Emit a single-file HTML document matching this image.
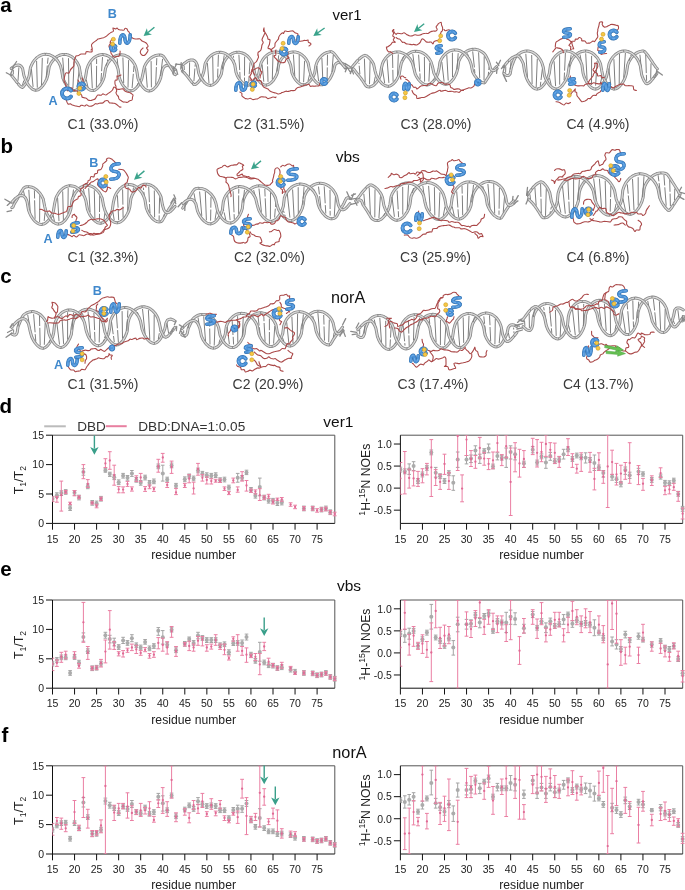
<!DOCTYPE html>
<html><head><meta charset="utf-8"><style>
html,body{margin:0;padding:0;background:#fff;width:685px;height:890px;overflow:hidden}
svg{display:block;font-family:"Liberation Sans", sans-serif;will-change:transform}
</style></head><body>
<svg width="685" height="890" viewBox="0 0 685 890">
<path d="M35.9 90.2 L36.9 90.1 L37.9 89.8 L38.9 89.3 L39.9 88.6 L41.0 87.7 L42.0 86.6 L43.1 85.2 L44.3 83.6 L45.4 81.6 L46.7 79.0 L47.9 74.9 L49.2 66.9 L50.5 64.0 L51.9 61.8 L53.3 60.0 L54.7 58.5 L56.1 57.3 L57.6 56.3 L59.1 55.5 L60.5 55.0 L62.1 54.6 L63.6 54.4" stroke="#888888" stroke-width="3.0" fill="none" stroke-linejoin="round" stroke-linecap="round"/>
<path d="M35.9 90.2 L36.9 90.1 L37.9 89.8 L38.9 89.3 L39.9 88.6 L41.0 87.7 L42.0 86.6 L43.1 85.2 L44.3 83.6 L45.4 81.6 L46.7 79.0 L47.9 74.9 L49.2 66.9 L50.5 64.0 L51.9 61.8 L53.3 60.0 L54.7 58.5 L56.1 57.3 L57.6 56.3 L59.1 55.5 L60.5 55.0 L62.1 54.6 L63.6 54.4" stroke="#dadada" stroke-width="1.3" fill="none" stroke-linejoin="round" stroke-linecap="round"/>
<path d="M93.3 90.5 L94.3 90.3 L95.3 89.8 L96.3 89.2 L97.4 88.3 L98.4 87.3 L99.5 86.0 L100.6 84.5 L101.8 82.6 L103.0 80.2 L104.2 76.8 L105.5 68.5 L106.9 65.1 L108.2 62.7 L109.6 60.8 L111.0 59.3 L112.4 58.0 L113.9 57.0 L115.3 56.1 L116.8 55.5 L118.3 55.1 L119.8 54.8" stroke="#888888" stroke-width="3.0" fill="none" stroke-linejoin="round" stroke-linecap="round"/>
<path d="M93.3 90.5 L94.3 90.3 L95.3 89.8 L96.3 89.2 L97.4 88.3 L98.4 87.3 L99.5 86.0 L100.6 84.5 L101.8 82.6 L103.0 80.2 L104.2 76.8 L105.5 68.5 L106.9 65.1 L108.2 62.7 L109.6 60.8 L111.0 59.3 L112.4 58.0 L113.9 57.0 L115.3 56.1 L116.8 55.5 L118.3 55.1 L119.8 54.8" stroke="#dadada" stroke-width="1.3" fill="none" stroke-linejoin="round" stroke-linecap="round"/>
<path d="M149.7 90.9 L150.7 90.7 L151.7 90.4 L152.7 89.8 L153.7 89.0 L154.8 88.0 L155.9 86.8 L157.0 85.3 L158.2 83.5 L159.3 81.3 L160.6 78.2 L162.1 70.7 L163.5 67.5 L165.0 66.1 L166.4 65.5 L167.9 65.5 L169.3 65.8 L170.8 66.4 L172.2 67.3 L173.6 68.4 L174.9 69.6" stroke="#888888" stroke-width="3.0" fill="none" stroke-linejoin="round" stroke-linecap="round"/>
<path d="M149.7 90.9 L150.7 90.7 L151.7 90.4 L152.7 89.8 L153.7 89.0 L154.8 88.0 L155.9 86.8 L157.0 85.3 L158.2 83.5 L159.3 81.3 L160.6 78.2 L162.1 70.7 L163.5 67.5 L165.0 66.1 L166.4 65.5 L167.9 65.5 L169.3 65.8 L170.8 66.4 L172.2 67.3 L173.6 68.4 L174.9 69.6" stroke="#dadada" stroke-width="1.3" fill="none" stroke-linejoin="round" stroke-linecap="round"/>
<path d="M18.3 84.0 L19.3 85.2 L20.3 86.2 L21.3 86.9 L22.3 87.4 L23.3 86.7 L24.4 85.4 L25.5 83.8 L26.7 81.9 L27.9 79.5 L29.1 76.0 L30.4 67.7 L31.8 64.4 L33.1 62.1 L34.5 60.2 L35.9 58.7 L37.3 57.4 L38.7 56.4 L40.2 55.6 L41.7 54.9 L43.2 54.5 L44.7 54.3" stroke="#888888" stroke-width="3.0" fill="none" stroke-linejoin="round" stroke-linecap="round"/>
<path d="M18.3 84.0 L19.3 85.2 L20.3 86.2 L21.3 86.9 L22.3 87.4 L23.3 86.7 L24.4 85.4 L25.5 83.8 L26.7 81.9 L27.9 79.5 L29.1 76.0 L30.4 67.7 L31.8 64.4 L33.1 62.1 L34.5 60.2 L35.9 58.7 L37.3 57.4 L38.7 56.4 L40.2 55.6 L41.7 54.9 L43.2 54.5 L44.7 54.3" stroke="#dadada" stroke-width="1.3" fill="none" stroke-linejoin="round" stroke-linecap="round"/>
<path d="M74.6 90.4 L75.6 90.2 L76.6 89.8 L77.6 89.2 L78.6 88.4 L79.7 87.4 L80.8 86.2 L81.9 84.7 L83.0 82.9 L84.2 80.7 L85.5 77.6 L86.8 69.5 L88.1 65.6 L89.4 63.1 L90.8 61.1 L92.2 59.5 L93.6 58.1 L95.0 57.0 L96.5 56.2 L98.0 55.5 L99.5 55.0 L101.0 54.7 L102.5 54.6" stroke="#888888" stroke-width="3.0" fill="none" stroke-linejoin="round" stroke-linecap="round"/>
<path d="M74.6 90.4 L75.6 90.2 L76.6 89.8 L77.6 89.2 L78.6 88.4 L79.7 87.4 L80.8 86.2 L81.9 84.7 L83.0 82.9 L84.2 80.7 L85.5 77.6 L86.8 69.5 L88.1 65.6 L89.4 63.1 L90.8 61.1 L92.2 59.5 L93.6 58.1 L95.0 57.0 L96.5 56.2 L98.0 55.5 L99.5 55.0 L101.0 54.7 L102.5 54.6" stroke="#dadada" stroke-width="1.3" fill="none" stroke-linejoin="round" stroke-linecap="round"/>
<path d="M131.0 90.8 L132.0 90.7 L133.0 90.3 L134.0 89.8 L135.0 89.1 L136.1 88.1 L137.1 87.0 L138.3 85.5 L139.4 83.8 L140.6 81.7 L141.8 79.0 L143.1 73.1 L144.4 66.9 L145.7 64.1 L147.1 62.0 L148.4 60.3 L149.9 58.9 L151.3 57.7 L152.8 56.8 L154.2 56.1 L155.7 55.5 L157.3 55.2 L158.8 55.0" stroke="#888888" stroke-width="3.0" fill="none" stroke-linejoin="round" stroke-linecap="round"/>
<path d="M131.0 90.8 L132.0 90.7 L133.0 90.3 L134.0 89.8 L135.0 89.1 L136.1 88.1 L137.1 87.0 L138.3 85.5 L139.4 83.8 L140.6 81.7 L141.8 79.0 L143.1 73.1 L144.4 66.9 L145.7 64.1 L147.1 62.0 L148.4 60.3 L149.9 58.9 L151.3 57.7 L152.8 56.8 L154.2 56.1 L155.7 55.5 L157.3 55.2 L158.8 55.0" stroke="#dadada" stroke-width="1.3" fill="none" stroke-linejoin="round" stroke-linecap="round"/>
<path d="M13.3 69.9L13.3 74.5M18.9 67.3L18.0 80.8M23.8 80.5L22.5 85.0M33.1 86.9L31.4 69.1M37.3 87.7L36.6 61.0M41.5 85.1L42.3 57.9M46.2 77.6L47.3 65.5M47.5 63.7L48.1 57.7M52.6 60.3L52.8 59.8M57.4 58.7L58.7 61.9M62.7 57.7L64.2 78.5M68.5 58.2L68.8 85.7M74.1 61.5L72.9 88.5M79.2 70.2L77.2 86.7M88.0 87.2L86.2 79.4M92.3 88.4L91.1 63.1M96.4 87.0L96.6 65.8M96.6 64.0L96.6 58.7M100.9 81.3L101.5 73.0M101.6 71.2L102.5 57.1M106.2 65.7L107.0 62.8M107.4 61.1L107.8 59.3M117.1 58.3L119.0 74.9M122.9 57.5L123.7 83.1M128.6 60.1L128.0 87.6M134.0 65.9L133.5 72.0M133.3 73.8L132.1 88.0M138.2 83.0L137.0 85.7M142.3 85.7L141.3 83.8M147.3 87.6L145.7 67.7M151.4 87.3L151.1 61.1M155.7 84.7L156.4 67.1M156.5 65.3L156.8 58.1M160.6 76.1L162.6 58.9" stroke="#7e7e7e" stroke-width="1.0" fill="none"/>
<path d="M11.2 68.5 L12.5 67.4 L14.0 66.4 L15.4 65.6 L16.8 65.2 L18.3 65.0 L19.7 65.3 L21.2 66.3 L22.6 68.4 L23.9 75.5 L25.3 79.3 L26.5 81.9 L27.6 83.8 L28.7 85.4 L29.8 86.7 L30.9 87.8 L31.9 88.7 L32.9 89.4 L33.9 89.8 L34.9 90.1" stroke="#888888" stroke-width="3.0" fill="none" stroke-linejoin="round" stroke-linecap="round"/>
<path d="M11.2 68.5 L12.5 67.4 L14.0 66.4 L15.4 65.6 L16.8 65.2 L18.3 65.0 L19.7 65.3 L21.2 66.3 L22.6 68.4 L23.9 75.5 L25.3 79.3 L26.5 81.9 L27.6 83.8 L28.7 85.4 L29.8 86.7 L30.9 87.8 L31.9 88.7 L32.9 89.4 L33.9 89.8 L34.9 90.1" stroke="#dadada" stroke-width="1.3" fill="none" stroke-linejoin="round" stroke-linecap="round"/>
<path d="M65.1 54.4 L66.6 54.6 L68.1 55.0 L69.6 55.6 L71.0 56.3 L72.5 57.3 L73.9 58.6 L75.3 60.0 L76.7 61.8 L78.0 64.0 L79.3 66.9 L80.5 74.6 L81.7 79.0 L82.8 81.7 L84.0 83.7 L85.1 85.4 L86.2 86.8 L87.2 87.9 L88.3 88.9 L89.3 89.6 L90.3 90.1 L91.3 90.4 L92.3 90.6" stroke="#888888" stroke-width="3.0" fill="none" stroke-linejoin="round" stroke-linecap="round"/>
<path d="M65.1 54.4 L66.6 54.6 L68.1 55.0 L69.6 55.6 L71.0 56.3 L72.5 57.3 L73.9 58.6 L75.3 60.0 L76.7 61.8 L78.0 64.0 L79.3 66.9 L80.5 74.6 L81.7 79.0 L82.8 81.7 L84.0 83.7 L85.1 85.4 L86.2 86.8 L87.2 87.9 L88.3 88.9 L89.3 89.6 L90.3 90.1 L91.3 90.4 L92.3 90.6" stroke="#dadada" stroke-width="1.3" fill="none" stroke-linejoin="round" stroke-linecap="round"/>
<path d="M121.3 54.8 L122.9 54.9 L124.4 55.2 L125.8 55.8 L127.3 56.5 L128.8 57.4 L130.2 58.6 L131.6 60.0 L133.0 61.7 L134.3 63.7 L135.6 66.4 L136.8 70.9 L138.0 78.5 L139.2 81.4 L140.4 83.6 L141.5 85.4 L142.6 86.8 L143.6 88.0 L144.7 89.0 L145.7 89.8 L146.7 90.4 L147.7 90.8 L148.7 90.9" stroke="#888888" stroke-width="3.0" fill="none" stroke-linejoin="round" stroke-linecap="round"/>
<path d="M121.3 54.8 L122.9 54.9 L124.4 55.2 L125.8 55.8 L127.3 56.5 L128.8 57.4 L130.2 58.6 L131.6 60.0 L133.0 61.7 L134.3 63.7 L135.6 66.4 L136.8 70.9 L138.0 78.5 L139.2 81.4 L140.4 83.6 L141.5 85.4 L142.6 86.8 L143.6 88.0 L144.7 89.0 L145.7 89.8 L146.7 90.4 L147.7 90.8 L148.7 90.9" stroke="#dadada" stroke-width="1.3" fill="none" stroke-linejoin="round" stroke-linecap="round"/>
<path d="M11.2 75.1 L12.5 76.6 L13.7 78.1 L14.9 79.6 L16.1 81.2 L17.2 82.6" stroke="#888888" stroke-width="3.0" fill="none" stroke-linejoin="round" stroke-linecap="round"/>
<path d="M11.2 75.1 L12.5 76.6 L13.7 78.1 L14.9 79.6 L16.1 81.2 L17.2 82.6" stroke="#dadada" stroke-width="1.3" fill="none" stroke-linejoin="round" stroke-linecap="round"/>
<path d="M46.2 54.3 L47.8 54.4 L49.3 54.7 L50.7 55.3 L52.2 56.0 L53.7 57.0 L55.1 58.1 L56.5 59.5 L57.9 61.2 L59.2 63.3 L60.5 66.0 L61.7 70.8 L62.9 78.2 L64.1 81.0 L65.2 83.2 L66.4 84.9 L67.4 86.4 L68.5 87.6 L69.6 88.5 L70.6 89.3 L71.6 89.9 L72.6 90.2 L73.6 90.4" stroke="#888888" stroke-width="3.0" fill="none" stroke-linejoin="round" stroke-linecap="round"/>
<path d="M46.2 54.3 L47.8 54.4 L49.3 54.7 L50.7 55.3 L52.2 56.0 L53.7 57.0 L55.1 58.1 L56.5 59.5 L57.9 61.2 L59.2 63.3 L60.5 66.0 L61.7 70.8 L62.9 78.2 L64.1 81.0 L65.2 83.2 L66.4 84.9 L67.4 86.4 L68.5 87.6 L69.6 88.5 L70.6 89.3 L71.6 89.9 L72.6 90.2 L73.6 90.4" stroke="#dadada" stroke-width="1.3" fill="none" stroke-linejoin="round" stroke-linecap="round"/>
<path d="M104.0 54.7 L105.5 55.0 L107.0 55.5 L108.5 56.2 L110.0 57.1 L111.4 58.2 L112.8 59.5 L114.2 61.1 L115.5 63.1 L116.8 65.6 L118.1 69.3 L119.3 77.5 L120.4 80.7 L121.6 83.0 L122.7 84.9 L123.8 86.4 L124.9 87.6 L125.9 88.7 L127.0 89.5 L128.0 90.1 L129.0 90.6 L130.0 90.8" stroke="#888888" stroke-width="3.0" fill="none" stroke-linejoin="round" stroke-linecap="round"/>
<path d="M104.0 54.7 L105.5 55.0 L107.0 55.5 L108.5 56.2 L110.0 57.1 L111.4 58.2 L112.8 59.5 L114.2 61.1 L115.5 63.1 L116.8 65.6 L118.1 69.3 L119.3 77.5 L120.4 80.7 L121.6 83.0 L122.7 84.9 L123.8 86.4 L124.9 87.6 L125.9 88.7 L127.0 89.5 L128.0 90.1 L129.0 90.6 L130.0 90.8" stroke="#dadada" stroke-width="1.3" fill="none" stroke-linejoin="round" stroke-linecap="round"/>
<path d="M160.3 55.1 L161.8 55.3 L163.3 56.2 L164.7 58.1 L166.0 60.1 L167.3 62.1 L168.5 64.1 L169.8 66.0 L170.9 67.9 L172.1 69.7 L173.2 71.4 L174.3 74.1 L175.4 74.6" stroke="#888888" stroke-width="3.0" fill="none" stroke-linejoin="round" stroke-linecap="round"/>
<path d="M160.3 55.1 L161.8 55.3 L163.3 56.2 L164.7 58.1 L166.0 60.1 L167.3 62.1 L168.5 64.1 L169.8 66.0 L170.9 67.9 L172.1 69.7 L173.2 71.4 L174.3 74.1 L175.4 74.6" stroke="#dadada" stroke-width="1.3" fill="none" stroke-linejoin="round" stroke-linecap="round"/>
<path d="M10.8 73.6l2.5 -5.8M12.2 67.8l4.4 -6.3M11.5 75.5l-5.2 -2.8M173.5 70.3l3.0 -6.3M176.3 69.2l1.4 5.1M173.2 73.9l0.1 -6.8" stroke="#8a8a8a" stroke-width="1.3" fill="none" stroke-linecap="round"/>
<path d="M210.6 85.3 L211.6 85.2 L212.6 84.8 L213.6 84.3 L214.7 83.6 L215.7 82.7 L216.8 81.6 L217.9 80.2 L219.0 78.5 L220.2 76.5 L221.4 73.8 L222.6 66.5 L223.8 62.6 L225.1 60.2 L226.4 58.3 L227.8 56.8 L229.2 55.6 L230.6 54.5 L232.0 53.7 L233.5 53.0 L234.9 52.6 L236.4 52.3" stroke="#888888" stroke-width="3.0" fill="none" stroke-linejoin="round" stroke-linecap="round"/>
<path d="M210.6 85.3 L211.6 85.2 L212.6 84.8 L213.6 84.3 L214.7 83.6 L215.7 82.7 L216.8 81.6 L217.9 80.2 L219.0 78.5 L220.2 76.5 L221.4 73.8 L222.6 66.5 L223.8 62.6 L225.1 60.2 L226.4 58.3 L227.8 56.8 L229.2 55.6 L230.6 54.5 L232.0 53.7 L233.5 53.0 L234.9 52.6 L236.4 52.3" stroke="#dadada" stroke-width="1.3" fill="none" stroke-linejoin="round" stroke-linecap="round"/>
<path d="M266.5 85.0 L267.5 84.8 L268.6 84.4 L269.6 83.9 L270.6 83.1 L271.7 82.1 L272.8 81.0 L273.9 79.5 L275.0 77.8 L276.2 75.6 L277.4 72.6 L278.6 64.9 L279.8 61.7 L281.1 59.4 L282.4 57.7 L283.8 56.2 L285.2 55.0 L286.6 54.0 L288.1 53.2 L289.5 52.6 L291.0 52.2 L292.5 52.0" stroke="#888888" stroke-width="3.0" fill="none" stroke-linejoin="round" stroke-linecap="round"/>
<path d="M266.5 85.0 L267.5 84.8 L268.6 84.4 L269.6 83.9 L270.6 83.1 L271.7 82.1 L272.8 81.0 L273.9 79.5 L275.0 77.8 L276.2 75.6 L277.4 72.6 L278.6 64.9 L279.8 61.7 L281.1 59.4 L282.4 57.7 L283.8 56.2 L285.2 55.0 L286.6 54.0 L288.1 53.2 L289.5 52.6 L291.0 52.2 L292.5 52.0" stroke="#dadada" stroke-width="1.3" fill="none" stroke-linejoin="round" stroke-linecap="round"/>
<path d="M322.5 84.7 L323.5 84.4 L324.5 84.0 L325.5 83.4 L326.6 82.6 L327.6 81.6 L328.7 80.3 L329.8 78.9 L331.0 76.8 L332.3 74.0 L333.7 70.7 L335.0 64.9 L336.4 63.3 L337.8 62.6 L339.2 62.5 L340.6 62.7 L342.1 63.3 L343.4 64.1 L344.8 65.1" stroke="#888888" stroke-width="3.0" fill="none" stroke-linejoin="round" stroke-linecap="round"/>
<path d="M322.5 84.7 L323.5 84.4 L324.5 84.0 L325.5 83.4 L326.6 82.6 L327.6 81.6 L328.7 80.3 L329.8 78.9 L331.0 76.8 L332.3 74.0 L333.7 70.7 L335.0 64.9 L336.4 63.3 L337.8 62.6 L339.2 62.5 L340.6 62.7 L342.1 63.3 L343.4 64.1 L344.8 65.1" stroke="#dadada" stroke-width="1.3" fill="none" stroke-linejoin="round" stroke-linecap="round"/>
<path d="M193.1 83.6 L194.1 84.6 L195.1 84.6 L196.1 84.0 L197.1 83.2 L198.2 82.1 L199.3 80.9 L200.4 79.3 L201.6 77.5 L202.7 75.1 L203.9 71.2 L205.1 63.9 L206.4 61.2 L207.7 59.1 L209.1 57.5 L210.4 56.1 L211.8 55.0 L213.3 54.1 L214.7 53.4 L216.2 52.8 L217.7 52.5 L219.1 52.3" stroke="#888888" stroke-width="3.0" fill="none" stroke-linejoin="round" stroke-linecap="round"/>
<path d="M193.1 83.6 L194.1 84.6 L195.1 84.6 L196.1 84.0 L197.1 83.2 L198.2 82.1 L199.3 80.9 L200.4 79.3 L201.6 77.5 L202.7 75.1 L203.9 71.2 L205.1 63.9 L206.4 61.2 L207.7 59.1 L209.1 57.5 L210.4 56.1 L211.8 55.0 L213.3 54.1 L214.7 53.4 L216.2 52.8 L217.7 52.5 L219.1 52.3" stroke="#dadada" stroke-width="1.3" fill="none" stroke-linejoin="round" stroke-linecap="round"/>
<path d="M248.0 85.2 L249.0 85.0 L250.0 84.7 L251.0 84.2 L252.0 83.5 L253.1 82.6 L254.2 81.5 L255.3 80.2 L256.4 78.6 L257.5 76.7 L258.7 74.1 L259.9 67.6 L261.1 62.9 L262.4 60.3 L263.7 58.4 L265.1 56.8 L266.5 55.5 L267.9 54.5 L269.3 53.6 L270.8 52.9 L272.2 52.4 L273.7 52.1 L275.2 52.0" stroke="#888888" stroke-width="3.0" fill="none" stroke-linejoin="round" stroke-linecap="round"/>
<path d="M248.0 85.2 L249.0 85.0 L250.0 84.7 L251.0 84.2 L252.0 83.5 L253.1 82.6 L254.2 81.5 L255.3 80.2 L256.4 78.6 L257.5 76.7 L258.7 74.1 L259.9 67.6 L261.1 62.9 L262.4 60.3 L263.7 58.4 L265.1 56.8 L266.5 55.5 L267.9 54.5 L269.3 53.6 L270.8 52.9 L272.2 52.4 L273.7 52.1 L275.2 52.0" stroke="#dadada" stroke-width="1.3" fill="none" stroke-linejoin="round" stroke-linecap="round"/>
<path d="M303.9 84.8 L304.9 84.7 L305.9 84.3 L306.9 83.8 L308.0 83.0 L309.0 82.1 L310.1 81.0 L311.2 79.6 L312.3 77.9 L313.5 75.8 L314.7 73.0 L315.9 65.5 L317.1 61.9 L318.4 59.6 L319.8 57.7 L321.1 56.2 L322.5 55.0 L323.9 53.9 L325.4 53.1 L326.8 52.5 L328.3 52.1 L329.8 51.8" stroke="#888888" stroke-width="3.0" fill="none" stroke-linejoin="round" stroke-linecap="round"/>
<path d="M303.9 84.8 L304.9 84.7 L305.9 84.3 L306.9 83.8 L308.0 83.0 L309.0 82.1 L310.1 81.0 L311.2 79.6 L312.3 77.9 L313.5 75.8 L314.7 73.0 L315.9 65.5 L317.1 61.9 L318.4 59.6 L319.8 57.7 L321.1 56.2 L322.5 55.0 L323.9 53.9 L325.4 53.1 L326.8 52.5 L328.3 52.1 L329.8 51.8" stroke="#dadada" stroke-width="1.3" fill="none" stroke-linejoin="round" stroke-linecap="round"/>
<path d="M184.1 65.7L184.3 70.0M189.6 62.4L189.4 76.5M195.2 64.4L195.1 66.7M194.9 68.5L193.9 81.2M199.1 80.1L198.9 80.4M204.4 81.4L203.2 78.4M209.0 83.1L207.4 63.1M213.2 82.7L212.7 56.3M217.6 77.6L217.9 68.6M218.0 66.8L218.4 54.7M222.3 69.5L224.2 55.3M233.3 55.8L233.6 57.7M233.9 59.5L235.1 66.0M238.9 54.7L239.7 70.1M239.8 71.9L240.1 78.1M244.6 56.7L244.5 75.7M244.5 77.5L244.5 81.5M250.0 62.3L249.2 74.1M249.1 75.9L248.7 83.1M254.4 77.9L253.7 80.0M258.2 79.4L258.8 80.4M257.8 78.9L258.6 79.9M263.8 81.7L262.1 64.5M268.0 81.9L267.6 66.3M267.5 64.5L267.3 56.8M272.3 79.1L273.0 54.3M277.1 71.4L278.7 55.3M288.0 55.9L289.4 61.0M293.4 54.5L294.8 76.4M299.2 55.0L299.3 81.6M304.6 60.8L303.6 82.2M309.6 74.4L308.0 80.9M318.6 81.2L316.8 66.0M322.9 82.4L321.9 58.1M327.1 79.5L327.3 67.4M327.3 65.6L327.5 54.7M331.9 72.2L333.3 54.8" stroke="#7e7e7e" stroke-width="1.0" fill="none"/>
<path d="M183.3 64.4 L184.6 63.2 L186.0 62.2 L187.4 61.2 L188.8 60.5 L190.2 60.1 L191.7 59.9 L193.2 60.1 L194.6 60.9 L196.0 62.3 L197.4 65.4 L198.7 73.0 L199.9 76.1 L201.1 78.2 L202.2 79.9 L203.4 81.3 L204.4 82.5 L205.5 83.4 L206.6 84.2 L207.6 84.8 L208.6 85.1 L209.6 85.3" stroke="#888888" stroke-width="3.0" fill="none" stroke-linejoin="round" stroke-linecap="round"/>
<path d="M183.3 64.4 L184.6 63.2 L186.0 62.2 L187.4 61.2 L188.8 60.5 L190.2 60.1 L191.7 59.9 L193.2 60.1 L194.6 60.9 L196.0 62.3 L197.4 65.4 L198.7 73.0 L199.9 76.1 L201.1 78.2 L202.2 79.9 L203.4 81.3 L204.4 82.5 L205.5 83.4 L206.6 84.2 L207.6 84.8 L208.6 85.1 L209.6 85.3" stroke="#dadada" stroke-width="1.3" fill="none" stroke-linejoin="round" stroke-linecap="round"/>
<path d="M237.9 52.2 L239.4 52.3 L240.9 52.6 L242.3 53.0 L243.8 53.6 L245.3 54.4 L246.7 55.5 L248.1 56.7 L249.4 58.2 L250.8 60.1 L252.1 62.5 L253.4 66.4 L254.7 73.6 L255.9 76.3 L257.1 78.4 L258.2 80.0 L259.3 81.3 L260.4 82.5 L261.5 83.4 L262.5 84.1 L263.5 84.6 L264.5 84.9 L265.5 85.1" stroke="#888888" stroke-width="3.0" fill="none" stroke-linejoin="round" stroke-linecap="round"/>
<path d="M237.9 52.2 L239.4 52.3 L240.9 52.6 L242.3 53.0 L243.8 53.6 L245.3 54.4 L246.7 55.5 L248.1 56.7 L249.4 58.2 L250.8 60.1 L252.1 62.5 L253.4 66.4 L254.7 73.6 L255.9 76.3 L257.1 78.4 L258.2 80.0 L259.3 81.3 L260.4 82.5 L261.5 83.4 L262.5 84.1 L263.5 84.6 L264.5 84.9 L265.5 85.1" stroke="#dadada" stroke-width="1.3" fill="none" stroke-linejoin="round" stroke-linecap="round"/>
<path d="M294.0 51.9 L295.4 52.0 L296.9 52.4 L298.4 52.8 L299.9 53.5 L301.3 54.4 L302.7 55.5 L304.1 56.8 L305.5 58.4 L306.8 60.3 L308.1 62.9 L309.4 69.5 L310.7 74.1 L311.9 76.6 L313.0 78.5 L314.2 80.1 L315.3 81.3 L316.3 82.4 L317.4 83.2 L318.4 83.9 L319.5 84.4 L320.5 84.7 L321.5 84.8" stroke="#888888" stroke-width="3.0" fill="none" stroke-linejoin="round" stroke-linecap="round"/>
<path d="M294.0 51.9 L295.4 52.0 L296.9 52.4 L298.4 52.8 L299.9 53.5 L301.3 54.4 L302.7 55.5 L304.1 56.8 L305.5 58.4 L306.8 60.3 L308.1 62.9 L309.4 69.5 L310.7 74.1 L311.9 76.6 L313.0 78.5 L314.2 80.1 L315.3 81.3 L316.3 82.4 L317.4 83.2 L318.4 83.9 L319.5 84.4 L320.5 84.7 L321.5 84.8" stroke="#dadada" stroke-width="1.3" fill="none" stroke-linejoin="round" stroke-linecap="round"/>
<path d="M182.3 71.1 L183.7 72.3 L185.0 73.6 L186.2 75.1 L187.5 76.6 L188.7 78.1 L189.8 79.6 L191.0 81.1 L192.0 82.4" stroke="#888888" stroke-width="3.0" fill="none" stroke-linejoin="round" stroke-linecap="round"/>
<path d="M182.3 71.1 L183.7 72.3 L185.0 73.6 L186.2 75.1 L187.5 76.6 L188.7 78.1 L189.8 79.6 L191.0 81.1 L192.0 82.4" stroke="#dadada" stroke-width="1.3" fill="none" stroke-linejoin="round" stroke-linecap="round"/>
<path d="M220.6 52.3 L222.1 52.5 L223.6 52.9 L225.1 53.4 L226.5 54.2 L227.9 55.1 L229.4 56.3 L230.7 57.7 L232.1 59.4 L233.4 61.6 L234.7 64.6 L236.0 72.2 L237.2 75.5 L238.4 77.7 L239.6 79.5 L240.7 80.9 L241.8 82.1 L242.9 83.1 L243.9 83.9 L244.9 84.5 L246.0 84.9 L247.0 85.1" stroke="#888888" stroke-width="3.0" fill="none" stroke-linejoin="round" stroke-linecap="round"/>
<path d="M220.6 52.3 L222.1 52.5 L223.6 52.9 L225.1 53.4 L226.5 54.2 L227.9 55.1 L229.4 56.3 L230.7 57.7 L232.1 59.4 L233.4 61.6 L234.7 64.6 L236.0 72.2 L237.2 75.5 L238.4 77.7 L239.6 79.5 L240.7 80.9 L241.8 82.1 L242.9 83.1 L243.9 83.9 L244.9 84.5 L246.0 84.9 L247.0 85.1" stroke="#dadada" stroke-width="1.3" fill="none" stroke-linejoin="round" stroke-linecap="round"/>
<path d="M276.7 52.1 L278.2 52.3 L279.6 52.7 L281.1 53.3 L282.6 54.1 L284.0 55.1 L285.4 56.3 L286.8 57.8 L288.1 59.6 L289.4 61.9 L290.7 65.3 L292.0 72.9 L293.2 75.8 L294.4 77.9 L295.5 79.6 L296.7 81.0 L297.8 82.1 L298.8 83.0 L299.9 83.8 L300.9 84.3 L301.9 84.7 L302.9 84.8" stroke="#888888" stroke-width="3.0" fill="none" stroke-linejoin="round" stroke-linecap="round"/>
<path d="M276.7 52.1 L278.2 52.3 L279.6 52.7 L281.1 53.3 L282.6 54.1 L284.0 55.1 L285.4 56.3 L286.8 57.8 L288.1 59.6 L289.4 61.9 L290.7 65.3 L292.0 72.9 L293.2 75.8 L294.4 77.9 L295.5 79.6 L296.7 81.0 L297.8 82.1 L298.8 83.0 L299.9 83.8 L300.9 84.3 L301.9 84.7 L302.9 84.8" stroke="#dadada" stroke-width="1.3" fill="none" stroke-linejoin="round" stroke-linecap="round"/>
<path d="M331.2 51.7 L332.7 52.3 L334.2 53.8 L335.6 55.4 L336.9 57.1 L338.2 58.8 L339.5 60.5 L340.7 62.2 L341.9 63.7 L343.1 65.2 L344.2 66.5 L345.3 67.8" stroke="#888888" stroke-width="3.0" fill="none" stroke-linejoin="round" stroke-linecap="round"/>
<path d="M331.2 51.7 L332.7 52.3 L334.2 53.8 L335.6 55.4 L336.9 57.1 L338.2 58.8 L339.5 60.5 L340.7 62.2 L341.9 63.7 L343.1 65.2 L344.2 66.5 L345.3 67.8" stroke="#dadada" stroke-width="1.3" fill="none" stroke-linejoin="round" stroke-linecap="round"/>
<path d="M183.0 72.1l-1.2 -7.4M181.7 64.6l-6.2 -0.5M180.8 69.0l0.4 -6.3M344.4 68.5l5.4 -0.4M344.8 63.4l5.5 3.3M345.3 71.8l1.8 -4.4" stroke="#8a8a8a" stroke-width="1.3" fill="none" stroke-linecap="round"/>
<path d="M351.7 67.6 L352.8 66.2 L354.0 64.8 L355.3 63.3 L356.5 61.8 L357.8 60.3" stroke="#888888" stroke-width="3.0" fill="none" stroke-linejoin="round" stroke-linecap="round"/>
<path d="M351.7 67.6 L352.8 66.2 L354.0 64.8 L355.3 63.3 L356.5 61.8 L357.8 60.3" stroke="#dadada" stroke-width="1.3" fill="none" stroke-linejoin="round" stroke-linecap="round"/>
<path d="M388.7 86.2 L389.7 86.0 L390.7 85.6 L391.7 85.0 L392.7 84.3 L393.8 83.3 L394.8 82.2 L395.9 80.8 L396.9 79.2 L398.0 77.1 L399.2 74.5 L400.2 68.4 L401.3 63.1 L402.5 60.5 L403.7 58.4 L405.0 56.8 L406.4 55.4 L407.8 54.2 L409.2 53.3 L410.6 52.5 L412.0 51.9 L413.5 51.5 L415.0 51.3" stroke="#888888" stroke-width="3.0" fill="none" stroke-linejoin="round" stroke-linecap="round"/>
<path d="M388.7 86.2 L389.7 86.0 L390.7 85.6 L391.7 85.0 L392.7 84.3 L393.8 83.3 L394.8 82.2 L395.9 80.8 L396.9 79.2 L398.0 77.1 L399.2 74.5 L400.2 68.4 L401.3 63.1 L402.5 60.5 L403.7 58.4 L405.0 56.8 L406.4 55.4 L407.8 54.2 L409.2 53.3 L410.6 52.5 L412.0 51.9 L413.5 51.5 L415.0 51.3" stroke="#dadada" stroke-width="1.3" fill="none" stroke-linejoin="round" stroke-linecap="round"/>
<path d="M446.2 84.2 L447.2 84.0 L448.2 83.7 L449.2 83.1 L450.2 82.4 L451.3 81.5 L452.3 80.3 L453.4 79.0 L454.4 77.4 L455.5 75.4 L456.6 72.9 L457.7 68.7 L458.7 61.5 L459.9 58.8 L461.2 56.7 L462.5 55.0 L463.8 53.6 L465.2 52.4 L466.6 51.4 L468.0 50.6 L469.5 50.0 L470.9 49.6 L472.4 49.3" stroke="#888888" stroke-width="3.0" fill="none" stroke-linejoin="round" stroke-linecap="round"/>
<path d="M446.2 84.2 L447.2 84.0 L448.2 83.7 L449.2 83.1 L450.2 82.4 L451.3 81.5 L452.3 80.3 L453.4 79.0 L454.4 77.4 L455.5 75.4 L456.6 72.9 L457.7 68.7 L458.7 61.5 L459.9 58.8 L461.2 56.7 L462.5 55.0 L463.8 53.6 L465.2 52.4 L466.6 51.4 L468.0 50.6 L469.5 50.0 L470.9 49.6 L472.4 49.3" stroke="#dadada" stroke-width="1.3" fill="none" stroke-linejoin="round" stroke-linecap="round"/>
<path d="M369.9 86.9 L370.9 86.6 L371.9 86.2 L373.0 85.6 L374.0 84.9 L375.0 83.9 L376.1 82.8 L377.1 81.4 L378.2 79.7 L379.3 77.7 L380.4 75.0 L381.4 68.2 L382.5 63.6 L383.7 61.0 L385.0 59.0 L386.3 57.4 L387.6 56.0 L389.0 54.8 L390.4 53.9 L391.9 53.2 L393.3 52.6 L394.8 52.2 L396.3 52.0" stroke="#888888" stroke-width="3.0" fill="none" stroke-linejoin="round" stroke-linecap="round"/>
<path d="M369.9 86.9 L370.9 86.6 L371.9 86.2 L373.0 85.6 L374.0 84.9 L375.0 83.9 L376.1 82.8 L377.1 81.4 L378.2 79.7 L379.3 77.7 L380.4 75.0 L381.4 68.2 L382.5 63.6 L383.7 61.0 L385.0 59.0 L386.3 57.4 L387.6 56.0 L389.0 54.8 L390.4 53.9 L391.9 53.2 L393.3 52.6 L394.8 52.2 L396.3 52.0" stroke="#dadada" stroke-width="1.3" fill="none" stroke-linejoin="round" stroke-linecap="round"/>
<path d="M427.4 84.9 L428.4 84.7 L429.4 84.3 L430.5 83.7 L431.5 83.0 L432.5 82.1 L433.5 80.9 L434.6 79.6 L435.7 78.0 L436.8 76.0 L437.9 73.4 L439.0 68.9 L440.0 62.0 L441.2 59.3 L442.5 57.2 L443.8 55.6 L445.1 54.2 L446.5 53.0 L447.9 52.0 L449.3 51.2 L450.7 50.6 L452.2 50.2 L453.7 50.0" stroke="#888888" stroke-width="3.0" fill="none" stroke-linejoin="round" stroke-linecap="round"/>
<path d="M427.4 84.9 L428.4 84.7 L429.4 84.3 L430.5 83.7 L431.5 83.0 L432.5 82.1 L433.5 80.9 L434.6 79.6 L435.7 78.0 L436.8 76.0 L437.9 73.4 L439.0 68.9 L440.0 62.0 L441.2 59.3 L442.5 57.2 L443.8 55.6 L445.1 54.2 L446.5 53.0 L447.9 52.0 L449.3 51.2 L450.7 50.6 L452.2 50.2 L453.7 50.0" stroke="#dadada" stroke-width="1.3" fill="none" stroke-linejoin="round" stroke-linecap="round"/>
<path d="M484.9 82.4 L485.9 80.9 L486.9 79.3 L488.0 77.7 L489.1 75.9 L490.3 74.2 L491.5 72.5 L492.7 70.8 L494.0 69.3 L495.3 67.9 L496.6 66.7" stroke="#888888" stroke-width="3.0" fill="none" stroke-linejoin="round" stroke-linecap="round"/>
<path d="M484.9 82.4 L485.9 80.9 L486.9 79.3 L488.0 77.7 L489.1 75.9 L490.3 74.2 L491.5 72.5 L492.7 70.8 L494.0 69.3 L495.3 67.9 L496.6 66.7" stroke="#dadada" stroke-width="1.3" fill="none" stroke-linejoin="round" stroke-linecap="round"/>
<path d="M358.9 62.8L359.0 63.9M359.2 65.7L359.9 74.2M364.4 58.6L365.2 81.9M370.1 61.2L369.5 84.2M375.3 76.5L373.9 83.3M384.7 83.2L382.3 68.3M388.9 82.9L387.1 59.3M393.1 81.7L392.8 69.8M392.8 68.0L392.5 54.7M397.5 76.1L398.3 54.3M402.5 59.5L402.1 60.7M402.6 59.0L403.5 56.3M412.8 54.1L415.3 72.9M418.6 54.7L419.7 71.6M419.9 73.4L420.2 78.8M424.4 56.9L424.6 81.6M429.8 62.9L428.9 81.6M434.1 79.2L434.2 78.9M433.4 80.5L434.2 78.9M438.9 79.3L438.1 77.7M444.1 81.6L441.8 62.0M448.2 80.5L446.8 55.1M452.5 77.0L452.4 52.7M457.0 69.4L458.2 53.2M467.4 53.4L469.1 58.3M472.7 51.4L474.4 67.4M474.5 69.2L474.9 73.1M478.6 52.3L479.7 77.9M484.2 56.3L484.0 80.3M489.1 66.6L488.8 70.0M488.6 71.8L488.2 75.4" stroke="#7e7e7e" stroke-width="1.0" fill="none"/>
<path d="M359.2 59.0 L360.6 57.8 L362.0 56.7 L363.5 55.9 L365.0 55.3 L366.5 55.8 L367.9 56.9 L369.4 58.2 L370.8 59.8 L372.2 61.7 L373.6 64.3 L375.1 71.1 L376.4 75.6 L377.7 78.0 L379.0 79.9 L380.2 81.5 L381.3 82.8 L382.4 83.8 L383.5 84.7 L384.6 85.3 L385.6 85.8 L386.7 86.1 L387.7 86.2" stroke="#888888" stroke-width="3.0" fill="none" stroke-linejoin="round" stroke-linecap="round"/>
<path d="M359.2 59.0 L360.6 57.8 L362.0 56.7 L363.5 55.9 L365.0 55.3 L366.5 55.8 L367.9 56.9 L369.4 58.2 L370.8 59.8 L372.2 61.7 L373.6 64.3 L375.1 71.1 L376.4 75.6 L377.7 78.0 L379.0 79.9 L380.2 81.5 L381.3 82.8 L382.4 83.8 L383.5 84.7 L384.6 85.3 L385.6 85.8 L386.7 86.1 L387.7 86.2" stroke="#dadada" stroke-width="1.3" fill="none" stroke-linejoin="round" stroke-linecap="round"/>
<path d="M416.5 51.3 L418.0 51.4 L419.5 51.7 L421.0 52.1 L422.4 52.8 L423.9 53.6 L425.4 54.7 L426.8 55.9 L428.2 57.5 L429.6 59.4 L431.0 61.9 L432.4 66.4 L433.9 73.1 L435.2 75.7 L436.4 77.7 L437.6 79.3 L438.8 80.6 L439.9 81.7 L441.0 82.5 L442.1 83.2 L443.1 83.7 L444.2 84.1 L445.2 84.2" stroke="#888888" stroke-width="3.0" fill="none" stroke-linejoin="round" stroke-linecap="round"/>
<path d="M416.5 51.3 L418.0 51.4 L419.5 51.7 L421.0 52.1 L422.4 52.8 L423.9 53.6 L425.4 54.7 L426.8 55.9 L428.2 57.5 L429.6 59.4 L431.0 61.9 L432.4 66.4 L433.9 73.1 L435.2 75.7 L436.4 77.7 L437.6 79.3 L438.8 80.6 L439.9 81.7 L441.0 82.5 L442.1 83.2 L443.1 83.7 L444.2 84.1 L445.2 84.2" stroke="#dadada" stroke-width="1.3" fill="none" stroke-linejoin="round" stroke-linecap="round"/>
<path d="M473.9 49.2 L475.4 49.3 L476.9 49.6 L478.4 50.0 L479.9 50.7 L481.3 51.5 L482.8 52.5 L484.2 53.7 L485.6 55.5 L486.9 58.0 L488.2 60.6 L489.4 63.9 L490.7 69.0 L491.8 70.2 L492.9 70.6 L494.0 70.5 L495.1 70.1 L496.1 69.4 L497.2 68.4" stroke="#888888" stroke-width="3.0" fill="none" stroke-linejoin="round" stroke-linecap="round"/>
<path d="M473.9 49.2 L475.4 49.3 L476.9 49.6 L478.4 50.0 L479.9 50.7 L481.3 51.5 L482.8 52.5 L484.2 53.7 L485.6 55.5 L486.9 58.0 L488.2 60.6 L489.4 63.9 L490.7 69.0 L491.8 70.2 L492.9 70.6 L494.0 70.5 L495.1 70.1 L496.1 69.4 L497.2 68.4" stroke="#dadada" stroke-width="1.3" fill="none" stroke-linejoin="round" stroke-linecap="round"/>
<path d="M352.3 68.9 L353.7 69.0 L355.2 71.1 L356.6 73.0 L358.0 74.7 L359.4 76.4 L360.8 78.2 L362.1 80.0 L363.4 81.9 L364.6 83.8 L365.8 85.6 L366.9 86.5 L367.9 86.8 L368.9 86.9" stroke="#888888" stroke-width="3.0" fill="none" stroke-linejoin="round" stroke-linecap="round"/>
<path d="M352.3 68.9 L353.7 69.0 L355.2 71.1 L356.6 73.0 L358.0 74.7 L359.4 76.4 L360.8 78.2 L362.1 80.0 L363.4 81.9 L364.6 83.8 L365.8 85.6 L366.9 86.5 L367.9 86.8 L368.9 86.9" stroke="#dadada" stroke-width="1.3" fill="none" stroke-linejoin="round" stroke-linecap="round"/>
<path d="M397.8 51.9 L399.3 52.0 L400.7 52.3 L402.2 52.8 L403.7 53.5 L405.2 54.3 L406.6 55.4 L408.1 56.7 L409.5 58.2 L410.9 60.2 L412.3 62.7 L413.7 67.9 L415.2 73.9 L416.5 76.5 L417.7 78.4 L418.9 80.0 L420.1 81.3 L421.2 82.4 L422.3 83.2 L423.3 83.9 L424.4 84.4 L425.4 84.7 L426.4 84.9" stroke="#888888" stroke-width="3.0" fill="none" stroke-linejoin="round" stroke-linecap="round"/>
<path d="M397.8 51.9 L399.3 52.0 L400.7 52.3 L402.2 52.8 L403.7 53.5 L405.2 54.3 L406.6 55.4 L408.1 56.7 L409.5 58.2 L410.9 60.2 L412.3 62.7 L413.7 67.9 L415.2 73.9 L416.5 76.5 L417.7 78.4 L418.9 80.0 L420.1 81.3 L421.2 82.4 L422.3 83.2 L423.3 83.9 L424.4 84.4 L425.4 84.7 L426.4 84.9" stroke="#dadada" stroke-width="1.3" fill="none" stroke-linejoin="round" stroke-linecap="round"/>
<path d="M455.2 49.9 L456.7 50.0 L458.2 50.3 L459.7 50.7 L461.1 51.4 L462.6 52.2 L464.1 53.2 L465.5 54.5 L466.9 56.0 L468.3 57.8 L469.7 60.3 L471.1 64.3 L472.6 71.5 L473.9 74.2 L475.2 76.2 L476.4 77.8 L477.5 79.1 L478.7 80.2 L479.8 81.1 L480.8 81.8 L481.9 82.3 L482.9 82.7 L483.9 82.9" stroke="#888888" stroke-width="3.0" fill="none" stroke-linejoin="round" stroke-linecap="round"/>
<path d="M455.2 49.9 L456.7 50.0 L458.2 50.3 L459.7 50.7 L461.1 51.4 L462.6 52.2 L464.1 53.2 L465.5 54.5 L466.9 56.0 L468.3 57.8 L469.7 60.3 L471.1 64.3 L472.6 71.5 L473.9 74.2 L475.2 76.2 L476.4 77.8 L477.5 79.1 L478.7 80.2 L479.8 81.1 L480.8 81.8 L481.9 82.3 L482.9 82.7 L483.9 82.9" stroke="#dadada" stroke-width="1.3" fill="none" stroke-linejoin="round" stroke-linecap="round"/>
<path d="M350.3 73.7l2.2 -6.1M350.8 72.9l-4.2 -6.4M351.1 67.8l2.4 6.2M497.0 69.0l-0.4 4.4M498.4 64.7l2.1 -4.4M496.4 62.2l2.4 3.4" stroke="#8a8a8a" stroke-width="1.3" fill="none" stroke-linecap="round"/>
<path d="M503.8 73.3 L504.9 74.3 L505.9 75.1 L507.0 75.5 L508.0 75.6 L509.1 75.1 L510.2 73.7 L511.2 68.1 L512.4 64.4 L513.5 61.4 L514.7 58.6 L516.0 56.5 L517.4 55.1 L518.8 53.9 L520.3 52.9 L521.8 52.2 L523.2 51.6 L524.7 51.2 L526.3 51.0" stroke="#888888" stroke-width="3.0" fill="none" stroke-linejoin="round" stroke-linecap="round"/>
<path d="M503.8 73.3 L504.9 74.3 L505.9 75.1 L507.0 75.5 L508.0 75.6 L509.1 75.1 L510.2 73.7 L511.2 68.1 L512.4 64.4 L513.5 61.4 L514.7 58.6 L516.0 56.5 L517.4 55.1 L518.8 53.9 L520.3 52.9 L521.8 52.2 L523.2 51.6 L524.7 51.2 L526.3 51.0" stroke="#dadada" stroke-width="1.3" fill="none" stroke-linejoin="round" stroke-linecap="round"/>
<path d="M556.2 89.0 L557.2 88.9 L558.2 88.6 L559.2 88.1 L560.2 87.4 L561.2 86.5 L562.3 85.4 L563.3 84.0 L564.4 82.4 L565.6 80.5 L566.7 78.1 L567.9 74.7 L569.2 66.1 L570.5 62.4 L571.8 59.9 L573.1 57.8 L574.5 56.2 L575.9 54.8 L577.3 53.7 L578.8 52.7 L580.3 52.0 L581.8 51.5 L583.3 51.2 L584.8 51.0" stroke="#888888" stroke-width="3.0" fill="none" stroke-linejoin="round" stroke-linecap="round"/>
<path d="M556.2 89.0 L557.2 88.9 L558.2 88.6 L559.2 88.1 L560.2 87.4 L561.2 86.5 L562.3 85.4 L563.3 84.0 L564.4 82.4 L565.6 80.5 L566.7 78.1 L567.9 74.7 L569.2 66.1 L570.5 62.4 L571.8 59.9 L573.1 57.8 L574.5 56.2 L575.9 54.8 L577.3 53.7 L578.8 52.7 L580.3 52.0 L581.8 51.5 L583.3 51.2 L584.8 51.0" stroke="#dadada" stroke-width="1.3" fill="none" stroke-linejoin="round" stroke-linecap="round"/>
<path d="M614.6 89.0 L615.6 88.8 L616.6 88.5 L617.6 87.9 L618.6 87.2 L619.6 86.3 L620.7 85.1 L621.8 83.7 L622.9 82.0 L624.0 80.0 L625.2 77.4 L626.4 73.5 L627.7 65.0 L628.9 61.7 L630.3 59.4 L631.6 57.4 L633.0 55.9 L634.4 54.5 L635.9 53.4 L637.3 52.6 L638.8 51.9 L640.3 51.4 L641.8 51.1 L643.3 51.0" stroke="#888888" stroke-width="3.0" fill="none" stroke-linejoin="round" stroke-linecap="round"/>
<path d="M614.6 89.0 L615.6 88.8 L616.6 88.5 L617.6 87.9 L618.6 87.2 L619.6 86.3 L620.7 85.1 L621.8 83.7 L622.9 82.0 L624.0 80.0 L625.2 77.4 L626.4 73.5 L627.7 65.0 L628.9 61.7 L630.3 59.4 L631.6 57.4 L633.0 55.9 L634.4 54.5 L635.9 53.4 L637.3 52.6 L638.8 51.9 L640.3 51.4 L641.8 51.1 L643.3 51.0" stroke="#dadada" stroke-width="1.3" fill="none" stroke-linejoin="round" stroke-linecap="round"/>
<path d="M503.8 66.4 L505.1 64.9 L506.4 63.3 L507.7 61.8" stroke="#888888" stroke-width="3.0" fill="none" stroke-linejoin="round" stroke-linecap="round"/>
<path d="M503.8 66.4 L505.1 64.9 L506.4 63.3 L507.7 61.8" stroke="#dadada" stroke-width="1.3" fill="none" stroke-linejoin="round" stroke-linecap="round"/>
<path d="M537.5 89.0 L538.5 88.8 L539.5 88.5 L540.4 87.9 L541.5 87.2 L542.5 86.2 L543.5 85.1 L544.6 83.6 L545.7 82.0 L546.9 79.9 L548.1 77.3 L549.3 73.4 L550.5 64.9 L551.8 61.7 L553.1 59.3 L554.5 57.4 L555.9 55.8 L557.3 54.5 L558.7 53.4 L560.2 52.5 L561.7 51.9 L563.2 51.4 L564.7 51.1 L566.2 51.0" stroke="#888888" stroke-width="3.0" fill="none" stroke-linejoin="round" stroke-linecap="round"/>
<path d="M537.5 89.0 L538.5 88.8 L539.5 88.5 L540.4 87.9 L541.5 87.2 L542.5 86.2 L543.5 85.1 L544.6 83.6 L545.7 82.0 L546.9 79.9 L548.1 77.3 L549.3 73.4 L550.5 64.9 L551.8 61.7 L553.1 59.3 L554.5 57.4 L555.9 55.8 L557.3 54.5 L558.7 53.4 L560.2 52.5 L561.7 51.9 L563.2 51.4 L564.7 51.1 L566.2 51.0" stroke="#dadada" stroke-width="1.3" fill="none" stroke-linejoin="round" stroke-linecap="round"/>
<path d="M595.9 89.0 L596.9 88.8 L597.9 88.4 L598.9 87.8 L599.9 87.0 L600.9 86.0 L602.0 84.8 L603.1 83.3 L604.2 81.5 L605.3 79.4 L606.5 76.6 L607.7 71.7 L609.0 64.0 L610.3 61.1 L611.6 58.8 L613.0 57.0 L614.4 55.5 L615.8 54.2 L617.2 53.2 L618.7 52.4 L620.2 51.7 L621.7 51.3 L623.2 51.1" stroke="#888888" stroke-width="3.0" fill="none" stroke-linejoin="round" stroke-linecap="round"/>
<path d="M595.9 89.0 L596.9 88.8 L597.9 88.4 L598.9 87.8 L599.9 87.0 L600.9 86.0 L602.0 84.8 L603.1 83.3 L604.2 81.5 L605.3 79.4 L606.5 76.6 L607.7 71.7 L609.0 64.0 L610.3 61.1 L611.6 58.8 L613.0 57.0 L614.4 55.5 L615.8 54.2 L617.2 53.2 L618.7 52.4 L620.2 51.7 L621.7 51.3 L623.2 51.1" stroke="#dadada" stroke-width="1.3" fill="none" stroke-linejoin="round" stroke-linecap="round"/>
<path d="M654.4 76.7 L655.6 75.2 L656.9 73.6" stroke="#888888" stroke-width="3.0" fill="none" stroke-linejoin="round" stroke-linecap="round"/>
<path d="M654.4 76.7 L655.6 75.2 L656.9 73.6" stroke="#dadada" stroke-width="1.3" fill="none" stroke-linejoin="round" stroke-linecap="round"/>
<path d="M505.6 72.7L505.8 66.6M510.0 71.7L510.1 71.2M510.2 69.4L511.1 61.1M516.1 57.4L516.0 57.5M517.1 56.1L516.0 57.6M520.5 55.7L521.9 59.7M525.8 53.8L527.6 78.6M531.7 55.0L532.1 84.0M537.3 58.7L536.2 87.0M542.5 67.9L541.0 80.0M540.8 81.8L540.3 85.9M551.2 84.8L549.5 78.1M555.6 86.1L554.1 61.3M559.7 84.7L559.6 55.3M564.1 80.0L564.5 72.5M564.6 70.7L565.4 53.0M569.2 67.3L571.2 54.6M580.0 54.5L582.1 65.3M585.7 53.3L587.1 80.2M591.6 55.9L591.5 84.8M597.1 61.0L595.6 85.7M602.0 76.7L600.1 84.3M610.8 85.0L608.8 68.5M615.1 86.8L613.9 59.2M619.2 84.5L619.5 53.9M623.7 77.7L625.4 53.0M629.1 60.8L630.1 57.6M630.6 55.9L630.9 55.1M639.9 54.7L642.0 74.6M645.7 54.4L646.3 73.1M646.4 74.9L646.6 80.8M651.0 63.3L650.7 78.8" stroke="#7e7e7e" stroke-width="1.0" fill="none"/>
<path d="M527.8 51.0 L529.3 51.2 L530.8 51.6 L532.3 52.2 L533.7 52.9 L535.2 53.9 L536.6 55.1 L538.0 56.5 L539.4 58.3 L540.7 60.4 L542.0 63.1 L543.3 67.5 L544.5 75.6 L545.7 78.7 L546.9 81.0 L548.0 82.8 L549.1 84.4 L550.2 85.7 L551.2 86.7 L552.3 87.6 L553.3 88.2 L554.3 88.7 L555.2 88.9" stroke="#888888" stroke-width="3.0" fill="none" stroke-linejoin="round" stroke-linecap="round"/>
<path d="M527.8 51.0 L529.3 51.2 L530.8 51.6 L532.3 52.2 L533.7 52.9 L535.2 53.9 L536.6 55.1 L538.0 56.5 L539.4 58.3 L540.7 60.4 L542.0 63.1 L543.3 67.5 L544.5 75.6 L545.7 78.7 L546.9 81.0 L548.0 82.8 L549.1 84.4 L550.2 85.7 L551.2 86.7 L552.3 87.6 L553.3 88.2 L554.3 88.7 L555.2 88.9" stroke="#dadada" stroke-width="1.3" fill="none" stroke-linejoin="round" stroke-linecap="round"/>
<path d="M586.3 51.1 L587.8 51.3 L589.3 51.7 L590.8 52.3 L592.3 53.1 L593.7 54.2 L595.1 55.4 L596.5 56.9 L597.9 58.7 L599.2 60.9 L600.5 63.8 L601.8 71.0 L603.0 76.4 L604.2 79.2 L605.3 81.4 L606.5 83.2 L607.5 84.7 L608.6 85.9 L609.7 86.9 L610.7 87.7 L611.7 88.3 L612.7 88.7 L613.6 89.0" stroke="#888888" stroke-width="3.0" fill="none" stroke-linejoin="round" stroke-linecap="round"/>
<path d="M586.3 51.1 L587.8 51.3 L589.3 51.7 L590.8 52.3 L592.3 53.1 L593.7 54.2 L595.1 55.4 L596.5 56.9 L597.9 58.7 L599.2 60.9 L600.5 63.8 L601.8 71.0 L603.0 76.4 L604.2 79.2 L605.3 81.4 L606.5 83.2 L607.5 84.7 L608.6 85.9 L609.7 86.9 L610.7 87.7 L611.7 88.3 L612.7 88.7 L613.6 89.0" stroke="#dadada" stroke-width="1.3" fill="none" stroke-linejoin="round" stroke-linecap="round"/>
<path d="M644.8 51.7 L646.3 53.4 L647.7 55.2 L649.0 57.1 L650.3 59.0 L651.6 60.9 L652.8 62.8 L654.0 64.5 L655.2 66.2 L656.3 67.6 L657.4 68.9" stroke="#888888" stroke-width="3.0" fill="none" stroke-linejoin="round" stroke-linecap="round"/>
<path d="M644.8 51.7 L646.3 53.4 L647.7 55.2 L649.0 57.1 L650.3 59.0 L651.6 60.9 L652.8 62.8 L654.0 64.5 L655.2 66.2 L656.3 67.6 L657.4 68.9" stroke="#dadada" stroke-width="1.3" fill="none" stroke-linejoin="round" stroke-linecap="round"/>
<path d="M509.1 60.4 L510.5 59.1 L511.9 57.9 L513.4 57.0 L514.9 56.3 L516.4 55.9 L518.0 55.9 L519.4 57.0 L520.8 58.8 L522.1 61.0 L523.4 63.9 L524.6 71.4 L525.9 76.5 L527.1 79.3 L528.2 81.5 L529.3 83.3 L530.4 84.7 L531.5 86.0 L532.5 87.0 L533.5 87.8 L534.5 88.3 L535.5 88.8 L536.5 89.0" stroke="#888888" stroke-width="3.0" fill="none" stroke-linejoin="round" stroke-linecap="round"/>
<path d="M509.1 60.4 L510.5 59.1 L511.9 57.9 L513.4 57.0 L514.9 56.3 L516.4 55.9 L518.0 55.9 L519.4 57.0 L520.8 58.8 L522.1 61.0 L523.4 63.9 L524.6 71.4 L525.9 76.5 L527.1 79.3 L528.2 81.5 L529.3 83.3 L530.4 84.7 L531.5 86.0 L532.5 87.0 L533.5 87.8 L534.5 88.3 L535.5 88.8 L536.5 89.0" stroke="#dadada" stroke-width="1.3" fill="none" stroke-linejoin="round" stroke-linecap="round"/>
<path d="M567.7 51.1 L569.2 51.4 L570.7 51.8 L572.2 52.5 L573.6 53.4 L575.1 54.5 L576.5 55.8 L577.9 57.3 L579.2 59.2 L580.6 61.6 L581.9 64.8 L583.1 73.2 L584.3 77.2 L585.5 79.9 L586.6 81.9 L587.8 83.6 L588.8 85.0 L589.9 86.2 L590.9 87.2 L591.9 87.9 L592.9 88.5 L593.9 88.8 L594.9 89.0" stroke="#888888" stroke-width="3.0" fill="none" stroke-linejoin="round" stroke-linecap="round"/>
<path d="M567.7 51.1 L569.2 51.4 L570.7 51.8 L572.2 52.5 L573.6 53.4 L575.1 54.5 L576.5 55.8 L577.9 57.3 L579.2 59.2 L580.6 61.6 L581.9 64.8 L583.1 73.2 L584.3 77.2 L585.5 79.9 L586.6 81.9 L587.8 83.6 L588.8 85.0 L589.9 86.2 L590.9 87.2 L591.9 87.9 L592.9 88.5 L593.9 88.8 L594.9 89.0" stroke="#dadada" stroke-width="1.3" fill="none" stroke-linejoin="round" stroke-linecap="round"/>
<path d="M624.7 51.0 L626.2 51.1 L627.7 51.5 L629.2 52.0 L630.7 52.7 L632.2 53.6 L633.6 54.7 L635.0 56.1 L636.4 57.8 L637.7 59.7 L639.0 62.2 L640.3 65.8 L641.6 74.4 L642.8 77.9 L643.9 80.4 L645.1 82.3 L646.1 83.5 L647.1 83.7 L648.1 83.4 L649.1 82.8 L650.1 81.9 L651.1 80.9 L652.2 79.6 L653.3 78.2" stroke="#888888" stroke-width="3.0" fill="none" stroke-linejoin="round" stroke-linecap="round"/>
<path d="M624.7 51.0 L626.2 51.1 L627.7 51.5 L629.2 52.0 L630.7 52.7 L632.2 53.6 L633.6 54.7 L635.0 56.1 L636.4 57.8 L637.7 59.7 L639.0 62.2 L640.3 65.8 L641.6 74.4 L642.8 77.9 L643.9 80.4 L645.1 82.3 L646.1 83.5 L647.1 83.7 L648.1 83.4 L649.1 82.8 L650.1 81.9 L651.1 80.9 L652.2 79.6 L653.3 78.2" stroke="#dadada" stroke-width="1.3" fill="none" stroke-linejoin="round" stroke-linecap="round"/>
<path d="M504.4 65.3l-2.9 3.2M504.4 66.6l-1.3 5.5M503.3 74.6l3.2 6.8M656.8 70.2l-1.0 5.4M657.2 71.2l5.1 3.8M656.7 72.2l-2.2 5.6" stroke="#8a8a8a" stroke-width="1.3" fill="none" stroke-linecap="round"/>
<path d="M11.8 207.6 L12.9 207.1 L14.0 204.4 L15.1 202.5 L16.3 200.6 L17.4 198.7 L18.6 196.6 L19.8 194.5 L21.0 192.4 L22.3 190.3 L23.6 188.2 L25.0 187.2 L26.4 186.8 L27.9 186.7" stroke="#888888" stroke-width="3.0" fill="none" stroke-linejoin="round" stroke-linecap="round"/>
<path d="M11.8 207.6 L12.9 207.1 L14.0 204.4 L15.1 202.5 L16.3 200.6 L17.4 198.7 L18.6 196.6 L19.8 194.5 L21.0 192.4 L22.3 190.3 L23.6 188.2 L25.0 187.2 L26.4 186.8 L27.9 186.7" stroke="#dadada" stroke-width="1.3" fill="none" stroke-linejoin="round" stroke-linecap="round"/>
<path d="M58.7 224.0 L59.8 223.8 L60.9 223.5 L62.0 222.9 L63.0 222.2 L64.1 221.2 L65.2 220.1 L66.3 218.7 L67.5 217.0 L68.6 214.9 L69.8 212.4 L70.9 208.7 L72.0 200.1 L73.2 196.7 L74.5 194.2 L75.7 192.3 L77.1 190.6 L78.4 189.3 L79.8 188.1 L81.1 187.2 L82.5 186.5 L83.9 185.9 L85.4 185.6 L86.8 185.4" stroke="#888888" stroke-width="3.0" fill="none" stroke-linejoin="round" stroke-linecap="round"/>
<path d="M58.7 224.0 L59.8 223.8 L60.9 223.5 L62.0 222.9 L63.0 222.2 L64.1 221.2 L65.2 220.1 L66.3 218.7 L67.5 217.0 L68.6 214.9 L69.8 212.4 L70.9 208.7 L72.0 200.1 L73.2 196.7 L74.5 194.2 L75.7 192.3 L77.1 190.6 L78.4 189.3 L79.8 188.1 L81.1 187.2 L82.5 186.5 L83.9 185.9 L85.4 185.6 L86.8 185.4" stroke="#dadada" stroke-width="1.3" fill="none" stroke-linejoin="round" stroke-linecap="round"/>
<path d="M117.6 222.8 L118.7 222.6 L119.8 222.2 L120.9 221.7 L121.9 220.9 L123.0 219.9 L124.1 218.7 L125.3 217.3 L126.4 215.6 L127.5 213.6 L128.7 211.0 L129.8 207.1 L130.9 198.6 L132.1 195.3 L133.4 192.9 L134.7 190.9 L136.0 189.3 L137.3 187.9 L138.7 186.8 L140.1 185.9 L141.5 185.2 L142.9 184.7 L144.3 184.3 L145.7 184.2" stroke="#888888" stroke-width="3.0" fill="none" stroke-linejoin="round" stroke-linecap="round"/>
<path d="M117.6 222.8 L118.7 222.6 L119.8 222.2 L120.9 221.7 L121.9 220.9 L123.0 219.9 L124.1 218.7 L125.3 217.3 L126.4 215.6 L127.5 213.6 L128.7 211.0 L129.8 207.1 L130.9 198.6 L132.1 195.3 L133.4 192.9 L134.7 190.9 L136.0 189.3 L137.3 187.9 L138.7 186.8 L140.1 185.9 L141.5 185.2 L142.9 184.7 L144.3 184.3 L145.7 184.2" stroke="#dadada" stroke-width="1.3" fill="none" stroke-linejoin="round" stroke-linecap="round"/>
<path d="M42.3 224.3 L43.4 224.1 L44.5 223.6 L45.6 223.0 L46.7 222.1 L47.8 221.1 L48.9 219.8 L50.0 218.3 L51.1 216.5 L52.3 214.2 L53.4 211.3 L54.5 204.3 L55.7 198.7 L56.9 195.9 L58.2 193.7 L59.5 191.8 L60.8 190.3 L62.1 189.1 L63.5 188.0 L64.9 187.2 L66.3 186.5 L67.7 186.1 L69.1 185.8" stroke="#888888" stroke-width="3.0" fill="none" stroke-linejoin="round" stroke-linecap="round"/>
<path d="M42.3 224.3 L43.4 224.1 L44.5 223.6 L45.6 223.0 L46.7 222.1 L47.8 221.1 L48.9 219.8 L50.0 218.3 L51.1 216.5 L52.3 214.2 L53.4 211.3 L54.5 204.3 L55.7 198.7 L56.9 195.9 L58.2 193.7 L59.5 191.8 L60.8 190.3 L62.1 189.1 L63.5 188.0 L64.9 187.2 L66.3 186.5 L67.7 186.1 L69.1 185.8" stroke="#dadada" stroke-width="1.3" fill="none" stroke-linejoin="round" stroke-linecap="round"/>
<path d="M101.3 223.1 L102.3 222.8 L103.4 222.3 L104.5 221.7 L105.6 220.8 L106.7 219.8 L107.8 218.5 L108.9 217.0 L110.0 215.1 L111.2 212.9 L112.3 209.9 L113.4 202.3 L114.6 197.3 L115.8 194.5 L117.1 192.3 L118.4 190.5 L119.7 189.0 L121.1 187.8 L122.4 186.7 L123.8 185.9 L125.2 185.3 L126.6 184.9 L128.1 184.6" stroke="#888888" stroke-width="3.0" fill="none" stroke-linejoin="round" stroke-linecap="round"/>
<path d="M101.3 223.1 L102.3 222.8 L103.4 222.3 L104.5 221.7 L105.6 220.8 L106.7 219.8 L107.8 218.5 L108.9 217.0 L110.0 215.1 L111.2 212.9 L112.3 209.9 L113.4 202.3 L114.6 197.3 L115.8 194.5 L117.1 192.3 L118.4 190.5 L119.7 189.0 L121.1 187.8 L122.4 186.7 L123.8 185.9 L125.2 185.3 L126.6 184.9 L128.1 184.6" stroke="#dadada" stroke-width="1.3" fill="none" stroke-linejoin="round" stroke-linecap="round"/>
<path d="M160.2 221.8 L161.2 221.5 L162.3 220.6 L163.4 218.6 L164.6 216.5 L165.7 214.4 L166.9 212.3 L168.2 210.3 L169.4 208.3 L170.7 206.5 L172.0 204.7 L173.3 202.0 L174.7 201.2" stroke="#888888" stroke-width="3.0" fill="none" stroke-linejoin="round" stroke-linecap="round"/>
<path d="M160.2 221.8 L161.2 221.5 L162.3 220.6 L163.4 218.6 L164.6 216.5 L165.7 214.4 L166.9 212.3 L168.2 210.3 L169.4 208.3 L170.7 206.5 L172.0 204.7 L173.3 202.0 L174.7 201.2" stroke="#dadada" stroke-width="1.3" fill="none" stroke-linejoin="round" stroke-linecap="round"/>
<path d="M13.7 203.2L13.8 201.9M23.5 191.1L24.5 195.4M28.8 189.8L30.2 211.8M34.4 190.4L34.6 198.5M34.6 200.3L35.1 218.8M39.8 195.2L39.6 222.0M45.0 212.6L44.2 220.9M54.4 221.1L53.2 215.4M59.0 221.1L57.6 198.0M63.4 219.9L62.7 191.4M67.9 213.8L68.2 188.1M72.6 196.9L73.5 189.5M83.4 188.9L84.6 195.4M88.7 188.2L90.1 212.2M94.3 190.3L94.9 218.5M99.7 195.9L99.5 212.0M99.5 213.8L99.4 221.0M104.9 213.1L103.9 220.4M114.2 220.1L112.9 211.9M118.7 220.2L118.2 209.5M118.1 207.7L117.4 195.3M123.1 217.7L122.9 206.5M122.9 204.7L122.6 189.4M127.7 210.5L128.1 186.9M132.8 192.0L132.7 192.5M133.0 190.7L133.5 187.5M143.3 187.6L143.6 190.0M143.8 191.8L144.5 196.9M148.7 186.5L149.4 202.2M149.5 204.0L150.0 213.1M154.3 190.5L154.6 217.2M159.6 197.3L159.2 213.6M159.2 215.4L159.1 220.1M164.3 214.2L163.8 216.4" stroke="#7e7e7e" stroke-width="1.0" fill="none"/>
<path d="M29.3 186.7 L30.7 186.9 L32.2 187.3 L33.6 187.9 L35.0 188.7 L36.4 189.7 L37.8 190.9 L39.2 192.4 L40.6 194.2 L41.9 196.3 L43.3 199.2 L44.7 206.5 L46.0 211.7 L47.3 214.5 L48.6 216.7 L49.8 218.4 L50.9 219.9 L52.1 221.1 L53.2 222.1 L54.4 222.8 L55.5 223.4 L56.6 223.8 L57.6 224.0" stroke="#888888" stroke-width="3.0" fill="none" stroke-linejoin="round" stroke-linecap="round"/>
<path d="M29.3 186.7 L30.7 186.9 L32.2 187.3 L33.6 187.9 L35.0 188.7 L36.4 189.7 L37.8 190.9 L39.2 192.4 L40.6 194.2 L41.9 196.3 L43.3 199.2 L44.7 206.5 L46.0 211.7 L47.3 214.5 L48.6 216.7 L49.8 218.4 L50.9 219.9 L52.1 221.1 L53.2 222.1 L54.4 222.8 L55.5 223.4 L56.6 223.8 L57.6 224.0" stroke="#dadada" stroke-width="1.3" fill="none" stroke-linejoin="round" stroke-linecap="round"/>
<path d="M88.2 185.5 L89.7 185.7 L91.1 186.1 L92.5 186.7 L93.9 187.5 L95.3 188.5 L96.7 189.8 L98.1 191.2 L99.5 193.0 L100.8 195.3 L102.2 198.2 L103.6 205.9 L105.0 210.7 L106.2 213.4 L107.5 215.5 L108.7 217.3 L109.9 218.7 L111.0 219.9 L112.2 220.9 L113.3 221.6 L114.4 222.2 L115.5 222.6 L116.6 222.8" stroke="#888888" stroke-width="3.0" fill="none" stroke-linejoin="round" stroke-linecap="round"/>
<path d="M88.2 185.5 L89.7 185.7 L91.1 186.1 L92.5 186.7 L93.9 187.5 L95.3 188.5 L96.7 189.8 L98.1 191.2 L99.5 193.0 L100.8 195.3 L102.2 198.2 L103.6 205.9 L105.0 210.7 L106.2 213.4 L107.5 215.5 L108.7 217.3 L109.9 218.7 L111.0 219.9 L112.2 220.9 L113.3 221.6 L114.4 222.2 L115.5 222.6 L116.6 222.8" stroke="#dadada" stroke-width="1.3" fill="none" stroke-linejoin="round" stroke-linecap="round"/>
<path d="M147.1 184.2 L148.6 184.5 L150.0 184.9 L151.4 185.5 L152.9 186.3 L154.3 187.4 L155.7 188.6 L157.0 190.1 L158.4 191.9 L159.8 194.2 L161.1 197.2 L162.5 205.2 L163.8 209.5 L165.0 211.3 L166.1 212.3 L167.2 212.7 L168.3 212.6 L169.4 212.1 L170.5 211.4 L171.6 210.3 L172.8 209.2 L173.9 207.8 L175.1 206.4" stroke="#888888" stroke-width="3.0" fill="none" stroke-linejoin="round" stroke-linecap="round"/>
<path d="M147.1 184.2 L148.6 184.5 L150.0 184.9 L151.4 185.5 L152.9 186.3 L154.3 187.4 L155.7 188.6 L157.0 190.1 L158.4 191.9 L159.8 194.2 L161.1 197.2 L162.5 205.2 L163.8 209.5 L165.0 211.3 L166.1 212.3 L167.2 212.7 L168.3 212.6 L169.4 212.1 L170.5 211.4 L171.6 210.3 L172.8 209.2 L173.9 207.8 L175.1 206.4" stroke="#dadada" stroke-width="1.3" fill="none" stroke-linejoin="round" stroke-linecap="round"/>
<path d="M11.9 202.2 L13.2 200.7 L14.5 199.4 L15.8 198.1 L17.2 197.1 L18.6 196.2 L20.0 195.7 L21.4 195.5 L22.8 195.7 L24.2 196.5 L25.6 198.1 L27.0 201.4 L28.5 209.9 L29.8 213.4 L31.0 215.9 L32.2 217.8 L33.4 219.4 L34.6 220.8 L35.8 221.9 L36.9 222.8 L38.0 223.5 L39.1 224.0 L40.2 224.3 L41.3 224.4" stroke="#888888" stroke-width="3.0" fill="none" stroke-linejoin="round" stroke-linecap="round"/>
<path d="M11.9 202.2 L13.2 200.7 L14.5 199.4 L15.8 198.1 L17.2 197.1 L18.6 196.2 L20.0 195.7 L21.4 195.5 L22.8 195.7 L24.2 196.5 L25.6 198.1 L27.0 201.4 L28.5 209.9 L29.8 213.4 L31.0 215.9 L32.2 217.8 L33.4 219.4 L34.6 220.8 L35.8 221.9 L36.9 222.8 L38.0 223.5 L39.1 224.0 L40.2 224.3 L41.3 224.4" stroke="#dadada" stroke-width="1.3" fill="none" stroke-linejoin="round" stroke-linecap="round"/>
<path d="M70.6 185.8 L72.0 185.9 L73.4 186.2 L74.9 186.7 L76.3 187.4 L77.7 188.3 L79.1 189.4 L80.5 190.7 L81.9 192.4 L83.2 194.3 L84.6 196.8 L85.9 200.4 L87.4 209.0 L88.7 212.4 L89.9 214.8 L91.2 216.7 L92.4 218.3 L93.5 219.6 L94.7 220.7 L95.8 221.6 L96.9 222.3 L98.0 222.8 L99.1 223.0 L100.2 223.2" stroke="#888888" stroke-width="3.0" fill="none" stroke-linejoin="round" stroke-linecap="round"/>
<path d="M70.6 185.8 L72.0 185.9 L73.4 186.2 L74.9 186.7 L76.3 187.4 L77.7 188.3 L79.1 189.4 L80.5 190.7 L81.9 192.4 L83.2 194.3 L84.6 196.8 L85.9 200.4 L87.4 209.0 L88.7 212.4 L89.9 214.8 L91.2 216.7 L92.4 218.3 L93.5 219.6 L94.7 220.7 L95.8 221.6 L96.9 222.3 L98.0 222.8 L99.1 223.0 L100.2 223.2" stroke="#dadada" stroke-width="1.3" fill="none" stroke-linejoin="round" stroke-linecap="round"/>
<path d="M129.5 184.5 L130.9 184.7 L132.4 185.0 L133.8 185.5 L135.2 186.2 L136.6 187.1 L138.0 188.2 L139.4 189.6 L140.8 191.2 L142.2 193.2 L143.5 195.7 L144.9 199.5 L146.3 208.0 L147.6 211.3 L148.9 213.7 L150.1 215.6 L151.3 217.2 L152.4 218.5 L153.6 219.5 L154.7 220.4 L155.8 221.1 L156.9 221.5 L158.0 221.8 L159.1 221.9" stroke="#888888" stroke-width="3.0" fill="none" stroke-linejoin="round" stroke-linecap="round"/>
<path d="M129.5 184.5 L130.9 184.7 L132.4 185.0 L133.8 185.5 L135.2 186.2 L136.6 187.1 L138.0 188.2 L139.4 189.6 L140.8 191.2 L142.2 193.2 L143.5 195.7 L144.9 199.5 L146.3 208.0 L147.6 211.3 L148.9 213.7 L150.1 215.6 L151.3 217.2 L152.4 218.5 L153.6 219.5 L154.7 220.4 L155.8 221.1 L156.9 221.5 L158.0 221.8 L159.1 221.9" stroke="#dadada" stroke-width="1.3" fill="none" stroke-linejoin="round" stroke-linecap="round"/>
<path d="M11.2 202.9l-6.3 -3.7M11.5 210.6l-4.4 1.1M10.2 202.7l-3.0 2.7M174.1 198.6l1.7 5.2M173.8 198.2l-3.0 4.9M175.7 199.1l-1.8 -4.3" stroke="#8a8a8a" stroke-width="1.3" fill="none" stroke-linecap="round"/>
<path d="M182.7 208.1 L183.7 206.4 L184.7 204.7 L185.8 203.1 L186.9 201.3 L188.0 199.5 L189.1 197.6 L190.3 195.6 L191.5 193.7 L192.7 191.7 L194.1 189.8 L195.5 188.8 L196.9 188.5 L198.4 188.3" stroke="#888888" stroke-width="3.0" fill="none" stroke-linejoin="round" stroke-linecap="round"/>
<path d="M182.7 208.1 L183.7 206.4 L184.7 204.7 L185.8 203.1 L186.9 201.3 L188.0 199.5 L189.1 197.6 L190.3 195.6 L191.5 193.7 L192.7 191.7 L194.1 189.8 L195.5 188.8 L196.9 188.5 L198.4 188.3" stroke="#dadada" stroke-width="1.3" fill="none" stroke-linejoin="round" stroke-linecap="round"/>
<path d="M230.9 223.0 L231.9 222.7 L232.9 222.3 L233.9 221.8 L234.9 221.0 L235.9 220.1 L237.0 219.0 L238.0 217.7 L239.1 216.1 L240.1 214.2 L241.2 211.9 L242.3 208.6 L243.2 200.6 L244.4 197.2 L245.6 194.9 L246.8 193.0 L248.1 191.4 L249.5 190.0 L250.8 188.9 L252.2 187.9 L253.6 187.2 L255.1 186.6 L256.6 186.1 L258.0 185.9" stroke="#888888" stroke-width="3.0" fill="none" stroke-linejoin="round" stroke-linecap="round"/>
<path d="M230.9 223.0 L231.9 222.7 L232.9 222.3 L233.9 221.8 L234.9 221.0 L235.9 220.1 L237.0 219.0 L238.0 217.7 L239.1 216.1 L240.1 214.2 L241.2 211.9 L242.3 208.6 L243.2 200.6 L244.4 197.2 L245.6 194.9 L246.8 193.0 L248.1 191.4 L249.5 190.0 L250.8 188.9 L252.2 187.9 L253.6 187.2 L255.1 186.6 L256.6 186.1 L258.0 185.9" stroke="#dadada" stroke-width="1.3" fill="none" stroke-linejoin="round" stroke-linecap="round"/>
<path d="M291.8 220.4 L292.8 220.1 L293.8 219.6 L294.8 219.0 L295.9 218.2 L296.9 217.2 L297.9 216.1 L299.0 214.7 L300.0 213.0 L301.1 211.0 L302.2 208.5 L303.3 204.4 L304.2 196.8 L305.4 193.9 L306.6 191.7 L307.9 189.9 L309.2 188.4 L310.5 187.1 L311.9 186.0 L313.3 185.1 L314.7 184.4 L316.2 183.9 L317.6 183.5 L319.1 183.3" stroke="#888888" stroke-width="3.0" fill="none" stroke-linejoin="round" stroke-linecap="round"/>
<path d="M291.8 220.4 L292.8 220.1 L293.8 219.6 L294.8 219.0 L295.9 218.2 L296.9 217.2 L297.9 216.1 L299.0 214.7 L300.0 213.0 L301.1 211.0 L302.2 208.5 L303.3 204.4 L304.2 196.8 L305.4 193.9 L306.6 191.7 L307.9 189.9 L309.2 188.4 L310.5 187.1 L311.9 186.0 L313.3 185.1 L314.7 184.4 L316.2 183.9 L317.6 183.5 L319.1 183.3" stroke="#dadada" stroke-width="1.3" fill="none" stroke-linejoin="round" stroke-linecap="round"/>
<path d="M211.0 223.8 L212.0 223.6 L213.0 223.2 L214.0 222.7 L215.0 222.0 L216.0 221.1 L217.1 220.0 L218.1 218.7 L219.2 217.2 L220.2 215.3 L221.3 213.1 L222.4 210.0 L223.3 202.0 L224.4 198.4 L225.6 195.9 L226.9 194.0 L228.2 192.4 L229.5 191.0 L230.9 189.8 L232.3 188.9 L233.7 188.1 L235.1 187.5 L236.6 187.0 L238.1 186.7" stroke="#888888" stroke-width="3.0" fill="none" stroke-linejoin="round" stroke-linecap="round"/>
<path d="M211.0 223.8 L212.0 223.6 L213.0 223.2 L214.0 222.7 L215.0 222.0 L216.0 221.1 L217.1 220.0 L218.1 218.7 L219.2 217.2 L220.2 215.3 L221.3 213.1 L222.4 210.0 L223.3 202.0 L224.4 198.4 L225.6 195.9 L226.9 194.0 L228.2 192.4 L229.5 191.0 L230.9 189.8 L232.3 188.9 L233.7 188.1 L235.1 187.5 L236.6 187.0 L238.1 186.7" stroke="#dadada" stroke-width="1.3" fill="none" stroke-linejoin="round" stroke-linecap="round"/>
<path d="M272.0 221.2 L273.0 221.0 L273.9 220.5 L275.0 219.9 L276.0 219.2 L277.0 218.2 L278.0 217.0 L279.1 215.7 L280.1 214.1 L281.2 212.1 L282.3 209.6 L283.4 206.0 L284.3 198.1 L285.4 195.0 L286.7 192.7 L287.9 190.9 L289.2 189.4 L290.6 188.1 L291.9 187.0 L293.4 186.0 L294.8 185.3 L296.2 184.8 L297.7 184.4 L299.2 184.1" stroke="#888888" stroke-width="3.0" fill="none" stroke-linejoin="round" stroke-linecap="round"/>
<path d="M272.0 221.2 L273.0 221.0 L273.9 220.5 L275.0 219.9 L276.0 219.2 L277.0 218.2 L278.0 217.0 L279.1 215.7 L280.1 214.1 L281.2 212.1 L282.3 209.6 L283.4 206.0 L284.3 198.1 L285.4 195.0 L286.7 192.7 L287.9 190.9 L289.2 189.4 L290.6 188.1 L291.9 187.0 L293.4 186.0 L294.8 185.3 L296.2 184.8 L297.7 184.4 L299.2 184.1" stroke="#dadada" stroke-width="1.3" fill="none" stroke-linejoin="round" stroke-linecap="round"/>
<path d="M331.9 218.8 L332.9 218.6 L333.9 218.3 L334.9 217.8 L335.9 217.2 L336.9 215.9 L338.0 213.7 L339.1 211.6 L340.3 209.5 L341.5 207.4 L342.8 205.3 L344.0 203.2 L345.3 200.3 L346.6 198.1 L348.0 197.7 L349.4 197.9" stroke="#888888" stroke-width="3.0" fill="none" stroke-linejoin="round" stroke-linecap="round"/>
<path d="M331.9 218.8 L332.9 218.6 L333.9 218.3 L334.9 217.8 L335.9 217.2 L336.9 215.9 L338.0 213.7 L339.1 211.6 L340.3 209.5 L341.5 207.4 L342.8 205.3 L344.0 203.2 L345.3 200.3 L346.6 198.1 L348.0 197.7 L349.4 197.9" stroke="#dadada" stroke-width="1.3" fill="none" stroke-linejoin="round" stroke-linecap="round"/>
<path d="M194.0 193.3L196.3 206.2M199.6 191.5L201.8 215.9M205.3 191.6L206.4 220.3M211.0 196.9L210.8 207.7M210.8 209.5L210.6 220.7M216.5 211.0L215.0 219.7M225.9 220.2L224.1 212.4M223.7 210.7L223.4 209.3M230.1 220.1L227.7 195.2M234.3 219.4L234.1 214.1M234.0 212.3L233.1 191.2M238.6 213.9L238.7 195.4M238.7 193.6L238.8 188.8M243.1 202.6L244.5 189.7M253.6 190.1L255.1 195.5M255.5 197.2L255.5 197.1M259.0 188.6L261.4 211.8M264.8 189.0L265.1 196.5M265.2 198.3L266.1 217.3M270.5 192.4L270.4 219.1M276.0 201.1L275.5 206.9M275.3 208.7L274.6 217.5M285.2 216.0L284.7 214.6M284.2 212.9L283.5 210.8M289.9 217.6L287.3 193.9M294.1 217.6L292.6 189.5M298.3 213.8L298.2 187.2M302.8 204.7L303.1 200.5M303.2 198.7L304.1 186.4M313.5 188.7L315.0 192.7M318.5 186.6L319.4 194.4M319.6 196.1L320.9 207.9M324.2 186.4L325.2 203.3M325.3 205.1L325.8 213.5M330.0 189.9L330.1 209.0M330.1 210.8L330.2 215.6M335.5 195.9L334.3 215.9" stroke="#7e7e7e" stroke-width="1.0" fill="none"/>
<path d="M199.9 188.4 L201.4 188.5 L202.9 188.9 L204.4 189.4 L205.9 190.1 L207.3 191.0 L208.8 192.1 L210.2 193.3 L211.7 194.9 L213.1 196.8 L214.5 199.3 L215.9 203.3 L217.5 210.7 L218.8 213.5 L220.0 215.6 L221.3 217.3 L222.4 218.7 L223.6 219.9 L224.7 220.9 L225.8 221.6 L226.8 222.2 L227.9 222.7 L228.9 222.9 L229.9 223.0" stroke="#888888" stroke-width="3.0" fill="none" stroke-linejoin="round" stroke-linecap="round"/>
<path d="M199.9 188.4 L201.4 188.5 L202.9 188.9 L204.4 189.4 L205.9 190.1 L207.3 191.0 L208.8 192.1 L210.2 193.3 L211.7 194.9 L213.1 196.8 L214.5 199.3 L215.9 203.3 L217.5 210.7 L218.8 213.5 L220.0 215.6 L221.3 217.3 L222.4 218.7 L223.6 219.9 L224.7 220.9 L225.8 221.6 L226.8 222.2 L227.9 222.7 L228.9 222.9 L229.9 223.0" stroke="#dadada" stroke-width="1.3" fill="none" stroke-linejoin="round" stroke-linecap="round"/>
<path d="M259.5 185.8 L261.0 185.9 L262.5 186.1 L264.0 186.5 L265.5 187.1 L267.0 187.8 L268.4 188.8 L269.9 189.9 L271.3 191.3 L272.7 192.9 L274.1 195.0 L275.5 197.7 L277.1 205.0 L278.5 209.2 L279.8 211.7 L281.1 213.7 L282.3 215.3 L283.4 216.6 L284.6 217.7 L285.7 218.6 L286.7 219.3 L287.8 219.9 L288.8 220.2 L289.8 220.4 L290.8 220.5" stroke="#888888" stroke-width="3.0" fill="none" stroke-linejoin="round" stroke-linecap="round"/>
<path d="M259.5 185.8 L261.0 185.9 L262.5 186.1 L264.0 186.5 L265.5 187.1 L267.0 187.8 L268.4 188.8 L269.9 189.9 L271.3 191.3 L272.7 192.9 L274.1 195.0 L275.5 197.7 L277.1 205.0 L278.5 209.2 L279.8 211.7 L281.1 213.7 L282.3 215.3 L283.4 216.6 L284.6 217.7 L285.7 218.6 L286.7 219.3 L287.8 219.9 L288.8 220.2 L289.8 220.4 L290.8 220.5" stroke="#dadada" stroke-width="1.3" fill="none" stroke-linejoin="round" stroke-linecap="round"/>
<path d="M320.6 183.2 L322.1 183.4 L323.6 183.7 L325.1 184.1 L326.6 184.8 L328.0 185.6 L329.5 186.6 L331.0 187.8 L332.4 189.2 L333.8 191.0 L335.2 193.2 L336.6 196.4 L338.2 204.3 L339.5 207.4 L340.6 208.9 L341.7 209.6 L342.7 209.8 L343.7 209.7 L344.7 209.2 L345.8 208.4 L346.8 207.4 L347.8 206.3 L348.9 205.0 L350.0 203.6" stroke="#888888" stroke-width="3.0" fill="none" stroke-linejoin="round" stroke-linecap="round"/>
<path d="M320.6 183.2 L322.1 183.4 L323.6 183.7 L325.1 184.1 L326.6 184.8 L328.0 185.6 L329.5 186.6 L331.0 187.8 L332.4 189.2 L333.8 191.0 L335.2 193.2 L336.6 196.4 L338.2 204.3 L339.5 207.4 L340.6 208.9 L341.7 209.6 L342.7 209.8 L343.7 209.7 L344.7 209.2 L345.8 208.4 L346.8 207.4 L347.8 206.3 L348.9 205.0 L350.0 203.6" stroke="#dadada" stroke-width="1.3" fill="none" stroke-linejoin="round" stroke-linecap="round"/>
<path d="M183.0 203.5 L184.3 202.3 L185.6 201.2 L187.0 200.3 L188.4 199.6 L189.8 199.3 L191.3 199.3 L192.8 199.8 L194.2 201.0 L195.8 203.7 L197.5 211.0 L198.9 214.1 L200.1 216.2 L201.3 218.0 L202.5 219.4 L203.7 220.6 L204.8 221.6 L205.9 222.4 L206.9 223.0 L208.0 223.5 L209.0 223.7 L210.0 223.9" stroke="#888888" stroke-width="3.0" fill="none" stroke-linejoin="round" stroke-linecap="round"/>
<path d="M183.0 203.5 L184.3 202.3 L185.6 201.2 L187.0 200.3 L188.4 199.6 L189.8 199.3 L191.3 199.3 L192.8 199.8 L194.2 201.0 L195.8 203.7 L197.5 211.0 L198.9 214.1 L200.1 216.2 L201.3 218.0 L202.5 219.4 L203.7 220.6 L204.8 221.6 L205.9 222.4 L206.9 223.0 L208.0 223.5 L209.0 223.7 L210.0 223.9" stroke="#dadada" stroke-width="1.3" fill="none" stroke-linejoin="round" stroke-linecap="round"/>
<path d="M239.6 186.6 L241.1 186.7 L242.6 186.9 L244.0 187.3 L245.5 187.8 L247.0 188.6 L248.5 189.5 L249.9 190.6 L251.4 191.9 L252.8 193.6 L254.2 195.5 L255.6 198.2 L257.1 204.4 L258.6 209.7 L259.9 212.3 L261.1 214.3 L262.3 215.9 L263.5 217.3 L264.7 218.4 L265.8 219.3 L266.8 220.1 L267.9 220.6 L268.9 221.0 L269.9 221.3 L271.0 221.3" stroke="#888888" stroke-width="3.0" fill="none" stroke-linejoin="round" stroke-linecap="round"/>
<path d="M239.6 186.6 L241.1 186.7 L242.6 186.9 L244.0 187.3 L245.5 187.8 L247.0 188.6 L248.5 189.5 L249.9 190.6 L251.4 191.9 L252.8 193.6 L254.2 195.5 L255.6 198.2 L257.1 204.4 L258.6 209.7 L259.9 212.3 L261.1 214.3 L262.3 215.9 L263.5 217.3 L264.7 218.4 L265.8 219.3 L266.8 220.1 L267.9 220.6 L268.9 221.0 L269.9 221.3 L271.0 221.3" stroke="#dadada" stroke-width="1.3" fill="none" stroke-linejoin="round" stroke-linecap="round"/>
<path d="M300.7 184.1 L302.2 184.2 L303.6 184.4 L305.1 184.9 L306.6 185.5 L308.1 186.3 L309.6 187.3 L311.0 188.5 L312.4 189.9 L313.9 191.6 L315.3 193.8 L316.7 196.7 L318.2 204.5 L319.6 208.1 L320.9 210.5 L322.1 212.3 L323.3 213.8 L324.5 215.1 L325.6 216.2 L326.7 217.0 L327.8 217.7 L328.8 218.2 L329.9 218.6 L330.9 218.8" stroke="#888888" stroke-width="3.0" fill="none" stroke-linejoin="round" stroke-linecap="round"/>
<path d="M300.7 184.1 L302.2 184.2 L303.6 184.4 L305.1 184.9 L306.6 185.5 L308.1 186.3 L309.6 187.3 L311.0 188.5 L312.4 189.9 L313.9 191.6 L315.3 193.8 L316.7 196.7 L318.2 204.5 L319.6 208.1 L320.9 210.5 L322.1 212.3 L323.3 213.8 L324.5 215.1 L325.6 216.2 L326.7 217.0 L327.8 217.7 L328.8 218.2 L329.9 218.6 L330.9 218.8" stroke="#dadada" stroke-width="1.3" fill="none" stroke-linejoin="round" stroke-linecap="round"/>
<path d="M184.7 207.5l1.4 -5.2M181.7 202.8l-3.6 3.9M185.0 203.6l-0.2 6.8M350.0 199.1l-3.2 -7.3M351.2 199.6l2.6 -5.8M351.5 195.3l4.0 -1.4" stroke="#8a8a8a" stroke-width="1.3" fill="none" stroke-linecap="round"/>
<path d="M356.6 199.7 L357.8 198.3 L359.0 196.7 L360.2 195.1 L361.4 193.4 L362.7 191.8 L364.0 190.2 L365.4 188.7" stroke="#888888" stroke-width="3.0" fill="none" stroke-linejoin="round" stroke-linecap="round"/>
<path d="M356.6 199.7 L357.8 198.3 L359.0 196.7 L360.2 195.1 L361.4 193.4 L362.7 191.8 L364.0 190.2 L365.4 188.7" stroke="#dadada" stroke-width="1.3" fill="none" stroke-linejoin="round" stroke-linecap="round"/>
<path d="M397.2 220.2 L398.2 220.1 L399.2 219.9 L400.2 219.4 L401.2 218.8 L402.3 218.0 L403.3 217.1 L404.4 215.9 L405.4 214.5 L406.5 212.9 L407.7 210.9 L408.8 208.5 L409.9 204.7 L411.0 196.7 L412.3 193.6 L413.5 191.3 L414.8 189.5 L416.2 187.9 L417.6 186.6 L419.0 185.5 L420.4 184.6 L421.8 183.9 L423.3 183.3 L424.8 182.9 L426.2 182.7" stroke="#888888" stroke-width="3.0" fill="none" stroke-linejoin="round" stroke-linecap="round"/>
<path d="M397.2 220.2 L398.2 220.1 L399.2 219.9 L400.2 219.4 L401.2 218.8 L402.3 218.0 L403.3 217.1 L404.4 215.9 L405.4 214.5 L406.5 212.9 L407.7 210.9 L408.8 208.5 L409.9 204.7 L411.0 196.7 L412.3 193.6 L413.5 191.3 L414.8 189.5 L416.2 187.9 L417.6 186.6 L419.0 185.5 L420.4 184.6 L421.8 183.9 L423.3 183.3 L424.8 182.9 L426.2 182.7" stroke="#dadada" stroke-width="1.3" fill="none" stroke-linejoin="round" stroke-linecap="round"/>
<path d="M459.4 219.0 L460.4 218.8 L461.4 218.5 L462.4 217.9 L463.4 217.2 L464.4 216.4 L465.5 215.3 L466.6 214.0 L467.6 212.5 L468.8 210.8 L469.9 208.6 L471.0 205.6 L472.1 198.0 L473.3 193.8 L474.6 191.2 L475.9 189.2 L477.2 187.5 L478.5 186.1 L479.9 184.9 L481.3 183.9 L482.8 183.0 L484.2 182.4 L485.7 181.9 L487.2 181.6 L488.7 181.5" stroke="#888888" stroke-width="3.0" fill="none" stroke-linejoin="round" stroke-linecap="round"/>
<path d="M459.4 219.0 L460.4 218.8 L461.4 218.5 L462.4 217.9 L463.4 217.2 L464.4 216.4 L465.5 215.3 L466.6 214.0 L467.6 212.5 L468.8 210.8 L469.9 208.6 L471.0 205.6 L472.1 198.0 L473.3 193.8 L474.6 191.2 L475.9 189.2 L477.2 187.5 L478.5 186.1 L479.9 184.9 L481.3 183.9 L482.8 183.0 L484.2 182.4 L485.7 181.9 L487.2 181.6 L488.7 181.5" stroke="#dadada" stroke-width="1.3" fill="none" stroke-linejoin="round" stroke-linecap="round"/>
<path d="M377.2 220.6 L378.2 220.5 L379.2 220.2 L380.2 219.7 L381.3 219.1 L382.3 218.3 L383.3 217.3 L384.4 216.1 L385.5 214.7 L386.6 213.0 L387.7 211.0 L388.9 208.4 L390.0 204.3 L391.1 196.6 L392.3 193.6 L393.6 191.4 L394.9 189.6 L396.3 188.1 L397.6 186.8 L399.0 185.8 L400.5 184.9 L401.9 184.2 L403.4 183.6 L404.9 183.3 L406.3 183.1" stroke="#888888" stroke-width="3.0" fill="none" stroke-linejoin="round" stroke-linecap="round"/>
<path d="M377.2 220.6 L378.2 220.5 L379.2 220.2 L380.2 219.7 L381.3 219.1 L382.3 218.3 L383.3 217.3 L384.4 216.1 L385.5 214.7 L386.6 213.0 L387.7 211.0 L388.9 208.4 L390.0 204.3 L391.1 196.6 L392.3 193.6 L393.6 191.4 L394.9 189.6 L396.3 188.1 L397.6 186.8 L399.0 185.8 L400.5 184.9 L401.9 184.2 L403.4 183.6 L404.9 183.3 L406.3 183.1" stroke="#dadada" stroke-width="1.3" fill="none" stroke-linejoin="round" stroke-linecap="round"/>
<path d="M439.4 219.4 L440.4 219.2 L441.4 218.8 L442.4 218.2 L443.4 217.5 L444.5 216.6 L445.5 215.5 L446.6 214.2 L447.7 212.7 L448.8 210.8 L449.9 208.6 L451.1 205.5 L452.2 197.5 L453.4 193.7 L454.6 191.2 L455.9 189.3 L457.3 187.6 L458.6 186.3 L460.0 185.1 L461.4 184.1 L462.9 183.3 L464.3 182.7 L465.8 182.3 L467.3 182.0 L468.8 181.9" stroke="#888888" stroke-width="3.0" fill="none" stroke-linejoin="round" stroke-linecap="round"/>
<path d="M439.4 219.4 L440.4 219.2 L441.4 218.8 L442.4 218.2 L443.4 217.5 L444.5 216.6 L445.5 215.5 L446.6 214.2 L447.7 212.7 L448.8 210.8 L449.9 208.6 L451.1 205.5 L452.2 197.5 L453.4 193.7 L454.6 191.2 L455.9 189.3 L457.3 187.6 L458.6 186.3 L460.0 185.1 L461.4 184.1 L462.9 183.3 L464.3 182.7 L465.8 182.3 L467.3 182.0 L468.8 181.9" stroke="#dadada" stroke-width="1.3" fill="none" stroke-linejoin="round" stroke-linecap="round"/>
<path d="M500.6 218.2 L501.6 217.6 L502.6 215.9 L503.7 214.1 L504.8 212.3 L505.9 210.4 L507.1 208.6 L508.3 206.8 L509.6 205.0 L510.9 203.5 L512.3 202.0 L513.6 200.8" stroke="#888888" stroke-width="3.0" fill="none" stroke-linejoin="round" stroke-linecap="round"/>
<path d="M500.6 218.2 L501.6 217.6 L502.6 215.9 L503.7 214.1 L504.8 212.3 L505.9 210.4 L507.1 208.6 L508.3 206.8 L509.6 205.0 L510.9 203.5 L512.3 202.0 L513.6 200.8" stroke="#dadada" stroke-width="1.3" fill="none" stroke-linejoin="round" stroke-linecap="round"/>
<path d="M363.8 193.8L364.9 205.0M369.2 187.5L370.4 214.7M375.0 189.5L374.8 217.3M380.4 196.3L378.9 218.1M384.8 213.2L383.8 215.5M388.9 214.6L388.4 213.7M394.4 216.8L392.0 197.0M398.6 217.2L398.3 211.2M398.2 209.4L397.1 190.5M402.8 214.6L402.7 186.9M407.2 210.0L408.5 185.2M412.2 192.9L413.6 188.0M422.8 185.7L425.2 202.7M428.6 185.9L430.3 211.2M434.4 187.2L434.8 215.4M439.9 192.3L438.9 217.6M445.0 206.8L443.3 215.7M454.3 215.9L452.2 206.5M458.6 217.1L458.0 209.3M457.9 207.5L456.7 191.4M462.7 215.2L462.3 195.4M462.2 193.6L462.0 185.8M467.1 210.6L467.8 183.7M471.7 202.3L473.5 185.0M482.7 186.1L484.4 191.8M487.9 183.9L490.1 208.6M493.7 184.1L494.7 213.5M499.4 188.0L499.1 208.7M499.0 210.5L499.0 214.8M504.5 197.0L503.2 212.5" stroke="#7e7e7e" stroke-width="1.0" fill="none"/>
<path d="M366.8 187.2 L368.3 186.0 L369.8 184.9 L371.3 184.9 L372.7 185.6 L374.2 186.5 L375.6 187.5 L377.0 188.8 L378.4 190.3 L379.8 192.1 L381.2 194.4 L382.5 197.6 L383.9 205.6 L385.2 209.1 L386.4 211.5 L387.6 213.4 L388.8 215.0 L389.9 216.3 L391.0 217.4 L392.1 218.3 L393.1 219.0 L394.2 219.6 L395.2 220.0 L396.2 220.2" stroke="#888888" stroke-width="3.0" fill="none" stroke-linejoin="round" stroke-linecap="round"/>
<path d="M366.8 187.2 L368.3 186.0 L369.8 184.9 L371.3 184.9 L372.7 185.6 L374.2 186.5 L375.6 187.5 L377.0 188.8 L378.4 190.3 L379.8 192.1 L381.2 194.4 L382.5 197.6 L383.9 205.6 L385.2 209.1 L386.4 211.5 L387.6 213.4 L388.8 215.0 L389.9 216.3 L391.0 217.4 L392.1 218.3 L393.1 219.0 L394.2 219.6 L395.2 220.0 L396.2 220.2" stroke="#dadada" stroke-width="1.3" fill="none" stroke-linejoin="round" stroke-linecap="round"/>
<path d="M427.7 182.6 L429.2 182.7 L430.7 183.0 L432.2 183.4 L433.7 184.1 L435.1 184.8 L436.6 185.8 L438.0 187.0 L439.4 188.3 L440.8 190.0 L442.2 192.0 L443.5 194.7 L444.9 199.3 L446.2 206.5 L447.5 209.2 L448.7 211.3 L449.9 213.0 L451.0 214.5 L452.1 215.7 L453.2 216.7 L454.3 217.5 L455.3 218.1 L456.4 218.6 L457.4 218.9 L458.4 219.0" stroke="#888888" stroke-width="3.0" fill="none" stroke-linejoin="round" stroke-linecap="round"/>
<path d="M427.7 182.6 L429.2 182.7 L430.7 183.0 L432.2 183.4 L433.7 184.1 L435.1 184.8 L436.6 185.8 L438.0 187.0 L439.4 188.3 L440.8 190.0 L442.2 192.0 L443.5 194.7 L444.9 199.3 L446.2 206.5 L447.5 209.2 L448.7 211.3 L449.9 213.0 L451.0 214.5 L452.1 215.7 L453.2 216.7 L454.3 217.5 L455.3 218.1 L456.4 218.6 L457.4 218.9 L458.4 219.0" stroke="#dadada" stroke-width="1.3" fill="none" stroke-linejoin="round" stroke-linecap="round"/>
<path d="M490.1 181.5 L491.6 181.7 L493.1 182.0 L494.6 182.6 L496.1 183.2 L497.5 184.1 L499.0 185.2 L500.4 186.5 L501.8 188.0 L503.1 190.1 L504.3 192.9 L505.5 196.1 L506.7 202.4 L507.8 204.4 L508.9 205.2 L510.0 205.4 L511.0 205.2 L512.1 204.6 L513.2 203.8 L514.3 202.8" stroke="#888888" stroke-width="3.0" fill="none" stroke-linejoin="round" stroke-linecap="round"/>
<path d="M490.1 181.5 L491.6 181.7 L493.1 182.0 L494.6 182.6 L496.1 183.2 L497.5 184.1 L499.0 185.2 L500.4 186.5 L501.8 188.0 L503.1 190.1 L504.3 192.9 L505.5 196.1 L506.7 202.4 L507.8 204.4 L508.9 205.2 L510.0 205.4 L511.0 205.2 L512.1 204.6 L513.2 203.8 L514.3 202.8" stroke="#dadada" stroke-width="1.3" fill="none" stroke-linejoin="round" stroke-linecap="round"/>
<path d="M357.3 200.2 L358.7 199.8 L360.1 199.9 L361.5 200.8 L363.0 204.6 L364.4 206.8 L365.8 208.9 L367.2 211.0 L368.5 213.1 L369.8 215.3 L371.0 217.4 L372.1 218.8 L373.2 219.5 L374.2 220.0 L375.2 220.4 L376.2 220.6" stroke="#888888" stroke-width="3.0" fill="none" stroke-linejoin="round" stroke-linecap="round"/>
<path d="M357.3 200.2 L358.7 199.8 L360.1 199.9 L361.5 200.8 L363.0 204.6 L364.4 206.8 L365.8 208.9 L367.2 211.0 L368.5 213.1 L369.8 215.3 L371.0 217.4 L372.1 218.8 L373.2 219.5 L374.2 220.0 L375.2 220.4 L376.2 220.6" stroke="#dadada" stroke-width="1.3" fill="none" stroke-linejoin="round" stroke-linecap="round"/>
<path d="M407.8 183.0 L409.3 183.2 L410.8 183.5 L412.3 183.9 L413.8 184.5 L415.2 185.3 L416.7 186.3 L418.1 187.5 L419.5 189.0 L420.9 190.7 L422.2 192.7 L423.6 195.5 L425.0 202.5 L426.3 207.3 L427.6 210.0 L428.8 212.0 L429.9 213.7 L431.1 215.0 L432.2 216.2 L433.3 217.2 L434.3 218.0 L435.4 218.6 L436.4 219.0 L437.4 219.3 L438.4 219.4" stroke="#888888" stroke-width="3.0" fill="none" stroke-linejoin="round" stroke-linecap="round"/>
<path d="M407.8 183.0 L409.3 183.2 L410.8 183.5 L412.3 183.9 L413.8 184.5 L415.2 185.3 L416.7 186.3 L418.1 187.5 L419.5 189.0 L420.9 190.7 L422.2 192.7 L423.6 195.5 L425.0 202.5 L426.3 207.3 L427.6 210.0 L428.8 212.0 L429.9 213.7 L431.1 215.0 L432.2 216.2 L433.3 217.2 L434.3 218.0 L435.4 218.6 L436.4 219.0 L437.4 219.3 L438.4 219.4" stroke="#dadada" stroke-width="1.3" fill="none" stroke-linejoin="round" stroke-linecap="round"/>
<path d="M470.2 181.9 L471.7 182.1 L473.2 182.5 L474.7 183.0 L476.2 183.7 L477.6 184.6 L479.1 185.7 L480.5 187.1 L481.9 188.6 L483.2 190.5 L484.6 192.9 L485.9 196.3 L487.3 204.4 L488.6 207.6 L489.8 209.9 L491.0 211.7 L492.2 213.2 L493.3 214.5 L494.4 215.6 L495.5 216.4 L496.5 217.1 L497.5 217.7 L498.6 218.0 L499.6 218.2" stroke="#888888" stroke-width="3.0" fill="none" stroke-linejoin="round" stroke-linecap="round"/>
<path d="M470.2 181.9 L471.7 182.1 L473.2 182.5 L474.7 183.0 L476.2 183.7 L477.6 184.6 L479.1 185.7 L480.5 187.1 L481.9 188.6 L483.2 190.5 L484.6 192.9 L485.9 196.3 L487.3 204.4 L488.6 207.6 L489.8 209.9 L491.0 211.7 L492.2 213.2 L493.3 214.5 L494.4 215.6 L495.5 216.4 L496.5 217.1 L497.5 217.7 L498.6 218.0 L499.6 218.2" stroke="#dadada" stroke-width="1.3" fill="none" stroke-linejoin="round" stroke-linecap="round"/>
<path d="M358.2 202.7l-7.1 1.7M356.6 198.4l-6.8 0.9M357.0 205.3l-2.4 -4.5M512.5 200.4l0.5 -4.1M513.8 203.8l4.1 -2.9M515.5 200.6l2.7 -5.0" stroke="#8a8a8a" stroke-width="1.3" fill="none" stroke-linecap="round"/>
<path d="M527.7 194.7 L528.8 193.1 L530.1 191.4 L531.3 189.7" stroke="#888888" stroke-width="3.0" fill="none" stroke-linejoin="round" stroke-linecap="round"/>
<path d="M527.7 194.7 L528.8 193.1 L530.1 191.4 L531.3 189.7" stroke="#dadada" stroke-width="1.3" fill="none" stroke-linejoin="round" stroke-linecap="round"/>
<path d="M566.1 216.9 L567.1 216.7 L568.0 216.4 L569.0 215.8 L570.0 215.1 L571.0 214.3 L572.0 213.2 L573.1 212.0 L574.1 210.6 L575.2 208.9 L576.2 206.8 L577.3 204.3 L578.4 200.8 L579.3 192.2 L580.4 188.6 L581.6 186.0 L582.8 184.0 L584.1 182.2 L585.5 180.8 L586.8 179.5 L588.2 178.4 L589.6 177.5 L591.1 176.8 L592.5 176.3 L594.0 175.9 L595.5 175.7" stroke="#888888" stroke-width="3.0" fill="none" stroke-linejoin="round" stroke-linecap="round"/>
<path d="M566.1 216.9 L567.1 216.7 L568.0 216.4 L569.0 215.8 L570.0 215.1 L571.0 214.3 L572.0 213.2 L573.1 212.0 L574.1 210.6 L575.2 208.9 L576.2 206.8 L577.3 204.3 L578.4 200.8 L579.3 192.2 L580.4 188.6 L581.6 186.0 L582.8 184.0 L584.1 182.2 L585.5 180.8 L586.8 179.5 L588.2 178.4 L589.6 177.5 L591.1 176.8 L592.5 176.3 L594.0 175.9 L595.5 175.7" stroke="#dadada" stroke-width="1.3" fill="none" stroke-linejoin="round" stroke-linecap="round"/>
<path d="M630.8 214.2 L631.8 214.0 L632.7 213.6 L633.7 213.1 L634.7 212.3 L635.7 211.5 L636.7 210.4 L637.8 209.1 L638.8 207.7 L639.9 205.9 L640.9 203.9 L642.0 201.3 L643.1 197.5 L644.0 189.0 L645.1 185.5 L646.3 183.1 L647.6 181.1 L648.9 179.4 L650.2 177.9 L651.6 176.7 L653.0 175.6 L654.4 174.8 L655.8 174.1 L657.3 173.5 L658.8 173.2 L660.3 173.0" stroke="#888888" stroke-width="3.0" fill="none" stroke-linejoin="round" stroke-linecap="round"/>
<path d="M630.8 214.2 L631.8 214.0 L632.7 213.6 L633.7 213.1 L634.7 212.3 L635.7 211.5 L636.7 210.4 L637.8 209.1 L638.8 207.7 L639.9 205.9 L640.9 203.9 L642.0 201.3 L643.1 197.5 L644.0 189.0 L645.1 185.5 L646.3 183.1 L647.6 181.1 L648.9 179.4 L650.2 177.9 L651.6 176.7 L653.0 175.6 L654.4 174.8 L655.8 174.1 L657.3 173.5 L658.8 173.2 L660.3 173.0" stroke="#dadada" stroke-width="1.3" fill="none" stroke-linejoin="round" stroke-linecap="round"/>
<path d="M544.9 217.8 L545.9 217.6 L546.9 217.3 L547.9 216.8 L548.9 216.1 L549.9 215.2 L550.9 214.2 L551.9 213.0 L553.0 211.6 L554.0 209.9 L555.1 207.9 L556.2 205.4 L557.2 202.0 L558.1 193.4 L559.2 189.7 L560.4 187.1 L561.7 185.0 L563.0 183.2 L564.3 181.7 L565.7 180.5 L567.0 179.4 L568.5 178.5 L569.9 177.8 L571.4 177.2 L572.8 176.8 L574.3 176.6" stroke="#888888" stroke-width="3.0" fill="none" stroke-linejoin="round" stroke-linecap="round"/>
<path d="M544.9 217.8 L545.9 217.6 L546.9 217.3 L547.9 216.8 L548.9 216.1 L549.9 215.2 L550.9 214.2 L551.9 213.0 L553.0 211.6 L554.0 209.9 L555.1 207.9 L556.2 205.4 L557.2 202.0 L558.1 193.4 L559.2 189.7 L560.4 187.1 L561.7 185.0 L563.0 183.2 L564.3 181.7 L565.7 180.5 L567.0 179.4 L568.5 178.5 L569.9 177.8 L571.4 177.2 L572.8 176.8 L574.3 176.6" stroke="#dadada" stroke-width="1.3" fill="none" stroke-linejoin="round" stroke-linecap="round"/>
<path d="M609.6 215.1 L610.6 214.9 L611.6 214.5 L612.6 214.0 L613.6 213.3 L614.6 212.4 L615.6 211.4 L616.6 210.1 L617.7 208.7 L618.7 206.9 L619.8 204.9 L620.9 202.4 L621.9 198.8 L622.8 190.2 L624.0 186.6 L625.2 184.1 L626.4 182.1 L627.7 180.4 L629.0 178.9 L630.4 177.6 L631.8 176.6 L633.2 175.7 L634.7 175.0 L636.1 174.4 L637.6 174.1 L639.1 173.8" stroke="#888888" stroke-width="3.0" fill="none" stroke-linejoin="round" stroke-linecap="round"/>
<path d="M609.6 215.1 L610.6 214.9 L611.6 214.5 L612.6 214.0 L613.6 213.3 L614.6 212.4 L615.6 211.4 L616.6 210.1 L617.7 208.7 L618.7 206.9 L619.8 204.9 L620.9 202.4 L621.9 198.8 L622.8 190.2 L624.0 186.6 L625.2 184.1 L626.4 182.1 L627.7 180.4 L629.0 178.9 L630.4 177.6 L631.8 176.6 L633.2 175.7 L634.7 175.0 L636.1 174.4 L637.6 174.1 L639.1 173.8" stroke="#dadada" stroke-width="1.3" fill="none" stroke-linejoin="round" stroke-linecap="round"/>
<path d="M674.0 204.1 L675.1 202.4 L676.2 200.7 L677.3 199.0 L678.5 197.3 L679.8 195.6" stroke="#888888" stroke-width="3.0" fill="none" stroke-linejoin="round" stroke-linecap="round"/>
<path d="M674.0 204.1 L675.1 202.4 L676.2 200.7 L677.3 199.0 L678.5 197.3 L679.8 195.6" stroke="#dadada" stroke-width="1.3" fill="none" stroke-linejoin="round" stroke-linecap="round"/>
<path d="M529.9 194.3L530.5 199.3M534.9 187.7L536.2 205.6M540.6 183.8L540.9 196.9M541.0 198.7L541.3 213.5M546.3 188.3L545.5 215.8M551.5 206.6L550.8 209.5M550.4 211.3L549.9 213.7M560.9 212.7L558.3 201.1M565.3 213.7L562.5 185.9M569.4 213.3L568.9 201.6M568.8 199.8L567.9 180.9M573.6 208.3L573.6 178.7M578.0 200.0L579.4 179.4M583.3 183.4L583.7 182.8M584.7 181.3L584.5 181.6M588.6 181.2L590.2 184.6M593.6 178.5L596.7 202.4M599.4 178.7L601.6 209.2M605.2 180.8L606.0 211.4M610.9 185.9L610.6 197.2M610.5 199.0L610.2 211.7M616.1 203.8L614.5 210.9M625.7 211.3L622.9 198.6M629.9 211.6L628.3 195.5M628.2 193.7L627.3 184.4M634.0 210.1L632.5 178.9M638.2 205.5L638.2 177.2M642.6 197.2L644.0 176.2M648.3 179.9L648.3 180.1M653.1 178.3L654.8 181.8M658.1 175.2L658.9 181.3M659.1 183.1L661.2 199.4M663.9 175.0L664.7 185.5M664.8 187.3L666.2 205.7M669.7 180.1L670.0 191.8M670.1 193.6L670.4 206.1M674.8 188.6L674.5 200.4" stroke="#7e7e7e" stroke-width="1.0" fill="none"/>
<path d="M532.6 188.1 L533.9 186.6 L535.3 185.2 L536.7 184.0 L538.2 183.0 L539.7 182.2 L541.2 181.8 L542.7 182.4 L544.1 183.7 L545.6 185.3 L547.0 187.2 L548.4 189.6 L549.8 192.9 L551.4 201.4 L552.8 205.0 L554.1 207.5 L555.3 209.5 L556.5 211.1 L557.7 212.5 L558.8 213.7 L559.9 214.6 L561.0 215.4 L562.0 216.1 L563.1 216.5 L564.1 216.8 L565.1 216.9" stroke="#888888" stroke-width="3.0" fill="none" stroke-linejoin="round" stroke-linecap="round"/>
<path d="M532.6 188.1 L533.9 186.6 L535.3 185.2 L536.7 184.0 L538.2 183.0 L539.7 182.2 L541.2 181.8 L542.7 182.4 L544.1 183.7 L545.6 185.3 L547.0 187.2 L548.4 189.6 L549.8 192.9 L551.4 201.4 L552.8 205.0 L554.1 207.5 L555.3 209.5 L556.5 211.1 L557.7 212.5 L558.8 213.7 L559.9 214.6 L561.0 215.4 L562.0 216.1 L563.1 216.5 L564.1 216.8 L565.1 216.9" stroke="#dadada" stroke-width="1.3" fill="none" stroke-linejoin="round" stroke-linecap="round"/>
<path d="M597.0 175.6 L598.5 175.7 L600.0 176.0 L601.5 176.4 L603.0 177.0 L604.5 177.8 L606.0 178.7 L607.4 179.8 L608.9 181.2 L610.3 182.8 L611.7 184.8 L613.1 187.2 L614.6 190.7 L616.2 199.2 L617.5 202.6 L618.8 205.0 L620.0 207.0 L621.2 208.6 L622.4 209.9 L623.5 211.1 L624.6 212.0 L625.7 212.8 L626.7 213.4 L627.8 213.9 L628.8 214.1 L629.8 214.2" stroke="#888888" stroke-width="3.0" fill="none" stroke-linejoin="round" stroke-linecap="round"/>
<path d="M597.0 175.6 L598.5 175.7 L600.0 176.0 L601.5 176.4 L603.0 177.0 L604.5 177.8 L606.0 178.7 L607.4 179.8 L608.9 181.2 L610.3 182.8 L611.7 184.8 L613.1 187.2 L614.6 190.7 L616.2 199.2 L617.5 202.6 L618.8 205.0 L620.0 207.0 L621.2 208.6 L622.4 209.9 L623.5 211.1 L624.6 212.0 L625.7 212.8 L626.7 213.4 L627.8 213.9 L628.8 214.1 L629.8 214.2" stroke="#dadada" stroke-width="1.3" fill="none" stroke-linejoin="round" stroke-linecap="round"/>
<path d="M661.8 172.9 L663.3 173.0 L664.8 173.3 L666.3 173.7 L667.8 174.9 L669.2 177.0 L670.6 179.1 L671.9 181.2 L673.2 183.3 L674.5 185.3 L675.7 187.2 L676.9 189.1 L678.1 191.0 L679.3 193.5 L680.3 193.8" stroke="#888888" stroke-width="3.0" fill="none" stroke-linejoin="round" stroke-linecap="round"/>
<path d="M661.8 172.9 L663.3 173.0 L664.8 173.3 L666.3 173.7 L667.8 174.9 L669.2 177.0 L670.6 179.1 L671.9 181.2 L673.2 183.3 L674.5 185.3 L675.7 187.2 L676.9 189.1 L678.1 191.0 L679.3 193.5 L680.3 193.8" stroke="#dadada" stroke-width="1.3" fill="none" stroke-linejoin="round" stroke-linecap="round"/>
<path d="M528.4 199.2 L529.9 200.5 L531.3 201.9 L532.8 203.5 L534.2 205.2 L535.6 207.1 L536.9 209.0 L538.2 211.0 L539.5 212.9 L540.7 214.9 L541.9 216.8 L542.9 217.7 L543.9 217.8" stroke="#888888" stroke-width="3.0" fill="none" stroke-linejoin="round" stroke-linecap="round"/>
<path d="M528.4 199.2 L529.9 200.5 L531.3 201.9 L532.8 203.5 L534.2 205.2 L535.6 207.1 L536.9 209.0 L538.2 211.0 L539.5 212.9 L540.7 214.9 L541.9 216.8 L542.9 217.7 L543.9 217.8" stroke="#dadada" stroke-width="1.3" fill="none" stroke-linejoin="round" stroke-linecap="round"/>
<path d="M575.8 176.5 L577.3 176.6 L578.8 176.8 L580.3 177.2 L581.8 177.8 L583.3 178.6 L584.8 179.5 L586.3 180.6 L587.7 182.0 L589.1 183.6 L590.6 185.5 L592.0 187.9 L593.4 191.3 L595.0 199.8 L596.4 203.3 L597.6 205.8 L598.9 207.7 L600.1 209.4 L601.2 210.7 L602.4 211.9 L603.5 212.9 L604.5 213.6 L605.6 214.3 L606.6 214.7 L607.6 215.0 L608.6 215.1" stroke="#888888" stroke-width="3.0" fill="none" stroke-linejoin="round" stroke-linecap="round"/>
<path d="M575.8 176.5 L577.3 176.6 L578.8 176.8 L580.3 177.2 L581.8 177.8 L583.3 178.6 L584.8 179.5 L586.3 180.6 L587.7 182.0 L589.1 183.6 L590.6 185.5 L592.0 187.9 L593.4 191.3 L595.0 199.8 L596.4 203.3 L597.6 205.8 L598.9 207.7 L600.1 209.4 L601.2 210.7 L602.4 211.9 L603.5 212.9 L604.5 213.6 L605.6 214.3 L606.6 214.7 L607.6 215.0 L608.6 215.1" stroke="#dadada" stroke-width="1.3" fill="none" stroke-linejoin="round" stroke-linecap="round"/>
<path d="M640.6 173.8 L642.1 173.9 L643.6 174.2 L645.1 174.6 L646.6 175.2 L648.1 176.0 L649.5 176.9 L651.0 178.1 L652.5 179.5 L653.9 181.1 L655.3 183.0 L656.7 185.5 L658.1 189.1 L659.7 197.6 L661.1 200.9 L662.4 203.3 L663.6 205.2 L664.8 206.8 L666.0 208.2 L667.1 209.3 L668.2 210.3 L669.2 210.5 L670.1 209.6 L671.1 208.5 L672.0 207.2 L673.0 205.7" stroke="#888888" stroke-width="3.0" fill="none" stroke-linejoin="round" stroke-linecap="round"/>
<path d="M640.6 173.8 L642.1 173.9 L643.6 174.2 L645.1 174.6 L646.6 175.2 L648.1 176.0 L649.5 176.9 L651.0 178.1 L652.5 179.5 L653.9 181.1 L655.3 183.0 L656.7 185.5 L658.1 189.1 L659.7 197.6 L661.1 200.9 L662.4 203.3 L663.6 205.2 L664.8 206.8 L666.0 208.2 L667.1 209.3 L668.2 210.3 L669.2 210.5 L670.1 209.6 L671.1 208.5 L672.0 207.2 L673.0 205.7" stroke="#dadada" stroke-width="1.3" fill="none" stroke-linejoin="round" stroke-linecap="round"/>
<path d="M527.7 197.1l0.2 -5.1M526.6 195.3l0.9 -7.8M527.9 199.4l-1.9 4.6M679.5 190.8l2.0 -3.5M680.6 192.3l7.5 2.2M678.1 196.1l5.8 3.3" stroke="#8a8a8a" stroke-width="1.3" fill="none" stroke-linecap="round"/>
<path d="M11.8 334.0 L13.0 334.7 L14.1 335.1 L15.1 335.0 L16.2 334.3 L17.2 332.3 L18.0 327.1 L19.0 324.3 L20.1 321.7 L21.2 319.2 L22.4 316.7 L23.7 314.9 L25.1 313.9 L26.5 313.0 L28.0 312.4 L29.5 311.9 L31.0 311.7" stroke="#888888" stroke-width="3.0" fill="none" stroke-linejoin="round" stroke-linecap="round"/>
<path d="M11.8 334.0 L13.0 334.7 L14.1 335.1 L15.1 335.0 L16.2 334.3 L17.2 332.3 L18.0 327.1 L19.0 324.3 L20.1 321.7 L21.2 319.2 L22.4 316.7 L23.7 314.9 L25.1 313.9 L26.5 313.0 L28.0 312.4 L29.5 311.9 L31.0 311.7" stroke="#dadada" stroke-width="1.3" fill="none" stroke-linejoin="round" stroke-linecap="round"/>
<path d="M61.2 347.4 L62.2 347.2 L63.2 346.8 L64.1 346.2 L65.1 345.4 L66.1 344.4 L67.1 343.1 L68.1 341.6 L69.1 339.7 L70.2 337.5 L71.3 334.5 L72.2 327.3 L73.2 321.9 L74.4 319.0 L75.6 316.8 L76.9 315.0 L78.3 313.5 L79.6 312.2 L81.1 311.2 L82.5 310.4 L84.0 309.8 L85.5 309.4 L87.0 309.2" stroke="#888888" stroke-width="3.0" fill="none" stroke-linejoin="round" stroke-linecap="round"/>
<path d="M61.2 347.4 L62.2 347.2 L63.2 346.8 L64.1 346.2 L65.1 345.4 L66.1 344.4 L67.1 343.1 L68.1 341.6 L69.1 339.7 L70.2 337.5 L71.3 334.5 L72.2 327.3 L73.2 321.9 L74.4 319.0 L75.6 316.8 L76.9 315.0 L78.3 313.5 L79.6 312.2 L81.1 311.2 L82.5 310.4 L84.0 309.8 L85.5 309.4 L87.0 309.2" stroke="#dadada" stroke-width="1.3" fill="none" stroke-linejoin="round" stroke-linecap="round"/>
<path d="M117.1 344.9 L118.1 344.7 L119.0 344.2 L120.0 343.6 L121.0 342.7 L122.0 341.6 L123.0 340.3 L124.0 338.7 L125.0 336.8 L126.1 334.4 L127.2 331.2 L128.0 322.8 L129.1 318.7 L130.3 316.0 L131.6 313.9 L132.9 312.2 L134.2 310.7 L135.6 309.5 L137.0 308.6 L138.5 307.8 L140.0 307.3 L141.5 306.9" stroke="#888888" stroke-width="3.0" fill="none" stroke-linejoin="round" stroke-linecap="round"/>
<path d="M117.1 344.9 L118.1 344.7 L119.0 344.2 L120.0 343.6 L121.0 342.7 L122.0 341.6 L123.0 340.3 L124.0 338.7 L125.0 336.8 L126.1 334.4 L127.2 331.2 L128.0 322.8 L129.1 318.7 L130.3 316.0 L131.6 313.9 L132.9 312.2 L134.2 310.7 L135.6 309.5 L137.0 308.6 L138.5 307.8 L140.0 307.3 L141.5 306.9" stroke="#dadada" stroke-width="1.3" fill="none" stroke-linejoin="round" stroke-linecap="round"/>
<path d="M172.6 330.5 L173.7 329.0 L174.9 327.4" stroke="#888888" stroke-width="3.0" fill="none" stroke-linejoin="round" stroke-linecap="round"/>
<path d="M172.6 330.5 L173.7 329.0 L174.9 327.4" stroke="#dadada" stroke-width="1.3" fill="none" stroke-linejoin="round" stroke-linecap="round"/>
<path d="M11.7 327.4 L13.0 325.8" stroke="#888888" stroke-width="3.0" fill="none" stroke-linejoin="round" stroke-linecap="round"/>
<path d="M11.7 327.4 L13.0 325.8" stroke="#dadada" stroke-width="1.3" fill="none" stroke-linejoin="round" stroke-linecap="round"/>
<path d="M43.7 348.1 L44.6 347.8 L45.6 347.2 L46.6 346.5 L47.5 345.6 L48.5 344.4 L49.5 343.0 L50.6 341.3 L51.6 339.2 L52.7 336.6 L53.7 332.7 L54.6 324.2 L55.8 320.9 L57.0 318.4 L58.3 316.5 L59.6 314.9 L60.9 313.5 L62.3 312.4 L63.8 311.5 L65.2 310.8 L66.7 310.3 L68.2 310.1" stroke="#888888" stroke-width="3.0" fill="none" stroke-linejoin="round" stroke-linecap="round"/>
<path d="M43.7 348.1 L44.6 347.8 L45.6 347.2 L46.6 346.5 L47.5 345.6 L48.5 344.4 L49.5 343.0 L50.6 341.3 L51.6 339.2 L52.7 336.6 L53.7 332.7 L54.6 324.2 L55.8 320.9 L57.0 318.4 L58.3 316.5 L59.6 314.9 L60.9 313.5 L62.3 312.4 L63.8 311.5 L65.2 310.8 L66.7 310.3 L68.2 310.1" stroke="#dadada" stroke-width="1.3" fill="none" stroke-linejoin="round" stroke-linecap="round"/>
<path d="M98.6 345.7 L99.5 345.6 L100.5 345.2 L101.5 344.7 L102.4 343.9 L103.4 342.9 L104.4 341.7 L105.4 340.2 L106.5 338.4 L107.5 336.2 L108.6 333.4 L109.6 328.6 L110.5 320.8 L111.7 317.8 L112.9 315.5 L114.2 313.6 L115.5 312.1 L116.9 310.8 L118.3 309.7 L119.8 308.9 L121.2 308.2 L122.7 307.8 L124.2 307.6" stroke="#888888" stroke-width="3.0" fill="none" stroke-linejoin="round" stroke-linecap="round"/>
<path d="M98.6 345.7 L99.5 345.6 L100.5 345.2 L101.5 344.7 L102.4 343.9 L103.4 342.9 L104.4 341.7 L105.4 340.2 L106.5 338.4 L107.5 336.2 L108.6 333.4 L109.6 328.6 L110.5 320.8 L111.7 317.8 L112.9 315.5 L114.2 313.6 L115.5 312.1 L116.9 310.8 L118.3 309.7 L119.8 308.9 L121.2 308.2 L122.7 307.8 L124.2 307.6" stroke="#dadada" stroke-width="1.3" fill="none" stroke-linejoin="round" stroke-linecap="round"/>
<path d="M154.4 343.3 L155.4 343.1 L156.4 342.7 L157.3 342.1 L158.3 341.2 L159.3 340.2 L160.3 338.9 L161.4 337.0 L162.5 334.3 L163.7 331.6 L164.9 328.6 L166.0 322.9 L167.3 320.3 L168.7 319.4 L170.1 319.1 L171.6 319.3 L173.0 319.9 L174.5 320.7" stroke="#888888" stroke-width="3.0" fill="none" stroke-linejoin="round" stroke-linecap="round"/>
<path d="M154.4 343.3 L155.4 343.1 L156.4 342.7 L157.3 342.1 L158.3 341.2 L159.3 340.2 L160.3 338.9 L161.4 337.0 L162.5 334.3 L163.7 331.6 L164.9 328.6 L166.0 322.9 L167.3 320.3 L168.7 319.4 L170.1 319.1 L171.6 319.3 L173.0 319.9 L174.5 320.7" stroke="#dadada" stroke-width="1.3" fill="none" stroke-linejoin="round" stroke-linecap="round"/>
<path d="M13.6 332.8L13.7 329.8M13.7 328.0L13.7 328.2M18.0 326.5L18.7 322.1M27.7 314.7L30.6 332.2M33.6 314.2L35.1 332.3M35.2 334.1L35.8 341.4M39.5 316.0L39.7 326.0M39.8 327.8L40.2 345.5M45.2 322.8L44.3 344.8M50.2 340.2L49.0 342.9M54.9 343.1L53.4 340.3M59.5 344.5L56.7 321.7M63.6 343.9L61.9 315.6M67.6 339.6L67.6 320.0M67.6 318.2L67.6 312.2M72.0 329.7L73.5 312.8M82.5 313.3L84.7 322.5M88.0 311.4L90.5 338.0M93.9 312.9L94.6 330.1M94.6 331.9L95.0 341.8M99.7 319.1L99.2 342.5M104.9 336.3L104.5 337.9M104.0 339.6L103.5 341.4M108.8 339.5L108.2 338.8M114.3 342.1L113.5 336.0M113.2 334.2L111.5 321.9M118.4 342.7L117.6 330.1M117.4 328.3L116.4 313.7M122.5 338.6L122.1 311.1M126.8 330.9L127.4 319.3M127.5 317.5L127.9 310.3M137.4 312.1L139.1 317.2M142.5 309.0L145.2 334.7M148.4 310.1L149.8 339.7M154.2 314.5L154.0 340.9M159.7 330.7L159.6 331.4M159.3 333.2L158.3 339.0M168.6 333.3L167.0 323.2" stroke="#7e7e7e" stroke-width="1.0" fill="none"/>
<path d="M32.5 311.6 L34.0 311.8 L35.5 312.1 L37.1 312.7 L38.6 313.5 L40.1 314.5 L41.5 315.7 L43.0 317.3 L44.4 319.1 L45.9 321.5 L47.3 324.8 L48.9 333.3 L50.3 336.9 L51.6 339.4 L52.8 341.3 L53.9 342.9 L55.1 344.2 L56.2 345.3 L57.2 346.1 L58.3 346.7 L59.3 347.1 L60.2 347.4" stroke="#888888" stroke-width="3.0" fill="none" stroke-linejoin="round" stroke-linecap="round"/>
<path d="M32.5 311.6 L34.0 311.8 L35.5 312.1 L37.1 312.7 L38.6 313.5 L40.1 314.5 L41.5 315.7 L43.0 317.3 L44.4 319.1 L45.9 321.5 L47.3 324.8 L48.9 333.3 L50.3 336.9 L51.6 339.4 L52.8 341.3 L53.9 342.9 L55.1 344.2 L56.2 345.3 L57.2 346.1 L58.3 346.7 L59.3 347.1 L60.2 347.4" stroke="#dadada" stroke-width="1.3" fill="none" stroke-linejoin="round" stroke-linecap="round"/>
<path d="M88.5 309.2 L90.0 309.4 L91.5 309.8 L93.1 310.4 L94.6 311.3 L96.0 312.3 L97.5 313.6 L99.0 315.2 L100.4 317.2 L101.8 319.7 L103.3 323.6 L104.9 332.0 L106.2 335.2 L107.5 337.5 L108.7 339.3 L109.9 340.8 L111.0 342.1 L112.1 343.1 L113.1 343.8 L114.1 344.4 L115.1 344.8 L116.1 344.9" stroke="#888888" stroke-width="3.0" fill="none" stroke-linejoin="round" stroke-linecap="round"/>
<path d="M88.5 309.2 L90.0 309.4 L91.5 309.8 L93.1 310.4 L94.6 311.3 L96.0 312.3 L97.5 313.6 L99.0 315.2 L100.4 317.2 L101.8 319.7 L103.3 323.6 L104.9 332.0 L106.2 335.2 L107.5 337.5 L108.7 339.3 L109.9 340.8 L111.0 342.1 L112.1 343.1 L113.1 343.8 L114.1 344.4 L115.1 344.8 L116.1 344.9" stroke="#dadada" stroke-width="1.3" fill="none" stroke-linejoin="round" stroke-linecap="round"/>
<path d="M143.0 306.8 L144.5 306.8 L146.0 307.1 L147.5 307.5 L149.1 308.2 L150.6 309.1 L152.0 310.2 L153.5 311.6 L155.0 313.2 L156.4 315.3 L157.8 318.0 L159.3 322.8 L160.9 330.4 L162.2 333.3 L163.4 335.5 L164.6 336.9 L165.6 337.2 L166.5 337.0 L167.5 336.5 L168.5 335.7 L169.4 334.6 L170.5 333.4 L171.5 332.0" stroke="#888888" stroke-width="3.0" fill="none" stroke-linejoin="round" stroke-linecap="round"/>
<path d="M143.0 306.8 L144.5 306.8 L146.0 307.1 L147.5 307.5 L149.1 308.2 L150.6 309.1 L152.0 310.2 L153.5 311.6 L155.0 313.2 L156.4 315.3 L157.8 318.0 L159.3 322.8 L160.9 330.4 L162.2 333.3 L163.4 335.5 L164.6 336.9 L165.6 337.2 L166.5 337.0 L167.5 336.5 L168.5 335.7 L169.4 334.6 L170.5 333.4 L171.5 332.0" stroke="#dadada" stroke-width="1.3" fill="none" stroke-linejoin="round" stroke-linecap="round"/>
<path d="M14.2 324.3 L15.5 322.9 L16.9 321.6 L18.3 320.5 L19.7 319.6 L21.1 319.0 L22.6 318.7 L24.1 318.8 L25.7 319.5 L27.1 321.3 L28.6 324.1 L30.1 331.0 L31.6 336.5 L32.9 339.3 L34.1 341.4 L35.3 343.1 L36.5 344.5 L37.6 345.7 L38.7 346.6 L39.7 347.3 L40.7 347.8 L41.7 348.1 L42.7 348.2" stroke="#888888" stroke-width="3.0" fill="none" stroke-linejoin="round" stroke-linecap="round"/>
<path d="M14.2 324.3 L15.5 322.9 L16.9 321.6 L18.3 320.5 L19.7 319.6 L21.1 319.0 L22.6 318.7 L24.1 318.8 L25.7 319.5 L27.1 321.3 L28.6 324.1 L30.1 331.0 L31.6 336.5 L32.9 339.3 L34.1 341.4 L35.3 343.1 L36.5 344.5 L37.6 345.7 L38.7 346.6 L39.7 347.3 L40.7 347.8 L41.7 348.1 L42.7 348.2" stroke="#dadada" stroke-width="1.3" fill="none" stroke-linejoin="round" stroke-linecap="round"/>
<path d="M69.7 310.0 L71.3 310.1 L72.8 310.4 L74.3 311.0 L75.8 311.7 L77.3 312.7 L78.8 313.9 L80.2 315.4 L81.7 317.2 L83.1 319.4 L84.5 322.5 L86.2 330.8 L87.6 334.8 L88.8 337.4 L90.1 339.4 L91.3 341.0 L92.4 342.4 L93.5 343.5 L94.6 344.4 L95.6 345.0 L96.6 345.5 L97.6 345.7" stroke="#888888" stroke-width="3.0" fill="none" stroke-linejoin="round" stroke-linecap="round"/>
<path d="M69.7 310.0 L71.3 310.1 L72.8 310.4 L74.3 311.0 L75.8 311.7 L77.3 312.7 L78.8 313.9 L80.2 315.4 L81.7 317.2 L83.1 319.4 L84.5 322.5 L86.2 330.8 L87.6 334.8 L88.8 337.4 L90.1 339.4 L91.3 341.0 L92.4 342.4 L93.5 343.5 L94.6 344.4 L95.6 345.0 L96.6 345.5 L97.6 345.7" stroke="#dadada" stroke-width="1.3" fill="none" stroke-linejoin="round" stroke-linecap="round"/>
<path d="M125.7 307.6 L127.3 307.7 L128.8 308.1 L130.3 308.7 L131.8 309.5 L133.3 310.5 L134.8 311.8 L136.2 313.3 L137.7 315.2 L139.1 317.6 L140.5 321.1 L142.2 329.6 L143.5 333.1 L144.8 335.5 L146.0 337.4 L147.2 339.0 L148.3 340.2 L149.4 341.3 L150.4 342.1 L151.5 342.7 L152.5 343.1 L153.5 343.3" stroke="#888888" stroke-width="3.0" fill="none" stroke-linejoin="round" stroke-linecap="round"/>
<path d="M125.7 307.6 L127.3 307.7 L128.8 308.1 L130.3 308.7 L131.8 309.5 L133.3 310.5 L134.8 311.8 L136.2 313.3 L137.7 315.2 L139.1 317.6 L140.5 321.1 L142.2 329.6 L143.5 333.1 L144.8 335.5 L146.0 337.4 L147.2 339.0 L148.3 340.2 L149.4 341.3 L150.4 342.1 L151.5 342.7 L152.5 343.1 L153.5 343.3" stroke="#dadada" stroke-width="1.3" fill="none" stroke-linejoin="round" stroke-linecap="round"/>
<path d="M12.0 333.1l-5.9 4.2M10.1 327.4l2.2 -3.6M13.0 329.5l-5.5 3.0M176.2 321.0l-1.8 3.6M176.7 326.5l-0.3 4.1M173.6 328.6l-3.5 5.3" stroke="#8a8a8a" stroke-width="1.3" fill="none" stroke-linecap="round"/>
<path d="M181.8 334.7 L182.9 335.4 L184.0 335.7 L185.1 335.7 L186.2 335.2 L187.2 333.5 L188.2 328.7 L189.3 326.2 L190.4 323.8 L191.6 321.5 L192.7 319.2 L194.1 317.7 L195.5 316.7 L196.9 315.9 L198.3 315.2 L199.8 314.8 L201.3 314.5" stroke="#888888" stroke-width="3.0" fill="none" stroke-linejoin="round" stroke-linecap="round"/>
<path d="M181.8 334.7 L182.9 335.4 L184.0 335.7 L185.1 335.7 L186.2 335.2 L187.2 333.5 L188.2 328.7 L189.3 326.2 L190.4 323.8 L191.6 321.5 L192.7 319.2 L194.1 317.7 L195.5 316.7 L196.9 315.9 L198.3 315.2 L199.8 314.8 L201.3 314.5" stroke="#dadada" stroke-width="1.3" fill="none" stroke-linejoin="round" stroke-linecap="round"/>
<path d="M232.4 347.6 L233.4 347.5 L234.4 347.2 L235.4 346.7 L236.4 346.1 L237.4 345.2 L238.5 344.2 L239.5 342.9 L240.6 341.5 L241.7 339.6 L242.8 337.4 L244.0 334.2 L245.0 326.4 L246.2 323.2 L247.4 320.9 L248.7 319.1 L250.1 317.6 L251.4 316.3 L252.8 315.3 L254.2 314.4 L255.7 313.8 L257.1 313.3 L258.6 313.0 L260.1 312.8" stroke="#888888" stroke-width="3.0" fill="none" stroke-linejoin="round" stroke-linecap="round"/>
<path d="M232.4 347.6 L233.4 347.5 L234.4 347.2 L235.4 346.7 L236.4 346.1 L237.4 345.2 L238.5 344.2 L239.5 342.9 L240.6 341.5 L241.7 339.6 L242.8 337.4 L244.0 334.2 L245.0 326.4 L246.2 323.2 L247.4 320.9 L248.7 319.1 L250.1 317.6 L251.4 316.3 L252.8 315.3 L254.2 314.4 L255.7 313.8 L257.1 313.3 L258.6 313.0 L260.1 312.8" stroke="#dadada" stroke-width="1.3" fill="none" stroke-linejoin="round" stroke-linecap="round"/>
<path d="M290.8 345.9 L291.8 345.7 L292.8 345.2 L293.8 344.6 L294.9 343.8 L295.9 342.8 L297.0 341.6 L298.0 340.2 L299.1 338.5 L300.3 336.3 L301.4 333.4 L302.4 325.9 L303.6 322.1 L304.8 319.7 L306.1 317.8 L307.4 316.3 L308.8 315.0 L310.2 313.9 L311.6 313.0 L313.0 312.3 L314.5 311.7 L316.0 311.4 L317.4 311.2" stroke="#888888" stroke-width="3.0" fill="none" stroke-linejoin="round" stroke-linecap="round"/>
<path d="M290.8 345.9 L291.8 345.7 L292.8 345.2 L293.8 344.6 L294.9 343.8 L295.9 342.8 L297.0 341.6 L298.0 340.2 L299.1 338.5 L300.3 336.3 L301.4 333.4 L302.4 325.9 L303.6 322.1 L304.8 319.7 L306.1 317.8 L307.4 316.3 L308.8 315.0 L310.2 313.9 L311.6 313.0 L313.0 312.3 L314.5 311.7 L316.0 311.4 L317.4 311.2" stroke="#dadada" stroke-width="1.3" fill="none" stroke-linejoin="round" stroke-linecap="round"/>
<path d="M181.8 328.7 L183.1 327.3" stroke="#888888" stroke-width="3.0" fill="none" stroke-linejoin="round" stroke-linecap="round"/>
<path d="M181.8 328.7 L183.1 327.3" stroke="#dadada" stroke-width="1.3" fill="none" stroke-linejoin="round" stroke-linecap="round"/>
<path d="M213.6 348.1 L214.6 348.0 L215.6 347.7 L216.7 347.2 L217.7 346.5 L218.7 345.7 L219.7 344.6 L220.8 343.4 L221.9 341.8 L223.0 340.0 L224.1 337.7 L225.2 334.4 L226.3 326.6 L227.5 323.5 L228.7 321.3 L230.0 319.5 L231.4 318.0 L232.7 316.8 L234.1 315.7 L235.5 314.9 L237.0 314.2 L238.4 313.8 L239.9 313.5" stroke="#888888" stroke-width="3.0" fill="none" stroke-linejoin="round" stroke-linecap="round"/>
<path d="M213.6 348.1 L214.6 348.0 L215.6 347.7 L216.7 347.2 L217.7 346.5 L218.7 345.7 L219.7 344.6 L220.8 343.4 L221.9 341.8 L223.0 340.0 L224.1 337.7 L225.2 334.4 L226.3 326.6 L227.5 323.5 L228.7 321.3 L230.0 319.5 L231.4 318.0 L232.7 316.8 L234.1 315.7 L235.5 314.9 L237.0 314.2 L238.4 313.8 L239.9 313.5" stroke="#dadada" stroke-width="1.3" fill="none" stroke-linejoin="round" stroke-linecap="round"/>
<path d="M272.1 346.4 L273.1 346.1 L274.1 345.7 L275.1 345.1 L276.1 344.3 L277.2 343.3 L278.2 342.0 L279.3 340.6 L280.4 338.8 L281.5 336.7 L282.7 333.7 L283.7 326.0 L284.9 322.5 L286.1 320.1 L287.4 318.2 L288.7 316.7 L290.1 315.4 L291.5 314.3 L292.9 313.4 L294.3 312.7 L295.8 312.2 L297.3 311.9 L298.7 311.7" stroke="#888888" stroke-width="3.0" fill="none" stroke-linejoin="round" stroke-linecap="round"/>
<path d="M272.1 346.4 L273.1 346.1 L274.1 345.7 L275.1 345.1 L276.1 344.3 L277.2 343.3 L278.2 342.0 L279.3 340.6 L280.4 338.8 L281.5 336.7 L282.7 333.7 L283.7 326.0 L284.9 322.5 L286.1 320.1 L287.4 318.2 L288.7 316.7 L290.1 315.4 L291.5 314.3 L292.9 313.4 L294.3 312.7 L295.8 312.2 L297.3 311.9 L298.7 311.7" stroke="#dadada" stroke-width="1.3" fill="none" stroke-linejoin="round" stroke-linecap="round"/>
<path d="M329.5 344.8 L330.5 344.1 L331.6 342.5 L332.6 340.7 L333.7 338.9 L334.9 337.1 L336.1 335.3 L337.3 333.6 L338.6 331.9 L339.9 330.4 L341.2 329.0 L342.6 327.1" stroke="#888888" stroke-width="3.0" fill="none" stroke-linejoin="round" stroke-linecap="round"/>
<path d="M329.5 344.8 L330.5 344.1 L331.6 342.5 L332.6 340.7 L333.7 338.9 L334.9 337.1 L336.1 335.3 L337.3 333.6 L338.6 331.9 L339.9 330.4 L341.2 329.0 L342.6 327.1" stroke="#dadada" stroke-width="1.3" fill="none" stroke-linejoin="round" stroke-linecap="round"/>
<path d="M183.7 333.1L183.7 330.3M183.8 328.5L183.8 328.8M188.1 328.3L188.8 324.4M198.0 317.4L200.3 331.4M203.7 316.3L205.5 341.1M209.5 318.6L209.7 326.7M209.7 328.5L210.0 344.4M215.1 323.0L214.2 345.5M220.0 339.4L218.9 343.3M229.4 344.2L228.2 335.0M227.9 333.3L227.1 327.0M233.6 344.5L233.2 336.8M233.0 335.0L232.1 319.9M237.8 342.7L237.6 316.2M242.3 336.7L243.3 316.6M247.4 320.5L248.5 317.9M252.8 317.5L253.8 319.2M257.9 315.1L259.1 325.5M259.3 327.2L260.2 335.0M263.8 316.3L264.0 321.2M264.1 323.0L265.1 341.7M269.4 318.6L269.4 330.2M269.4 332.0L269.4 344.5M274.8 326.0L273.6 343.6M283.9 341.4L282.5 337.8M288.9 343.9L286.7 322.3M293.0 343.2L291.9 316.7M297.2 339.3L297.6 314.0M301.9 329.3L303.4 314.4M312.7 315.9L314.3 322.0M317.9 313.1L319.9 336.7M323.7 315.0L324.0 324.6M324.0 326.4L324.5 340.6M329.3 319.6L328.7 342.2M334.2 332.4L333.3 337.3" stroke="#7e7e7e" stroke-width="1.0" fill="none"/>
<path d="M202.8 314.4 L204.3 314.5 L205.8 314.7 L207.2 315.2 L208.7 315.8 L210.2 316.5 L211.6 317.5 L213.1 318.7 L214.5 320.2 L215.9 322.0 L217.2 324.2 L218.6 327.5 L220.1 335.2 L221.4 338.2 L222.6 340.3 L223.8 342.1 L225.0 343.5 L226.1 344.6 L227.2 345.6 L228.3 346.3 L229.3 346.9 L230.3 347.3 L231.4 347.5" stroke="#888888" stroke-width="3.0" fill="none" stroke-linejoin="round" stroke-linecap="round"/>
<path d="M202.8 314.4 L204.3 314.5 L205.8 314.7 L207.2 315.2 L208.7 315.8 L210.2 316.5 L211.6 317.5 L213.1 318.7 L214.5 320.2 L215.9 322.0 L217.2 324.2 L218.6 327.5 L220.1 335.2 L221.4 338.2 L222.6 340.3 L223.8 342.1 L225.0 343.5 L226.1 344.6 L227.2 345.6 L228.3 346.3 L229.3 346.9 L230.3 347.3 L231.4 347.5" stroke="#dadada" stroke-width="1.3" fill="none" stroke-linejoin="round" stroke-linecap="round"/>
<path d="M261.6 312.8 L263.1 313.1 L264.6 313.4 L266.1 314.0 L267.5 314.7 L269.0 315.7 L270.4 316.8 L271.8 318.2 L273.2 319.9 L274.6 322.0 L276.0 325.0 L277.4 332.7 L278.7 336.1 L280.0 338.3 L281.2 340.1 L282.4 341.6 L283.5 342.8 L284.6 343.8 L285.7 344.6 L286.7 345.2 L287.8 345.6 L288.8 345.9 L289.8 346.0" stroke="#888888" stroke-width="3.0" fill="none" stroke-linejoin="round" stroke-linecap="round"/>
<path d="M261.6 312.8 L263.1 313.1 L264.6 313.4 L266.1 314.0 L267.5 314.7 L269.0 315.7 L270.4 316.8 L271.8 318.2 L273.2 319.9 L274.6 322.0 L276.0 325.0 L277.4 332.7 L278.7 336.1 L280.0 338.3 L281.2 340.1 L282.4 341.6 L283.5 342.8 L284.6 343.8 L285.7 344.6 L286.7 345.2 L287.8 345.6 L288.8 345.9 L289.8 346.0" stroke="#dadada" stroke-width="1.3" fill="none" stroke-linejoin="round" stroke-linecap="round"/>
<path d="M318.9 311.2 L320.4 311.4 L321.9 311.7 L323.4 312.2 L324.9 313.0 L326.3 313.9 L327.8 315.0 L329.2 316.3 L330.6 317.9 L331.9 320.1 L333.2 323.2 L334.5 329.4 L335.6 332.3 L336.7 333.4 L337.8 333.8 L338.9 333.8 L339.9 333.4 L341.0 332.7 L342.1 331.8 L343.2 330.7" stroke="#888888" stroke-width="3.0" fill="none" stroke-linejoin="round" stroke-linecap="round"/>
<path d="M318.9 311.2 L320.4 311.4 L321.9 311.7 L323.4 312.2 L324.9 313.0 L326.3 313.9 L327.8 315.0 L329.2 316.3 L330.6 317.9 L331.9 320.1 L333.2 323.2 L334.5 329.4 L335.6 332.3 L336.7 333.4 L337.8 333.8 L338.9 333.8 L339.9 333.4 L341.0 332.7 L342.1 331.8 L343.2 330.7" stroke="#dadada" stroke-width="1.3" fill="none" stroke-linejoin="round" stroke-linecap="round"/>
<path d="M184.3 325.9 L185.7 324.6 L187.0 323.4 L188.4 322.4 L189.8 321.5 L191.3 320.9 L192.8 320.6 L194.2 320.7 L195.7 321.1 L197.2 322.6 L198.5 324.9 L199.9 328.5 L201.4 336.0 L202.7 338.9 L203.9 341.0 L205.1 342.7 L206.2 344.1 L207.4 345.2 L208.5 346.2 L209.5 346.9 L210.6 347.5 L211.6 347.9 L212.6 348.1" stroke="#888888" stroke-width="3.0" fill="none" stroke-linejoin="round" stroke-linecap="round"/>
<path d="M184.3 325.9 L185.7 324.6 L187.0 323.4 L188.4 322.4 L189.8 321.5 L191.3 320.9 L192.8 320.6 L194.2 320.7 L195.7 321.1 L197.2 322.6 L198.5 324.9 L199.9 328.5 L201.4 336.0 L202.7 338.9 L203.9 341.0 L205.1 342.7 L206.2 344.1 L207.4 345.2 L208.5 346.2 L209.5 346.9 L210.6 347.5 L211.6 347.9 L212.6 348.1" stroke="#dadada" stroke-width="1.3" fill="none" stroke-linejoin="round" stroke-linecap="round"/>
<path d="M241.4 313.3 L242.9 313.4 L244.4 313.6 L245.9 314.0 L247.4 314.6 L248.8 315.3 L250.3 316.3 L251.7 317.5 L253.1 318.9 L254.5 320.6 L255.9 322.8 L257.3 325.9 L258.7 333.6 L260.0 336.8 L261.3 339.0 L262.5 340.8 L263.7 342.2 L264.8 343.4 L265.9 344.4 L267.0 345.2 L268.0 345.8 L269.0 346.2 L270.1 346.4 L271.1 346.5" stroke="#888888" stroke-width="3.0" fill="none" stroke-linejoin="round" stroke-linecap="round"/>
<path d="M241.4 313.3 L242.9 313.4 L244.4 313.6 L245.9 314.0 L247.4 314.6 L248.8 315.3 L250.3 316.3 L251.7 317.5 L253.1 318.9 L254.5 320.6 L255.9 322.8 L257.3 325.9 L258.7 333.6 L260.0 336.8 L261.3 339.0 L262.5 340.8 L263.7 342.2 L264.8 343.4 L265.9 344.4 L267.0 345.2 L268.0 345.8 L269.0 346.2 L270.1 346.4 L271.1 346.5" stroke="#dadada" stroke-width="1.3" fill="none" stroke-linejoin="round" stroke-linecap="round"/>
<path d="M300.2 311.7 L301.7 311.9 L303.2 312.3 L304.7 312.8 L306.2 313.5 L307.6 314.5 L309.1 315.6 L310.5 316.9 L311.9 318.6 L313.3 320.6 L314.6 323.4 L316.1 330.9 L317.4 334.6 L318.7 337.0 L319.9 338.8 L321.1 340.3 L322.2 341.5 L323.3 342.6 L324.4 343.4 L325.4 344.0 L326.5 344.5 L327.5 344.8 L328.5 344.9" stroke="#888888" stroke-width="3.0" fill="none" stroke-linejoin="round" stroke-linecap="round"/>
<path d="M300.2 311.7 L301.7 311.9 L303.2 312.3 L304.7 312.8 L306.2 313.5 L307.6 314.5 L309.1 315.6 L310.5 316.9 L311.9 318.6 L313.3 320.6 L314.6 323.4 L316.1 330.9 L317.4 334.6 L318.7 337.0 L319.9 338.8 L321.1 340.3 L322.2 341.5 L323.3 342.6 L324.4 343.4 L325.4 344.0 L326.5 344.5 L327.5 344.8 L328.5 344.9" stroke="#dadada" stroke-width="1.3" fill="none" stroke-linejoin="round" stroke-linecap="round"/>
<path d="M181.3 331.3l3.8 6.1M181.3 327.9l-1.8 5.5M183.1 327.3l-3.7 -2.4M342.9 329.6l2.4 6.8M342.6 324.8l3.1 -6.2M342.4 331.1l-2.5 5.0" stroke="#8a8a8a" stroke-width="1.3" fill="none" stroke-linecap="round"/>
<path d="M357.8 336.0 L359.0 336.8 L360.1 337.4 L361.2 337.6 L362.2 337.4 L363.3 336.5 L364.4 333.9 L365.4 328.7 L366.5 325.9 L367.6 323.4 L368.8 320.9 L370.1 319.2 L371.5 318.1 L373.0 317.1 L374.4 316.4 L375.9 315.9 L377.4 315.6" stroke="#888888" stroke-width="3.0" fill="none" stroke-linejoin="round" stroke-linecap="round"/>
<path d="M357.8 336.0 L359.0 336.8 L360.1 337.4 L361.2 337.6 L362.2 337.4 L363.3 336.5 L364.4 333.9 L365.4 328.7 L366.5 325.9 L367.6 323.4 L368.8 320.9 L370.1 319.2 L371.5 318.1 L373.0 317.1 L374.4 316.4 L375.9 315.9 L377.4 315.6" stroke="#dadada" stroke-width="1.3" fill="none" stroke-linejoin="round" stroke-linecap="round"/>
<path d="M407.0 348.8 L408.0 348.6 L409.0 348.1 L410.0 347.4 L411.0 346.5 L412.1 345.4 L413.1 344.0 L414.2 342.3 L415.3 340.3 L416.5 337.5 L417.5 331.2 L418.7 325.7 L419.9 323.0 L421.2 320.9 L422.6 319.2 L424.0 317.9 L425.4 316.7 L426.8 315.8 L428.3 315.1 L429.8 314.7 L431.3 314.4" stroke="#888888" stroke-width="3.0" fill="none" stroke-linejoin="round" stroke-linecap="round"/>
<path d="M407.0 348.8 L408.0 348.6 L409.0 348.1 L410.0 347.4 L411.0 346.5 L412.1 345.4 L413.1 344.0 L414.2 342.3 L415.3 340.3 L416.5 337.5 L417.5 331.2 L418.7 325.7 L419.9 323.0 L421.2 320.9 L422.6 319.2 L424.0 317.9 L425.4 316.7 L426.8 315.8 L428.3 315.1 L429.8 314.7 L431.3 314.4" stroke="#dadada" stroke-width="1.3" fill="none" stroke-linejoin="round" stroke-linecap="round"/>
<path d="M460.8 347.6 L461.8 347.3 L462.8 346.8 L463.8 346.1 L464.8 345.2 L465.9 344.0 L466.9 342.6 L468.0 340.9 L469.1 338.8 L470.3 336.0 L471.3 328.6 L472.5 324.1 L473.8 321.5 L475.1 319.5 L476.4 317.9 L477.8 316.5 L479.2 315.4 L480.7 314.5 L482.1 313.9 L483.6 313.4 L485.1 313.1" stroke="#888888" stroke-width="3.0" fill="none" stroke-linejoin="round" stroke-linecap="round"/>
<path d="M460.8 347.6 L461.8 347.3 L462.8 346.8 L463.8 346.1 L464.8 345.2 L465.9 344.0 L466.9 342.6 L468.0 340.9 L469.1 338.8 L470.3 336.0 L471.3 328.6 L472.5 324.1 L473.8 321.5 L475.1 319.5 L476.4 317.9 L477.8 316.5 L479.2 315.4 L480.7 314.5 L482.1 313.9 L483.6 313.4 L485.1 313.1" stroke="#dadada" stroke-width="1.3" fill="none" stroke-linejoin="round" stroke-linecap="round"/>
<path d="M514.5 335.5 L515.7 334.0 L516.9 332.6" stroke="#888888" stroke-width="3.0" fill="none" stroke-linejoin="round" stroke-linecap="round"/>
<path d="M514.5 335.5 L515.7 334.0 L516.9 332.6" stroke="#dadada" stroke-width="1.3" fill="none" stroke-linejoin="round" stroke-linecap="round"/>
<path d="M357.8 329.8 L359.0 328.4 L360.3 326.9" stroke="#888888" stroke-width="3.0" fill="none" stroke-linejoin="round" stroke-linecap="round"/>
<path d="M357.8 329.8 L359.0 328.4 L360.3 326.9" stroke="#dadada" stroke-width="1.3" fill="none" stroke-linejoin="round" stroke-linecap="round"/>
<path d="M389.5 349.2 L390.5 349.0 L391.5 348.5 L392.5 347.8 L393.5 346.9 L394.5 345.8 L395.6 344.4 L396.7 342.7 L397.8 340.7 L398.9 338.0 L400.0 331.7 L401.2 326.1 L402.4 323.4 L403.7 321.3 L405.1 319.6 L406.4 318.3 L407.9 317.1 L409.3 316.2 L410.8 315.5 L412.3 315.1 L413.8 314.8" stroke="#888888" stroke-width="3.0" fill="none" stroke-linejoin="round" stroke-linecap="round"/>
<path d="M389.5 349.2 L390.5 349.0 L391.5 348.5 L392.5 347.8 L393.5 346.9 L394.5 345.8 L395.6 344.4 L396.7 342.7 L397.8 340.7 L398.9 338.0 L400.0 331.7 L401.2 326.1 L402.4 323.4 L403.7 321.3 L405.1 319.6 L406.4 318.3 L407.9 317.1 L409.3 316.2 L410.8 315.5 L412.3 315.1 L413.8 314.8" stroke="#dadada" stroke-width="1.3" fill="none" stroke-linejoin="round" stroke-linecap="round"/>
<path d="M443.3 348.0 L444.3 347.7 L445.3 347.2 L446.3 346.5 L447.3 345.6 L448.3 344.4 L449.4 343.0 L450.5 341.3 L451.6 339.2 L452.7 336.4 L453.8 329.1 L455.0 324.6 L456.2 321.9 L457.5 319.9 L458.9 318.3 L460.3 316.9 L461.7 315.8 L463.1 314.9 L464.6 314.3 L466.1 313.8 L467.6 313.5" stroke="#888888" stroke-width="3.0" fill="none" stroke-linejoin="round" stroke-linecap="round"/>
<path d="M443.3 348.0 L444.3 347.7 L445.3 347.2 L446.3 346.5 L447.3 345.6 L448.3 344.4 L449.4 343.0 L450.5 341.3 L451.6 339.2 L452.7 336.4 L453.8 329.1 L455.0 324.6 L456.2 321.9 L457.5 319.9 L458.9 318.3 L460.3 316.9 L461.7 315.8 L463.1 314.9 L464.6 314.3 L466.1 313.8 L467.6 313.5" stroke="#dadada" stroke-width="1.3" fill="none" stroke-linejoin="round" stroke-linecap="round"/>
<path d="M497.1 346.8 L498.1 346.4 L499.1 345.9 L500.1 345.2 L501.1 344.3 L502.1 343.1 L503.2 341.4 L504.4 338.9 L505.7 336.3 L507.0 333.5 L508.2 327.9 L509.6 325.7 L511.0 324.9 L512.4 324.7 L513.8 325.0 L515.3 325.6 L516.7 326.4" stroke="#888888" stroke-width="3.0" fill="none" stroke-linejoin="round" stroke-linecap="round"/>
<path d="M497.1 346.8 L498.1 346.4 L499.1 345.9 L500.1 345.2 L501.1 344.3 L502.1 343.1 L503.2 341.4 L504.4 338.9 L505.7 336.3 L507.0 333.5 L508.2 327.9 L509.6 325.7 L511.0 324.9 L512.4 324.7 L513.8 325.0 L515.3 325.6 L516.7 326.4" stroke="#dadada" stroke-width="1.3" fill="none" stroke-linejoin="round" stroke-linecap="round"/>
<path d="M359.7 334.5L359.7 330.0M364.1 333.4L364.9 325.6M374.3 319.5L376.3 329.5M379.8 317.8L381.5 342.5M385.7 320.8L385.9 346.7M391.2 326.1L390.5 337.6M390.4 339.4L390.0 346.8M395.7 342.6L395.1 343.9M400.4 344.7L399.4 342.5M405.0 345.6L404.8 343.1M404.6 341.3L403.1 325.4M409.2 345.9L408.9 335.4M408.8 333.6L408.4 320.0M413.5 340.4L414.1 317.0M418.2 326.4L419.8 317.7M429.0 318.1L429.8 323.9M430.0 325.7L431.2 334.4M434.7 316.3L436.1 342.0M440.5 319.9L440.4 345.1M445.9 326.1L444.6 345.0M455.0 343.5L453.4 338.1M459.7 345.8L457.7 321.9M463.7 342.9L463.2 317.4M468.1 338.8L469.0 315.7M473.0 322.3L474.5 317.1M478.9 318.3L479.1 318.5M483.8 316.4L484.6 323.8M484.8 325.6L485.9 335.1M489.5 315.3L490.0 325.2M490.0 327.0L490.7 341.3M495.3 318.8L494.9 344.3M500.6 327.9L499.2 343.0M509.5 338.3L508.4 332.9M514.0 333.3L513.9 331.3M513.7 329.5L513.6 327.6" stroke="#7e7e7e" stroke-width="1.0" fill="none"/>
<path d="M378.9 315.5 L380.5 315.6 L382.0 315.9 L383.5 316.4 L385.0 317.2 L386.4 318.1 L387.9 319.3 L389.3 320.7 L390.7 322.5 L392.1 324.8 L393.5 328.0 L394.9 336.0 L396.2 339.4 L397.4 341.7 L398.6 343.5 L399.8 345.0 L400.9 346.2 L401.9 347.2 L403.0 347.9 L404.0 348.4 L405.0 348.8 L406.0 348.9" stroke="#888888" stroke-width="3.0" fill="none" stroke-linejoin="round" stroke-linecap="round"/>
<path d="M378.9 315.5 L380.5 315.6 L382.0 315.9 L383.5 316.4 L385.0 317.2 L386.4 318.1 L387.9 319.3 L389.3 320.7 L390.7 322.5 L392.1 324.8 L393.5 328.0 L394.9 336.0 L396.2 339.4 L397.4 341.7 L398.6 343.5 L399.8 345.0 L400.9 346.2 L401.9 347.2 L403.0 347.9 L404.0 348.4 L405.0 348.8 L406.0 348.9" stroke="#dadada" stroke-width="1.3" fill="none" stroke-linejoin="round" stroke-linecap="round"/>
<path d="M432.8 314.3 L434.3 314.4 L435.8 314.8 L437.3 315.3 L438.8 316.0 L440.3 317.0 L441.7 318.2 L443.2 319.7 L444.6 321.5 L445.9 323.8 L447.3 327.2 L448.7 335.2 L450.0 338.4 L451.2 340.7 L452.4 342.4 L453.6 343.9 L454.7 345.1 L455.7 346.0 L456.8 346.8 L457.8 347.3 L458.8 347.6 L459.8 347.7" stroke="#888888" stroke-width="3.0" fill="none" stroke-linejoin="round" stroke-linecap="round"/>
<path d="M432.8 314.3 L434.3 314.4 L435.8 314.8 L437.3 315.3 L438.8 316.0 L440.3 317.0 L441.7 318.2 L443.2 319.7 L444.6 321.5 L445.9 323.8 L447.3 327.2 L448.7 335.2 L450.0 338.4 L451.2 340.7 L452.4 342.4 L453.6 343.9 L454.7 345.1 L455.7 346.0 L456.8 346.8 L457.8 347.3 L458.8 347.6 L459.8 347.7" stroke="#dadada" stroke-width="1.3" fill="none" stroke-linejoin="round" stroke-linecap="round"/>
<path d="M486.6 313.1 L488.1 313.2 L489.7 313.6 L491.2 314.1 L492.7 314.9 L494.1 315.9 L495.6 317.1 L497.0 318.6 L498.4 320.5 L499.8 322.9 L501.1 326.5 L502.6 334.4 L503.8 337.5 L505.1 339.7 L506.2 341.1 L507.2 341.5 L508.2 341.4 L509.2 340.9 L510.2 340.2 L511.2 339.3 L512.3 338.1 L513.4 336.8" stroke="#888888" stroke-width="3.0" fill="none" stroke-linejoin="round" stroke-linecap="round"/>
<path d="M486.6 313.1 L488.1 313.2 L489.7 313.6 L491.2 314.1 L492.7 314.9 L494.1 315.9 L495.6 317.1 L497.0 318.6 L498.4 320.5 L499.8 322.9 L501.1 326.5 L502.6 334.4 L503.8 337.5 L505.1 339.7 L506.2 341.1 L507.2 341.5 L508.2 341.4 L509.2 340.9 L510.2 340.2 L511.2 339.3 L512.3 338.1 L513.4 336.8" stroke="#dadada" stroke-width="1.3" fill="none" stroke-linejoin="round" stroke-linecap="round"/>
<path d="M361.6 325.6 L363.0 324.3 L364.4 323.1 L365.8 322.2 L367.3 321.5 L368.7 321.1 L370.3 321.0 L371.8 321.4 L373.2 322.9 L374.6 325.1 L375.9 328.4 L377.4 336.4 L378.7 339.8 L379.9 342.1 L381.1 343.9 L382.2 345.4 L383.3 346.6 L384.4 347.6 L385.5 348.3 L386.5 348.8 L387.5 349.2 L388.5 349.3" stroke="#888888" stroke-width="3.0" fill="none" stroke-linejoin="round" stroke-linecap="round"/>
<path d="M361.6 325.6 L363.0 324.3 L364.4 323.1 L365.8 322.2 L367.3 321.5 L368.7 321.1 L370.3 321.0 L371.8 321.4 L373.2 322.9 L374.6 325.1 L375.9 328.4 L377.4 336.4 L378.7 339.8 L379.9 342.1 L381.1 343.9 L382.2 345.4 L383.3 346.6 L384.4 347.6 L385.5 348.3 L386.5 348.8 L387.5 349.2 L388.5 349.3" stroke="#dadada" stroke-width="1.3" fill="none" stroke-linejoin="round" stroke-linecap="round"/>
<path d="M415.3 314.7 L416.8 314.8 L418.3 315.2 L419.8 315.7 L421.3 316.4 L422.8 317.4 L424.2 318.6 L425.6 320.1 L427.0 321.9 L428.4 324.2 L429.8 327.6 L431.2 335.6 L432.5 338.8 L433.7 341.1 L434.9 342.8 L436.0 344.3 L437.1 345.5 L438.2 346.4 L439.3 347.1 L440.3 347.7 L441.3 348.0 L442.3 348.1" stroke="#888888" stroke-width="3.0" fill="none" stroke-linejoin="round" stroke-linecap="round"/>
<path d="M415.3 314.7 L416.8 314.8 L418.3 315.2 L419.8 315.7 L421.3 316.4 L422.8 317.4 L424.2 318.6 L425.6 320.1 L427.0 321.9 L428.4 324.2 L429.8 327.6 L431.2 335.6 L432.5 338.8 L433.7 341.1 L434.9 342.8 L436.0 344.3 L437.1 345.5 L438.2 346.4 L439.3 347.1 L440.3 347.7 L441.3 348.0 L442.3 348.1" stroke="#dadada" stroke-width="1.3" fill="none" stroke-linejoin="round" stroke-linecap="round"/>
<path d="M469.1 313.5 L470.6 313.6 L472.1 314.0 L473.6 314.5 L475.1 315.3 L476.6 316.3 L478.0 317.5 L479.5 319.0 L480.9 320.9 L482.2 323.3 L483.6 326.9 L485.0 334.8 L486.3 337.9 L487.5 340.0 L488.7 341.8 L489.8 343.2 L490.9 344.4 L492.0 345.3 L493.1 346.0 L494.1 346.5 L495.1 346.8 L496.1 346.9" stroke="#888888" stroke-width="3.0" fill="none" stroke-linejoin="round" stroke-linecap="round"/>
<path d="M469.1 313.5 L470.6 313.6 L472.1 314.0 L473.6 314.5 L475.1 315.3 L476.6 316.3 L478.0 317.5 L479.5 319.0 L480.9 320.9 L482.2 323.3 L483.6 326.9 L485.0 334.8 L486.3 337.9 L487.5 340.0 L488.7 341.8 L489.8 343.2 L490.9 344.4 L492.0 345.3 L493.1 346.0 L494.1 346.5 L495.1 346.8 L496.1 346.9" stroke="#dadada" stroke-width="1.3" fill="none" stroke-linejoin="round" stroke-linecap="round"/>
<path d="M357.7 333.8l-5.5 0.9M356.7 332.4l-5.9 -1.0M356.1 328.0l2.7 -5.0M515.3 325.5l4.2 0.7M516.9 329.0l7.8 -1.6M516.7 331.7l5.8 -1.7" stroke="#8a8a8a" stroke-width="1.3" fill="none" stroke-linecap="round"/>
<path d="M523.1 326.6 L524.4 327.7 L525.5 328.8 L526.7 329.7 L527.8 330.3 L528.8 330.5 L529.8 330.4 L530.8 329.7 L531.8 328.2 L532.7 324.9 L533.3 317.0 L534.4 313.7 L535.6 311.3 L536.8 309.4 L538.1 307.8 L539.5 306.5 L540.9 305.5 L542.4 304.6 L543.9 304.0 L545.4 303.7" stroke="#888888" stroke-width="3.0" fill="none" stroke-linejoin="round" stroke-linecap="round"/>
<path d="M523.1 326.6 L524.4 327.7 L525.5 328.8 L526.7 329.7 L527.8 330.3 L528.8 330.5 L529.8 330.4 L530.8 329.7 L531.8 328.2 L532.7 324.9 L533.3 317.0 L534.4 313.7 L535.6 311.3 L536.8 309.4 L538.1 307.8 L539.5 306.5 L540.9 305.5 L542.4 304.6 L543.9 304.0 L545.4 303.7" stroke="#dadada" stroke-width="1.3" fill="none" stroke-linejoin="round" stroke-linecap="round"/>
<path d="M575.1 337.8 L576.1 337.7 L577.1 337.2 L578.0 336.6 L579.0 335.7 L579.9 334.6 L580.9 333.3 L581.9 331.6 L582.9 329.6 L583.9 327.0 L584.9 323.3 L585.6 314.7 L586.7 311.1 L587.9 308.6 L589.1 306.6 L590.4 304.9 L591.8 303.6 L593.2 302.5 L594.6 301.6 L596.1 300.9 L597.6 300.5 L599.1 300.3" stroke="#888888" stroke-width="3.0" fill="none" stroke-linejoin="round" stroke-linecap="round"/>
<path d="M575.1 337.8 L576.1 337.7 L577.1 337.2 L578.0 336.6 L579.0 335.7 L579.9 334.6 L580.9 333.3 L581.9 331.6 L582.9 329.6 L583.9 327.0 L584.9 323.3 L585.6 314.7 L586.7 311.1 L587.9 308.6 L589.1 306.6 L590.4 304.9 L591.8 303.6 L593.2 302.5 L594.6 301.6 L596.1 300.9 L597.6 300.5 L599.1 300.3" stroke="#dadada" stroke-width="1.3" fill="none" stroke-linejoin="round" stroke-linecap="round"/>
<path d="M628.5 334.5 L629.4 334.1 L630.4 333.6 L631.4 332.7 L632.3 331.7 L633.3 330.4 L634.3 328.8 L635.3 326.9 L636.3 324.5 L637.3 321.2 L638.0 312.6 L639.1 308.6 L640.2 305.9 L641.5 303.8 L642.7 302.1 L644.1 300.7 L645.5 299.5 L646.9 298.6 L648.4 297.9 L649.9 297.4 L651.4 297.1" stroke="#888888" stroke-width="3.0" fill="none" stroke-linejoin="round" stroke-linecap="round"/>
<path d="M628.5 334.5 L629.4 334.1 L630.4 333.6 L631.4 332.7 L632.3 331.7 L633.3 330.4 L634.3 328.8 L635.3 326.9 L636.3 324.5 L637.3 321.2 L638.0 312.6 L639.1 308.6 L640.2 305.9 L641.5 303.8 L642.7 302.1 L644.1 300.7 L645.5 299.5 L646.9 298.6 L648.4 297.9 L649.9 297.4 L651.4 297.1" stroke="#dadada" stroke-width="1.3" fill="none" stroke-linejoin="round" stroke-linecap="round"/>
<path d="M680.4 321.1 L681.4 319.6 L682.5 318.0 L683.7 316.5" stroke="#888888" stroke-width="3.0" fill="none" stroke-linejoin="round" stroke-linecap="round"/>
<path d="M680.4 321.1 L681.4 319.6 L682.5 318.0 L683.7 316.5" stroke="#dadada" stroke-width="1.3" fill="none" stroke-linejoin="round" stroke-linecap="round"/>
<path d="M522.5 320.2 L523.6 318.7 L524.8 317.1 L525.9 315.5 L527.2 313.8 L528.4 312.2 L529.7 310.6" stroke="#888888" stroke-width="3.0" fill="none" stroke-linejoin="round" stroke-linecap="round"/>
<path d="M522.5 320.2 L523.6 318.7 L524.8 317.1 L525.9 315.5 L527.2 313.8 L528.4 312.2 L529.7 310.6" stroke="#dadada" stroke-width="1.3" fill="none" stroke-linejoin="round" stroke-linecap="round"/>
<path d="M558.7 338.8 L559.7 338.4 L560.6 337.8 L561.6 337.0 L562.6 335.9 L563.5 334.6 L564.5 333.0 L565.5 331.1 L566.5 328.7 L567.5 325.4 L568.3 316.8 L569.3 312.8 L570.5 310.2 L571.7 308.1 L573.0 306.3 L574.3 304.9 L575.7 303.7 L577.2 302.8 L578.6 302.1 L580.1 301.6 L581.6 301.4" stroke="#888888" stroke-width="3.0" fill="none" stroke-linejoin="round" stroke-linecap="round"/>
<path d="M558.7 338.8 L559.7 338.4 L560.6 337.8 L561.6 337.0 L562.6 335.9 L563.5 334.6 L564.5 333.0 L565.5 331.1 L566.5 328.7 L567.5 325.4 L568.3 316.8 L569.3 312.8 L570.5 310.2 L571.7 308.1 L573.0 306.3 L574.3 304.9 L575.7 303.7 L577.2 302.8 L578.6 302.1 L580.1 301.6 L581.6 301.4" stroke="#dadada" stroke-width="1.3" fill="none" stroke-linejoin="round" stroke-linecap="round"/>
<path d="M611.1 335.6 L612.1 335.3 L613.0 334.8 L614.0 334.0 L614.9 333.0 L615.9 331.8 L616.9 330.2 L617.9 328.4 L618.9 326.1 L619.9 323.1 L620.7 315.4 L621.6 310.4 L622.8 307.5 L624.0 305.3 L625.3 303.5 L626.6 302.0 L628.0 300.8 L629.4 299.8 L630.9 299.0 L632.4 298.5 L633.9 298.2" stroke="#888888" stroke-width="3.0" fill="none" stroke-linejoin="round" stroke-linecap="round"/>
<path d="M611.1 335.6 L612.1 335.3 L613.0 334.8 L614.0 334.0 L614.9 333.0 L615.9 331.8 L616.9 330.2 L617.9 328.4 L618.9 326.1 L619.9 323.1 L620.7 315.4 L621.6 310.4 L622.8 307.5 L624.0 305.3 L625.3 303.5 L626.6 302.0 L628.0 300.8 L629.4 299.8 L630.9 299.0 L632.4 298.5 L633.9 298.2" stroke="#dadada" stroke-width="1.3" fill="none" stroke-linejoin="round" stroke-linecap="round"/>
<path d="M663.5 332.4 L664.5 332.2 L665.4 331.7 L666.4 331.0 L667.3 330.0 L668.3 328.8 L669.3 327.4 L670.3 325.3 L671.4 322.5 L672.6 319.4 L673.7 315.4 L674.8 309.9 L676.1 308.5 L677.5 307.9 L678.9 307.9 L680.4 308.3 L681.9 309.0 L683.3 309.9" stroke="#888888" stroke-width="3.0" fill="none" stroke-linejoin="round" stroke-linecap="round"/>
<path d="M663.5 332.4 L664.5 332.2 L665.4 331.7 L666.4 331.0 L667.3 330.0 L668.3 328.8 L669.3 327.4 L670.3 325.3 L671.4 322.5 L672.6 319.4 L673.7 315.4 L674.8 309.9 L676.1 308.5 L677.5 307.9 L678.9 307.9 L680.4 308.3 L681.9 309.0 L683.3 309.9" stroke="#dadada" stroke-width="1.3" fill="none" stroke-linejoin="round" stroke-linecap="round"/>
<path d="M524.9 325.9L524.5 320.4M529.4 328.0L529.2 313.8M533.3 317.1L534.5 309.2M543.6 307.2L544.2 310.3M544.5 312.1L546.8 325.8M549.5 306.7L551.3 326.5M551.4 328.3L551.8 332.9M555.4 309.9L556.2 335.9M561.1 316.9L560.2 336.3M571.1 334.9L570.9 334.0M570.4 332.2L568.5 325.1M575.3 335.3L572.5 309.7M579.2 332.7L577.9 305.2M583.4 325.8L583.7 309.1M583.7 307.3L583.7 303.9M588.5 307.0L588.7 306.7M593.3 305.2L593.0 304.5M593.7 306.2L595.0 309.0M598.5 303.3L601.5 326.3M604.4 303.6L606.2 330.9M610.3 307.6L610.5 333.6M616.0 325.1L614.9 330.5M625.5 332.5L622.4 312.2M629.5 331.8L627.8 311.2M627.6 309.4L627.1 303.6M633.5 327.1L633.3 321.4M633.3 319.6L632.8 300.4M637.6 318.2L638.2 309.7M638.3 307.9L638.7 301.7M647.7 300.8L650.7 315.5M653.4 299.1L654.6 310.5M654.8 312.3L656.1 325.5M659.4 301.5L660.6 329.8M665.2 309.0L664.7 329.8M670.2 325.7L669.7 326.6M674.6 324.0L673.4 320.8M679.2 320.4L677.9 310.1" stroke="#7e7e7e" stroke-width="1.0" fill="none"/>
<path d="M546.9 303.5 L548.4 303.6 L549.9 303.9 L551.5 304.4 L553.0 305.1 L554.5 306.1 L556.1 307.3 L557.6 308.9 L559.0 310.8 L560.5 313.3 L562.0 317.1 L563.8 325.5 L565.2 328.7 L566.5 331.0 L567.7 332.8 L568.9 334.3 L570.0 335.5 L571.1 336.4 L572.2 337.1 L573.2 337.6 L574.2 337.8" stroke="#888888" stroke-width="3.0" fill="none" stroke-linejoin="round" stroke-linecap="round"/>
<path d="M546.9 303.5 L548.4 303.6 L549.9 303.9 L551.5 304.4 L553.0 305.1 L554.5 306.1 L556.1 307.3 L557.6 308.9 L559.0 310.8 L560.5 313.3 L562.0 317.1 L563.8 325.5 L565.2 328.7 L566.5 331.0 L567.7 332.8 L568.9 334.3 L570.0 335.5 L571.1 336.4 L572.2 337.1 L573.2 337.6 L574.2 337.8" stroke="#dadada" stroke-width="1.3" fill="none" stroke-linejoin="round" stroke-linecap="round"/>
<path d="M600.7 300.3 L602.2 300.6 L603.7 301.0 L605.3 301.7 L606.8 302.6 L608.3 303.8 L609.8 305.3 L611.3 307.1 L612.8 309.4 L614.3 312.8 L616.1 321.3 L617.5 324.9 L618.8 327.3 L620.1 329.2 L621.2 330.8 L622.4 332.0 L623.5 333.0 L624.5 333.7 L625.6 334.3 L626.6 334.6 L627.5 334.6" stroke="#888888" stroke-width="3.0" fill="none" stroke-linejoin="round" stroke-linecap="round"/>
<path d="M600.7 300.3 L602.2 300.6 L603.7 301.0 L605.3 301.7 L606.8 302.6 L608.3 303.8 L609.8 305.3 L611.3 307.1 L612.8 309.4 L614.3 312.8 L616.1 321.3 L617.5 324.9 L618.8 327.3 L620.1 329.2 L621.2 330.8 L622.4 332.0 L623.5 333.0 L624.5 333.7 L625.6 334.3 L626.6 334.6 L627.5 334.6" stroke="#dadada" stroke-width="1.3" fill="none" stroke-linejoin="round" stroke-linecap="round"/>
<path d="M652.9 297.1 L654.5 297.3 L656.0 297.7 L657.5 298.3 L659.1 299.2 L660.6 300.3 L662.1 301.7 L663.6 303.4 L665.0 305.6 L666.5 308.6 L668.3 316.7 L669.8 321.0 L671.1 323.6 L672.4 325.6 L673.5 326.8 L674.5 327.0 L675.5 326.7 L676.4 326.0 L677.4 325.1 L678.3 323.9 L679.3 322.6" stroke="#888888" stroke-width="3.0" fill="none" stroke-linejoin="round" stroke-linecap="round"/>
<path d="M652.9 297.1 L654.5 297.3 L656.0 297.7 L657.5 298.3 L659.1 299.2 L660.6 300.3 L662.1 301.7 L663.6 303.4 L665.0 305.6 L666.5 308.6 L668.3 316.7 L669.8 321.0 L671.1 323.6 L672.4 325.6 L673.5 326.8 L674.5 327.0 L675.5 326.7 L676.4 326.0 L677.4 325.1 L678.3 323.9 L679.3 322.6" stroke="#dadada" stroke-width="1.3" fill="none" stroke-linejoin="round" stroke-linecap="round"/>
<path d="M531.1 309.2 L532.5 308.0 L534.0 307.1 L535.5 306.4 L537.0 306.9 L538.6 308.1 L540.1 309.6 L541.5 311.4 L543.0 313.7 L544.5 317.1 L546.3 325.6 L547.7 329.2 L549.0 331.6 L550.3 333.5 L551.5 335.0 L552.6 336.3 L553.7 337.3 L554.8 338.0 L555.8 338.5 L556.8 338.8 L557.8 338.9" stroke="#888888" stroke-width="3.0" fill="none" stroke-linejoin="round" stroke-linecap="round"/>
<path d="M531.1 309.2 L532.5 308.0 L534.0 307.1 L535.5 306.4 L537.0 306.9 L538.6 308.1 L540.1 309.6 L541.5 311.4 L543.0 313.7 L544.5 317.1 L546.3 325.6 L547.7 329.2 L549.0 331.6 L550.3 333.5 L551.5 335.0 L552.6 336.3 L553.7 337.3 L554.8 338.0 L555.8 338.5 L556.8 338.8 L557.8 338.9" stroke="#dadada" stroke-width="1.3" fill="none" stroke-linejoin="round" stroke-linecap="round"/>
<path d="M583.2 301.4 L584.7 301.5 L586.2 301.9 L587.8 302.6 L589.3 303.4 L590.8 304.6 L592.3 306.0 L593.8 307.7 L595.3 309.9 L596.8 312.9 L598.5 321.0 L600.0 325.3 L601.4 327.9 L602.6 329.9 L603.8 331.5 L605.0 332.8 L606.1 333.8 L607.1 334.6 L608.2 335.2 L609.2 335.6 L610.2 335.7" stroke="#888888" stroke-width="3.0" fill="none" stroke-linejoin="round" stroke-linecap="round"/>
<path d="M583.2 301.4 L584.7 301.5 L586.2 301.9 L587.8 302.6 L589.3 303.4 L590.8 304.6 L592.3 306.0 L593.8 307.7 L595.3 309.9 L596.8 312.9 L598.5 321.0 L600.0 325.3 L601.4 327.9 L602.6 329.9 L603.8 331.5 L605.0 332.8 L606.1 333.8 L607.1 334.6 L608.2 335.2 L609.2 335.6 L610.2 335.7" stroke="#dadada" stroke-width="1.3" fill="none" stroke-linejoin="round" stroke-linecap="round"/>
<path d="M635.4 298.1 L636.9 298.3 L638.5 298.6 L640.0 299.2 L641.6 300.0 L643.1 301.1 L644.6 302.4 L646.1 304.1 L647.6 306.1 L649.0 308.9 L650.6 314.3 L652.3 321.3 L653.7 324.1 L654.9 326.2 L656.2 327.9 L657.3 329.3 L658.4 330.4 L659.5 331.3 L660.5 331.9 L661.6 332.3 L662.5 332.5" stroke="#888888" stroke-width="3.0" fill="none" stroke-linejoin="round" stroke-linecap="round"/>
<path d="M635.4 298.1 L636.9 298.3 L638.5 298.6 L640.0 299.2 L641.6 300.0 L643.1 301.1 L644.6 302.4 L646.1 304.1 L647.6 306.1 L649.0 308.9 L650.6 314.3 L652.3 321.3 L653.7 324.1 L654.9 326.2 L656.2 327.9 L657.3 329.3 L658.4 330.4 L659.5 331.3 L660.5 331.9 L661.6 332.3 L662.5 332.5" stroke="#dadada" stroke-width="1.3" fill="none" stroke-linejoin="round" stroke-linecap="round"/>
<path d="M521.3 318.9l-3.8 3.5M523.4 321.7l-4.6 -1.8M522.9 323.7l-7.7 1.6M682.3 317.3l-0.2 4.7M682.5 315.6l0.9 4.9M685.5 317.0l-1.7 4.5" stroke="#8a8a8a" stroke-width="1.3" fill="none" stroke-linecap="round"/>
<path d="M91.0 50.0C91.2 49.8 92.1 49.4 92.2 48.6C92.2 47.9 91.5 46.2 91.5 45.4C91.4 44.7 91.6 44.6 92.0 44.0C92.4 43.4 93.2 42.7 94.0 42.1C94.8 41.5 96.0 40.7 96.7 40.2C97.3 39.7 97.4 39.3 98.0 39.0C98.6 38.7 99.3 38.8 100.3 38.5C101.2 38.3 102.9 37.9 103.6 37.7C104.4 37.4 104.5 37.3 105.0 37.0C105.5 36.7 106.0 36.6 106.8 35.9C107.6 35.3 109.1 33.7 110.0 33.1C110.8 32.4 111.4 32.3 112.0 32.0C112.6 31.7 113.3 31.8 113.5 31.2C113.7 30.5 112.6 28.4 113.0 28.0C113.4 27.6 115.1 29.0 115.7 29.0C116.4 29.0 116.5 27.9 117.0 28.0C117.5 28.1 117.9 29.2 118.5 29.6C119.2 29.9 120.1 29.9 121.0 30.0C121.9 30.1 123.3 30.4 124.0 30.1C124.6 29.8 124.4 28.6 124.9 28.4C125.4 28.2 126.5 28.6 127.0 29.0C127.5 29.4 127.5 30.3 127.8 30.8C128.2 31.3 128.6 31.3 129.0 32.0C129.4 32.7 130.3 34.5 130.5 35.1C130.7 35.8 129.7 35.5 130.0 36.0C130.3 36.5 131.6 37.4 132.3 37.9C133.0 38.3 133.3 38.5 134.1 38.7C134.9 38.9 136.1 39.0 137.0 39.0C137.9 39.0 138.8 38.5 139.6 38.8C140.5 39.2 141.1 40.4 142.0 41.0C142.9 41.6 144.2 41.8 145.0 42.3C145.9 42.8 146.5 43.3 147.0 44.0C147.5 44.7 148.2 45.7 148.1 46.4C148.0 47.1 146.5 47.4 146.5 48.0C146.5 48.6 147.8 49.3 148.0 50.0C148.2 50.7 147.9 51.1 147.4 51.9C146.9 52.7 145.8 54.4 145.0 55.0C144.2 55.6 143.2 55.6 142.6 55.4C141.9 55.2 141.4 54.5 141.0 54.0C140.6 53.5 140.3 52.8 140.3 52.2C140.3 51.5 140.5 50.7 141.0 50.0C141.5 49.3 142.7 48.3 143.0 48.0" stroke="#aa4848" stroke-width="1.1" fill="none" stroke-linejoin="round" stroke-linecap="round"/>
<path d="M112.0 39.0C111.7 39.5 110.4 41.5 110.1 42.2C109.9 42.8 110.8 42.4 110.6 43.1C110.4 43.7 109.2 45.1 109.0 46.0C108.8 46.9 109.4 47.3 109.7 48.2C109.9 49.1 110.5 50.6 110.7 51.4C110.9 52.2 110.9 52.6 111.0 53.0C111.1 53.4 111.0 53.2 111.5 53.9C112.0 54.5 113.0 56.6 114.0 57.0C115.0 57.4 116.5 56.5 117.3 56.3C118.1 56.2 118.5 56.7 119.0 56.0C119.5 55.3 120.0 53.1 120.1 52.3C120.3 51.5 120.0 51.2 120.0 51.0" stroke="#aa4848" stroke-width="1.1" fill="none" stroke-linejoin="round" stroke-linecap="round"/>
<path d="M92.0 49.0C92.0 49.4 92.4 51.1 92.1 51.6C91.8 52.1 91.0 52.0 90.0 52.0C89.0 52.0 87.0 51.4 86.3 51.7C85.5 52.0 86.2 53.5 85.5 53.9C84.8 54.3 82.8 53.9 82.0 54.0C81.2 54.1 81.0 53.9 80.4 54.2C79.8 54.5 79.0 55.3 78.3 55.6C77.5 55.9 76.5 55.7 76.0 56.0C75.5 56.3 75.8 56.6 75.5 57.2C75.3 57.8 74.8 58.9 74.5 59.7C74.2 60.5 74.1 61.1 74.0 62.0C73.9 62.9 73.9 64.5 73.9 65.2C73.8 65.9 74.1 65.6 73.7 66.1C73.4 66.6 72.6 67.4 72.0 68.0C71.4 68.6 70.9 69.1 70.4 69.9C69.9 70.8 69.7 72.5 69.0 73.0C68.3 73.5 66.6 72.5 65.9 72.9C65.2 73.2 65.2 74.4 65.0 75.0C64.8 75.6 64.7 75.7 64.6 76.6C64.4 77.4 64.1 79.2 64.0 79.9C63.9 80.7 63.8 80.5 64.0 81.0C64.2 81.5 64.7 82.5 65.1 83.1C65.4 83.8 65.8 84.7 66.0 85.0" stroke="#aa4848" stroke-width="1.1" fill="none" stroke-linejoin="round" stroke-linecap="round"/>
<path d="M66.0 85.0C66.0 85.4 65.9 86.4 66.0 87.1C66.2 87.8 66.7 88.6 67.0 89.2C67.3 89.9 67.5 91.1 68.0 91.0C68.5 90.9 69.6 89.0 70.3 88.5C71.0 88.0 71.5 87.7 72.0 88.0C72.5 88.3 72.5 89.8 73.3 90.3C74.2 90.8 76.2 90.7 77.0 91.0C77.8 91.3 77.3 91.7 78.1 92.4C78.8 93.0 80.9 94.2 81.5 94.9C82.2 95.7 81.5 96.5 82.0 97.0C82.5 97.5 84.1 97.7 84.8 97.9C85.5 98.1 85.8 97.8 86.3 98.2C86.9 98.5 87.3 99.6 88.0 100.0C88.7 100.4 89.9 100.6 90.7 100.5C91.4 100.5 92.0 100.2 92.7 99.9C93.4 99.7 94.3 99.7 95.0 99.0C95.7 98.3 96.4 96.6 96.9 96.0C97.4 95.3 97.3 95.1 98.0 95.0C98.7 94.9 100.5 95.4 101.3 95.2C102.1 95.0 102.1 93.9 102.9 93.9C103.6 93.8 105.0 95.2 106.0 95.0C107.0 94.8 108.1 93.4 108.9 92.9C109.6 92.4 109.9 92.4 110.5 91.9C111.1 91.4 111.9 90.8 112.5 90.0C113.1 89.2 113.4 87.3 114.0 87.0C114.6 86.7 115.3 88.0 116.1 88.4C116.8 88.8 117.7 89.3 118.5 89.4C119.4 89.5 120.1 89.1 121.0 89.0C121.9 88.9 123.4 88.8 123.9 89.0C124.4 89.3 123.6 89.8 124.1 90.3C124.6 90.8 126.0 91.6 127.0 92.0C128.0 92.4 129.4 92.6 130.1 92.8C130.8 93.1 130.8 93.2 131.3 93.5C131.8 93.9 132.8 94.4 133.0 95.0C133.2 95.6 132.7 96.4 132.5 97.2C132.4 98.1 132.5 99.4 132.0 100.0C131.5 100.6 130.1 100.5 129.3 100.9C128.6 101.3 128.3 102.1 127.5 102.3C126.8 102.5 125.7 102.0 125.0 102.0C124.3 102.0 124.0 102.2 123.4 102.0C122.9 101.9 122.6 101.7 121.9 101.2C121.1 100.7 119.6 99.8 119.0 99.0C118.4 98.2 118.6 96.7 118.4 96.2C118.2 95.7 118.3 96.6 117.9 96.1C117.5 95.6 116.2 93.9 116.0 93.0C115.8 92.1 116.7 91.8 116.7 90.9C116.7 90.1 116.1 88.6 116.0 87.8C115.9 87.1 116.2 87.1 116.0 86.4C115.9 85.8 115.1 85.0 115.0 84.0C114.9 83.0 114.8 81.0 115.2 80.3C115.5 79.6 116.9 80.6 117.2 79.8C117.5 79.1 116.9 76.6 117.0 76.0C117.1 75.4 117.3 76.4 118.0 76.2C118.7 76.1 120.5 75.2 121.0 75.0" stroke="#aa4848" stroke-width="1.1" fill="none" stroke-linejoin="round" stroke-linecap="round"/>
<path d="M66.0 99.0C66.1 99.3 66.0 99.7 66.4 100.5C66.7 101.4 67.3 103.5 68.0 104.0C68.7 104.5 69.7 103.7 70.4 103.8C71.1 104.0 71.4 104.7 72.3 105.1C73.2 105.5 74.8 105.7 76.0 106.0C77.2 106.3 78.4 106.8 79.3 106.7C80.1 106.6 80.5 105.5 81.1 105.3C81.7 105.1 82.2 105.4 82.8 105.5C83.5 105.6 84.4 106.1 85.0 106.0C85.6 105.9 85.9 104.6 86.6 104.7C87.3 104.7 88.1 106.1 89.1 106.2C90.2 106.4 92.0 106.0 93.0 105.5C94.0 105.1 94.7 103.9 95.3 103.7C96.0 103.4 96.4 104.1 97.0 104.0C97.6 103.9 98.2 103.5 99.2 103.3C100.2 103.1 101.9 103.2 102.9 102.9C103.9 102.5 104.2 101.4 105.0 101.0C105.8 100.6 107.2 100.4 107.9 100.7C108.6 101.0 108.7 102.4 109.3 102.7C109.8 103.1 110.3 102.9 111.0 103.0C111.7 103.1 112.7 103.1 113.5 103.2C114.3 103.4 114.9 103.4 115.9 104.0C116.9 104.6 118.7 106.4 119.5 106.9C120.4 107.4 120.8 107.0 121.0 107.0" stroke="#aa4848" stroke-width="1.1" fill="none" stroke-linejoin="round" stroke-linecap="round"/>
<path d="M78.0 80.0C78.2 80.4 79.0 81.9 79.3 82.6C79.6 83.2 79.5 83.8 80.0 84.0C80.5 84.2 81.7 84.4 82.2 84.1C82.7 83.7 82.9 82.5 83.0 82.0C83.1 81.5 83.2 81.7 83.1 81.0C82.9 80.3 82.2 78.5 82.0 78.0" stroke="#aa4848" stroke-width="1.1" fill="none" stroke-linejoin="round" stroke-linecap="round"/>
<path d="M119.8 43.2 C119.8 33.0 125.0 33.0 125.0 39.0 S130.2 45.0 130.2 34.8" stroke="#2f6ca8" stroke-width="3.6" fill="none" stroke-linecap="round" stroke-linejoin="round"/><path d="M119.8 43.2 C119.8 33.0 125.0 33.0 125.0 39.0 S130.2 45.0 130.2 34.8" stroke="#4b92d8" stroke-width="2.7" fill="none" stroke-linecap="round" stroke-linejoin="round"/><path d="M119.8 43.2 C119.8 33.0 125.0 33.0 125.0 39.0 S130.2 45.0 130.2 34.8" stroke="#86bdf0" stroke-width="0.7" fill="none" stroke-linecap="round" stroke-dasharray="2 3"/>
<path d="M115.5 46.5 A2.5 2.5 0 1 0 115.5 49.5" stroke="#2f6ca8" stroke-width="3.9" fill="none" stroke-linecap="round" stroke-linejoin="round"/><path d="M115.5 46.5 A2.5 2.5 0 1 0 115.5 49.5" stroke="#4b92d8" stroke-width="3.0" fill="none" stroke-linecap="round" stroke-linejoin="round"/><path d="M115.5 46.5 A2.5 2.5 0 1 0 115.5 49.5" stroke="#86bdf0" stroke-width="0.7" fill="none" stroke-linecap="round" stroke-dasharray="2 3"/>
<path d="M71.0 90.5 A5.0 5.0 0 1 0 71.0 96.5" stroke="#2f6ca8" stroke-width="3.9" fill="none" stroke-linecap="round" stroke-linejoin="round"/><path d="M71.0 90.5 A5.0 5.0 0 1 0 71.0 96.5" stroke="#4b92d8" stroke-width="3.0" fill="none" stroke-linecap="round" stroke-linejoin="round"/><path d="M71.0 90.5 A5.0 5.0 0 1 0 71.0 96.5" stroke="#86bdf0" stroke-width="0.7" fill="none" stroke-linecap="round" stroke-dasharray="2 3"/>
<path d="M83.9 84.7 A3.0 3.0 0 1 0 83.9 88.3" stroke="#2f6ca8" stroke-width="3.9" fill="none" stroke-linecap="round" stroke-linejoin="round"/><path d="M83.9 84.7 A3.0 3.0 0 1 0 83.9 88.3" stroke="#4b92d8" stroke-width="3.0" fill="none" stroke-linecap="round" stroke-linejoin="round"/><path d="M83.9 84.7 A3.0 3.0 0 1 0 83.9 88.3" stroke="#86bdf0" stroke-width="0.7" fill="none" stroke-linecap="round" stroke-dasharray="2 3"/>
<circle cx="113.4" cy="39.3" r="2" fill="#f7c843" stroke="#c99a25" stroke-width="0.6"/>
<circle cx="112.6" cy="44.1" r="2" fill="#f7c843" stroke="#c99a25" stroke-width="0.6"/>
<circle cx="79.7" cy="88.3" r="2" fill="#f7c843" stroke="#c99a25" stroke-width="0.6"/>
<circle cx="78.9" cy="93.5" r="2" fill="#f7c843" stroke="#c99a25" stroke-width="0.6"/>
<path d="M258.0 55.0C258.0 54.6 257.7 53.1 258.1 52.4C258.6 51.6 260.1 51.3 260.6 50.5C261.2 49.7 261.3 48.3 261.6 47.3C261.8 46.4 261.7 45.8 262.0 45.0C262.3 44.2 263.2 43.4 263.2 42.6C263.2 41.7 262.1 40.6 262.0 39.9C261.9 39.2 262.1 39.4 262.4 38.5C262.7 37.7 263.6 36.0 264.0 35.0C264.4 34.0 265.1 32.9 265.1 32.3C265.0 31.6 263.7 31.7 263.5 31.0C263.4 30.3 263.9 28.3 264.0 28.0C264.1 27.7 263.9 28.6 264.0 29.2C264.1 29.8 264.2 30.8 264.6 31.6C264.9 32.4 265.5 33.1 266.0 34.0C266.5 34.9 267.3 36.3 267.6 37.1C268.0 38.0 267.6 38.6 268.0 39.1C268.4 39.6 269.8 39.2 270.0 40.0C270.2 40.8 269.6 42.9 269.5 43.6C269.4 44.4 269.7 43.8 269.4 44.5C269.2 45.2 267.8 47.2 268.0 48.0C268.2 48.8 269.7 48.4 270.4 49.1C271.0 49.8 271.8 52.0 272.0 52.0C272.2 52.0 271.4 49.9 271.8 49.1C272.3 48.2 274.1 47.7 274.7 46.8C275.2 46.0 274.9 44.7 275.0 44.0C275.1 43.3 274.9 43.4 275.5 42.6C276.1 41.7 278.0 39.7 278.5 38.9C279.0 38.0 278.4 38.2 278.6 37.6C278.9 36.9 279.3 35.8 280.0 35.0C280.7 34.2 282.1 33.0 282.6 32.8C283.2 32.5 283.1 33.8 283.5 33.5C283.9 33.2 284.3 31.3 285.0 31.0C285.7 30.7 286.9 31.5 287.9 31.5C288.9 31.5 290.1 31.1 291.0 31.0C291.8 30.9 292.3 30.7 293.0 31.0C293.7 31.3 294.2 32.2 295.0 32.7C295.8 33.2 297.6 33.5 298.0 34.0C298.4 34.5 297.5 35.0 297.4 35.6C297.3 36.2 297.8 36.9 297.5 37.7C297.3 38.4 296.3 39.6 296.0 40.0" stroke="#aa4848" stroke-width="1.1" fill="none" stroke-linejoin="round" stroke-linecap="round"/>
<path d="M276.0 50.0C275.9 50.2 275.6 50.4 275.5 51.3C275.5 52.1 276.0 54.2 275.8 55.0C275.5 55.8 274.1 55.5 274.0 56.0C273.9 56.5 274.9 57.6 275.3 58.1C275.6 58.5 275.5 58.2 276.0 58.7C276.4 59.2 277.4 60.5 278.0 61.0C278.6 61.5 279.2 61.5 279.8 61.8C280.5 62.1 281.1 62.8 282.0 62.8C282.8 62.8 284.3 62.6 285.0 62.0C285.7 61.4 285.3 59.9 286.0 59.3C286.6 58.6 288.7 58.4 289.0 58.0C289.3 57.6 287.8 57.3 287.7 56.6C287.5 56.0 288.0 54.7 288.0 53.9C288.1 53.2 288.0 52.3 288.0 52.0" stroke="#aa4848" stroke-width="1.1" fill="none" stroke-linejoin="round" stroke-linecap="round"/>
<path d="M296.0 40.0C296.2 40.1 296.6 40.4 297.2 40.6C297.7 40.8 298.4 41.1 299.2 41.2C300.0 41.2 301.2 41.1 302.0 41.0C302.8 40.9 303.5 40.5 304.3 40.4C305.0 40.3 305.7 40.6 306.3 40.5C306.9 40.4 307.6 39.7 308.0 40.0C308.4 40.3 307.9 41.4 308.4 42.1C308.9 42.7 310.9 43.3 311.0 44.0C311.1 44.7 309.3 45.7 309.0 46.0" stroke="#aa4848" stroke-width="1.1" fill="none" stroke-linejoin="round" stroke-linecap="round"/>
<path d="M258.0 55.0C258.1 55.4 258.6 56.4 258.5 57.2C258.3 58.1 257.6 59.4 257.2 60.2C256.8 61.0 256.5 61.4 256.0 62.0C255.5 62.6 254.4 62.9 254.0 63.7C253.6 64.4 253.9 65.4 253.6 66.4C253.2 67.5 252.4 68.9 252.0 70.0C251.6 71.1 251.1 72.4 251.1 72.9C251.0 73.4 251.7 72.6 251.6 73.1C251.4 73.6 250.3 75.3 250.0 76.0C249.7 76.7 249.7 76.7 250.0 77.3C250.3 78.0 251.7 79.6 252.0 80.0" stroke="#aa4848" stroke-width="1.1" fill="none" stroke-linejoin="round" stroke-linecap="round"/>
<path d="M250.0 80.0C250.5 80.0 252.3 80.6 253.1 80.2C253.9 79.9 254.1 78.4 254.6 78.0C255.0 77.6 255.5 77.6 256.0 78.0C256.5 78.4 256.8 80.0 257.6 80.5C258.4 81.0 260.0 80.3 260.7 80.8C261.5 81.4 261.6 83.0 262.0 84.0C262.4 85.0 262.7 86.0 263.2 86.6C263.7 87.2 264.3 87.3 265.1 87.7C265.9 88.1 267.2 88.5 268.0 89.0C268.8 89.5 268.9 90.3 269.6 90.8C270.3 91.3 271.1 91.7 272.0 92.0C272.9 92.3 274.2 92.7 274.9 92.9C275.5 93.0 275.2 92.7 275.7 92.9C276.3 93.1 277.2 93.9 278.0 94.0C278.8 94.1 279.7 93.9 280.3 93.6C280.9 93.4 281.2 92.9 281.8 92.6C282.4 92.3 283.3 92.2 284.0 92.0C284.7 91.8 285.5 91.2 286.1 91.1C286.6 91.0 286.6 91.5 287.2 91.5C287.9 91.5 289.4 91.2 290.0 91.0C290.6 90.8 290.3 90.7 291.0 90.6C291.8 90.5 293.9 90.7 294.7 90.5C295.6 90.2 295.6 89.4 296.0 89.0C296.4 88.6 296.7 88.1 297.4 87.8C298.1 87.5 299.1 87.3 300.0 87.0C300.9 86.7 302.2 86.3 303.0 86.0C303.9 85.6 304.7 85.1 305.2 84.9C305.7 84.8 305.4 85.1 306.0 85.0C306.6 84.9 308.1 84.0 308.8 84.2C309.6 84.5 309.9 86.1 310.4 86.4C310.9 86.7 311.4 86.0 312.0 86.0C312.6 86.0 313.4 86.3 314.1 86.3C314.8 86.3 315.2 86.1 316.0 86.0C316.8 85.9 318.3 86.2 319.0 85.7C319.7 85.2 319.8 83.4 320.0 83.0" stroke="#aa4848" stroke-width="1.1" fill="none" stroke-linejoin="round" stroke-linecap="round"/>
<path d="M240.0 92.0C240.3 92.3 241.6 93.0 241.9 93.6C242.2 94.3 241.5 95.3 242.0 96.0C242.5 96.7 244.1 97.6 244.7 98.1C245.3 98.5 245.0 98.5 245.5 98.6C246.1 98.8 247.2 99.1 248.0 99.0C248.8 98.9 249.4 98.1 250.3 98.2C251.1 98.3 252.0 99.5 253.0 99.6C253.9 99.7 255.2 99.1 256.0 99.0C256.8 98.9 257.0 99.1 257.8 98.7C258.7 98.4 259.9 97.2 261.0 96.9C262.0 96.6 263.2 97.0 264.0 97.0C264.8 97.0 265.2 96.8 265.8 97.1C266.5 97.3 267.2 98.4 267.9 98.6C268.6 98.7 269.1 98.3 270.0 98.0C270.9 97.7 272.1 97.1 273.0 97.0C273.9 96.9 274.7 97.6 275.2 97.6C275.7 97.6 275.9 97.1 276.0 97.0" stroke="#aa4848" stroke-width="1.1" fill="none" stroke-linejoin="round" stroke-linecap="round"/>
<path d="M255.0 75.0C254.8 74.7 254.5 74.3 254.0 73.5C253.5 72.6 252.1 70.6 252.0 70.0C251.9 69.4 252.5 70.4 253.3 70.1C254.2 69.7 256.0 68.3 257.0 68.0C258.0 67.7 258.8 67.7 259.4 68.3C260.1 68.8 260.6 70.8 261.1 71.4C261.5 72.0 262.1 71.4 262.0 72.0C261.9 72.6 260.9 74.5 260.6 75.1C260.3 75.8 260.4 75.4 260.3 75.9C260.2 76.4 260.1 77.6 260.0 78.0" stroke="#aa4848" stroke-width="1.1" fill="none" stroke-linejoin="round" stroke-linecap="round"/>
<path d="M288.8 43.2 C288.8 35.0 293.5 35.0 293.5 40.0 S298.2 45.0 298.2 36.8" stroke="#2f6ca8" stroke-width="3.6" fill="none" stroke-linecap="round" stroke-linejoin="round"/><path d="M288.8 43.2 C288.8 35.0 293.5 35.0 293.5 40.0 S298.2 45.0 298.2 36.8" stroke="#4b92d8" stroke-width="2.7" fill="none" stroke-linecap="round" stroke-linejoin="round"/><path d="M288.8 43.2 C288.8 35.0 293.5 35.0 293.5 40.0 S298.2 45.0 298.2 36.8" stroke="#86bdf0" stroke-width="0.7" fill="none" stroke-linecap="round" stroke-dasharray="2 3"/>
<path d="M286.4 49.7 A3.0 3.0 0 1 0 286.4 53.3" stroke="#2f6ca8" stroke-width="3.9" fill="none" stroke-linecap="round" stroke-linejoin="round"/><path d="M286.4 49.7 A3.0 3.0 0 1 0 286.4 53.3" stroke="#4b92d8" stroke-width="3.0" fill="none" stroke-linecap="round" stroke-linejoin="round"/><path d="M286.4 49.7 A3.0 3.0 0 1 0 286.4 53.3" stroke="#86bdf0" stroke-width="0.7" fill="none" stroke-linecap="round" stroke-dasharray="2 3"/>
<path d="M235.8 90.2 C235.8 81.0 241.0 81.0 241.0 86.5 S246.2 92.0 246.2 82.8" stroke="#2f6ca8" stroke-width="3.6" fill="none" stroke-linecap="round" stroke-linejoin="round"/><path d="M235.8 90.2 C235.8 81.0 241.0 81.0 241.0 86.5 S246.2 92.0 246.2 82.8" stroke="#4b92d8" stroke-width="2.7" fill="none" stroke-linecap="round" stroke-linejoin="round"/><path d="M235.8 90.2 C235.8 81.0 241.0 81.0 241.0 86.5 S246.2 92.0 246.2 82.8" stroke="#86bdf0" stroke-width="0.7" fill="none" stroke-linecap="round" stroke-dasharray="2 3"/>
<path d="M255.1 83.3 A2.0 2.0 0 1 0 255.1 85.7" stroke="#2f6ca8" stroke-width="3.9" fill="none" stroke-linecap="round" stroke-linejoin="round"/><path d="M255.1 83.3 A2.0 2.0 0 1 0 255.1 85.7" stroke="#4b92d8" stroke-width="3.0" fill="none" stroke-linecap="round" stroke-linejoin="round"/><path d="M255.1 83.3 A2.0 2.0 0 1 0 255.1 85.7" stroke="#86bdf0" stroke-width="0.7" fill="none" stroke-linecap="round" stroke-dasharray="2 3"/>
<path d="M326.0 80.0 A2.5 2.5 0 1 0 326.0 83.0" stroke="#2f6ca8" stroke-width="3.9" fill="none" stroke-linecap="round" stroke-linejoin="round"/><path d="M326.0 80.0 A2.5 2.5 0 1 0 326.0 83.0" stroke="#4b92d8" stroke-width="3.0" fill="none" stroke-linecap="round" stroke-linejoin="round"/><path d="M326.0 80.0 A2.5 2.5 0 1 0 326.0 83.0" stroke="#86bdf0" stroke-width="0.7" fill="none" stroke-linecap="round" stroke-dasharray="2 3"/>
<circle cx="283.1" cy="43.3" r="2" fill="#f7c843" stroke="#c99a25" stroke-width="0.6"/>
<circle cx="282" cy="48.6" r="2" fill="#f7c843" stroke="#c99a25" stroke-width="0.6"/>
<circle cx="253.1" cy="84.2" r="2" fill="#f7c843" stroke="#c99a25" stroke-width="0.6"/>
<circle cx="252.3" cy="89.4" r="2" fill="#f7c843" stroke="#c99a25" stroke-width="0.6"/>
<path d="M393.7 29.5C393.5 29.7 392.3 30.4 392.3 30.9C392.3 31.5 393.5 32.1 393.6 32.9C393.7 33.7 392.7 35.1 392.8 35.9C392.9 36.7 394.4 36.8 394.5 37.5C394.6 38.2 393.2 39.2 393.3 40.0C393.4 40.8 395.4 41.9 395.3 42.3C395.2 42.7 393.3 41.9 392.6 42.2C391.9 42.5 391.5 43.8 391.0 44.3C390.5 44.9 390.2 45.0 389.6 45.5C389.0 46.0 387.8 46.9 387.3 47.1C386.7 47.4 386.4 46.6 386.4 47.1C386.4 47.6 386.7 49.2 387.1 50.0C387.5 50.8 388.2 51.6 388.8 51.9C389.4 52.2 389.8 51.5 390.4 51.7C391.1 52.0 392.4 53.2 392.8 53.5" stroke="#aa4848" stroke-width="1.1" fill="none" stroke-linejoin="round" stroke-linecap="round"/>
<path d="M393.7 29.5C393.7 29.8 393.4 30.7 393.8 31.5C394.2 32.3 395.4 34.0 396.0 34.3C396.6 34.6 396.5 33.3 397.5 33.2C398.5 33.1 400.9 33.8 401.9 33.7C403.0 33.6 403.2 32.6 404.0 32.7C404.8 32.8 405.7 33.9 406.6 34.4C407.5 34.9 408.3 35.5 409.2 35.7C410.1 36.0 411.0 36.1 412.0 35.9C413.0 35.7 414.0 34.8 414.9 34.7C415.8 34.6 416.6 35.2 417.5 35.2C418.3 35.3 419.1 35.2 420.0 35.0C420.9 34.8 421.8 34.1 422.8 33.8C423.7 33.5 424.9 33.3 425.8 33.3C426.7 33.2 427.3 33.7 428.0 33.5C428.7 33.3 429.4 32.4 430.2 32.0C431.0 31.6 431.8 31.2 432.8 31.1C433.7 30.9 435.3 31.3 436.0 31.0C436.7 30.7 437.2 29.9 437.2 29.3C437.2 28.6 436.0 27.7 436.1 26.9C436.2 26.1 437.4 25.1 437.8 24.6C438.2 24.1 437.9 24.1 438.4 23.7C438.9 23.3 440.5 22.0 441.0 22.2C441.5 22.4 441.3 24.2 441.6 25.1C441.8 26.0 442.5 26.9 442.6 27.8C442.7 28.7 442.6 30.0 442.4 30.6C442.2 31.3 441.8 31.0 441.4 31.6C441.1 32.2 440.4 33.9 440.2 34.3" stroke="#aa4848" stroke-width="1.1" fill="none" stroke-linejoin="round" stroke-linecap="round"/>
<path d="M396.0 37.5C396.4 37.8 398.0 38.8 398.6 39.0C399.3 39.3 399.2 38.6 399.8 39.2C400.4 39.7 401.7 41.7 402.4 42.2C403.1 42.7 403.3 42.0 404.0 42.3C404.7 42.6 405.8 43.7 406.5 43.9C407.2 44.2 407.3 43.8 408.2 44.0C409.1 44.1 411.1 44.6 412.0 44.7C412.9 44.8 412.7 44.4 413.5 44.4C414.2 44.5 415.8 45.1 416.6 45.0C417.4 44.9 417.9 44.3 418.5 43.9C419.1 43.5 419.7 43.2 420.2 42.4C420.8 41.6 421.2 39.6 421.8 39.1C422.4 38.6 422.8 38.8 423.5 39.3C424.2 39.7 425.2 41.2 426.0 41.7C426.8 42.3 427.3 42.3 428.2 42.3C429.1 42.3 430.3 41.7 431.1 42.0C431.9 42.3 432.5 43.9 433.0 43.9C433.5 43.9 433.5 42.2 434.0 41.7C434.5 41.2 435.6 40.9 436.2 40.7C436.8 40.5 437.2 41.0 437.7 40.7C438.3 40.4 439.1 39.3 439.4 39.0" stroke="#aa4848" stroke-width="1.1" fill="none" stroke-linejoin="round" stroke-linecap="round"/>
<path d="M444.0 29.5C444.2 29.7 444.5 30.8 445.3 30.8C446.0 30.9 447.8 29.8 448.7 29.8C449.6 29.8 450.4 30.8 450.7 31.0" stroke="#aa4848" stroke-width="1.1" fill="none" stroke-linejoin="round" stroke-linecap="round"/>
<path d="M405.7 79.2C405.9 79.3 406.5 79.4 407.1 79.8C407.6 80.2 408.5 80.8 409.1 81.5C409.7 82.2 410.0 83.4 410.5 84.0C411.0 84.6 411.5 84.7 412.1 85.2C412.6 85.8 413.1 87.0 413.7 87.3C414.3 87.6 415.3 87.0 415.8 87.3C416.4 87.5 416.2 89.1 417.0 88.9C417.8 88.7 419.7 86.8 420.5 86.3C421.3 85.7 421.4 85.8 421.8 85.7C422.2 85.6 422.0 85.6 422.9 85.6C423.8 85.5 426.3 85.7 427.2 85.4C428.1 85.2 427.5 84.3 428.2 84.0C428.9 83.7 430.9 83.6 431.6 83.7C432.4 83.8 432.0 84.3 432.8 84.6C433.6 85.0 435.3 85.9 436.2 85.7C437.1 85.5 437.2 83.8 438.0 83.3C438.8 82.8 440.2 82.6 441.0 82.5C441.8 82.4 442.0 82.4 442.7 82.7C443.3 83.0 444.1 84.0 444.8 84.2C445.6 84.5 446.6 83.9 447.4 84.0C448.2 84.1 449.3 84.2 449.9 84.8C450.4 85.3 450.2 86.7 450.7 87.3C451.2 87.9 452.3 88.0 452.9 88.4C453.4 88.7 453.1 89.3 453.8 89.4C454.5 89.5 456.1 89.0 457.0 88.9C457.9 88.8 458.6 88.8 459.3 89.0C460.0 89.3 460.4 90.3 461.1 90.4C461.8 90.5 462.7 89.9 463.5 89.7C464.3 89.5 464.8 89.3 465.7 89.0C466.6 88.7 468.2 88.0 468.9 87.8C469.6 87.6 469.6 88.0 470.0 88.0C470.4 88.0 470.8 88.0 471.5 87.7C472.1 87.4 473.4 86.6 473.9 86.0C474.5 85.4 474.2 84.9 474.7 84.0C475.2 83.1 476.6 81.6 477.2 80.8C477.7 80.0 477.9 79.5 478.0 79.2" stroke="#aa4848" stroke-width="1.1" fill="none" stroke-linejoin="round" stroke-linecap="round"/>
<path d="M412.0 90.5C412.2 90.9 412.7 92.4 413.1 93.0C413.5 93.7 414.0 94.0 414.6 94.5C415.2 95.0 416.1 95.2 416.5 95.8C416.9 96.5 416.3 98.2 417.0 98.5C417.7 98.8 420.2 97.9 420.9 97.7C421.7 97.6 421.0 97.6 421.6 97.5C422.3 97.4 423.7 97.6 424.7 97.2C425.8 96.9 427.1 95.9 428.2 95.3C429.3 94.7 430.2 93.9 431.3 93.5C432.4 93.0 433.8 92.9 434.6 92.7C435.5 92.4 435.3 92.4 436.2 92.0C437.1 91.6 439.1 90.4 440.0 90.3C440.8 90.2 440.3 91.3 441.0 91.3C441.8 91.3 443.4 90.6 444.2 90.5C445.0 90.4 445.4 90.3 446.1 90.5C446.7 90.6 447.1 91.4 448.1 91.5C449.1 91.6 451.3 91.1 452.3 91.2C453.3 91.2 453.2 91.9 453.9 92.0C454.6 92.1 455.8 91.6 456.7 91.7C457.6 91.8 458.4 92.6 459.2 92.4C459.9 92.2 460.5 90.9 461.2 90.5C461.9 90.2 463.1 90.5 463.5 90.5" stroke="#aa4848" stroke-width="1.1" fill="none" stroke-linejoin="round" stroke-linecap="round"/>
<path d="M400.9 79.2C400.8 78.9 400.3 77.7 400.5 77.1C400.8 76.6 401.8 75.9 402.5 76.0C403.2 76.1 404.1 77.4 404.7 77.6C405.2 77.9 405.5 77.6 405.7 77.6" stroke="#aa4848" stroke-width="1.1" fill="none" stroke-linejoin="round" stroke-linecap="round"/>
<path d="M455.2 33.1 A4.0 4.0 0 1 0 455.2 37.9" stroke="#2f6ca8" stroke-width="3.9" fill="none" stroke-linecap="round" stroke-linejoin="round"/><path d="M455.2 33.1 A4.0 4.0 0 1 0 455.2 37.9" stroke="#4b92d8" stroke-width="3.0" fill="none" stroke-linecap="round" stroke-linejoin="round"/><path d="M455.2 33.1 A4.0 4.0 0 1 0 455.2 37.9" stroke="#86bdf0" stroke-width="0.7" fill="none" stroke-linecap="round" stroke-dasharray="2 3"/>
<path d="M441.2 45.8 C435.0 45.8 435.0 49.5 439.0 49.5 S443.0 53.2 436.8 53.2" stroke="#2f6ca8" stroke-width="3.6" fill="none" stroke-linecap="round" stroke-linejoin="round"/><path d="M441.2 45.8 C435.0 45.8 435.0 49.5 439.0 49.5 S443.0 53.2 436.8 53.2" stroke="#4b92d8" stroke-width="2.7" fill="none" stroke-linecap="round" stroke-linejoin="round"/><path d="M441.2 45.8 C435.0 45.8 435.0 49.5 439.0 49.5 S443.0 53.2 436.8 53.2" stroke="#86bdf0" stroke-width="0.7" fill="none" stroke-linecap="round" stroke-dasharray="2 3"/>
<path d="M403.8 89.2 C403.8 82.0 406.5 82.0 406.5 86.5 S409.2 91.0 409.2 83.8" stroke="#2f6ca8" stroke-width="3.6" fill="none" stroke-linecap="round" stroke-linejoin="round"/><path d="M403.8 89.2 C403.8 82.0 406.5 82.0 406.5 86.5 S409.2 91.0 409.2 83.8" stroke="#4b92d8" stroke-width="2.7" fill="none" stroke-linecap="round" stroke-linejoin="round"/><path d="M403.8 89.2 C403.8 82.0 406.5 82.0 406.5 86.5 S409.2 91.0 409.2 83.8" stroke="#86bdf0" stroke-width="0.7" fill="none" stroke-linecap="round" stroke-dasharray="2 3"/>
<path d="M396.8 94.9 A3.5 3.5 0 1 0 396.8 99.1" stroke="#2f6ca8" stroke-width="3.9" fill="none" stroke-linecap="round" stroke-linejoin="round"/><path d="M396.8 94.9 A3.5 3.5 0 1 0 396.8 99.1" stroke="#4b92d8" stroke-width="3.0" fill="none" stroke-linecap="round" stroke-linejoin="round"/><path d="M396.8 94.9 A3.5 3.5 0 1 0 396.8 99.1" stroke="#86bdf0" stroke-width="0.7" fill="none" stroke-linecap="round" stroke-dasharray="2 3"/>
<path d="M479.6 81.3 A2.0 2.0 0 1 0 479.6 83.7" stroke="#2f6ca8" stroke-width="3.9" fill="none" stroke-linecap="round" stroke-linejoin="round"/><path d="M479.6 81.3 A2.0 2.0 0 1 0 479.6 83.7" stroke="#4b92d8" stroke-width="3.0" fill="none" stroke-linecap="round" stroke-linejoin="round"/><path d="M479.6 81.3 A2.0 2.0 0 1 0 479.6 83.7" stroke="#86bdf0" stroke-width="0.7" fill="none" stroke-linecap="round" stroke-dasharray="2 3"/>
<circle cx="440.7" cy="35.9" r="2" fill="#f7c843" stroke="#c99a25" stroke-width="0.6"/>
<circle cx="439.7" cy="40.7" r="2" fill="#f7c843" stroke="#c99a25" stroke-width="0.6"/>
<circle cx="405.4" cy="92.9" r="2" fill="#f7c843" stroke="#c99a25" stroke-width="0.6"/>
<circle cx="404.9" cy="97.7" r="2" fill="#f7c843" stroke="#c99a25" stroke-width="0.6"/>
<path d="M552.8 51.9C553.1 51.5 554.1 50.2 554.6 49.5C555.2 48.9 555.6 48.2 556.0 47.9C556.4 47.6 556.4 47.8 557.3 47.9C558.1 48.1 560.0 48.3 560.9 48.7C561.8 49.1 562.5 49.8 562.9 50.5C563.3 51.2 563.2 52.3 563.3 52.7" stroke="#aa4848" stroke-width="1.1" fill="none" stroke-linejoin="round" stroke-linecap="round"/>
<path d="M555.3 47.1C555.3 46.8 555.3 46.2 555.4 45.4C555.5 44.6 555.5 43.1 556.0 42.3C556.5 41.5 557.6 41.1 558.4 40.6C559.3 40.1 560.3 39.4 560.9 39.1C561.5 38.8 561.3 39.0 561.9 38.7C562.4 38.4 563.7 37.7 564.1 37.5" stroke="#aa4848" stroke-width="1.1" fill="none" stroke-linejoin="round" stroke-linecap="round"/>
<path d="M566.5 39.1C567.0 39.3 568.8 39.9 569.5 40.3C570.1 40.6 569.9 40.8 570.4 41.2C570.8 41.5 571.8 41.9 572.1 42.3C572.4 42.7 571.8 42.6 571.9 43.3C572.0 44.0 572.6 45.7 572.9 46.6C573.2 47.5 573.7 48.3 573.7 48.7C573.7 49.1 573.3 48.6 572.8 48.7C572.2 48.8 570.8 49.9 570.5 49.5C570.2 49.1 571.1 47.2 570.8 46.6C570.6 45.9 568.9 46.1 568.9 45.5C568.9 44.9 570.5 43.5 570.9 42.8C571.3 42.1 570.8 41.7 571.4 41.4C572.1 41.1 574.2 41.5 574.8 41.1C575.5 40.7 574.9 39.4 575.3 39.1C575.7 38.8 576.8 39.4 577.4 39.2C578.1 38.9 578.6 37.6 579.3 37.5C580.0 37.4 581.2 38.3 581.6 38.8C582.1 39.3 581.3 40.3 581.8 40.7C582.3 41.1 584.0 40.6 584.8 41.0C585.6 41.4 586.0 42.7 586.6 43.1C587.1 43.4 587.6 43.1 588.2 43.1C588.8 43.1 589.2 43.3 590.0 42.9C590.8 42.6 592.3 41.3 593.0 41.0C593.8 40.8 594.0 41.9 594.6 41.5C595.2 41.1 596.3 39.2 596.8 38.4C597.4 37.6 597.7 37.6 597.8 36.7C597.9 35.8 597.3 34.2 597.3 33.2C597.3 32.3 597.7 31.6 597.8 31.0C597.9 30.4 597.7 30.1 597.8 29.4C598.0 28.7 598.4 27.6 598.7 26.5C599.0 25.5 599.2 23.8 599.4 23.0C599.6 22.2 599.6 22.1 600.1 22.0C600.7 21.9 602.3 21.8 602.6 22.2C602.9 22.6 602.0 23.7 602.2 24.5C602.5 25.3 603.4 26.6 604.2 27.0C605.0 27.4 606.3 26.8 606.9 26.6C607.4 26.5 606.9 26.5 607.4 26.2C607.9 25.9 609.5 25.1 610.1 24.9C610.6 24.6 610.0 24.5 610.7 24.5C611.3 24.4 612.8 24.4 613.9 24.6C615.0 24.8 616.3 25.3 617.0 25.5C617.7 25.6 617.6 24.9 617.9 25.4C618.2 25.9 618.7 27.7 618.5 28.5C618.4 29.3 617.3 30.0 617.1 30.3" stroke="#aa4848" stroke-width="1.1" fill="none" stroke-linejoin="round" stroke-linecap="round"/>
<path d="M600.2 43.1C599.9 43.7 598.7 45.6 598.3 46.6C597.9 47.6 597.9 48.5 597.9 49.1C597.8 49.7 597.4 49.9 597.8 50.3C598.2 50.7 599.9 51.1 600.5 51.7C601.0 52.4 600.4 54.0 601.0 54.3C601.6 54.6 602.9 53.8 603.8 53.7C604.8 53.5 606.1 53.5 606.6 53.5" stroke="#aa4848" stroke-width="1.1" fill="none" stroke-linejoin="round" stroke-linecap="round"/>
<path d="M570.5 76.0C570.4 76.3 569.8 77.3 570.2 78.0C570.5 78.6 572.1 79.4 572.4 80.2C572.7 80.9 571.9 81.7 572.1 82.4C572.3 83.1 573.1 83.9 573.9 84.5C574.7 85.0 576.1 85.5 576.9 85.7C577.7 85.9 578.1 85.9 578.9 85.9C579.7 85.9 581.0 85.7 581.8 85.7C582.6 85.7 582.9 86.1 583.6 85.9C584.2 85.7 584.4 84.8 585.5 84.3C586.6 83.9 589.1 83.5 590.0 83.4C591.0 83.4 590.8 84.1 591.4 84.0C592.0 83.9 592.8 83.0 593.5 82.8C594.3 82.7 594.9 83.2 595.9 83.4C596.9 83.5 598.8 84.0 599.7 83.9C600.5 83.7 600.6 82.3 601.0 82.4C601.4 82.5 601.6 84.1 602.1 84.7C602.7 85.2 603.5 85.6 604.2 85.7C604.9 85.8 605.7 85.3 606.5 85.5C607.3 85.8 608.3 87.1 609.0 87.3C609.7 87.5 609.9 86.5 610.6 86.6C611.3 86.7 612.3 88.0 613.1 88.0C613.9 87.9 614.5 87.0 615.5 86.5C616.5 86.0 618.0 85.1 618.9 84.7C619.8 84.3 620.3 84.4 621.0 84.3C621.8 84.2 622.8 83.8 623.5 84.0C624.2 84.2 624.5 85.2 625.1 85.5C625.6 85.7 626.0 85.7 626.8 85.7C627.6 85.7 629.0 85.6 630.0 85.7C631.0 85.8 632.4 85.5 633.1 86.1C633.7 86.8 633.2 88.9 633.8 89.6C634.3 90.3 636.0 90.3 636.4 90.5" stroke="#aa4848" stroke-width="1.1" fill="none" stroke-linejoin="round" stroke-linecap="round"/>
<path d="M570.5 95.3C570.6 95.0 570.8 94.1 571.3 93.3C571.9 92.5 573.4 91.3 574.0 90.5C574.7 89.8 575.1 88.7 575.3 88.9C575.5 89.1 574.8 91.1 575.0 91.7C575.3 92.3 576.3 91.8 576.6 92.4C577.0 93.0 576.6 94.4 576.9 95.3C577.2 96.2 578.1 97.1 578.7 97.9C579.3 98.7 580.1 99.7 580.6 100.3C581.2 101.0 581.1 101.6 581.8 101.7C582.5 101.8 584.1 101.4 585.0 101.1C585.9 100.7 586.7 100.0 587.2 99.6C587.7 99.1 587.7 98.7 588.2 98.5C588.7 98.3 589.5 98.9 590.3 98.5C591.1 98.0 592.0 96.0 593.0 95.5C594.0 95.0 595.5 95.6 596.2 95.3C596.9 95.0 596.2 94.4 596.9 93.8C597.6 93.2 599.7 92.3 600.4 91.7C601.1 91.2 600.4 91.0 601.0 90.5C601.6 90.0 603.2 89.8 603.7 89.0C604.2 88.2 604.1 86.3 604.2 85.7" stroke="#aa4848" stroke-width="1.1" fill="none" stroke-linejoin="round" stroke-linecap="round"/>
<path d="M588.2 82.4C588.4 82.1 589.2 80.9 589.6 80.3C590.0 79.7 590.1 79.5 590.7 78.8C591.2 78.0 592.5 76.8 593.0 76.0C593.5 75.2 593.1 74.9 593.5 74.1C593.9 73.4 594.5 72.7 595.1 71.6C595.7 70.5 596.8 68.6 597.3 67.7C597.7 66.8 597.8 67.1 597.8 66.4C597.8 65.7 597.8 64.3 597.3 63.7C596.7 63.2 595.0 63.1 594.6 63.2C594.2 63.3 595.1 63.6 595.0 64.3C595.0 65.1 594.7 66.8 594.4 67.7C594.1 68.5 592.9 68.9 593.0 69.6C593.1 70.3 594.1 71.4 594.8 72.1C595.6 72.8 596.8 73.0 597.3 73.7C597.8 74.3 597.2 75.7 597.8 76.0C598.4 76.3 600.3 75.3 601.0 75.5C601.6 75.7 601.0 77.0 601.5 77.3C602.0 77.7 603.8 77.6 604.2 77.6" stroke="#aa4848" stroke-width="1.1" fill="none" stroke-linejoin="round" stroke-linecap="round"/>
<path d="M556.0 101.7C556.5 101.8 558.1 101.9 559.0 102.3C560.0 102.7 561.0 103.5 561.9 103.9C562.7 104.4 563.4 105.2 564.1 105.0C564.8 104.8 565.4 103.2 566.1 103.0C566.7 102.8 567.4 103.7 568.1 103.6C568.8 103.6 570.1 102.7 570.5 102.5" stroke="#aa4848" stroke-width="1.1" fill="none" stroke-linejoin="round" stroke-linecap="round"/>
<path d="M616.7 32.1 A4.0 4.0 0 1 0 616.7 36.9" stroke="#2f6ca8" stroke-width="3.9" fill="none" stroke-linecap="round" stroke-linejoin="round"/><path d="M616.7 32.1 A4.0 4.0 0 1 0 616.7 36.9" stroke="#4b92d8" stroke-width="3.0" fill="none" stroke-linecap="round" stroke-linejoin="round"/><path d="M616.7 32.1 A4.0 4.0 0 1 0 616.7 36.9" stroke="#86bdf0" stroke-width="0.7" fill="none" stroke-linecap="round" stroke-dasharray="2 3"/>
<path d="M604.2 41.8 C598.0 41.8 598.0 47.0 602.0 47.0 S606.0 52.2 599.8 52.2" stroke="#2f6ca8" stroke-width="3.6" fill="none" stroke-linecap="round" stroke-linejoin="round"/><path d="M604.2 41.8 C598.0 41.8 598.0 47.0 602.0 47.0 S606.0 52.2 599.8 52.2" stroke="#4b92d8" stroke-width="2.7" fill="none" stroke-linecap="round" stroke-linejoin="round"/><path d="M604.2 41.8 C598.0 41.8 598.0 47.0 602.0 47.0 S606.0 52.2 599.8 52.2" stroke="#86bdf0" stroke-width="0.7" fill="none" stroke-linecap="round" stroke-dasharray="2 3"/>
<path d="M570.2 28.8 C562.0 28.8 562.0 33.0 567.0 33.0 S572.0 37.2 563.8 37.2" stroke="#2f6ca8" stroke-width="3.6" fill="none" stroke-linecap="round" stroke-linejoin="round"/><path d="M570.2 28.8 C562.0 28.8 562.0 33.0 567.0 33.0 S572.0 37.2 563.8 37.2" stroke="#4b92d8" stroke-width="2.7" fill="none" stroke-linecap="round" stroke-linejoin="round"/><path d="M570.2 28.8 C562.0 28.8 562.0 33.0 567.0 33.0 S572.0 37.2 563.8 37.2" stroke="#86bdf0" stroke-width="0.7" fill="none" stroke-linecap="round" stroke-dasharray="2 3"/>
<path d="M560.8 92.9 A3.5 3.5 0 1 0 560.8 97.1" stroke="#2f6ca8" stroke-width="3.9" fill="none" stroke-linecap="round" stroke-linejoin="round"/><path d="M560.8 92.9 A3.5 3.5 0 1 0 560.8 97.1" stroke="#4b92d8" stroke-width="3.0" fill="none" stroke-linecap="round" stroke-linejoin="round"/><path d="M560.8 92.9 A3.5 3.5 0 1 0 560.8 97.1" stroke="#86bdf0" stroke-width="0.7" fill="none" stroke-linecap="round" stroke-dasharray="2 3"/>
<path d="M574.2 78.8 C568.0 78.8 568.0 81.5 572.0 81.5 S576.0 84.2 569.8 84.2" stroke="#2f6ca8" stroke-width="3.6" fill="none" stroke-linecap="round" stroke-linejoin="round"/><path d="M574.2 78.8 C568.0 78.8 568.0 81.5 572.0 81.5 S576.0 84.2 569.8 84.2" stroke="#4b92d8" stroke-width="2.7" fill="none" stroke-linecap="round" stroke-linejoin="round"/><path d="M574.2 78.8 C568.0 78.8 568.0 81.5 572.0 81.5 S576.0 84.2 569.8 84.2" stroke="#86bdf0" stroke-width="0.7" fill="none" stroke-linecap="round" stroke-dasharray="2 3"/>
<path d="M602.8 90.2 C602.8 82.0 606.0 82.0 606.0 87.0 S609.2 92.0 609.2 83.8" stroke="#2f6ca8" stroke-width="3.6" fill="none" stroke-linecap="round" stroke-linejoin="round"/><path d="M602.8 90.2 C602.8 82.0 606.0 82.0 606.0 87.0 S609.2 92.0 609.2 83.8" stroke="#4b92d8" stroke-width="2.7" fill="none" stroke-linecap="round" stroke-linejoin="round"/><path d="M602.8 90.2 C602.8 82.0 606.0 82.0 606.0 87.0 S609.2 92.0 609.2 83.8" stroke="#86bdf0" stroke-width="0.7" fill="none" stroke-linecap="round" stroke-dasharray="2 3"/>
<circle cx="603" cy="34.3" r="2" fill="#f7c843" stroke="#c99a25" stroke-width="0.6"/>
<circle cx="601.5" cy="39.1" r="2" fill="#f7c843" stroke="#c99a25" stroke-width="0.6"/>
<circle cx="569.7" cy="90.5" r="2" fill="#f7c843" stroke="#c99a25" stroke-width="0.6"/>
<circle cx="569.2" cy="95.3" r="2" fill="#f7c843" stroke="#c99a25" stroke-width="0.6"/>
<path d="M80.1 191.8C80.2 191.3 80.2 189.7 80.7 189.0C81.2 188.3 82.6 188.2 83.1 187.6C83.5 187.0 83.0 186.0 83.4 185.3C83.8 184.6 85.0 184.0 85.7 183.6C86.4 183.2 87.2 183.5 87.6 182.9C88.1 182.4 87.8 181.0 88.2 180.5C88.6 180.0 89.5 180.6 89.9 180.0C90.4 179.3 90.2 177.1 90.9 176.6C91.6 176.1 93.3 177.2 94.0 176.8C94.6 176.4 94.0 174.7 94.6 174.1C95.2 173.5 96.9 173.7 97.4 173.0C98.0 172.4 97.2 170.9 97.8 170.3C98.4 169.7 100.2 170.0 101.0 169.3C101.8 168.6 102.4 166.8 102.7 165.9C103.0 165.1 102.4 164.8 102.7 164.3C102.9 163.8 103.5 163.4 104.2 162.8C104.9 162.2 106.5 161.1 106.8 160.5C107.2 159.9 106.1 159.6 106.4 159.2C106.8 158.8 108.1 158.0 109.0 158.0C109.9 158.0 111.1 158.8 111.7 159.0C112.2 159.3 111.8 159.1 112.3 159.6C112.8 160.1 114.3 161.3 114.8 161.9C115.3 162.4 115.4 162.6 115.5 162.8" stroke="#aa4848" stroke-width="1.1" fill="none" stroke-linejoin="round" stroke-linecap="round"/>
<path d="M118.7 169.3C119.1 169.3 120.3 169.4 121.1 169.5C121.9 169.6 122.7 169.5 123.5 170.0C124.3 170.5 125.3 172.1 125.9 172.8C126.4 173.4 126.4 173.6 126.7 174.1C127.0 174.6 127.4 175.4 127.7 176.0C127.9 176.6 128.4 176.9 128.3 177.6C128.3 178.4 127.7 179.7 127.5 180.5C127.3 181.3 127.4 182.0 127.0 182.5C126.6 183.0 125.4 182.9 125.1 183.7C124.8 184.5 124.9 186.4 125.1 187.2C125.4 188.0 126.0 188.2 126.7 188.5C127.4 188.8 128.7 188.6 129.5 189.1C130.3 189.7 130.7 191.4 131.5 191.8C132.3 192.2 133.7 191.7 134.6 191.4C135.4 191.2 135.7 190.9 136.4 190.2C137.1 189.5 137.8 187.8 138.6 187.4C139.4 187.0 140.3 188.4 141.0 188.1C141.7 187.7 142.1 185.7 142.8 185.3C143.5 184.9 144.9 185.4 145.4 185.7C145.9 185.9 145.9 186.8 146.0 187.0" stroke="#aa4848" stroke-width="1.1" fill="none" stroke-linejoin="round" stroke-linecap="round"/>
<path d="M85.0 188.5C85.4 188.1 86.8 186.5 87.4 185.9C88.0 185.4 88.1 185.5 88.5 185.1C89.0 184.7 89.4 184.0 89.9 183.5C90.4 183.0 90.8 182.4 91.4 182.1C92.0 181.8 92.5 182.0 93.3 181.5C94.2 181.0 95.7 179.6 96.5 179.2C97.2 178.7 97.5 178.5 97.8 178.9C98.1 179.3 98.5 180.5 98.4 181.3C98.4 182.1 97.9 183.0 97.7 183.6C97.6 184.3 97.4 184.7 97.8 185.3C98.2 185.9 99.5 186.8 100.0 187.4C100.6 187.9 100.4 187.9 101.0 188.5C101.6 189.1 102.6 190.4 103.4 190.9C104.2 191.5 105.2 192.1 105.8 191.8C106.4 191.5 107.0 190.1 107.3 189.3C107.5 188.5 107.2 187.3 107.4 187.0C107.6 186.7 107.7 187.0 108.2 187.3C108.8 187.5 110.3 188.3 110.7 188.5" stroke="#aa4848" stroke-width="1.1" fill="none" stroke-linejoin="round" stroke-linecap="round"/>
<path d="M40.0 209.4C40.3 209.4 40.9 209.1 41.8 209.4C42.7 209.7 44.4 210.9 45.5 211.2C46.6 211.4 47.7 211.2 48.4 211.2C49.1 211.1 49.0 210.7 49.6 211.0C50.2 211.3 51.0 212.6 52.0 213.0C52.9 213.4 54.4 213.2 55.4 213.4C56.3 213.7 56.8 214.2 57.5 214.3C58.1 214.5 58.7 214.3 59.3 214.2C59.9 214.1 60.2 213.8 61.1 213.5C61.9 213.1 63.6 212.5 64.4 212.2C65.3 211.9 65.7 212.1 66.2 211.6C66.7 211.1 67.0 210.2 67.3 209.4C67.6 208.6 67.4 207.1 68.1 206.6C68.7 206.1 70.4 206.9 71.1 206.5C71.8 206.1 71.9 205.0 72.3 204.1C72.7 203.3 73.1 202.1 73.7 201.4C74.3 200.7 75.2 200.1 75.9 199.7C76.5 199.3 77.2 199.3 77.7 198.8C78.1 198.3 78.0 197.1 78.5 196.6C79.0 196.1 80.5 196.1 80.9 195.6C81.3 195.1 81.0 193.8 81.0 193.4" stroke="#aa4848" stroke-width="1.1" fill="none" stroke-linejoin="round" stroke-linecap="round"/>
<path d="M72.1 217.4C72.1 217.1 71.9 216.1 72.3 215.6C72.7 215.0 74.1 214.3 74.5 214.2C74.9 214.1 74.1 214.3 74.5 214.8C74.9 215.4 76.6 216.6 76.9 217.4C77.2 218.2 76.6 218.6 76.3 219.4C76.1 220.3 75.5 221.8 75.3 222.3" stroke="#aa4848" stroke-width="1.1" fill="none" stroke-linejoin="round" stroke-linecap="round"/>
<path d="M80.1 225.5C80.3 225.5 80.3 225.7 81.0 225.4C81.8 225.2 83.7 224.4 84.7 223.9C85.7 223.4 86.4 222.7 87.0 222.2C87.6 221.6 87.5 221.2 88.2 220.7C88.9 220.2 90.4 219.3 91.3 219.2C92.1 219.0 92.5 219.8 93.3 219.8C94.1 219.8 95.4 219.2 96.2 219.0C97.0 218.8 97.4 218.9 98.2 218.8C99.0 218.8 100.1 218.7 101.1 219.0C102.1 219.3 103.4 220.0 104.2 220.7C105.0 221.4 105.3 222.4 105.9 223.2C106.4 224.0 107.5 224.9 107.4 225.5C107.3 226.1 105.8 226.3 105.3 227.1C104.8 227.9 104.5 229.4 104.2 230.3C103.9 231.2 103.8 231.9 103.3 232.4C102.7 232.9 101.9 233.2 101.0 233.5C100.1 233.8 98.8 233.9 97.9 234.1C97.0 234.2 96.6 234.3 95.8 234.5C95.0 234.7 93.6 235.2 93.0 235.1C92.4 235.0 92.7 234.1 92.0 233.8C91.4 233.5 90.1 233.8 89.2 233.5C88.3 233.2 87.5 232.2 86.6 231.9C85.7 231.6 84.8 231.8 84.0 231.5C83.2 231.2 82.2 230.5 81.8 230.3" stroke="#aa4848" stroke-width="1.1" fill="none" stroke-linejoin="round" stroke-linecap="round"/>
<path d="M65.7 233.5C66.0 233.6 67.0 234.1 67.6 234.4C68.3 234.6 69.0 234.8 69.7 235.2C70.5 235.5 71.4 236.7 72.1 236.7C72.8 236.7 73.0 235.2 73.8 235.3C74.5 235.3 75.4 237.1 76.4 237.0C77.3 236.9 78.2 235.0 79.4 234.8C80.6 234.6 82.6 235.6 83.6 235.7C84.5 235.7 84.4 235.4 85.0 235.1C85.6 234.8 86.3 234.0 87.4 234.0C88.4 233.9 90.1 235.0 91.2 234.9C92.3 234.8 92.9 233.6 93.7 233.4C94.5 233.2 95.3 233.7 96.0 233.7C96.7 233.7 97.1 233.5 97.8 233.5C98.5 233.5 99.3 234.0 100.2 233.5C101.2 232.9 102.9 230.9 103.5 230.2C104.2 229.6 103.3 229.9 103.9 229.7C104.6 229.4 106.4 229.2 107.4 228.7C108.4 228.2 109.2 227.6 109.8 226.8C110.3 226.0 110.6 224.7 110.7 223.9C110.8 223.1 110.8 223.0 110.6 222.0C110.4 221.1 109.7 219.3 109.5 218.3C109.2 217.3 108.8 216.7 109.0 215.8C109.2 214.9 110.3 213.5 110.9 212.7C111.4 211.9 111.6 211.4 112.3 211.0C113.0 210.6 114.5 210.8 115.3 210.6C116.1 210.3 116.3 209.5 117.1 209.4C117.9 209.3 119.0 210.0 119.9 209.8C120.8 209.5 121.8 208.4 122.4 208.1C123.0 207.7 123.3 207.8 123.5 207.8" stroke="#aa4848" stroke-width="1.1" fill="none" stroke-linejoin="round" stroke-linecap="round"/>
<path d="M119.2 163.8 C109.0 163.8 109.0 171.5 115.0 171.5 S121.0 179.2 110.8 179.2" stroke="#2f6ca8" stroke-width="3.6" fill="none" stroke-linecap="round" stroke-linejoin="round"/><path d="M119.2 163.8 C109.0 163.8 109.0 171.5 115.0 171.5 S121.0 179.2 110.8 179.2" stroke="#4b92d8" stroke-width="2.7" fill="none" stroke-linecap="round" stroke-linejoin="round"/><path d="M119.2 163.8 C109.0 163.8 109.0 171.5 115.0 171.5 S121.0 179.2 110.8 179.2" stroke="#86bdf0" stroke-width="0.7" fill="none" stroke-linecap="round" stroke-dasharray="2 3"/>
<path d="M105.8 180.9 A3.5 3.5 0 1 0 105.8 185.1" stroke="#2f6ca8" stroke-width="3.9" fill="none" stroke-linecap="round" stroke-linejoin="round"/><path d="M105.8 180.9 A3.5 3.5 0 1 0 105.8 185.1" stroke="#4b92d8" stroke-width="3.0" fill="none" stroke-linecap="round" stroke-linejoin="round"/><path d="M105.8 180.9 A3.5 3.5 0 1 0 105.8 185.1" stroke="#86bdf0" stroke-width="0.7" fill="none" stroke-linecap="round" stroke-dasharray="2 3"/>
<path d="M57.8 237.2 C57.8 229.0 62.0 229.0 62.0 234.0 S66.2 239.0 66.2 230.8" stroke="#2f6ca8" stroke-width="3.6" fill="none" stroke-linecap="round" stroke-linejoin="round"/><path d="M57.8 237.2 C57.8 229.0 62.0 229.0 62.0 234.0 S66.2 239.0 66.2 230.8" stroke="#4b92d8" stroke-width="2.7" fill="none" stroke-linecap="round" stroke-linejoin="round"/><path d="M57.8 237.2 C57.8 229.0 62.0 229.0 62.0 234.0 S66.2 239.0 66.2 230.8" stroke="#86bdf0" stroke-width="0.7" fill="none" stroke-linecap="round" stroke-dasharray="2 3"/>
<path d="M78.2 222.8 C70.0 222.8 70.0 227.5 75.0 227.5 S80.0 232.2 71.8 232.2" stroke="#2f6ca8" stroke-width="3.6" fill="none" stroke-linecap="round" stroke-linejoin="round"/><path d="M78.2 222.8 C70.0 222.8 70.0 227.5 75.0 227.5 S80.0 232.2 71.8 232.2" stroke="#4b92d8" stroke-width="2.7" fill="none" stroke-linecap="round" stroke-linejoin="round"/><path d="M78.2 222.8 C70.0 222.8 70.0 227.5 75.0 227.5 S80.0 232.2 71.8 232.2" stroke="#86bdf0" stroke-width="0.7" fill="none" stroke-linecap="round" stroke-dasharray="2 3"/>
<circle cx="105.8" cy="176.5" r="2" fill="#f7c843" stroke="#c99a25" stroke-width="0.6"/>
<circle cx="106.2" cy="182.1" r="2" fill="#f7c843" stroke="#c99a25" stroke-width="0.6"/>
<circle cx="73.7" cy="225.5" r="2" fill="#f7c843" stroke="#c99a25" stroke-width="0.6"/>
<circle cx="72.9" cy="231" r="2" fill="#f7c843" stroke="#c99a25" stroke-width="0.6"/>
<path d="M230.9 196.6C230.9 196.3 231.2 196.0 231.1 195.0C230.9 194.0 230.3 191.7 230.0 190.6C229.7 189.5 229.5 189.3 229.3 188.5C229.1 187.7 229.1 186.8 228.8 186.1C228.6 185.3 228.3 184.5 227.8 183.8C227.4 183.2 226.3 182.6 226.0 182.1C225.7 181.6 226.2 181.5 226.2 180.8C226.2 180.1 225.8 178.7 226.0 178.1C226.2 177.5 226.5 177.4 227.3 177.3C228.1 177.2 229.9 177.2 230.9 177.3C231.9 177.4 232.3 177.3 233.1 177.6C233.9 177.9 234.7 178.9 235.7 178.9C236.7 178.9 238.1 177.6 238.8 177.3C239.5 177.1 239.3 177.4 239.8 177.4C240.4 177.4 241.4 177.4 242.1 177.3C242.8 177.2 242.8 176.8 243.9 176.9C244.9 177.0 247.3 177.7 248.4 178.1C249.4 178.4 249.3 178.8 250.1 178.9C250.9 179.0 252.6 178.7 253.3 178.6C253.9 178.5 253.5 178.1 254.0 178.1C254.6 178.2 255.9 178.7 256.6 178.9C257.3 179.1 257.2 178.8 258.0 179.3C258.8 179.9 260.3 181.2 261.4 182.1C262.5 183.0 263.6 184.1 264.4 184.6C265.2 185.2 265.3 185.2 266.2 185.3C267.1 185.4 268.9 185.3 269.7 185.0C270.5 184.8 270.5 184.2 271.0 183.7C271.5 183.2 272.5 182.3 272.7 181.8C273.0 181.3 272.4 181.3 272.5 180.5C272.7 179.8 273.1 178.4 273.4 177.3C273.7 176.2 273.9 174.6 274.1 173.9C274.3 173.1 274.5 173.6 274.6 172.9C274.8 172.1 274.5 170.2 275.0 169.3C275.5 168.4 276.7 167.7 277.4 167.7C278.1 167.7 278.8 168.8 279.3 169.4C279.7 169.9 279.8 170.3 279.9 170.9C280.0 171.5 280.2 172.2 280.0 173.2C279.9 174.1 279.2 175.9 279.0 176.5" stroke="#aa4848" stroke-width="1.1" fill="none" stroke-linejoin="round" stroke-linecap="round"/>
<path d="M226.0 178.1C225.6 177.9 224.7 177.4 223.7 177.1C222.7 176.8 221.0 176.7 220.0 176.2C219.1 175.7 218.5 174.9 218.0 174.1C217.5 173.3 217.3 172.2 217.2 171.4C217.1 170.6 216.8 169.9 217.2 169.3C217.6 168.7 218.8 168.2 219.6 167.9C220.4 167.5 221.5 167.4 222.0 167.1C222.5 166.8 222.3 166.4 222.8 166.1C223.3 165.8 224.1 165.2 224.9 165.3C225.8 165.5 226.7 166.9 227.7 166.9C228.7 166.9 229.9 165.7 230.7 165.4C231.5 165.1 231.9 165.4 232.5 165.3C233.1 165.2 233.8 165.0 234.5 164.9C235.2 164.8 236.0 165.1 236.7 164.7C237.4 164.4 238.2 163.0 238.9 162.8C239.6 162.6 240.2 163.3 241.0 163.7C241.8 164.1 243.5 164.9 243.7 165.3C243.9 165.7 242.5 165.5 242.3 166.2C242.2 166.8 243.3 168.5 242.9 169.3C242.5 170.1 240.7 170.5 240.0 171.1C239.3 171.6 239.4 172.0 238.9 172.5C238.4 173.0 237.4 173.6 237.2 174.1C236.9 174.6 237.0 175.4 237.3 175.7C237.6 176.0 238.1 175.9 238.9 175.6C239.7 175.3 241.4 174.1 242.1 174.1C242.8 174.1 242.2 175.1 243.1 175.6C244.0 176.0 246.5 176.6 247.4 176.8C248.3 176.9 247.9 176.3 248.5 176.5C249.1 176.7 250.1 177.8 250.9 178.0C251.7 178.3 253.0 178.1 253.4 178.1" stroke="#aa4848" stroke-width="1.1" fill="none" stroke-linejoin="round" stroke-linecap="round"/>
<path d="M280.7 166.9C281.1 166.6 282.2 165.4 282.8 165.3C283.5 165.2 283.9 166.2 284.6 166.0C285.3 165.9 286.3 164.8 287.1 164.5C287.9 164.2 288.8 163.7 289.7 164.0C290.6 164.2 291.7 165.7 292.3 165.9C292.9 166.1 293.2 165.0 293.5 165.3C293.8 165.6 293.5 167.0 294.0 167.6C294.5 168.3 296.2 169.0 296.7 169.3" stroke="#aa4848" stroke-width="1.1" fill="none" stroke-linejoin="round" stroke-linecap="round"/>
<path d="M283.9 186.9C283.9 187.2 283.6 188.2 283.9 189.0C284.2 189.8 285.6 191.3 285.5 191.8C285.4 192.3 283.7 191.9 283.2 192.1C282.6 192.4 282.4 193.8 282.3 193.4C282.2 193.0 282.7 190.6 282.4 189.8C282.2 189.0 281.0 188.7 280.7 188.5" stroke="#aa4848" stroke-width="1.1" fill="none" stroke-linejoin="round" stroke-linecap="round"/>
<path d="M248.5 214.2C248.4 214.6 247.8 215.7 247.6 216.5C247.5 217.4 247.9 218.4 247.6 219.1C247.4 219.8 246.7 220.2 246.1 220.7C245.5 221.2 244.6 221.5 244.2 222.3C243.8 223.1 243.4 224.5 243.7 225.5C244.0 226.5 245.3 227.2 245.9 228.1C246.5 229.0 246.7 230.3 247.2 230.9C247.6 231.6 248.1 231.4 248.5 231.9C248.9 232.4 249.1 233.0 249.4 233.8C249.7 234.6 250.3 236.1 250.1 236.7C249.9 237.3 248.5 237.0 248.1 237.7C247.7 238.4 248.1 239.8 247.6 240.7C247.2 241.6 246.0 242.8 245.3 243.1C244.6 243.4 243.7 242.3 243.2 242.3C242.7 242.2 242.8 242.8 242.0 242.9C241.3 243.0 240.0 243.2 238.9 243.1C237.8 243.0 236.2 242.6 235.4 242.0C234.6 241.5 234.4 240.8 234.1 239.9C233.8 239.0 233.9 237.3 233.5 236.5C233.1 235.7 232.0 235.3 231.7 235.1" stroke="#aa4848" stroke-width="1.1" fill="none" stroke-linejoin="round" stroke-linecap="round"/>
<path d="M250.1 231.9C250.3 232.2 250.7 233.4 251.3 233.9C251.9 234.4 252.9 234.4 253.6 234.8C254.4 235.2 254.9 235.9 255.7 236.2C256.4 236.5 257.5 236.5 258.2 236.7C258.9 236.9 259.6 236.7 260.1 237.2C260.7 237.8 261.1 239.1 261.4 239.9C261.7 240.7 262.0 241.8 261.7 242.3C261.4 242.9 259.8 242.8 259.8 243.1C259.8 243.4 261.2 244.0 262.0 244.4C262.8 244.8 263.7 245.2 264.6 245.5C265.5 245.8 266.6 245.8 267.5 245.9C268.5 246.0 269.3 246.5 270.2 246.3C271.1 246.0 272.2 244.6 272.8 244.4C273.5 244.1 273.8 245.1 274.2 244.8C274.6 244.5 274.6 243.2 275.4 242.6C276.2 242.1 278.4 242.0 279.0 241.5C279.6 241.0 278.9 240.5 279.2 239.7C279.4 238.9 280.4 237.4 280.7 236.7C281.0 236.0 280.8 236.3 280.8 235.7C280.7 235.1 280.7 234.0 280.4 233.1C280.1 232.2 279.4 230.7 279.0 230.3C278.6 229.9 278.6 230.6 277.8 230.5C277.0 230.3 275.2 229.3 274.2 229.5C273.2 229.7 272.3 231.0 271.5 231.4C270.7 231.8 269.8 231.8 269.4 231.9" stroke="#aa4848" stroke-width="1.1" fill="none" stroke-linejoin="round" stroke-linecap="round"/>
<path d="M251.8 225.5C252.3 225.4 253.9 225.2 254.6 224.9C255.2 224.7 255.2 224.4 255.8 224.2C256.4 224.1 257.5 224.1 258.2 223.9C258.9 223.7 259.1 222.8 259.8 222.7C260.5 222.6 261.7 223.4 262.5 223.3C263.3 223.2 263.8 222.4 264.6 222.3C265.4 222.2 266.5 222.6 267.4 222.7C268.3 222.7 269.4 222.3 270.0 222.5C270.6 222.7 270.3 223.7 271.0 223.9C271.7 224.1 273.5 224.1 274.3 223.5C275.2 223.0 275.6 221.3 276.1 220.9C276.6 220.4 276.9 221.0 277.4 220.7C277.9 220.4 278.8 219.6 279.3 218.8C279.9 218.0 279.9 216.1 280.7 215.8C281.5 215.5 283.2 216.9 284.0 217.2C284.8 217.5 285.2 217.1 285.5 217.4C285.8 217.7 285.6 218.5 286.0 219.2C286.4 219.9 287.0 221.1 287.8 221.6C288.5 222.1 289.4 222.1 290.3 222.3C291.2 222.5 292.6 222.7 293.4 223.0C294.2 223.3 294.3 224.0 295.1 223.9C295.9 223.8 297.4 222.4 298.1 222.1C298.8 221.9 298.9 222.3 299.1 222.3" stroke="#aa4848" stroke-width="1.1" fill="none" stroke-linejoin="round" stroke-linecap="round"/>
<path d="M297.2 168.8 C286.0 168.8 286.0 174.5 292.5 174.5 S299.0 180.2 287.8 180.2" stroke="#2f6ca8" stroke-width="3.6" fill="none" stroke-linecap="round" stroke-linejoin="round"/><path d="M297.2 168.8 C286.0 168.8 286.0 174.5 292.5 174.5 S299.0 180.2 287.8 180.2" stroke="#4b92d8" stroke-width="2.7" fill="none" stroke-linecap="round" stroke-linejoin="round"/><path d="M297.2 168.8 C286.0 168.8 286.0 174.5 292.5 174.5 S299.0 180.2 287.8 180.2" stroke="#86bdf0" stroke-width="0.7" fill="none" stroke-linecap="round" stroke-dasharray="2 3"/>
<path d="M283.8 180.4 A3.5 3.5 0 1 0 283.8 184.6" stroke="#2f6ca8" stroke-width="3.9" fill="none" stroke-linecap="round" stroke-linejoin="round"/><path d="M283.8 180.4 A3.5 3.5 0 1 0 283.8 184.6" stroke="#4b92d8" stroke-width="3.0" fill="none" stroke-linecap="round" stroke-linejoin="round"/><path d="M283.8 180.4 A3.5 3.5 0 1 0 283.8 184.6" stroke="#86bdf0" stroke-width="0.7" fill="none" stroke-linecap="round" stroke-dasharray="2 3"/>
<path d="M230.8 233.2 C230.8 226.0 236.5 226.0 236.5 230.5 S242.2 235.0 242.2 227.8" stroke="#2f6ca8" stroke-width="3.6" fill="none" stroke-linecap="round" stroke-linejoin="round"/><path d="M230.8 233.2 C230.8 226.0 236.5 226.0 236.5 230.5 S242.2 235.0 242.2 227.8" stroke="#4b92d8" stroke-width="2.7" fill="none" stroke-linecap="round" stroke-linejoin="round"/><path d="M230.8 233.2 C230.8 226.0 236.5 226.0 236.5 230.5 S242.2 235.0 242.2 227.8" stroke="#86bdf0" stroke-width="0.7" fill="none" stroke-linecap="round" stroke-dasharray="2 3"/>
<path d="M250.2 218.8 C242.0 218.8 242.0 223.5 247.0 223.5 S252.0 228.2 243.8 228.2" stroke="#2f6ca8" stroke-width="3.6" fill="none" stroke-linecap="round" stroke-linejoin="round"/><path d="M250.2 218.8 C242.0 218.8 242.0 223.5 247.0 223.5 S252.0 228.2 243.8 228.2" stroke="#4b92d8" stroke-width="2.7" fill="none" stroke-linecap="round" stroke-linejoin="round"/><path d="M250.2 218.8 C242.0 218.8 242.0 223.5 247.0 223.5 S252.0 228.2 243.8 228.2" stroke="#86bdf0" stroke-width="0.7" fill="none" stroke-linecap="round" stroke-dasharray="2 3"/>
<path d="M304.8 219.4 A3.5 3.5 0 1 0 304.8 223.6" stroke="#2f6ca8" stroke-width="3.9" fill="none" stroke-linecap="round" stroke-linejoin="round"/><path d="M304.8 219.4 A3.5 3.5 0 1 0 304.8 223.6" stroke="#4b92d8" stroke-width="3.0" fill="none" stroke-linecap="round" stroke-linejoin="round"/><path d="M304.8 219.4 A3.5 3.5 0 1 0 304.8 223.6" stroke="#86bdf0" stroke-width="0.7" fill="none" stroke-linecap="round" stroke-dasharray="2 3"/>
<circle cx="280.7" cy="176.5" r="2" fill="#f7c843" stroke="#c99a25" stroke-width="0.6"/>
<circle cx="280.2" cy="181.3" r="2" fill="#f7c843" stroke="#c99a25" stroke-width="0.6"/>
<circle cx="248.2" cy="226.8" r="2" fill="#f7c843" stroke="#c99a25" stroke-width="0.6"/>
<circle cx="247.3" cy="232.2" r="2" fill="#f7c843" stroke="#c99a25" stroke-width="0.6"/>
<path d="M388.2 177.3C388.6 176.9 390.3 175.6 390.9 174.9C391.4 174.3 390.9 173.3 391.4 173.3C391.9 173.3 392.9 174.7 393.7 174.8C394.5 174.9 395.3 174.0 396.2 174.1C397.1 174.2 398.3 174.9 398.9 175.4C399.4 176.0 399.0 177.0 399.5 177.3C400.0 177.6 401.0 177.8 401.8 177.5C402.6 177.2 403.4 176.2 404.3 175.7C405.2 175.2 406.4 174.8 407.2 174.2C408.0 173.7 408.6 172.6 409.1 172.5C409.6 172.4 409.3 173.5 410.1 173.7C410.8 173.8 412.8 173.1 413.7 173.2C414.6 173.3 414.9 174.3 415.5 174.1C416.1 173.9 416.3 172.4 417.1 172.1C417.9 171.8 419.5 172.7 420.3 172.5C421.1 172.3 421.1 171.1 421.9 170.8C422.7 170.6 424.2 170.7 425.1 170.9C426.0 171.1 426.5 171.9 427.3 172.2C428.1 172.4 429.1 172.7 430.0 172.5C430.9 172.3 432.0 171.3 432.9 171.1C433.8 170.9 434.7 171.3 435.3 171.3C435.9 171.2 435.7 170.7 436.4 170.9C437.1 171.1 438.5 172.1 439.3 172.6C440.1 173.1 440.3 173.8 441.2 174.1C442.1 174.4 443.6 174.1 444.4 174.4C445.2 174.6 445.6 176.0 446.0 175.7C446.4 175.4 446.5 173.4 446.8 172.6C447.0 171.9 447.3 171.8 447.4 171.2C447.5 170.6 447.5 169.9 447.6 169.3C447.7 168.7 447.9 167.9 448.0 167.3C448.0 166.8 447.8 166.7 447.8 165.9C447.7 165.2 447.0 163.7 447.6 162.8C448.2 161.9 450.3 161.1 451.1 160.6C451.9 160.0 452.0 159.6 452.4 159.6C452.8 159.6 453.0 160.6 453.7 160.7C454.4 160.8 455.8 160.4 456.7 160.3C457.6 160.1 458.3 159.4 458.9 159.6C459.5 159.8 459.6 160.9 460.2 161.4C460.7 162.0 461.8 162.6 462.1 162.8" stroke="#aa4848" stroke-width="1.1" fill="none" stroke-linejoin="round" stroke-linecap="round"/>
<path d="M385.0 188.5C385.3 188.4 385.9 188.5 386.9 188.1C387.9 187.8 389.9 186.7 390.9 186.5C391.9 186.3 392.1 187.0 393.0 186.9C393.9 186.8 395.2 186.1 396.3 185.8C397.3 185.6 398.5 185.9 399.3 185.6C400.1 185.2 400.4 184.0 401.1 183.7C401.8 183.4 402.5 183.7 403.4 183.6C404.4 183.4 405.7 182.9 406.7 182.7C407.6 182.4 408.2 182.2 409.1 182.1C410.0 182.0 411.4 182.3 412.2 182.0C413.0 181.8 413.0 180.9 413.8 180.6C414.6 180.4 416.2 180.7 417.1 180.5C418.0 180.3 418.6 179.8 419.4 179.4C420.2 179.1 421.2 178.5 421.9 178.2C422.6 178.0 423.0 178.1 423.5 178.1C424.0 178.1 424.5 178.2 425.0 178.5C425.6 178.8 425.9 179.5 426.7 179.7C427.6 179.9 429.2 179.9 430.0 179.7C430.8 179.5 430.7 178.4 431.5 178.2C432.3 178.1 433.9 178.8 434.7 178.9C435.5 179.0 435.7 179.1 436.4 178.9C437.1 178.7 438.1 177.8 439.1 177.6C440.0 177.4 441.1 177.9 442.0 177.8C442.9 177.8 444.0 177.4 444.4 177.3" stroke="#aa4848" stroke-width="1.1" fill="none" stroke-linejoin="round" stroke-linecap="round"/>
<path d="M417.1 175.7C417.5 175.4 418.5 174.2 419.3 173.7C420.1 173.2 421.3 172.4 421.9 172.5C422.5 172.6 422.8 173.9 423.0 174.5C423.2 175.2 423.1 175.8 423.2 176.5C423.3 177.2 423.6 178.2 423.5 178.9C423.4 179.6 423.1 180.1 422.6 180.6C422.1 181.1 420.6 182.3 420.3 182.1C420.0 181.9 420.9 180.1 420.7 179.3C420.4 178.5 419.0 177.6 418.7 177.3" stroke="#aa4848" stroke-width="1.1" fill="none" stroke-linejoin="round" stroke-linecap="round"/>
<path d="M452.4 182.1C452.4 182.5 452.1 183.9 452.4 184.7C452.7 185.5 454.0 186.1 454.0 186.9C454.0 187.7 453.1 188.7 452.7 189.5C452.3 190.4 451.5 191.2 451.6 191.8C451.7 192.4 452.9 193.1 453.2 193.4" stroke="#aa4848" stroke-width="1.1" fill="none" stroke-linejoin="round" stroke-linecap="round"/>
<path d="M418.7 211.0C418.6 211.6 417.9 213.6 418.1 214.4C418.2 215.2 419.4 215.4 419.5 215.8C419.6 216.2 419.3 216.5 418.9 217.1C418.5 217.6 417.4 218.7 417.1 219.0" stroke="#aa4848" stroke-width="1.1" fill="none" stroke-linejoin="round" stroke-linecap="round"/>
<path d="M423.5 220.7C423.8 220.6 424.3 220.3 425.2 220.0C426.0 219.7 427.5 219.3 428.4 219.0C429.3 218.7 429.8 218.5 430.6 218.2C431.4 217.9 432.5 217.5 433.2 217.4C433.9 217.3 433.9 217.5 434.8 217.9C435.7 218.3 437.7 219.4 438.8 219.8C439.9 220.3 440.5 220.6 441.2 220.7C441.9 220.8 441.8 220.2 442.8 220.2C443.9 220.2 446.4 220.3 447.5 220.7C448.5 221.0 448.5 222.2 449.2 222.3C449.9 222.4 450.8 221.5 451.8 221.5C452.7 221.5 453.8 222.1 454.7 222.3C455.7 222.4 456.6 222.2 457.3 222.3C458.0 222.4 458.2 222.1 459.0 222.7C459.7 223.2 460.9 225.1 461.7 225.5C462.5 226.0 462.8 225.3 463.7 225.5C464.6 225.7 466.0 226.3 466.8 226.5C467.7 226.6 468.4 226.2 468.9 226.3C469.5 226.4 469.7 227.2 470.1 227.1C470.5 227.0 470.9 226.1 471.5 225.8C472.1 225.5 472.8 225.3 473.7 225.2C474.5 225.2 475.8 225.7 476.5 225.5C477.2 225.3 477.5 224.6 478.2 224.0C478.8 223.3 479.9 222.4 480.5 221.5C481.0 220.7 480.8 219.6 481.4 219.0C482.0 218.4 483.3 218.5 483.9 217.7C484.4 216.9 484.5 214.8 484.6 214.2" stroke="#aa4848" stroke-width="1.1" fill="none" stroke-linejoin="round" stroke-linecap="round"/>
<path d="M404.3 235.1C404.8 235.1 406.6 234.7 407.5 235.1C408.5 235.5 409.2 237.1 410.0 237.6C410.8 238.2 411.6 238.3 412.3 238.3C413.0 238.3 413.3 237.7 414.1 237.7C414.8 237.7 415.8 238.3 416.8 238.2C417.9 238.0 419.3 237.3 420.3 236.7C421.3 236.1 422.2 234.8 423.1 234.3C424.0 233.9 425.2 234.3 425.8 234.1C426.3 233.8 425.9 233.2 426.6 232.8C427.3 232.5 429.1 232.1 430.0 231.9C430.9 231.7 431.3 232.3 431.8 231.8C432.3 231.3 432.2 229.4 433.0 228.8C433.8 228.3 435.8 228.7 436.7 228.4C437.5 228.2 437.5 227.4 438.0 227.1C438.5 226.8 438.9 226.6 439.8 226.4C440.7 226.1 442.6 225.8 443.6 225.6C444.6 225.5 445.1 225.6 446.0 225.5C446.9 225.4 448.2 224.9 449.3 225.1C450.3 225.4 451.5 226.4 452.3 226.7C453.1 227.1 453.5 226.9 454.0 227.1C454.5 227.3 454.2 227.6 455.1 227.7C456.1 227.8 458.6 227.7 459.5 227.8C460.4 228.0 460.1 228.5 460.5 228.7C460.9 228.9 461.4 228.9 462.2 228.9C462.9 228.9 463.8 228.5 464.8 228.7C465.9 228.9 467.4 229.8 468.5 230.3C469.6 230.8 470.7 231.5 471.3 231.9C471.9 232.2 471.7 232.5 472.3 232.5C472.9 232.5 474.1 232.0 474.9 231.9C475.7 231.8 476.3 231.6 477.1 232.0C477.8 232.4 478.9 233.8 479.6 234.1C480.3 234.3 480.9 233.3 481.4 233.5C481.9 233.7 482.2 234.8 482.5 235.4C482.8 235.9 483.3 236.5 483.0 236.7C482.7 236.9 481.4 236.1 480.6 236.4C479.7 236.6 478.6 238.4 478.1 238.3C477.6 238.2 477.9 236.6 477.4 235.8C476.8 235.0 475.3 233.9 474.9 233.5" stroke="#aa4848" stroke-width="1.1" fill="none" stroke-linejoin="round" stroke-linecap="round"/>
<path d="M464.2 164.8 C455.0 164.8 455.0 170.0 460.5 170.0 S466.0 175.2 456.8 175.2" stroke="#2f6ca8" stroke-width="3.6" fill="none" stroke-linecap="round" stroke-linejoin="round"/><path d="M464.2 164.8 C455.0 164.8 455.0 170.0 460.5 170.0 S466.0 175.2 456.8 175.2" stroke="#4b92d8" stroke-width="2.7" fill="none" stroke-linecap="round" stroke-linejoin="round"/><path d="M464.2 164.8 C455.0 164.8 455.0 170.0 460.5 170.0 S466.0 175.2 456.8 175.2" stroke="#86bdf0" stroke-width="0.7" fill="none" stroke-linecap="round" stroke-dasharray="2 3"/>
<path d="M453.7 177.6 A4.0 4.0 0 1 0 453.7 182.4" stroke="#2f6ca8" stroke-width="3.9" fill="none" stroke-linecap="round" stroke-linejoin="round"/><path d="M453.7 177.6 A4.0 4.0 0 1 0 453.7 182.4" stroke="#4b92d8" stroke-width="3.0" fill="none" stroke-linecap="round" stroke-linejoin="round"/><path d="M453.7 177.6 A4.0 4.0 0 1 0 453.7 182.4" stroke="#86bdf0" stroke-width="0.7" fill="none" stroke-linecap="round" stroke-dasharray="2 3"/>
<path d="M410.6 225.3 A4.5 4.5 0 1 0 410.6 230.7" stroke="#2f6ca8" stroke-width="3.9" fill="none" stroke-linecap="round" stroke-linejoin="round"/><path d="M410.6 225.3 A4.5 4.5 0 1 0 410.6 230.7" stroke="#4b92d8" stroke-width="3.0" fill="none" stroke-linecap="round" stroke-linejoin="round"/><path d="M410.6 225.3 A4.5 4.5 0 1 0 410.6 230.7" stroke="#86bdf0" stroke-width="0.7" fill="none" stroke-linecap="round" stroke-dasharray="2 3"/>
<path d="M415.8 220.2 C415.8 212.0 419.0 212.0 419.0 217.0 S422.2 222.0 422.2 213.8" stroke="#2f6ca8" stroke-width="3.6" fill="none" stroke-linecap="round" stroke-linejoin="round"/><path d="M415.8 220.2 C415.8 212.0 419.0 212.0 419.0 217.0 S422.2 222.0 422.2 213.8" stroke="#4b92d8" stroke-width="2.7" fill="none" stroke-linecap="round" stroke-linejoin="round"/><path d="M415.8 220.2 C415.8 212.0 419.0 212.0 419.0 217.0 S422.2 222.0 422.2 213.8" stroke="#86bdf0" stroke-width="0.7" fill="none" stroke-linecap="round" stroke-dasharray="2 3"/>
<circle cx="451.2" cy="174.9" r="2" fill="#f7c843" stroke="#c99a25" stroke-width="0.6"/>
<circle cx="452.4" cy="179.7" r="2" fill="#f7c843" stroke="#c99a25" stroke-width="0.6"/>
<circle cx="419.5" cy="223" r="2" fill="#f7c843" stroke="#c99a25" stroke-width="0.6"/>
<circle cx="419.2" cy="228.7" r="2" fill="#f7c843" stroke="#c99a25" stroke-width="0.6"/>
<path d="M554.6 170.5C554.9 170.2 555.4 169.2 556.2 169.0C557.1 168.7 558.5 168.7 559.5 168.9C560.5 169.1 561.6 170.0 562.4 170.1C563.2 170.2 563.9 169.5 564.3 169.7C564.7 169.9 564.8 170.6 565.0 171.3C565.1 171.9 565.5 172.9 565.1 173.7C564.7 174.5 563.1 175.6 562.7 176.1C562.3 176.7 563.3 176.8 562.7 176.9C562.1 177.0 560.1 176.6 559.3 176.9C558.4 177.1 558.4 177.9 557.8 178.5C557.2 179.1 556.1 179.7 555.6 180.6C555.0 181.4 554.9 183.3 554.6 183.4C554.3 183.5 554.3 181.8 553.8 181.2C553.3 180.7 551.8 180.3 551.4 180.1" stroke="#aa4848" stroke-width="1.1" fill="none" stroke-linejoin="round" stroke-linecap="round"/>
<path d="M557.8 180.1C558.3 180.0 560.3 179.7 561.1 179.6C561.8 179.4 561.5 179.3 562.3 179.2C563.1 179.0 565.0 178.8 565.9 178.5C566.8 178.2 566.5 177.9 567.4 177.5C568.3 177.2 570.5 176.8 571.4 176.5C572.2 176.1 571.9 175.7 572.3 175.3C572.7 174.9 572.8 174.3 573.9 174.0C574.9 173.7 577.5 173.5 578.6 173.4C579.7 173.4 579.7 174.0 580.3 173.7C580.9 173.4 581.5 172.0 582.2 171.5C582.8 171.1 583.4 171.4 584.2 171.2C585.0 171.1 585.8 170.7 586.8 170.5C587.8 170.3 589.6 170.5 590.4 169.9C591.2 169.4 591.3 167.9 591.6 167.3C591.9 166.7 591.7 166.9 592.3 166.4C592.8 165.8 594.2 164.7 594.8 164.1C595.4 163.5 595.3 163.1 595.8 162.6C596.3 162.1 597.5 160.8 598.0 160.9C598.5 161.0 598.6 162.6 598.8 163.4C599.1 164.2 599.2 165.5 599.6 165.7C600.0 165.9 600.8 165.0 601.3 164.7C601.9 164.5 602.3 164.6 602.8 164.1C603.3 163.6 603.7 162.2 604.3 161.4C604.8 160.6 605.8 160.1 606.0 159.3C606.2 158.5 605.5 157.0 605.3 156.4C605.1 155.7 604.7 156.0 604.8 155.4C605.0 154.8 605.3 153.2 606.0 152.8C606.7 152.4 608.3 153.2 609.1 152.9C609.9 152.6 610.3 151.7 610.8 151.1C611.4 150.6 611.7 149.7 612.4 149.6C613.1 149.5 614.5 150.3 615.1 150.3C615.8 150.3 615.5 149.7 616.1 149.6C616.7 149.5 618.3 149.5 618.9 149.6C619.5 149.7 619.3 149.7 619.6 150.2C619.8 150.8 620.3 152.4 620.5 152.8" stroke="#aa4848" stroke-width="1.1" fill="none" stroke-linejoin="round" stroke-linecap="round"/>
<path d="M564.3 180.1C564.9 180.1 566.9 180.3 567.6 180.3C568.3 180.2 568.0 180.3 568.8 180.0C569.5 179.7 571.2 178.7 572.3 178.5C573.4 178.3 574.6 178.8 575.5 178.9C576.4 178.9 576.8 178.9 577.6 178.8C578.4 178.7 579.5 178.6 580.3 178.3C581.0 177.9 581.3 177.2 581.9 176.9C582.5 176.6 583.0 176.1 583.9 176.4C584.8 176.7 586.7 178.2 587.4 178.5C588.2 178.9 587.6 178.6 588.4 178.5C589.2 178.4 591.1 178.2 591.9 177.7C592.7 177.1 592.5 175.9 593.2 175.3C593.9 174.7 595.6 174.7 596.0 174.3C596.3 173.8 595.0 173.3 595.4 172.7C595.7 172.1 597.2 170.9 598.0 170.5C598.8 170.1 599.4 170.8 600.2 170.5C601.0 170.2 602.1 169.0 602.8 168.9C603.5 168.8 603.4 169.6 604.2 169.9C605.0 170.2 607.0 170.3 607.6 170.5C608.2 170.7 607.5 170.6 607.8 171.1C608.0 171.6 608.5 173.0 609.2 173.7C609.9 174.4 611.1 175.1 611.9 175.4C612.8 175.7 613.6 175.0 614.1 175.3C614.6 175.6 614.2 176.6 614.8 177.3C615.3 178.1 616.7 179.2 617.4 179.9C618.1 180.7 618.3 181.9 618.9 181.8C619.5 181.7 620.5 179.7 620.7 179.2C621.0 178.6 620.5 178.6 620.5 178.5" stroke="#aa4848" stroke-width="1.1" fill="none" stroke-linejoin="round" stroke-linecap="round"/>
<path d="M583.5 204.2C583.6 203.7 583.5 201.8 584.1 201.0C584.6 200.2 585.8 199.6 586.8 199.4C587.8 199.2 589.5 199.3 590.3 199.6C591.1 199.9 591.3 200.5 591.6 201.0C591.9 201.5 591.7 201.6 592.2 202.4C592.7 203.2 594.5 204.9 594.8 205.8C595.1 206.7 594.3 207.2 594.1 208.0C593.8 208.8 593.3 210.2 593.2 210.7" stroke="#aa4848" stroke-width="1.1" fill="none" stroke-linejoin="round" stroke-linecap="round"/>
<path d="M570.7 215.5C571.0 215.8 572.1 216.7 572.6 217.3C573.0 218.0 573.2 218.5 573.4 219.3C573.6 220.1 573.5 221.2 573.9 221.9C574.3 222.6 575.1 223.0 575.8 223.4C576.4 223.7 577.0 223.9 577.7 223.9C578.5 223.9 579.6 223.7 580.3 223.5C581.0 223.3 581.5 222.9 582.2 222.6C583.0 222.3 583.7 221.8 584.7 221.7C585.7 221.6 587.3 222.1 588.4 221.9C589.5 221.7 590.4 221.2 591.2 220.6C592.0 220.1 592.9 219.0 593.2 218.7" stroke="#aa4848" stroke-width="1.1" fill="none" stroke-linejoin="round" stroke-linecap="round"/>
<path d="M593.2 215.5C593.6 215.0 595.0 213.0 595.5 212.3C595.9 211.6 595.6 211.6 595.9 211.3C596.3 211.0 596.9 211.2 597.5 210.6C598.1 209.9 598.8 207.7 599.6 207.4C600.4 207.1 601.4 208.5 602.3 208.6C603.1 208.8 604.1 208.2 604.7 208.2C605.3 208.3 605.7 208.3 606.0 209.0C606.3 209.7 606.1 211.6 606.7 212.4C607.2 213.2 608.5 213.6 609.2 213.9C609.9 214.2 610.2 214.0 610.7 214.2C611.2 214.5 611.9 215.3 612.4 215.5C612.9 215.7 613.0 215.8 613.8 215.4C614.6 215.0 616.3 213.6 617.2 213.1C618.0 212.6 618.2 212.3 618.9 212.3C619.6 212.3 620.4 212.8 621.1 212.9C621.8 213.0 622.4 212.9 623.1 213.1C623.8 213.3 624.6 213.9 625.3 213.9C626.0 213.9 626.5 213.2 627.1 213.2C627.6 213.2 627.8 214.1 628.6 213.9C629.4 213.8 630.8 212.5 631.7 212.3C632.6 212.1 633.3 212.9 634.1 212.9C634.8 212.9 635.6 212.0 636.3 212.2C636.9 212.4 637.2 213.6 638.1 213.9C639.0 214.2 640.8 213.7 641.6 214.0C642.4 214.3 642.4 215.6 643.0 215.5C643.6 215.4 645.0 214.3 645.5 213.5C646.1 212.7 645.8 211.7 646.2 210.7C646.6 209.7 647.5 208.4 648.1 207.6C648.6 206.8 649.2 206.1 649.4 205.8" stroke="#aa4848" stroke-width="1.1" fill="none" stroke-linejoin="round" stroke-linecap="round"/>
<path d="M590.0 218.7C590.4 219.0 592.0 220.1 592.7 220.4C593.4 220.8 593.5 220.6 594.2 220.7C595.0 220.8 596.3 221.0 597.2 221.2C598.1 221.4 599.0 221.8 599.6 221.9C600.2 222.0 600.3 222.1 601.1 222.0C601.9 221.9 603.3 221.4 604.2 221.3C605.1 221.3 605.7 221.4 606.5 221.5C607.3 221.6 608.5 221.8 609.2 221.9C609.9 222.0 610.0 222.3 610.5 221.8C611.1 221.4 611.6 219.7 612.4 219.2C613.3 218.7 614.8 218.9 615.7 218.7C616.6 218.5 617.0 218.3 617.6 218.0C618.1 217.7 618.0 217.1 618.8 216.9C619.6 216.8 621.3 216.8 622.1 217.1C622.9 217.4 622.9 218.0 623.4 218.6C624.0 219.1 624.8 219.8 625.3 220.3C625.8 220.8 626.5 220.9 626.7 221.5C626.9 222.1 626.3 223.2 626.6 224.0C626.9 224.9 627.7 226.1 628.5 226.7C629.3 227.3 630.8 227.3 631.5 227.7C632.3 228.1 632.6 228.3 633.2 228.9C633.7 229.6 634.4 231.3 634.9 231.5C635.4 231.7 635.5 230.3 636.3 230.0C637.1 229.8 639.1 230.5 639.7 229.9C640.3 229.3 639.9 227.5 640.2 226.7C640.5 225.8 641.3 225.1 641.5 224.6C641.7 224.1 641.6 224.0 641.4 223.5C641.2 223.0 640.7 222.2 640.2 221.7C639.6 221.2 638.4 220.5 638.1 220.3" stroke="#aa4848" stroke-width="1.1" fill="none" stroke-linejoin="round" stroke-linecap="round"/>
<path d="M614.1 225.1C614.3 225.1 614.4 225.0 615.1 224.9C615.7 224.8 617.1 224.9 618.0 224.6C618.9 224.4 619.7 223.8 620.5 223.5C621.3 223.2 622.0 222.8 622.8 223.1C623.6 223.4 624.9 224.8 625.3 225.1" stroke="#aa4848" stroke-width="1.1" fill="none" stroke-linejoin="round" stroke-linecap="round"/>
<path d="M624.2 153.8 C614.0 153.8 614.0 162.0 620.0 162.0 S626.0 170.2 615.8 170.2" stroke="#2f6ca8" stroke-width="3.6" fill="none" stroke-linecap="round" stroke-linejoin="round"/><path d="M624.2 153.8 C614.0 153.8 614.0 162.0 620.0 162.0 S626.0 170.2 615.8 170.2" stroke="#4b92d8" stroke-width="2.7" fill="none" stroke-linecap="round" stroke-linejoin="round"/><path d="M624.2 153.8 C614.0 153.8 614.0 162.0 620.0 162.0 S626.0 170.2 615.8 170.2" stroke="#86bdf0" stroke-width="0.7" fill="none" stroke-linecap="round" stroke-dasharray="2 3"/>
<path d="M618.6 167.8 A4.5 4.5 0 1 0 618.6 173.2" stroke="#2f6ca8" stroke-width="3.9" fill="none" stroke-linecap="round" stroke-linejoin="round"/><path d="M618.6 167.8 A4.5 4.5 0 1 0 618.6 173.2" stroke="#4b92d8" stroke-width="3.0" fill="none" stroke-linecap="round" stroke-linejoin="round"/><path d="M618.6 167.8 A4.5 4.5 0 1 0 618.6 173.2" stroke="#86bdf0" stroke-width="0.7" fill="none" stroke-linecap="round" stroke-dasharray="2 3"/>
<path d="M571.8 217.2 C571.8 207.0 577.0 207.0 577.0 213.0 S582.2 219.0 582.2 208.8" stroke="#2f6ca8" stroke-width="3.6" fill="none" stroke-linecap="round" stroke-linejoin="round"/><path d="M571.8 217.2 C571.8 207.0 577.0 207.0 577.0 213.0 S582.2 219.0 582.2 208.8" stroke="#4b92d8" stroke-width="2.7" fill="none" stroke-linecap="round" stroke-linejoin="round"/><path d="M571.8 217.2 C571.8 207.0 577.0 207.0 577.0 213.0 S582.2 219.0 582.2 208.8" stroke="#86bdf0" stroke-width="0.7" fill="none" stroke-linecap="round" stroke-dasharray="2 3"/>
<path d="M590.9 209.7 A3.0 3.0 0 1 0 590.9 213.3" stroke="#2f6ca8" stroke-width="3.9" fill="none" stroke-linecap="round" stroke-linejoin="round"/><path d="M590.9 209.7 A3.0 3.0 0 1 0 590.9 213.3" stroke="#4b92d8" stroke-width="3.0" fill="none" stroke-linecap="round" stroke-linejoin="round"/><path d="M590.9 209.7 A3.0 3.0 0 1 0 590.9 213.3" stroke="#86bdf0" stroke-width="0.7" fill="none" stroke-linecap="round" stroke-dasharray="2 3"/>
<circle cx="610.8" cy="165.7" r="2" fill="#f7c843" stroke="#c99a25" stroke-width="0.6"/>
<circle cx="613.3" cy="170.5" r="2" fill="#f7c843" stroke="#c99a25" stroke-width="0.6"/>
<circle cx="588.7" cy="209.4" r="2" fill="#f7c843" stroke="#c99a25" stroke-width="0.6"/>
<circle cx="588" cy="214.7" r="2" fill="#f7c843" stroke="#c99a25" stroke-width="0.6"/>
<path d="M46.4 321.5C46.6 321.3 47.3 321.0 47.6 320.2C47.9 319.4 47.7 317.2 48.0 316.7C48.3 316.2 48.5 317.1 49.3 317.4C50.1 317.7 51.8 318.4 52.8 318.3C53.8 318.2 54.5 317.3 55.3 317.1C56.1 316.8 57.2 316.7 57.7 316.7C58.2 316.7 57.6 316.5 58.2 316.8C58.7 317.1 60.2 318.1 60.9 318.3C61.6 318.5 61.8 318.6 62.6 318.2C63.4 317.8 64.8 316.2 65.7 315.9C66.6 315.6 67.3 316.6 67.9 316.4C68.6 316.2 68.9 314.8 69.6 314.6C70.3 314.4 71.4 314.8 72.1 315.1C72.8 315.4 73.2 316.4 73.8 316.2C74.3 316.1 74.5 314.5 75.3 314.3C76.1 314.1 77.6 315.1 78.5 315.1C79.4 315.1 80.3 315.2 80.8 314.6C81.4 314.0 81.2 312.2 81.9 311.8C82.6 311.3 84.2 312.1 85.0 311.9C85.8 311.7 86.2 311.3 86.6 310.8C87.1 310.3 87.0 309.6 87.5 309.0C88.1 308.3 89.2 307.7 89.8 307.1C90.4 306.5 90.4 306.1 91.2 305.6C92.0 305.1 93.7 304.4 94.6 303.9C95.5 303.4 96.1 302.9 96.8 302.5C97.5 302.1 98.0 301.9 98.7 301.4C99.4 300.8 100.2 299.7 101.0 299.1C101.8 298.5 103.0 298.0 103.5 297.8C104.0 297.5 103.4 297.9 104.1 297.7C104.7 297.5 106.5 296.8 107.4 296.7C108.3 296.6 108.7 297.2 109.5 297.2C110.4 297.3 111.9 297.0 112.6 297.1C113.3 297.1 113.6 297.2 113.9 297.5C114.2 297.8 114.2 298.2 114.5 299.0C114.8 299.8 115.1 301.5 115.5 302.3C115.9 303.1 116.8 303.6 117.1 303.9" stroke="#aa4848" stroke-width="1.1" fill="none" stroke-linejoin="round" stroke-linecap="round"/>
<path d="M48.0 323.1C48.3 323.0 48.7 322.8 49.7 322.8C50.7 322.8 53.0 323.0 54.1 323.1C55.1 323.1 55.2 323.2 56.0 323.1C56.8 323.0 57.9 323.2 58.7 322.8C59.4 322.3 59.6 321.0 60.5 320.6C61.4 320.1 63.2 320.0 64.1 319.9C65.0 319.8 65.2 320.4 66.1 320.2C66.9 320.1 68.4 319.5 69.4 319.2C70.4 318.8 71.3 318.5 72.1 318.3C72.9 318.1 73.4 318.1 74.0 318.1C74.7 318.1 75.2 318.8 76.0 318.6C76.8 318.3 78.0 316.9 79.0 316.6C79.9 316.3 80.8 316.8 81.8 316.7C82.8 316.6 84.3 316.3 85.1 316.2C85.8 316.1 85.8 316.3 86.3 316.1C86.8 316.0 87.5 315.0 88.2 315.1C88.9 315.2 89.8 316.8 90.6 317.0C91.4 317.3 92.3 316.7 93.0 316.7C93.7 316.7 94.1 317.0 94.9 317.2C95.7 317.5 96.9 318.0 97.8 318.3C98.7 318.6 99.5 318.6 100.1 319.0C100.7 319.4 100.8 320.5 101.5 320.9C102.2 321.3 103.4 321.3 104.2 321.5C105.0 321.7 106.0 322.2 106.5 321.9C107.0 321.6 107.3 320.2 107.4 319.9" stroke="#aa4848" stroke-width="1.1" fill="none" stroke-linejoin="round" stroke-linecap="round"/>
<path d="M54.5 318.3C54.6 317.9 55.1 316.8 55.4 316.0C55.6 315.2 56.2 314.4 56.0 313.5C55.8 312.6 54.5 311.4 54.0 310.6C53.4 309.8 53.2 309.2 52.8 308.7C52.4 308.2 51.8 308.2 51.8 307.5C51.8 306.9 52.6 305.7 52.7 304.8C52.7 304.0 51.6 302.6 52.0 302.3C52.4 302.0 54.4 302.8 55.1 303.0C55.7 303.3 55.5 303.3 56.0 303.9C56.5 304.5 57.5 305.6 57.8 306.4C58.0 307.2 57.8 307.8 57.7 308.7C57.6 309.6 57.7 310.9 57.4 311.7C57.1 312.5 56.2 313.2 56.0 313.5" stroke="#aa4848" stroke-width="1.1" fill="none" stroke-linejoin="round" stroke-linecap="round"/>
<path d="M97.8 303.9C97.6 304.3 96.5 305.4 96.3 306.0C96.1 306.6 96.5 306.8 96.5 307.6C96.5 308.3 95.8 309.6 96.2 310.3C96.6 311.0 98.4 311.2 99.0 311.8C99.5 312.4 99.3 312.9 99.6 313.7C100.0 314.5 100.7 316.1 101.0 316.7C101.3 317.3 101.0 316.9 101.4 317.2C101.8 317.6 102.6 318.3 103.4 319.0C104.1 319.8 105.4 321.2 105.8 321.5C106.2 321.8 105.2 321.3 105.5 320.7C105.7 320.2 107.1 318.7 107.4 318.3" stroke="#aa4848" stroke-width="1.1" fill="none" stroke-linejoin="round" stroke-linecap="round"/>
<path d="M78.5 344.0C78.4 344.3 77.9 345.0 77.6 345.5C77.4 346.0 76.6 346.5 76.9 347.2C77.2 347.9 79.1 349.1 79.6 349.6C80.1 350.1 79.8 350.1 80.1 350.4C80.4 350.7 80.4 351.3 81.2 351.2C82.1 351.2 84.2 350.2 85.1 350.1C86.0 350.0 85.9 350.3 86.6 350.4C87.3 350.5 88.8 350.7 89.5 350.5C90.3 350.3 90.5 349.3 91.1 349.0C91.7 348.7 92.3 348.9 93.0 348.8C93.7 348.7 94.8 348.4 95.6 348.6C96.3 348.8 96.7 349.7 97.3 350.0C98.0 350.4 98.8 350.5 99.4 350.4C100.0 350.3 99.9 349.2 100.7 349.4C101.4 349.5 103.2 351.1 104.0 351.3C104.9 351.5 105.0 351.0 105.8 350.4C106.6 349.8 107.9 348.2 108.7 347.7C109.6 347.2 109.8 347.6 110.7 347.2C111.6 346.8 113.2 345.6 114.0 345.3C114.8 345.0 114.9 345.8 115.5 345.6C116.1 345.4 116.8 344.5 117.8 344.2C118.8 343.9 120.7 344.1 121.6 343.8C122.6 343.5 123.0 342.7 123.5 342.4C124.0 342.1 123.7 342.1 124.5 341.9C125.3 341.6 127.3 341.3 128.2 340.8C129.1 340.4 129.3 339.4 129.9 339.2C130.5 339.0 131.0 339.7 131.9 339.5C132.9 339.3 134.8 338.0 135.6 338.1C136.4 338.1 136.1 339.7 136.8 339.8C137.5 339.8 138.6 338.7 139.6 338.4C140.6 338.1 142.3 338.0 143.0 338.1C143.7 338.2 143.4 339.1 144.0 339.1C144.6 339.2 145.8 338.3 146.7 338.3C147.6 338.4 148.8 339.1 149.2 339.2" stroke="#aa4848" stroke-width="1.1" fill="none" stroke-linejoin="round" stroke-linecap="round"/>
<path d="M67.3 363.3C67.5 363.8 68.2 365.6 68.4 366.3C68.5 366.9 68.1 366.5 68.4 367.0C68.8 367.6 69.6 369.2 70.5 369.7C71.4 370.2 72.8 369.8 73.6 370.1C74.4 370.5 74.8 371.5 75.3 371.7C75.9 371.9 76.1 371.5 76.9 371.3C77.7 371.1 79.4 371.0 80.2 370.7C81.0 370.3 81.0 369.4 81.8 369.2C82.6 369.1 84.2 370.0 85.0 369.7C85.8 369.4 86.0 368.0 86.5 367.2C87.0 366.4 87.7 365.6 88.2 364.9C88.7 364.2 88.8 363.8 89.4 363.1C90.0 362.4 91.2 361.5 91.8 361.0C92.4 360.5 92.2 360.5 93.0 360.1C93.8 359.7 95.9 359.2 96.9 358.8C97.8 358.4 97.8 357.9 98.5 357.8C99.2 357.8 100.1 358.3 101.0 358.5C101.9 358.7 103.0 359.0 103.9 358.7C104.7 358.4 105.4 357.0 106.0 356.7C106.6 356.4 106.9 357.3 107.4 356.9C107.9 356.5 109.0 354.8 109.2 354.3C109.5 353.8 108.8 353.6 109.0 353.7C109.2 353.8 109.6 354.7 110.1 354.9C110.7 355.2 112.1 354.9 112.3 355.3C112.5 355.7 111.3 356.7 111.1 357.4C111.0 358.0 111.4 359.0 111.5 359.3" stroke="#aa4848" stroke-width="1.1" fill="none" stroke-linejoin="round" stroke-linecap="round"/>
<path d="M83.4 353.7C83.8 353.9 85.5 354.1 86.0 354.9C86.5 355.7 86.7 357.6 86.6 358.5C86.5 359.4 85.6 359.7 85.3 360.5C85.1 361.3 85.1 362.8 85.0 363.3" stroke="#aa4848" stroke-width="1.1" fill="none" stroke-linejoin="round" stroke-linecap="round"/>
<path d="M110.8 312.2 C110.8 302.0 115.0 302.0 115.0 308.0 S119.2 314.0 119.2 303.8" stroke="#2f6ca8" stroke-width="3.6" fill="none" stroke-linecap="round" stroke-linejoin="round"/><path d="M110.8 312.2 C110.8 302.0 115.0 302.0 115.0 308.0 S119.2 314.0 119.2 303.8" stroke="#4b92d8" stroke-width="2.7" fill="none" stroke-linecap="round" stroke-linejoin="round"/><path d="M110.8 312.2 C110.8 302.0 115.0 302.0 115.0 308.0 S119.2 314.0 119.2 303.8" stroke="#86bdf0" stroke-width="0.7" fill="none" stroke-linecap="round" stroke-dasharray="2 3"/>
<path d="M106.8 309.4 A3.5 3.5 0 1 0 106.8 313.6" stroke="#2f6ca8" stroke-width="3.9" fill="none" stroke-linecap="round" stroke-linejoin="round"/><path d="M106.8 309.4 A3.5 3.5 0 1 0 106.8 313.6" stroke="#4b92d8" stroke-width="3.0" fill="none" stroke-linecap="round" stroke-linejoin="round"/><path d="M106.8 309.4 A3.5 3.5 0 1 0 106.8 313.6" stroke="#86bdf0" stroke-width="0.7" fill="none" stroke-linecap="round" stroke-dasharray="2 3"/>
<path d="M67.8 365.2 C67.8 357.0 72.5 357.0 72.5 362.0 S77.2 367.0 77.2 358.8" stroke="#2f6ca8" stroke-width="3.6" fill="none" stroke-linecap="round" stroke-linejoin="round"/><path d="M67.8 365.2 C67.8 357.0 72.5 357.0 72.5 362.0 S77.2 367.0 77.2 358.8" stroke="#4b92d8" stroke-width="2.7" fill="none" stroke-linecap="round" stroke-linejoin="round"/><path d="M67.8 365.2 C67.8 357.0 72.5 357.0 72.5 362.0 S77.2 367.0 77.2 358.8" stroke="#86bdf0" stroke-width="0.7" fill="none" stroke-linecap="round" stroke-dasharray="2 3"/>
<path d="M82.2 347.8 C74.0 347.8 74.0 352.5 79.0 352.5 S84.0 357.2 75.8 357.2" stroke="#2f6ca8" stroke-width="3.6" fill="none" stroke-linecap="round" stroke-linejoin="round"/><path d="M82.2 347.8 C74.0 347.8 74.0 352.5 79.0 352.5 S84.0 357.2 75.8 357.2" stroke="#4b92d8" stroke-width="2.7" fill="none" stroke-linecap="round" stroke-linejoin="round"/><path d="M82.2 347.8 C74.0 347.8 74.0 352.5 79.0 352.5 S84.0 357.2 75.8 357.2" stroke="#86bdf0" stroke-width="0.7" fill="none" stroke-linecap="round" stroke-dasharray="2 3"/>
<path d="M113.2 347.1 A1.5 1.5 0 1 0 113.2 348.9" stroke="#2f6ca8" stroke-width="3.9" fill="none" stroke-linecap="round" stroke-linejoin="round"/><path d="M113.2 347.1 A1.5 1.5 0 1 0 113.2 348.9" stroke="#4b92d8" stroke-width="3.0" fill="none" stroke-linecap="round" stroke-linejoin="round"/><path d="M113.2 347.1 A1.5 1.5 0 1 0 113.2 348.9" stroke="#86bdf0" stroke-width="0.7" fill="none" stroke-linecap="round" stroke-dasharray="2 3"/>
<circle cx="104.2" cy="308.7" r="2" fill="#f7c843" stroke="#c99a25" stroke-width="0.6"/>
<circle cx="103.9" cy="313.5" r="2" fill="#f7c843" stroke="#c99a25" stroke-width="0.6"/>
<circle cx="82.1" cy="353.7" r="2" fill="#f7c843" stroke="#c99a25" stroke-width="0.6"/>
<circle cx="82.1" cy="359.8" r="2" fill="#f7c843" stroke="#c99a25" stroke-width="0.6"/>
<path d="M206.0 314.3C206.6 314.1 208.7 313.4 209.5 313.2C210.3 313.1 210.1 313.3 210.9 313.5C211.7 313.7 213.4 314.2 214.3 314.3C215.3 314.4 216.1 314.3 216.5 314.3" stroke="#aa4848" stroke-width="1.1" fill="none" stroke-linejoin="round" stroke-linecap="round"/>
<path d="M212.5 323.1C212.9 323.0 213.9 322.4 214.7 322.2C215.6 322.0 216.6 322.2 217.5 322.0C218.4 321.9 219.6 321.4 220.3 321.3C221.1 321.3 221.3 321.3 222.1 321.5C222.9 321.7 224.5 322.4 225.3 322.4C226.1 322.3 226.2 321.6 227.0 321.3C227.8 321.0 229.3 320.9 230.1 320.7C230.9 320.5 231.2 320.3 232.0 320.2C232.8 320.2 234.0 320.4 234.8 320.3C235.6 320.3 235.8 320.1 236.6 319.9C237.4 319.7 238.7 319.4 239.5 319.1C240.3 318.8 240.8 318.6 241.4 318.3C242.0 318.0 242.1 317.5 242.9 317.2C243.7 316.9 245.5 317.1 246.2 316.7C246.9 316.3 246.3 315.3 246.9 314.8C247.4 314.2 248.7 314.1 249.4 313.5C250.1 312.9 250.1 311.5 250.9 311.1C251.7 310.7 253.1 311.2 254.2 311.1C255.3 311.0 256.4 310.8 257.2 310.4C257.9 310.1 258.0 309.3 258.6 309.0C259.2 308.7 259.9 308.9 260.7 308.7C261.5 308.5 262.8 308.0 263.6 307.7C264.4 307.5 264.7 307.4 265.5 307.1C266.3 306.8 267.8 306.3 268.7 305.7C269.5 305.2 270.1 304.1 270.6 303.8C271.2 303.5 271.3 304.0 271.9 303.9C272.5 303.8 273.5 303.7 274.3 303.2C275.1 302.6 275.8 301.2 276.5 300.8C277.2 300.4 277.8 300.9 278.3 300.7C278.8 300.5 279.4 300.2 279.7 299.4C279.9 298.6 279.4 296.5 279.9 295.8C280.4 295.1 282.0 295.4 282.6 295.3C283.3 295.2 283.3 295.4 283.9 295.2C284.5 295.0 285.7 294.1 286.4 294.2C287.1 294.3 287.3 295.8 287.8 296.1C288.4 296.4 289.3 295.4 289.6 295.8C289.9 296.2 289.4 297.4 289.6 298.2C289.7 299.1 290.3 300.3 290.4 300.7" stroke="#aa4848" stroke-width="1.1" fill="none" stroke-linejoin="round" stroke-linecap="round"/>
<path d="M236.6 319.9C237.1 320.4 238.8 321.9 239.4 322.7C239.9 323.5 239.9 324.4 239.8 324.8C239.7 325.2 239.0 324.8 238.8 325.4C238.5 325.9 238.0 327.8 238.2 328.0C238.4 328.2 239.6 327.1 239.7 326.3C239.9 325.4 239.3 323.7 239.3 322.9C239.4 322.1 239.7 321.7 239.8 321.5" stroke="#aa4848" stroke-width="1.1" fill="none" stroke-linejoin="round" stroke-linecap="round"/>
<path d="M228.5 336.0C228.5 335.7 227.9 334.8 228.2 334.0C228.5 333.2 229.6 332.1 230.1 331.2C230.6 330.3 230.7 329.4 231.2 328.8C231.8 328.3 233.0 328.1 233.4 328.0" stroke="#aa4848" stroke-width="1.1" fill="none" stroke-linejoin="round" stroke-linecap="round"/>
<path d="M247.8 316.7C248.2 316.8 249.8 317.4 250.4 317.1C251.1 316.9 250.9 315.7 251.5 315.4C252.2 315.0 253.2 314.9 254.2 315.1C255.2 315.3 256.8 316.5 257.6 316.7C258.4 316.8 258.3 316.3 259.0 315.9C259.7 315.5 261.2 314.3 262.0 314.3C262.7 314.3 262.7 316.0 263.3 316.0C263.9 316.0 264.7 314.8 265.5 314.3C266.3 313.8 267.1 313.2 267.9 312.7C268.7 312.1 269.7 311.5 270.3 311.1C270.9 310.7 271.1 310.5 271.6 310.2C272.1 310.0 273.2 309.6 273.5 309.5" stroke="#aa4848" stroke-width="1.1" fill="none" stroke-linejoin="round" stroke-linecap="round"/>
<path d="M279.9 302.3C280.1 302.6 280.9 303.5 281.1 304.3C281.4 305.1 281.0 306.5 281.5 307.1C282.0 307.7 283.2 307.9 284.0 308.2C284.9 308.5 285.9 308.5 286.4 308.7C286.9 308.9 286.6 308.9 287.1 309.4C287.7 310.0 289.3 311.5 289.6 311.9C289.9 312.3 289.6 311.3 289.0 311.6C288.5 311.9 286.8 313.2 286.4 313.5" stroke="#aa4848" stroke-width="1.1" fill="none" stroke-linejoin="round" stroke-linecap="round"/>
<path d="M279.9 316.7C279.8 317.3 279.2 319.5 279.5 320.3C279.8 321.1 281.2 321.2 281.5 321.5C281.8 321.8 281.6 321.6 281.4 322.1C281.1 322.7 280.1 324.4 279.9 324.8" stroke="#aa4848" stroke-width="1.1" fill="none" stroke-linejoin="round" stroke-linecap="round"/>
<path d="M284.7 328.0C285.2 328.0 286.8 327.5 287.6 327.7C288.5 328.0 289.0 329.1 289.6 329.6C290.2 330.1 290.4 330.1 291.2 330.7C292.0 331.2 294.0 332.0 294.4 332.8C294.8 333.6 294.1 334.7 293.8 335.4C293.5 336.1 292.7 336.4 292.5 337.0C292.4 337.6 293.2 338.4 292.8 339.2C292.4 340.0 290.9 341.3 290.4 342.1C289.9 342.9 290.1 343.7 289.6 344.0C289.1 344.3 287.9 343.4 287.3 343.7C286.8 344.0 286.7 344.8 286.4 345.6C286.1 346.4 285.6 347.8 285.3 348.3C285.1 348.8 285.2 348.8 284.7 348.8C284.2 348.8 283.1 348.3 282.3 348.6C281.5 348.9 280.6 350.0 279.9 350.4C279.2 350.8 278.9 350.8 278.0 351.0C277.2 351.2 275.7 351.3 275.0 351.5C274.2 351.7 274.2 351.8 273.5 352.0C272.8 352.2 271.4 352.7 270.8 353.0C270.3 353.2 270.7 353.3 270.1 353.4C269.5 353.6 267.8 353.7 267.1 353.7C266.4 353.7 266.6 353.8 265.7 353.3C264.9 352.8 262.7 351.3 261.9 350.8C261.0 350.3 261.1 350.4 260.7 350.4C260.3 350.4 260.3 351.2 259.7 351.0C259.1 350.7 257.8 349.0 256.9 348.7C256.0 348.3 255.0 349.0 254.2 348.8C253.4 348.6 252.5 348.4 252.1 347.7C251.7 347.1 252.2 345.6 251.7 344.9C251.3 344.3 250.1 344.4 249.4 344.0C248.7 343.6 248.1 342.7 247.8 342.4" stroke="#aa4848" stroke-width="1.1" fill="none" stroke-linejoin="round" stroke-linecap="round"/>
<path d="M254.2 352.0C254.7 352.4 256.2 353.9 257.0 354.5C257.8 355.0 258.4 355.1 259.0 355.3C259.6 355.5 259.9 355.3 260.7 355.8C261.5 356.3 262.8 358.1 263.9 358.5C265.0 358.9 266.6 358.3 267.4 358.0C268.2 357.8 268.0 356.8 268.7 356.9C269.4 357.0 270.5 358.2 271.3 358.6C272.2 358.9 273.3 359.0 273.9 359.0C274.6 359.0 274.6 358.4 275.1 358.5C275.6 358.6 275.9 359.1 276.7 359.7C277.5 360.2 279.1 361.3 279.9 361.7C280.7 362.1 280.9 362.3 281.7 362.0C282.5 361.8 284.0 360.5 284.7 360.1C285.4 359.7 285.3 359.7 286.0 359.4C286.7 359.1 287.9 358.4 288.8 358.2C289.6 358.1 290.8 358.7 291.2 358.5C291.6 358.3 291.0 357.9 291.3 357.1C291.5 356.3 292.9 354.4 292.8 353.7C292.7 353.0 291.5 353.2 290.7 352.6C289.9 352.1 288.4 350.8 288.0 350.4" stroke="#aa4848" stroke-width="1.1" fill="none" stroke-linejoin="round" stroke-linecap="round"/>
<path d="M236.6 364.9C236.7 365.1 236.8 365.8 237.5 366.3C238.2 366.7 239.9 366.9 240.6 367.5C241.2 368.0 240.8 369.3 241.4 369.7C242.0 370.1 243.5 369.4 244.2 369.7C244.8 370.1 244.8 371.7 245.4 371.9C246.0 372.2 247.0 371.6 247.8 371.3C248.6 371.0 249.2 370.2 250.0 370.1C250.7 370.1 251.6 371.0 252.4 371.0C253.1 370.9 253.3 370.2 254.2 369.7C255.1 369.2 256.9 368.1 257.7 367.9C258.5 367.6 258.3 368.2 259.0 368.1C259.7 368.0 260.9 367.3 261.7 367.0C262.5 366.8 263.3 366.6 263.9 366.5C264.5 366.4 264.7 367.0 265.4 366.6C266.1 366.3 267.4 364.6 268.2 364.3C269.0 364.1 269.4 364.7 270.3 364.9C271.2 365.1 272.8 365.6 273.5 365.6C274.2 365.7 273.7 364.9 274.2 365.1C274.8 365.2 275.8 366.1 276.7 366.5C277.6 366.9 279.2 366.9 279.8 367.5C280.4 368.1 279.7 369.5 280.2 370.1C280.8 370.8 282.6 371.1 283.1 371.3" stroke="#aa4848" stroke-width="1.1" fill="none" stroke-linejoin="round" stroke-linecap="round"/>
<path d="M254.2 360.1C254.5 360.5 255.6 361.6 256.1 362.4C256.6 363.2 256.9 364.3 257.4 364.9C257.9 365.5 258.8 365.7 259.4 366.0C259.9 366.2 260.7 367.0 260.7 366.5C260.7 366.0 259.6 364.0 259.3 363.2C259.0 362.4 259.1 361.9 259.0 361.7" stroke="#aa4848" stroke-width="1.1" fill="none" stroke-linejoin="round" stroke-linecap="round"/>
<path d="M293.2 299.8 C285.0 299.8 285.0 304.5 290.0 304.5 S295.0 309.2 286.8 309.2" stroke="#2f6ca8" stroke-width="3.6" fill="none" stroke-linecap="round" stroke-linejoin="round"/><path d="M293.2 299.8 C285.0 299.8 285.0 304.5 290.0 304.5 S295.0 309.2 286.8 309.2" stroke="#4b92d8" stroke-width="2.7" fill="none" stroke-linecap="round" stroke-linejoin="round"/><path d="M293.2 299.8 C285.0 299.8 285.0 304.5 290.0 304.5 S295.0 309.2 286.8 309.2" stroke="#86bdf0" stroke-width="0.7" fill="none" stroke-linecap="round" stroke-dasharray="2 3"/>
<path d="M280.7 311.1 A4.0 4.0 0 1 0 280.7 315.9" stroke="#2f6ca8" stroke-width="3.9" fill="none" stroke-linecap="round" stroke-linejoin="round"/><path d="M280.7 311.1 A4.0 4.0 0 1 0 280.7 315.9" stroke="#4b92d8" stroke-width="3.0" fill="none" stroke-linecap="round" stroke-linejoin="round"/><path d="M280.7 311.1 A4.0 4.0 0 1 0 280.7 315.9" stroke="#86bdf0" stroke-width="0.7" fill="none" stroke-linecap="round" stroke-dasharray="2 3"/>
<path d="M214.2 315.8 C205.0 315.8 205.0 320.0 210.5 320.0 S216.0 324.2 206.8 324.2" stroke="#2f6ca8" stroke-width="3.6" fill="none" stroke-linecap="round" stroke-linejoin="round"/><path d="M214.2 315.8 C205.0 315.8 205.0 320.0 210.5 320.0 S216.0 324.2 206.8 324.2" stroke="#4b92d8" stroke-width="2.7" fill="none" stroke-linecap="round" stroke-linejoin="round"/><path d="M214.2 315.8 C205.0 315.8 205.0 320.0 210.5 320.0 S216.0 324.2 206.8 324.2" stroke="#86bdf0" stroke-width="0.7" fill="none" stroke-linecap="round" stroke-dasharray="2 3"/>
<path d="M236.1 327.3 A2.0 2.0 0 1 0 236.1 329.7" stroke="#2f6ca8" stroke-width="3.9" fill="none" stroke-linecap="round" stroke-linejoin="round"/><path d="M236.1 327.3 A2.0 2.0 0 1 0 236.1 329.7" stroke="#4b92d8" stroke-width="3.0" fill="none" stroke-linecap="round" stroke-linejoin="round"/><path d="M236.1 327.3 A2.0 2.0 0 1 0 236.1 329.7" stroke="#86bdf0" stroke-width="0.7" fill="none" stroke-linecap="round" stroke-dasharray="2 3"/>
<path d="M245.7 358.6 A4.0 4.0 0 1 0 245.7 363.4" stroke="#2f6ca8" stroke-width="3.9" fill="none" stroke-linecap="round" stroke-linejoin="round"/><path d="M245.7 358.6 A4.0 4.0 0 1 0 245.7 363.4" stroke="#4b92d8" stroke-width="3.0" fill="none" stroke-linecap="round" stroke-linejoin="round"/><path d="M245.7 358.6 A4.0 4.0 0 1 0 245.7 363.4" stroke="#86bdf0" stroke-width="0.7" fill="none" stroke-linecap="round" stroke-dasharray="2 3"/>
<path d="M251.2 345.8 C244.0 345.8 244.0 349.0 248.5 349.0 S253.0 352.2 245.8 352.2" stroke="#2f6ca8" stroke-width="3.6" fill="none" stroke-linecap="round" stroke-linejoin="round"/><path d="M251.2 345.8 C244.0 345.8 244.0 349.0 248.5 349.0 S253.0 352.2 245.8 352.2" stroke="#4b92d8" stroke-width="2.7" fill="none" stroke-linecap="round" stroke-linejoin="round"/><path d="M251.2 345.8 C244.0 345.8 244.0 349.0 248.5 349.0 S253.0 352.2 245.8 352.2" stroke="#86bdf0" stroke-width="0.7" fill="none" stroke-linecap="round" stroke-dasharray="2 3"/>
<circle cx="279.1" cy="308.7" r="2" fill="#f7c843" stroke="#c99a25" stroke-width="0.6"/>
<circle cx="279.9" cy="313.5" r="2" fill="#f7c843" stroke="#c99a25" stroke-width="0.6"/>
<circle cx="251.8" cy="353.7" r="2" fill="#f7c843" stroke="#c99a25" stroke-width="0.6"/>
<circle cx="251.8" cy="359.8" r="2" fill="#f7c843" stroke="#c99a25" stroke-width="0.6"/>
<path d="M385.0 326.4C385.4 326.2 386.7 325.7 387.3 325.2C387.8 324.6 387.9 323.6 388.2 323.1C388.5 322.6 388.3 322.2 388.8 321.9C389.4 321.7 390.7 321.4 391.4 321.5C392.1 321.6 392.4 322.1 392.9 322.4C393.5 322.6 393.9 322.9 394.6 323.1C395.3 323.3 396.8 323.3 397.3 323.9C397.9 324.4 397.2 326.2 397.8 326.4C398.4 326.6 399.8 325.5 400.7 325.3C401.5 325.0 402.0 325.3 402.7 324.8C403.4 324.3 404.3 323.0 405.1 322.4C405.9 321.9 406.7 321.9 407.5 321.5C408.3 321.1 409.3 320.7 410.0 320.3C410.7 320.0 411.0 319.4 411.7 319.3C412.3 319.3 413.1 320.2 413.9 319.9C414.7 319.6 416.1 318.3 416.6 317.5C417.2 316.7 416.7 315.7 417.1 315.1C417.5 314.5 418.5 314.4 419.1 314.0C419.8 313.6 420.4 313.5 421.2 312.8C421.9 312.2 422.9 310.7 423.5 310.3C424.1 309.9 424.2 310.6 425.1 310.6C425.9 310.5 427.7 310.3 428.8 310.0C429.9 309.7 430.6 309.0 431.6 308.7C432.6 308.4 434.3 308.8 435.1 308.3C435.9 307.7 436.0 306.3 436.4 305.5C436.8 304.7 436.7 304.4 437.2 303.6C437.8 302.8 439.1 301.6 439.6 300.7C440.1 299.8 439.7 298.8 440.3 298.3C440.8 297.8 442.3 298.0 442.8 297.5C443.3 297.0 442.9 296.0 443.4 295.4C444.0 294.9 445.4 294.3 446.0 294.2C446.6 294.1 446.5 294.7 447.3 294.6C448.0 294.6 449.3 294.5 450.3 294.1C451.4 293.7 452.5 292.5 453.4 292.3C454.3 292.0 455.1 292.3 455.7 292.6C456.3 292.9 456.3 293.2 456.8 293.8C457.3 294.3 458.6 295.5 458.9 295.8" stroke="#aa4848" stroke-width="1.1" fill="none" stroke-linejoin="round" stroke-linecap="round"/>
<path d="M394.6 328.0C395.1 328.1 396.9 328.0 397.8 328.5C398.6 329.1 398.8 330.6 399.5 331.2C400.2 331.8 401.2 332.1 401.7 332.1C402.3 332.1 402.4 331.5 402.7 331.2C403.0 330.9 402.8 331.1 403.3 330.6C403.9 330.0 405.0 328.7 405.9 328.0C406.8 327.3 408.2 326.7 409.0 326.2C409.8 325.6 410.1 325.2 410.7 324.8C411.3 324.4 411.9 324.4 412.5 324.1C413.2 323.7 414.0 323.2 414.7 322.8C415.5 322.3 416.3 322.1 417.1 321.5C417.9 320.9 418.7 319.6 419.5 319.4C420.3 319.1 421.3 320.0 421.9 319.9C422.6 319.7 422.7 318.6 423.5 318.3C424.3 318.0 425.9 318.4 426.7 318.3C427.5 318.2 427.7 318.1 428.2 317.8C428.8 317.5 429.5 317.0 430.0 316.7C430.5 316.4 430.5 316.2 431.4 316.2C432.3 316.2 434.4 316.8 435.2 316.7C436.1 316.5 436.1 315.5 436.4 315.1C436.7 314.7 436.3 314.9 436.8 314.4C437.4 313.9 439.2 312.7 439.6 311.9C440.0 311.1 439.7 310.1 439.4 309.5C439.1 309.0 437.9 309.2 437.6 308.5C437.4 307.8 438.0 306.3 438.0 305.5C438.0 304.7 437.9 304.3 437.9 303.6C438.0 302.9 437.8 302.1 438.0 301.4C438.3 300.6 439.1 299.7 439.6 299.1C440.1 298.5 440.4 298.1 440.9 297.8C441.5 297.6 442.5 297.6 442.8 297.5" stroke="#aa4848" stroke-width="1.1" fill="none" stroke-linejoin="round" stroke-linecap="round"/>
<path d="M447.6 316.7C447.5 317.1 447.1 318.1 446.9 318.9C446.6 319.7 446.0 321.1 446.0 321.5C446.0 321.9 446.4 321.1 446.9 321.4C447.5 321.7 448.6 323.0 449.2 323.1C449.8 323.2 450.2 322.3 450.8 321.8C451.3 321.3 451.9 320.4 452.4 319.9C452.9 319.4 453.2 319.3 453.5 318.8C453.8 318.3 453.9 317.0 454.0 316.7" stroke="#aa4848" stroke-width="1.1" fill="none" stroke-linejoin="round" stroke-linecap="round"/>
<path d="M389.8 328.0C389.7 327.6 389.3 326.2 389.3 325.5C389.2 324.8 389.4 324.2 389.3 323.5C389.1 322.9 388.1 322.3 388.2 321.5C388.3 320.7 389.2 319.3 389.7 318.8C390.2 318.2 391.6 318.4 391.4 318.3C391.2 318.2 389.4 318.2 388.6 318.2C387.8 318.2 386.9 318.3 386.6 318.3" stroke="#aa4848" stroke-width="1.1" fill="none" stroke-linejoin="round" stroke-linecap="round"/>
<path d="M422.0 339.2C422.1 339.8 422.3 341.9 422.6 342.7C422.8 343.5 423.4 343.3 423.5 344.0C423.6 344.7 423.3 346.1 423.0 346.9C422.8 347.7 422.2 348.5 422.0 348.8" stroke="#aa4848" stroke-width="1.1" fill="none" stroke-linejoin="round" stroke-linecap="round"/>
<path d="M428.4 350.4C428.8 350.6 430.0 351.4 430.8 351.4C431.6 351.4 432.3 350.5 433.2 350.4C434.1 350.3 435.0 350.7 436.0 350.8C436.9 350.8 437.8 350.8 438.7 350.5C439.6 350.2 440.4 348.9 441.2 348.8C442.0 348.7 442.6 349.5 443.5 349.7C444.4 349.9 445.6 349.9 446.5 350.0C447.5 350.2 448.4 350.1 449.2 350.4C450.0 350.7 450.5 351.4 451.5 351.7C452.5 351.9 454.4 351.8 455.3 351.9C456.3 351.9 456.5 352.3 457.3 352.0C458.1 351.7 459.1 350.4 459.9 350.1C460.7 349.8 461.4 350.7 462.1 350.4C462.8 350.1 463.8 348.9 464.4 348.4C464.9 347.9 465.2 347.2 465.3 347.2C465.4 347.2 464.9 347.6 465.1 348.2C465.4 348.7 466.4 349.9 466.9 350.4C467.4 350.9 467.5 350.6 468.0 351.1C468.5 351.7 469.5 353.4 470.1 353.7C470.7 354.0 471.1 353.5 471.6 352.9C472.2 352.4 472.9 351.1 473.3 350.4C473.7 349.7 474.1 349.1 474.3 348.5C474.6 348.0 474.7 346.9 474.9 347.2C475.1 347.5 475.2 349.5 475.6 350.2C476.1 350.9 477.1 351.0 477.5 351.6C478.0 352.2 477.8 352.9 478.1 353.7C478.4 354.5 478.6 355.8 479.2 356.3C479.7 356.9 480.6 356.8 481.4 356.9C482.2 357.0 483.4 357.2 484.2 356.9C485.0 356.7 485.9 355.9 486.2 355.3C486.5 354.7 485.9 353.9 486.1 353.1C486.2 352.3 486.8 350.8 487.0 350.4" stroke="#aa4848" stroke-width="1.1" fill="none" stroke-linejoin="round" stroke-linecap="round"/>
<path d="M412.3 363.3C412.5 363.5 413.0 363.7 413.5 364.2C414.1 364.8 414.9 366.0 415.5 366.5C416.1 367.0 416.2 367.4 417.0 367.0C417.8 366.6 419.3 364.6 420.4 364.2C421.5 363.9 422.8 365.0 423.5 364.9C424.2 364.8 423.8 364.0 424.4 363.3C425.1 362.7 426.7 361.8 427.4 361.2C428.1 360.7 428.1 360.3 428.4 360.1C428.7 359.9 428.6 359.6 429.2 359.9C429.7 360.1 430.6 361.7 431.6 361.7C432.6 361.7 434.1 360.2 434.9 359.6C435.7 359.1 435.8 358.6 436.4 358.5C437.0 358.4 437.5 359.2 438.5 359.1C439.5 359.1 441.3 358.5 442.3 358.1C443.3 357.7 443.8 356.9 444.4 356.9C445.0 356.9 445.5 357.4 445.8 358.2C446.0 359.0 446.0 360.5 446.0 361.7C446.0 362.9 446.1 364.5 445.9 365.3C445.6 366.1 444.1 366.3 444.4 366.5C444.7 366.7 446.9 366.1 447.7 366.6C448.5 367.1 448.4 369.1 448.9 369.6C449.5 370.1 450.0 369.9 450.8 369.7C451.6 369.5 453.1 368.9 454.0 368.6C454.8 368.3 455.6 368.6 455.7 368.1C455.8 367.6 454.8 366.3 454.5 365.5C454.2 364.7 453.7 363.7 454.0 363.3C454.3 362.9 455.4 363.0 456.2 363.1C457.0 363.1 458.0 363.6 458.7 363.6C459.4 363.7 459.8 363.5 460.5 363.3C461.2 363.1 462.3 362.8 463.2 362.7C464.0 362.5 465.2 362.5 465.8 362.3C466.5 362.2 466.4 361.9 466.9 361.7C467.4 361.5 467.9 361.8 468.6 361.3C469.2 360.8 470.4 359.5 470.9 358.7C471.4 358.0 471.6 357.3 471.7 356.9C471.8 356.5 471.8 357.0 471.8 356.5C471.8 356.0 471.7 354.2 471.7 353.7" stroke="#aa4848" stroke-width="1.1" fill="none" stroke-linejoin="round" stroke-linecap="round"/>
<path d="M430.0 352.0C430.4 352.5 431.9 354.4 432.5 355.2C433.0 356.0 433.2 356.1 433.2 356.9C433.2 357.7 432.9 359.4 432.6 360.2C432.4 361.0 431.8 361.5 431.6 361.7" stroke="#aa4848" stroke-width="1.1" fill="none" stroke-linejoin="round" stroke-linecap="round"/>
<path d="M460.2 297.8 C451.0 297.8 451.0 302.5 456.5 302.5 S462.0 307.2 452.8 307.2" stroke="#2f6ca8" stroke-width="3.6" fill="none" stroke-linecap="round" stroke-linejoin="round"/><path d="M460.2 297.8 C451.0 297.8 451.0 302.5 456.5 302.5 S462.0 307.2 452.8 307.2" stroke="#4b92d8" stroke-width="2.7" fill="none" stroke-linecap="round" stroke-linejoin="round"/><path d="M460.2 297.8 C451.0 297.8 451.0 302.5 456.5 302.5 S462.0 307.2 452.8 307.2" stroke="#86bdf0" stroke-width="0.7" fill="none" stroke-linecap="round" stroke-dasharray="2 3"/>
<path d="M452.0 311.0 A2.5 2.5 0 1 0 452.0 314.0" stroke="#2f6ca8" stroke-width="3.9" fill="none" stroke-linecap="round" stroke-linejoin="round"/><path d="M452.0 311.0 A2.5 2.5 0 1 0 452.0 314.0" stroke="#4b92d8" stroke-width="3.0" fill="none" stroke-linecap="round" stroke-linejoin="round"/><path d="M452.0 311.0 A2.5 2.5 0 1 0 452.0 314.0" stroke="#86bdf0" stroke-width="0.7" fill="none" stroke-linecap="round" stroke-dasharray="2 3"/>
<path d="M410.8 361.2 C410.8 354.0 414.5 354.0 414.5 358.5 S418.2 363.0 418.2 355.8" stroke="#2f6ca8" stroke-width="3.6" fill="none" stroke-linecap="round" stroke-linejoin="round"/><path d="M410.8 361.2 C410.8 354.0 414.5 354.0 414.5 358.5 S418.2 363.0 418.2 355.8" stroke="#4b92d8" stroke-width="2.7" fill="none" stroke-linecap="round" stroke-linejoin="round"/><path d="M410.8 361.2 C410.8 354.0 414.5 354.0 414.5 358.5 S418.2 363.0 418.2 355.8" stroke="#86bdf0" stroke-width="0.7" fill="none" stroke-linecap="round" stroke-dasharray="2 3"/>
<path d="M425.9 349.7 A3.0 3.0 0 1 0 425.9 353.3" stroke="#2f6ca8" stroke-width="3.9" fill="none" stroke-linecap="round" stroke-linejoin="round"/><path d="M425.9 349.7 A3.0 3.0 0 1 0 425.9 353.3" stroke="#4b92d8" stroke-width="3.0" fill="none" stroke-linecap="round" stroke-linejoin="round"/><path d="M425.9 349.7 A3.0 3.0 0 1 0 425.9 353.3" stroke="#86bdf0" stroke-width="0.7" fill="none" stroke-linecap="round" stroke-dasharray="2 3"/>
<circle cx="445.7" cy="304.7" r="2" fill="#f7c843" stroke="#c99a25" stroke-width="0.6"/>
<circle cx="445.7" cy="310.3" r="2" fill="#f7c843" stroke="#c99a25" stroke-width="0.6"/>
<circle cx="424.3" cy="349.6" r="2" fill="#f7c843" stroke="#c99a25" stroke-width="0.6"/>
<circle cx="425.1" cy="354.5" r="2" fill="#f7c843" stroke="#c99a25" stroke-width="0.6"/>
<path d="M549.8 312.1C550.3 311.8 552.0 311.0 552.5 310.2C553.1 309.4 552.6 307.9 553.0 307.3C553.4 306.7 553.9 306.8 554.7 306.5C555.5 306.3 556.8 306.1 557.8 305.7C558.8 305.3 560.1 304.3 560.9 304.0C561.8 303.8 561.8 304.4 562.7 304.1C563.6 303.8 565.3 302.7 566.1 302.4C566.9 302.1 567.0 302.7 567.5 302.5C568.0 302.3 568.4 301.7 569.2 301.2C570.0 300.6 571.4 299.4 572.3 299.3C573.2 299.2 574.0 300.5 574.8 300.8C575.6 301.1 576.2 301.2 577.1 300.9C578.0 300.6 579.2 299.6 580.0 299.1C580.8 298.5 581.3 298.3 581.9 297.7C582.5 297.1 582.8 295.9 583.5 295.3C584.2 294.7 585.1 294.4 585.9 294.3C586.7 294.1 588.0 294.5 588.4 294.5" stroke="#aa4848" stroke-width="1.1" fill="none" stroke-linejoin="round" stroke-linecap="round"/>
<path d="M569.1 302.5C569.2 303.1 569.3 305.3 569.6 306.1C569.8 306.9 570.2 307.1 570.7 307.3C571.2 307.5 571.6 306.8 572.5 307.1C573.4 307.3 575.3 308.4 576.1 308.7C576.8 309.0 576.6 308.8 577.1 308.9C577.6 309.0 577.9 309.5 578.9 309.4C579.9 309.4 581.9 309.0 583.0 308.7C584.0 308.3 584.5 307.8 585.1 307.3C585.7 306.8 585.7 306.1 586.6 305.8C587.5 305.6 589.4 305.7 590.3 305.7C591.1 305.6 591.0 305.8 591.6 305.7C592.2 305.6 593.2 305.5 594.0 305.2C594.9 304.9 595.9 304.1 596.6 303.9C597.3 303.7 597.6 304.5 598.0 304.1C598.4 303.7 598.4 302.2 599.1 301.5C599.9 300.9 601.8 300.7 602.4 300.1C603.0 299.5 602.5 298.7 602.8 297.7C603.1 296.7 603.6 294.9 604.1 294.1C604.6 293.3 605.2 293.3 606.0 292.8C606.8 292.3 608.1 291.9 608.7 291.1C609.2 290.3 608.9 288.8 609.2 288.0C609.5 287.2 610.1 286.4 610.7 286.2C611.2 286.1 611.6 287.3 612.4 287.0C613.2 286.8 614.6 285.2 615.7 284.8C616.8 284.4 617.7 284.8 618.8 284.8C619.8 284.9 621.1 284.8 621.9 285.0C622.7 285.3 623.2 285.9 623.7 286.4C624.2 286.9 624.4 287.6 624.6 288.2C624.9 288.7 625.2 289.4 625.3 289.6" stroke="#aa4848" stroke-width="1.1" fill="none" stroke-linejoin="round" stroke-linecap="round"/>
<path d="M570.7 307.3C571.1 307.2 572.6 306.6 573.4 306.9C574.2 307.3 574.8 309.0 575.4 309.3C576.0 309.6 576.3 308.9 577.1 308.9C577.9 308.9 579.7 308.9 580.4 309.2C581.2 309.5 580.8 310.4 581.6 310.7C582.4 310.9 584.2 310.6 585.1 310.5C586.0 310.4 586.5 310.3 587.3 310.1C588.1 309.9 588.9 309.5 589.9 309.2C590.9 308.9 592.2 308.4 593.2 308.1C594.2 307.8 594.9 307.3 595.8 307.4C596.7 307.4 597.6 308.5 598.5 308.5C599.4 308.5 600.2 307.3 601.2 307.3C602.2 307.3 603.8 308.4 604.6 308.4C605.4 308.3 605.2 307.0 606.0 306.9C606.7 306.9 608.2 307.6 609.2 308.1C610.2 308.6 611.5 309.8 611.9 310.1C612.3 310.4 611.4 309.5 611.7 309.9C612.1 310.2 613.8 311.4 614.1 312.1C614.4 312.8 613.5 313.4 613.8 314.0C614.1 314.5 615.2 315.2 615.7 315.3C616.2 315.4 616.3 315.1 616.8 314.8C617.3 314.6 618.6 313.9 618.9 313.7" stroke="#aa4848" stroke-width="1.1" fill="none" stroke-linejoin="round" stroke-linecap="round"/>
<path d="M606.0 292.8C605.9 293.2 605.4 294.0 605.2 294.9C605.0 295.8 605.0 297.5 604.9 298.2C604.7 299.0 604.2 299.0 604.4 299.3C604.6 299.6 605.7 299.8 606.3 300.2C607.0 300.6 607.8 301.0 608.3 301.6C608.8 302.3 608.8 303.3 609.2 304.1C609.6 304.9 610.0 305.9 610.5 306.4C611.1 307.0 612.1 307.2 612.4 307.3" stroke="#aa4848" stroke-width="1.1" fill="none" stroke-linejoin="round" stroke-linecap="round"/>
<path d="M591.6 331.4C591.6 332.0 591.5 334.1 591.8 334.9C592.1 335.7 592.7 335.7 593.2 336.2C593.7 336.7 593.9 337.5 594.7 337.8C595.5 338.0 597.4 337.8 598.0 337.8" stroke="#aa4848" stroke-width="1.1" fill="none" stroke-linejoin="round" stroke-linecap="round"/>
<path d="M588.4 345.8C588.4 346.0 588.5 346.4 588.2 347.3C588.0 348.1 586.9 349.9 586.8 350.7C586.7 351.5 587.4 351.4 587.7 352.2C587.9 353.0 588.6 354.8 588.4 355.5C588.2 356.2 587.0 355.9 586.8 356.4C586.5 357.0 586.5 358.1 586.8 358.7C587.1 359.3 588.3 359.5 588.8 360.0C589.4 360.6 589.3 361.6 590.0 361.9C590.7 362.2 592.0 362.0 592.8 361.7C593.6 361.4 594.1 360.7 594.8 360.3C595.5 359.9 596.2 360.0 597.0 359.5C597.8 359.0 599.0 357.8 599.6 357.1C600.2 356.4 599.8 355.6 600.4 355.0C600.9 354.5 602.2 354.3 602.8 353.9C603.4 353.5 603.2 353.2 603.7 352.6C604.3 352.1 605.3 351.2 606.0 350.7C606.7 350.2 606.8 350.2 607.6 349.7C608.4 349.1 610.3 347.8 610.8 347.4" stroke="#aa4848" stroke-width="1.1" fill="none" stroke-linejoin="round" stroke-linecap="round"/>
<path d="M599.6 344.2C599.9 344.1 600.7 343.6 601.6 343.8C602.5 344.0 604.3 345.2 605.1 345.3C605.8 345.4 605.6 344.1 606.0 344.2C606.4 344.3 606.9 345.4 607.5 345.7C608.0 346.0 608.8 346.1 609.6 346.1C610.4 346.1 611.4 345.8 612.4 345.8C613.4 345.8 615.0 345.6 615.5 345.8C616.1 346.0 615.2 346.7 615.8 347.0C616.4 347.2 618.0 347.0 618.9 347.4C619.8 347.8 620.5 348.9 621.0 349.5C621.5 350.0 621.3 350.2 622.0 350.4C622.7 350.7 624.6 351.1 625.3 350.7C626.0 350.3 625.5 348.5 626.0 348.0C626.5 347.4 628.1 347.9 628.5 347.4C628.9 346.9 628.8 345.5 628.5 344.7C628.2 343.9 627.0 343.4 626.9 342.6C626.8 341.8 627.5 340.4 627.8 339.9C628.1 339.3 628.2 339.4 628.5 339.4C628.8 339.4 629.0 339.9 629.6 339.6C630.2 339.3 631.1 338.0 632.0 337.7C632.9 337.4 634.1 338.3 634.9 337.8C635.7 337.3 636.3 335.5 636.8 334.7C637.4 333.9 637.5 333.0 638.1 333.0C638.7 333.0 640.1 334.6 640.7 334.6C641.2 334.7 640.9 333.1 641.5 333.1C642.2 333.1 643.6 334.3 644.6 334.6C645.6 334.9 646.8 334.8 647.7 334.8C648.5 334.8 649.2 334.8 649.8 334.4C650.3 334.0 650.2 332.7 651.0 332.3C651.7 331.9 653.7 332.2 654.2 332.2" stroke="#aa4848" stroke-width="1.1" fill="none" stroke-linejoin="round" stroke-linecap="round"/>
<path d="M625.3 350.7C625.8 351.1 627.3 352.4 628.1 353.0C628.9 353.5 629.4 353.8 630.1 353.9C630.8 354.0 631.5 353.8 632.3 353.6C633.1 353.3 634.0 352.6 634.9 352.3C635.8 352.0 636.9 352.2 637.7 351.6C638.5 351.1 639.3 349.7 639.7 349.0C640.1 348.3 639.8 348.3 640.3 347.5C640.9 346.7 642.3 345.2 643.0 344.2C643.7 343.2 644.4 342.4 644.6 341.7C644.8 340.9 644.2 340.4 644.2 339.7C644.2 339.1 645.0 338.3 644.6 337.8C644.2 337.3 642.7 336.8 642.1 336.5C641.6 336.2 641.6 335.9 641.4 336.2C641.2 336.5 641.3 337.7 640.7 338.2C640.2 338.8 638.4 338.9 638.1 339.4C637.8 339.9 638.6 340.6 639.2 341.3C639.7 341.9 640.8 342.5 641.2 343.3C641.6 344.0 641.3 345.4 641.4 345.8C641.5 346.2 641.5 345.3 642.0 345.5C642.6 345.8 644.2 347.1 644.6 347.4" stroke="#aa4848" stroke-width="1.1" fill="none" stroke-linejoin="round" stroke-linecap="round"/>
<path d="M626.2 290.8 C617.0 290.8 617.0 296.5 622.5 296.5 S628.0 302.2 618.8 302.2" stroke="#2f6ca8" stroke-width="3.6" fill="none" stroke-linecap="round" stroke-linejoin="round"/><path d="M626.2 290.8 C617.0 290.8 617.0 296.5 622.5 296.5 S628.0 302.2 618.8 302.2" stroke="#4b92d8" stroke-width="2.7" fill="none" stroke-linecap="round" stroke-linejoin="round"/><path d="M626.2 290.8 C617.0 290.8 617.0 296.5 622.5 296.5 S628.0 302.2 618.8 302.2" stroke="#86bdf0" stroke-width="0.7" fill="none" stroke-linecap="round" stroke-dasharray="2 3"/>
<path d="M617.8 300.9 A3.5 3.5 0 1 0 617.8 305.1" stroke="#2f6ca8" stroke-width="3.9" fill="none" stroke-linecap="round" stroke-linejoin="round"/><path d="M617.8 300.9 A3.5 3.5 0 1 0 617.8 305.1" stroke="#4b92d8" stroke-width="3.0" fill="none" stroke-linecap="round" stroke-linejoin="round"/><path d="M617.8 300.9 A3.5 3.5 0 1 0 617.8 305.1" stroke="#86bdf0" stroke-width="0.7" fill="none" stroke-linecap="round" stroke-dasharray="2 3"/>
<path d="M583.8 355.2 C583.8 346.0 587.5 346.0 587.5 351.5 S591.2 357.0 591.2 347.8" stroke="#2f6ca8" stroke-width="3.6" fill="none" stroke-linecap="round" stroke-linejoin="round"/><path d="M583.8 355.2 C583.8 346.0 587.5 346.0 587.5 351.5 S591.2 357.0 591.2 347.8" stroke="#4b92d8" stroke-width="2.7" fill="none" stroke-linecap="round" stroke-linejoin="round"/><path d="M583.8 355.2 C583.8 346.0 587.5 346.0 587.5 351.5 S591.2 357.0 591.2 347.8" stroke="#86bdf0" stroke-width="0.7" fill="none" stroke-linecap="round" stroke-dasharray="2 3"/>
<path d="M597.4 340.7 A3.0 3.0 0 1 0 597.4 344.3" stroke="#2f6ca8" stroke-width="3.9" fill="none" stroke-linecap="round" stroke-linejoin="round"/><path d="M597.4 340.7 A3.0 3.0 0 1 0 597.4 344.3" stroke="#4b92d8" stroke-width="3.0" fill="none" stroke-linecap="round" stroke-linejoin="round"/><path d="M597.4 340.7 A3.0 3.0 0 1 0 597.4 344.3" stroke="#86bdf0" stroke-width="0.7" fill="none" stroke-linecap="round" stroke-dasharray="2 3"/>
<circle cx="612.4" cy="298.5" r="2" fill="#f7c843" stroke="#c99a25" stroke-width="0.6"/>
<circle cx="614" cy="303.8" r="2" fill="#f7c843" stroke="#c99a25" stroke-width="0.6"/>
<circle cx="596.7" cy="343" r="2" fill="#f7c843" stroke="#c99a25" stroke-width="0.6"/>
<circle cx="598" cy="348.3" r="2" fill="#f7c843" stroke="#c99a25" stroke-width="0.6"/>
<path d="M605 345.2 L617 347.6 L616.6 345.6 L623.5 350 L615.6 352 L616 350 L604.6 347.6Z" fill="#66c152" stroke="#47a03c" stroke-width="0.5"/>
<path d="M606 351 L618 352.2 L617.8 350.4 L625.5 353.6 L617.6 356.2 L617.8 354.4 L606.2 353.6Z" fill="#66c152" stroke="#47a03c" stroke-width="0.5"/>
<text x="107.7" y="17.9" font-size="12.6" font-weight="bold" fill="#3f88cc">B</text>
<text x="48.6" y="105.1" font-size="12.6" font-weight="bold" fill="#3f88cc">A</text>
<text x="89.3" y="167" font-size="12.6" font-weight="bold" fill="#3f88cc">B</text>
<text x="43.4" y="243.3" font-size="12.6" font-weight="bold" fill="#3f88cc">A</text>
<text x="92.7" y="295" font-size="12.6" font-weight="bold" fill="#3f88cc">B</text>
<text x="54" y="369" font-size="12.6" font-weight="bold" fill="#3f88cc">A</text>
<path d="M154.4 27.2L147.1 33.2" stroke="#3aa38b" stroke-width="1.4"/><path d="M143.6 36.1L146.9 28.2L147.8 32.7L152.0 34.4Z" fill="#3aa38b"/>
<path d="M324.6 28L317.1 33.3" stroke="#3aa38b" stroke-width="1.4"/><path d="M313.3 36L317.2 28.3L317.7 32.9L321.8 34.9Z" fill="#3aa38b"/>
<path d="M424.2 23.8L417.6 29.0" stroke="#3aa38b" stroke-width="1.4"/><path d="M414 31.9L417.5 24.0L418.2 28.5L422.4 30.3Z" fill="#3aa38b"/>
<path d="M144.4 170.9L137.5 176.7" stroke="#3aa38b" stroke-width="1.4"/><path d="M134 179.7L137.2 171.7L138.1 176.2L142.4 177.8Z" fill="#3aa38b"/>
<path d="M261 160.9L254.5 166.3" stroke="#3aa38b" stroke-width="1.4"/><path d="M251 169.3L254.2 161.3L255.1 165.8L259.4 167.5Z" fill="#3aa38b"/>
<text x="0.3" y="11.6" font-size="20.5" text-anchor="start" fill="#000" font-weight="bold" >a</text>
<text x="0.6" y="152.6" font-size="20.5" text-anchor="start" fill="#000" font-weight="bold" >b</text>
<text x="0.3" y="282.6" font-size="20.5" text-anchor="start" fill="#000" font-weight="bold" >c</text>
<text x="-0.6" y="412.6" font-size="20.5" text-anchor="start" fill="#000" font-weight="bold" >d</text>
<text x="0.3" y="575.6" font-size="20.5" text-anchor="start" fill="#000" font-weight="bold" >e</text>
<text x="1.5" y="741.6" font-size="20.5" text-anchor="start" fill="#000" font-weight="bold" >f</text>
<text x="347" y="20.1" font-size="15" text-anchor="middle" fill="#111" font-weight="normal" >ver1</text>
<text x="347.7" y="161.8" font-size="15.5" text-anchor="middle" fill="#111" font-weight="normal" >vbs</text>
<text x="348.1" y="303.1" font-size="16.2" text-anchor="middle" fill="#111" font-weight="normal" >norA</text>
<text x="103" y="129.3" font-size="14.0" text-anchor="middle" fill="#3a3a3a" font-weight="normal" >C1 (33.0%)</text>
<text x="269" y="129.3" font-size="14.0" text-anchor="middle" fill="#3a3a3a" font-weight="normal" >C2 (31.5%)</text>
<text x="436" y="129.3" font-size="14.0" text-anchor="middle" fill="#3a3a3a" font-weight="normal" >C3 (28.0%)</text>
<text x="598" y="129.3" font-size="14.0" text-anchor="middle" fill="#3a3a3a" font-weight="normal" >C4 (4.9%)</text>
<text x="103" y="262.2" font-size="14.0" text-anchor="middle" fill="#3a3a3a" font-weight="normal" >C1 (32.3%)</text>
<text x="269.4" y="262.2" font-size="14.0" text-anchor="middle" fill="#3a3a3a" font-weight="normal" >C2 (32.0%)</text>
<text x="435.5" y="262.2" font-size="14.0" text-anchor="middle" fill="#3a3a3a" font-weight="normal" >C3 (25.9%)</text>
<text x="598" y="262.2" font-size="14.0" text-anchor="middle" fill="#3a3a3a" font-weight="normal" >C4 (6.8%)</text>
<text x="103" y="388.9" font-size="14.0" text-anchor="middle" fill="#3a3a3a" font-weight="normal" >C1 (31.5%)</text>
<text x="268" y="388.9" font-size="14.0" text-anchor="middle" fill="#3a3a3a" font-weight="normal" >C2 (20.9%)</text>
<text x="433" y="388.9" font-size="14.0" text-anchor="middle" fill="#3a3a3a" font-weight="normal" >C3 (17.4%)</text>
<text x="598.3" y="388.9" font-size="14.0" text-anchor="middle" fill="#3a3a3a" font-weight="normal" >C4 (13.7%)</text>
<path d="M52.5 435.2H334.8V523.4" fill="none" stroke="#555" stroke-width="1"/>
<path d="M52.5 435.2V523.4H334.8" fill="none" stroke="#111" stroke-width="1"/>
<path d="M52.50 523.4v6.3" stroke="#111" stroke-width="1"/>
<text x="52.50" y="542.6" font-size="10.5" text-anchor="middle" fill="#222" font-weight="normal" >15</text>
<path d="M74.55 523.4v6.3" stroke="#111" stroke-width="1"/>
<text x="74.55" y="542.6" font-size="10.5" text-anchor="middle" fill="#222" font-weight="normal" >20</text>
<path d="M96.60 523.4v6.3" stroke="#111" stroke-width="1"/>
<text x="96.60" y="542.6" font-size="10.5" text-anchor="middle" fill="#222" font-weight="normal" >25</text>
<path d="M118.65 523.4v6.3" stroke="#111" stroke-width="1"/>
<text x="118.65" y="542.6" font-size="10.5" text-anchor="middle" fill="#222" font-weight="normal" >30</text>
<path d="M140.70 523.4v6.3" stroke="#111" stroke-width="1"/>
<text x="140.70" y="542.6" font-size="10.5" text-anchor="middle" fill="#222" font-weight="normal" >35</text>
<path d="M162.75 523.4v6.3" stroke="#111" stroke-width="1"/>
<text x="162.75" y="542.6" font-size="10.5" text-anchor="middle" fill="#222" font-weight="normal" >40</text>
<path d="M184.80 523.4v6.3" stroke="#111" stroke-width="1"/>
<text x="184.80" y="542.6" font-size="10.5" text-anchor="middle" fill="#222" font-weight="normal" >45</text>
<path d="M206.85 523.4v6.3" stroke="#111" stroke-width="1"/>
<text x="206.85" y="542.6" font-size="10.5" text-anchor="middle" fill="#222" font-weight="normal" >50</text>
<path d="M228.90 523.4v6.3" stroke="#111" stroke-width="1"/>
<text x="228.90" y="542.6" font-size="10.5" text-anchor="middle" fill="#222" font-weight="normal" >55</text>
<path d="M250.95 523.4v6.3" stroke="#111" stroke-width="1"/>
<text x="250.95" y="542.6" font-size="10.5" text-anchor="middle" fill="#222" font-weight="normal" >60</text>
<path d="M273.00 523.4v6.3" stroke="#111" stroke-width="1"/>
<text x="273.00" y="542.6" font-size="10.5" text-anchor="middle" fill="#222" font-weight="normal" >65</text>
<path d="M295.05 523.4v6.3" stroke="#111" stroke-width="1"/>
<text x="295.05" y="542.6" font-size="10.5" text-anchor="middle" fill="#222" font-weight="normal" >70</text>
<path d="M317.10 523.4v6.3" stroke="#111" stroke-width="1"/>
<text x="317.10" y="542.6" font-size="10.5" text-anchor="middle" fill="#222" font-weight="normal" >75</text>
<text x="193.65" y="558.6999999999999" font-size="12.2" text-anchor="middle" fill="#222" font-weight="normal" >residue number</text>
<path d="M400.4 435.2H682.7V523.4" fill="none" stroke="#555" stroke-width="1"/>
<path d="M400.4 435.2V523.4H682.7" fill="none" stroke="#111" stroke-width="1"/>
<path d="M400.40 523.4v6.3" stroke="#111" stroke-width="1"/>
<text x="400.40" y="542.6" font-size="10.5" text-anchor="middle" fill="#222" font-weight="normal" >15</text>
<path d="M422.45 523.4v6.3" stroke="#111" stroke-width="1"/>
<text x="422.45" y="542.6" font-size="10.5" text-anchor="middle" fill="#222" font-weight="normal" >20</text>
<path d="M444.50 523.4v6.3" stroke="#111" stroke-width="1"/>
<text x="444.50" y="542.6" font-size="10.5" text-anchor="middle" fill="#222" font-weight="normal" >25</text>
<path d="M466.55 523.4v6.3" stroke="#111" stroke-width="1"/>
<text x="466.55" y="542.6" font-size="10.5" text-anchor="middle" fill="#222" font-weight="normal" >30</text>
<path d="M488.60 523.4v6.3" stroke="#111" stroke-width="1"/>
<text x="488.60" y="542.6" font-size="10.5" text-anchor="middle" fill="#222" font-weight="normal" >35</text>
<path d="M510.65 523.4v6.3" stroke="#111" stroke-width="1"/>
<text x="510.65" y="542.6" font-size="10.5" text-anchor="middle" fill="#222" font-weight="normal" >40</text>
<path d="M532.70 523.4v6.3" stroke="#111" stroke-width="1"/>
<text x="532.70" y="542.6" font-size="10.5" text-anchor="middle" fill="#222" font-weight="normal" >45</text>
<path d="M554.75 523.4v6.3" stroke="#111" stroke-width="1"/>
<text x="554.75" y="542.6" font-size="10.5" text-anchor="middle" fill="#222" font-weight="normal" >50</text>
<path d="M576.80 523.4v6.3" stroke="#111" stroke-width="1"/>
<text x="576.80" y="542.6" font-size="10.5" text-anchor="middle" fill="#222" font-weight="normal" >55</text>
<path d="M598.85 523.4v6.3" stroke="#111" stroke-width="1"/>
<text x="598.85" y="542.6" font-size="10.5" text-anchor="middle" fill="#222" font-weight="normal" >60</text>
<path d="M620.90 523.4v6.3" stroke="#111" stroke-width="1"/>
<text x="620.90" y="542.6" font-size="10.5" text-anchor="middle" fill="#222" font-weight="normal" >65</text>
<path d="M642.95 523.4v6.3" stroke="#111" stroke-width="1"/>
<text x="642.95" y="542.6" font-size="10.5" text-anchor="middle" fill="#222" font-weight="normal" >70</text>
<path d="M665.00 523.4v6.3" stroke="#111" stroke-width="1"/>
<text x="665.00" y="542.6" font-size="10.5" text-anchor="middle" fill="#222" font-weight="normal" >75</text>
<text x="541.55" y="558.6999999999999" font-size="12.2" text-anchor="middle" fill="#222" font-weight="normal" >residue number</text>
<path d="M46.0 523.40H52.5" stroke="#111" stroke-width="1"/>
<text x="44.0" y="527.1999999999999" font-size="10.5" text-anchor="end" fill="#222" font-weight="normal" >0</text>
<path d="M46.0 494.00H52.5" stroke="#111" stroke-width="1"/>
<text x="44.0" y="497.8" font-size="10.5" text-anchor="end" fill="#222" font-weight="normal" >5</text>
<path d="M46.0 464.60H52.5" stroke="#111" stroke-width="1"/>
<text x="44.0" y="468.4" font-size="10.5" text-anchor="end" fill="#222" font-weight="normal" >10</text>
<path d="M46.0 435.20H52.5" stroke="#111" stroke-width="1"/>
<text x="44.0" y="439.0" font-size="10.5" text-anchor="end" fill="#222" font-weight="normal" >15</text>
<path d="M393.9 444.02H400.4" stroke="#111" stroke-width="1"/>
<text x="391.9" y="447.82" font-size="10.5" text-anchor="end" fill="#222" font-weight="normal" >1.0</text>
<path d="M393.9 466.07H400.4" stroke="#111" stroke-width="1"/>
<text x="391.9" y="469.87" font-size="10.5" text-anchor="end" fill="#222" font-weight="normal" >0.5</text>
<path d="M393.9 488.12H400.4" stroke="#111" stroke-width="1"/>
<text x="391.9" y="491.92" font-size="10.5" text-anchor="end" fill="#222" font-weight="normal" >0.0</text>
<path d="M393.9 510.17H400.4" stroke="#111" stroke-width="1"/>
<text x="391.9" y="513.9699999999999" font-size="10.5" text-anchor="end" fill="#222" font-weight="normal" >-0.5</text>
<text transform="translate(23,480.2) rotate(-90)" font-size="12.5" text-anchor="middle" fill="#222">T<tspan font-size="8.5" dy="3">1</tspan><tspan dy="-3">/T</tspan><tspan font-size="8.5" dy="3">2</tspan></text>
<text transform="translate(370.4,479.7) rotate(-90)" font-size="12.2" text-anchor="middle" fill="#222"><tspan font-size="8.6" dy="-5.8">1</tspan><tspan dy="5.8">H-</tspan><tspan font-size="8.6" dy="-5.8">15</tspan><tspan dy="5.8">N NOEs</tspan></text>
<text x="338.4" y="427" font-size="15.5" text-anchor="middle" fill="#111" font-weight="normal" >ver1</text>
<path d="M52.5 600.0H334.8V688.2" fill="none" stroke="#555" stroke-width="1"/>
<path d="M52.5 600.0V688.2H334.8" fill="none" stroke="#111" stroke-width="1"/>
<path d="M52.50 688.2v6.3" stroke="#111" stroke-width="1"/>
<text x="52.50" y="707.4000000000001" font-size="10.5" text-anchor="middle" fill="#222" font-weight="normal" >15</text>
<path d="M74.55 688.2v6.3" stroke="#111" stroke-width="1"/>
<text x="74.55" y="707.4000000000001" font-size="10.5" text-anchor="middle" fill="#222" font-weight="normal" >20</text>
<path d="M96.60 688.2v6.3" stroke="#111" stroke-width="1"/>
<text x="96.60" y="707.4000000000001" font-size="10.5" text-anchor="middle" fill="#222" font-weight="normal" >25</text>
<path d="M118.65 688.2v6.3" stroke="#111" stroke-width="1"/>
<text x="118.65" y="707.4000000000001" font-size="10.5" text-anchor="middle" fill="#222" font-weight="normal" >30</text>
<path d="M140.70 688.2v6.3" stroke="#111" stroke-width="1"/>
<text x="140.70" y="707.4000000000001" font-size="10.5" text-anchor="middle" fill="#222" font-weight="normal" >35</text>
<path d="M162.75 688.2v6.3" stroke="#111" stroke-width="1"/>
<text x="162.75" y="707.4000000000001" font-size="10.5" text-anchor="middle" fill="#222" font-weight="normal" >40</text>
<path d="M184.80 688.2v6.3" stroke="#111" stroke-width="1"/>
<text x="184.80" y="707.4000000000001" font-size="10.5" text-anchor="middle" fill="#222" font-weight="normal" >45</text>
<path d="M206.85 688.2v6.3" stroke="#111" stroke-width="1"/>
<text x="206.85" y="707.4000000000001" font-size="10.5" text-anchor="middle" fill="#222" font-weight="normal" >50</text>
<path d="M228.90 688.2v6.3" stroke="#111" stroke-width="1"/>
<text x="228.90" y="707.4000000000001" font-size="10.5" text-anchor="middle" fill="#222" font-weight="normal" >55</text>
<path d="M250.95 688.2v6.3" stroke="#111" stroke-width="1"/>
<text x="250.95" y="707.4000000000001" font-size="10.5" text-anchor="middle" fill="#222" font-weight="normal" >60</text>
<path d="M273.00 688.2v6.3" stroke="#111" stroke-width="1"/>
<text x="273.00" y="707.4000000000001" font-size="10.5" text-anchor="middle" fill="#222" font-weight="normal" >65</text>
<path d="M295.05 688.2v6.3" stroke="#111" stroke-width="1"/>
<text x="295.05" y="707.4000000000001" font-size="10.5" text-anchor="middle" fill="#222" font-weight="normal" >70</text>
<path d="M317.10 688.2v6.3" stroke="#111" stroke-width="1"/>
<text x="317.10" y="707.4000000000001" font-size="10.5" text-anchor="middle" fill="#222" font-weight="normal" >75</text>
<text x="193.65" y="723.5" font-size="12.2" text-anchor="middle" fill="#222" font-weight="normal" >residue number</text>
<path d="M400.4 600.0H682.7V688.2" fill="none" stroke="#555" stroke-width="1"/>
<path d="M400.4 600.0V688.2H682.7" fill="none" stroke="#111" stroke-width="1"/>
<path d="M400.40 688.2v6.3" stroke="#111" stroke-width="1"/>
<text x="400.40" y="707.4000000000001" font-size="10.5" text-anchor="middle" fill="#222" font-weight="normal" >15</text>
<path d="M422.45 688.2v6.3" stroke="#111" stroke-width="1"/>
<text x="422.45" y="707.4000000000001" font-size="10.5" text-anchor="middle" fill="#222" font-weight="normal" >20</text>
<path d="M444.50 688.2v6.3" stroke="#111" stroke-width="1"/>
<text x="444.50" y="707.4000000000001" font-size="10.5" text-anchor="middle" fill="#222" font-weight="normal" >25</text>
<path d="M466.55 688.2v6.3" stroke="#111" stroke-width="1"/>
<text x="466.55" y="707.4000000000001" font-size="10.5" text-anchor="middle" fill="#222" font-weight="normal" >30</text>
<path d="M488.60 688.2v6.3" stroke="#111" stroke-width="1"/>
<text x="488.60" y="707.4000000000001" font-size="10.5" text-anchor="middle" fill="#222" font-weight="normal" >35</text>
<path d="M510.65 688.2v6.3" stroke="#111" stroke-width="1"/>
<text x="510.65" y="707.4000000000001" font-size="10.5" text-anchor="middle" fill="#222" font-weight="normal" >40</text>
<path d="M532.70 688.2v6.3" stroke="#111" stroke-width="1"/>
<text x="532.70" y="707.4000000000001" font-size="10.5" text-anchor="middle" fill="#222" font-weight="normal" >45</text>
<path d="M554.75 688.2v6.3" stroke="#111" stroke-width="1"/>
<text x="554.75" y="707.4000000000001" font-size="10.5" text-anchor="middle" fill="#222" font-weight="normal" >50</text>
<path d="M576.80 688.2v6.3" stroke="#111" stroke-width="1"/>
<text x="576.80" y="707.4000000000001" font-size="10.5" text-anchor="middle" fill="#222" font-weight="normal" >55</text>
<path d="M598.85 688.2v6.3" stroke="#111" stroke-width="1"/>
<text x="598.85" y="707.4000000000001" font-size="10.5" text-anchor="middle" fill="#222" font-weight="normal" >60</text>
<path d="M620.90 688.2v6.3" stroke="#111" stroke-width="1"/>
<text x="620.90" y="707.4000000000001" font-size="10.5" text-anchor="middle" fill="#222" font-weight="normal" >65</text>
<path d="M642.95 688.2v6.3" stroke="#111" stroke-width="1"/>
<text x="642.95" y="707.4000000000001" font-size="10.5" text-anchor="middle" fill="#222" font-weight="normal" >70</text>
<path d="M665.00 688.2v6.3" stroke="#111" stroke-width="1"/>
<text x="665.00" y="707.4000000000001" font-size="10.5" text-anchor="middle" fill="#222" font-weight="normal" >75</text>
<text x="541.55" y="723.5" font-size="12.2" text-anchor="middle" fill="#222" font-weight="normal" >residue number</text>
<path d="M46.0 688.20H52.5" stroke="#111" stroke-width="1"/>
<text x="44.0" y="692.0" font-size="10.5" text-anchor="end" fill="#222" font-weight="normal" >0</text>
<path d="M46.0 658.80H52.5" stroke="#111" stroke-width="1"/>
<text x="44.0" y="662.6" font-size="10.5" text-anchor="end" fill="#222" font-weight="normal" >5</text>
<path d="M46.0 629.40H52.5" stroke="#111" stroke-width="1"/>
<text x="44.0" y="633.2" font-size="10.5" text-anchor="end" fill="#222" font-weight="normal" >10</text>
<path d="M46.0 600.00H52.5" stroke="#111" stroke-width="1"/>
<text x="44.0" y="603.8" font-size="10.5" text-anchor="end" fill="#222" font-weight="normal" >15</text>
<path d="M393.9 608.82H400.4" stroke="#111" stroke-width="1"/>
<text x="391.9" y="612.62" font-size="10.5" text-anchor="end" fill="#222" font-weight="normal" >1.0</text>
<path d="M393.9 630.87H400.4" stroke="#111" stroke-width="1"/>
<text x="391.9" y="634.67" font-size="10.5" text-anchor="end" fill="#222" font-weight="normal" >0.5</text>
<path d="M393.9 652.92H400.4" stroke="#111" stroke-width="1"/>
<text x="391.9" y="656.7199999999999" font-size="10.5" text-anchor="end" fill="#222" font-weight="normal" >0.0</text>
<path d="M393.9 674.97H400.4" stroke="#111" stroke-width="1"/>
<text x="391.9" y="678.77" font-size="10.5" text-anchor="end" fill="#222" font-weight="normal" >-0.5</text>
<text transform="translate(23,645.0) rotate(-90)" font-size="12.5" text-anchor="middle" fill="#222">T<tspan font-size="8.5" dy="3">1</tspan><tspan dy="-3">/T</tspan><tspan font-size="8.5" dy="3">2</tspan></text>
<text transform="translate(370.4,644.5) rotate(-90)" font-size="12.2" text-anchor="middle" fill="#222"><tspan font-size="8.6" dy="-5.8">1</tspan><tspan dy="5.8">H-</tspan><tspan font-size="8.6" dy="-5.8">15</tspan><tspan dy="5.8">N NOEs</tspan></text>
<text x="349" y="591" font-size="15.5" text-anchor="middle" fill="#111" font-weight="normal" >vbs</text>
<path d="M52.5 765.8H334.8V854.0" fill="none" stroke="#555" stroke-width="1"/>
<path d="M52.5 765.8V854.0H334.8" fill="none" stroke="#111" stroke-width="1"/>
<path d="M52.50 854.0v6.3" stroke="#111" stroke-width="1"/>
<text x="52.50" y="873.2" font-size="10.5" text-anchor="middle" fill="#222" font-weight="normal" >15</text>
<path d="M74.55 854.0v6.3" stroke="#111" stroke-width="1"/>
<text x="74.55" y="873.2" font-size="10.5" text-anchor="middle" fill="#222" font-weight="normal" >20</text>
<path d="M96.60 854.0v6.3" stroke="#111" stroke-width="1"/>
<text x="96.60" y="873.2" font-size="10.5" text-anchor="middle" fill="#222" font-weight="normal" >25</text>
<path d="M118.65 854.0v6.3" stroke="#111" stroke-width="1"/>
<text x="118.65" y="873.2" font-size="10.5" text-anchor="middle" fill="#222" font-weight="normal" >30</text>
<path d="M140.70 854.0v6.3" stroke="#111" stroke-width="1"/>
<text x="140.70" y="873.2" font-size="10.5" text-anchor="middle" fill="#222" font-weight="normal" >35</text>
<path d="M162.75 854.0v6.3" stroke="#111" stroke-width="1"/>
<text x="162.75" y="873.2" font-size="10.5" text-anchor="middle" fill="#222" font-weight="normal" >40</text>
<path d="M184.80 854.0v6.3" stroke="#111" stroke-width="1"/>
<text x="184.80" y="873.2" font-size="10.5" text-anchor="middle" fill="#222" font-weight="normal" >45</text>
<path d="M206.85 854.0v6.3" stroke="#111" stroke-width="1"/>
<text x="206.85" y="873.2" font-size="10.5" text-anchor="middle" fill="#222" font-weight="normal" >50</text>
<path d="M228.90 854.0v6.3" stroke="#111" stroke-width="1"/>
<text x="228.90" y="873.2" font-size="10.5" text-anchor="middle" fill="#222" font-weight="normal" >55</text>
<path d="M250.95 854.0v6.3" stroke="#111" stroke-width="1"/>
<text x="250.95" y="873.2" font-size="10.5" text-anchor="middle" fill="#222" font-weight="normal" >60</text>
<path d="M273.00 854.0v6.3" stroke="#111" stroke-width="1"/>
<text x="273.00" y="873.2" font-size="10.5" text-anchor="middle" fill="#222" font-weight="normal" >65</text>
<path d="M295.05 854.0v6.3" stroke="#111" stroke-width="1"/>
<text x="295.05" y="873.2" font-size="10.5" text-anchor="middle" fill="#222" font-weight="normal" >70</text>
<path d="M317.10 854.0v6.3" stroke="#111" stroke-width="1"/>
<text x="317.10" y="873.2" font-size="10.5" text-anchor="middle" fill="#222" font-weight="normal" >75</text>
<text x="193.65" y="889.3" font-size="12.2" text-anchor="middle" fill="#222" font-weight="normal" >residue number</text>
<path d="M400.4 765.8H682.7V854.0" fill="none" stroke="#555" stroke-width="1"/>
<path d="M400.4 765.8V854.0H682.7" fill="none" stroke="#111" stroke-width="1"/>
<path d="M400.40 854.0v6.3" stroke="#111" stroke-width="1"/>
<text x="400.40" y="873.2" font-size="10.5" text-anchor="middle" fill="#222" font-weight="normal" >15</text>
<path d="M422.45 854.0v6.3" stroke="#111" stroke-width="1"/>
<text x="422.45" y="873.2" font-size="10.5" text-anchor="middle" fill="#222" font-weight="normal" >20</text>
<path d="M444.50 854.0v6.3" stroke="#111" stroke-width="1"/>
<text x="444.50" y="873.2" font-size="10.5" text-anchor="middle" fill="#222" font-weight="normal" >25</text>
<path d="M466.55 854.0v6.3" stroke="#111" stroke-width="1"/>
<text x="466.55" y="873.2" font-size="10.5" text-anchor="middle" fill="#222" font-weight="normal" >30</text>
<path d="M488.60 854.0v6.3" stroke="#111" stroke-width="1"/>
<text x="488.60" y="873.2" font-size="10.5" text-anchor="middle" fill="#222" font-weight="normal" >35</text>
<path d="M510.65 854.0v6.3" stroke="#111" stroke-width="1"/>
<text x="510.65" y="873.2" font-size="10.5" text-anchor="middle" fill="#222" font-weight="normal" >40</text>
<path d="M532.70 854.0v6.3" stroke="#111" stroke-width="1"/>
<text x="532.70" y="873.2" font-size="10.5" text-anchor="middle" fill="#222" font-weight="normal" >45</text>
<path d="M554.75 854.0v6.3" stroke="#111" stroke-width="1"/>
<text x="554.75" y="873.2" font-size="10.5" text-anchor="middle" fill="#222" font-weight="normal" >50</text>
<path d="M576.80 854.0v6.3" stroke="#111" stroke-width="1"/>
<text x="576.80" y="873.2" font-size="10.5" text-anchor="middle" fill="#222" font-weight="normal" >55</text>
<path d="M598.85 854.0v6.3" stroke="#111" stroke-width="1"/>
<text x="598.85" y="873.2" font-size="10.5" text-anchor="middle" fill="#222" font-weight="normal" >60</text>
<path d="M620.90 854.0v6.3" stroke="#111" stroke-width="1"/>
<text x="620.90" y="873.2" font-size="10.5" text-anchor="middle" fill="#222" font-weight="normal" >65</text>
<path d="M642.95 854.0v6.3" stroke="#111" stroke-width="1"/>
<text x="642.95" y="873.2" font-size="10.5" text-anchor="middle" fill="#222" font-weight="normal" >70</text>
<path d="M665.00 854.0v6.3" stroke="#111" stroke-width="1"/>
<text x="665.00" y="873.2" font-size="10.5" text-anchor="middle" fill="#222" font-weight="normal" >75</text>
<text x="541.55" y="889.3" font-size="12.2" text-anchor="middle" fill="#222" font-weight="normal" >residue number</text>
<path d="M46.0 854.00H52.5" stroke="#111" stroke-width="1"/>
<text x="44.0" y="857.8" font-size="10.5" text-anchor="end" fill="#222" font-weight="normal" >0</text>
<path d="M46.0 824.60H52.5" stroke="#111" stroke-width="1"/>
<text x="44.0" y="828.4" font-size="10.5" text-anchor="end" fill="#222" font-weight="normal" >5</text>
<path d="M46.0 795.20H52.5" stroke="#111" stroke-width="1"/>
<text x="44.0" y="799.0" font-size="10.5" text-anchor="end" fill="#222" font-weight="normal" >10</text>
<path d="M46.0 765.80H52.5" stroke="#111" stroke-width="1"/>
<text x="44.0" y="769.5999999999999" font-size="10.5" text-anchor="end" fill="#222" font-weight="normal" >15</text>
<path d="M393.9 774.62H400.4" stroke="#111" stroke-width="1"/>
<text x="391.9" y="778.42" font-size="10.5" text-anchor="end" fill="#222" font-weight="normal" >1.0</text>
<path d="M393.9 796.67H400.4" stroke="#111" stroke-width="1"/>
<text x="391.9" y="800.4699999999999" font-size="10.5" text-anchor="end" fill="#222" font-weight="normal" >0.5</text>
<path d="M393.9 818.72H400.4" stroke="#111" stroke-width="1"/>
<text x="391.9" y="822.5199999999999" font-size="10.5" text-anchor="end" fill="#222" font-weight="normal" >0.0</text>
<path d="M393.9 840.77H400.4" stroke="#111" stroke-width="1"/>
<text x="391.9" y="844.5699999999999" font-size="10.5" text-anchor="end" fill="#222" font-weight="normal" >-0.5</text>
<text transform="translate(23,810.8) rotate(-90)" font-size="12.5" text-anchor="middle" fill="#222">T<tspan font-size="8.5" dy="3">1</tspan><tspan dy="-3">/T</tspan><tspan font-size="8.5" dy="3">2</tspan></text>
<text transform="translate(370.4,810.3) rotate(-90)" font-size="12.2" text-anchor="middle" fill="#222"><tspan font-size="8.6" dy="-5.8">1</tspan><tspan dy="5.8">H-</tspan><tspan font-size="8.6" dy="-5.8">15</tspan><tspan dy="5.8">N NOEs</tspan></text>
<text x="349.5" y="757.7" font-size="16.3" text-anchor="middle" fill="#111" font-weight="normal" >norA</text>
<clipPath id="cl0"><rect x="52.5" y="435.2" width="285.5" height="88.2"/></clipPath>
<g clip-path="url(#cl0)">
<path d="M52.5 496.4V501.1M50.7 496.4h3.6M50.7 501.1h3.6M56.9 492.8V497.5M55.1 492.8h3.6M55.1 497.5h3.6M61.3 490.8V495.5M59.5 490.8h3.6M59.5 495.5h3.6M65.7 489.6V494.3M63.9 489.6h3.6M63.9 494.3h3.6M70.1 505.8V510.5M68.3 505.8h3.6M68.3 510.5h3.6M74.5 490.5V495.2M72.8 490.5h3.6M72.8 495.2h3.6M79.0 495.2V499.9M77.2 495.2h3.6M77.2 499.9h3.6M83.4 468.7V475.2M81.6 468.7h3.6M81.6 475.2h3.6M87.8 484.0V488.7M86.0 484.0h3.6M86.0 488.7h3.6M92.2 500.5V505.2M90.4 500.5h3.6M90.4 505.2h3.6M96.6 501.1V505.8M94.8 501.1h3.6M94.8 505.8h3.6M101.0 496.4V501.1M99.2 496.4h3.6M99.2 501.1h3.6M105.4 468.7V472.2M103.6 468.7h3.6M103.6 472.2h3.6M109.8 472.2V476.4M108.0 472.2h3.6M108.0 476.4h3.6M114.2 474.9V479.6M112.4 474.9h3.6M112.4 479.6h3.6M118.7 479.9V484.6M116.9 479.9h3.6M116.9 484.6h3.6M123.1 473.4V478.1M121.3 473.4h3.6M121.3 478.1h3.6M127.5 475.5V480.2M125.7 475.5h3.6M125.7 480.2h3.6M131.9 470.5V476.4M130.1 470.5h3.6M130.1 476.4h3.6M136.3 477.5V482.2M134.5 477.5h3.6M134.5 482.2h3.6M140.7 480.5V485.2M138.9 480.5h3.6M138.9 485.2h3.6M145.1 475.2V479.9M143.3 475.2h3.6M143.3 479.9h3.6M149.5 480.5V485.2M147.7 480.5h3.6M147.7 485.2h3.6M153.9 479.0V483.7M152.1 479.0h3.6M152.1 483.7h3.6M158.3 464.0V468.7M156.5 464.0h3.6M156.5 468.7h3.6M162.8 465.2V481.1M160.9 465.2h3.6M160.9 481.1h3.6M167.2 477.2V481.9M165.4 477.2h3.6M165.4 481.9h3.6M171.6 463.1V467.8M169.8 463.1h3.6M169.8 467.8h3.6M176.0 483.4V488.1M174.2 483.4h3.6M174.2 488.1h3.6M184.8 476.9V481.7M183.0 476.9h3.6M183.0 481.7h3.6M189.2 474.0V478.1M187.4 474.0h3.6M187.4 478.1h3.6M193.6 476.1V480.8M191.8 476.1h3.6M191.8 480.8h3.6M198.0 468.1V472.8M196.2 468.1h3.6M196.2 472.8h3.6M202.4 471.4V476.1M200.6 471.4h3.6M200.6 476.1h3.6M206.8 472.8V477.5M205.0 472.8h3.6M205.0 477.5h3.6M211.3 473.4V478.1M209.5 473.4h3.6M209.5 478.1h3.6M215.7 472.8V477.5M213.9 472.8h3.6M213.9 477.5h3.6M220.1 477.8V482.5M218.3 477.8h3.6M218.3 482.5h3.6M224.5 477.2V481.9M222.7 477.2h3.6M222.7 481.9h3.6M228.9 485.2V489.9M227.1 485.2h3.6M227.1 489.9h3.6M237.7 473.4V482.2M235.9 473.4h3.6M235.9 482.2h3.6M242.1 475.5V480.2M240.3 475.5h3.6M240.3 480.2h3.6M246.5 470.2V474.6M244.7 470.2h3.6M244.7 474.6h3.6M251.0 487.5V492.2M249.2 487.5h3.6M249.2 492.2h3.6M255.4 493.4V498.1M253.6 493.4h3.6M253.6 498.1h3.6M259.8 478.1V495.8M258.0 478.1h3.6M258.0 495.8h3.6M264.2 495.2V499.9M262.4 495.2h3.6M262.4 499.9h3.6M268.6 498.4V503.1M266.8 498.4h3.6M266.8 503.1h3.6M273.0 498.4V503.1M271.2 498.4h3.6M271.2 503.1h3.6M277.4 500.8V505.5M275.6 500.8h3.6M275.6 505.5h3.6M281.8 500.2V504.9M280.0 500.2h3.6M280.0 504.9h3.6M303.9 506.1V510.8M302.1 506.1h3.6M302.1 510.8h3.6M312.7 506.1V510.8M310.9 506.1h3.6M310.9 510.8h3.6M321.5 507.2V511.9M319.7 507.2h3.6M319.7 511.9h3.6M325.9 506.1V510.8M324.1 506.1h3.6M324.1 510.8h3.6M330.3 509.9V514.6M328.5 509.9h3.6M328.5 514.6h3.6" stroke="#a4a4a4" stroke-width="1" fill="none"/>
<g fill="#ababab"><circle cx="52.5" cy="498.7" r="2.0"/><circle cx="56.9" cy="495.2" r="2.0"/><circle cx="61.3" cy="493.1" r="2.0"/><circle cx="65.7" cy="491.9" r="2.0"/><circle cx="70.1" cy="508.1" r="2.0"/><circle cx="74.5" cy="492.8" r="2.0"/><circle cx="79.0" cy="497.5" r="2.0"/><circle cx="83.4" cy="471.9" r="2.0"/><circle cx="87.8" cy="486.4" r="2.0"/><circle cx="92.2" cy="502.8" r="2.0"/><circle cx="96.6" cy="503.4" r="2.0"/><circle cx="101.0" cy="498.7" r="2.0"/><circle cx="105.4" cy="470.5" r="2.0"/><circle cx="109.8" cy="474.0" r="2.0"/><circle cx="114.2" cy="477.2" r="2.0"/><circle cx="118.7" cy="482.2" r="2.0"/><circle cx="123.1" cy="475.8" r="2.0"/><circle cx="127.5" cy="477.8" r="2.0"/><circle cx="131.9" cy="473.4" r="2.0"/><circle cx="136.3" cy="479.9" r="2.0"/><circle cx="140.7" cy="482.8" r="2.0"/><circle cx="145.1" cy="477.5" r="2.0"/><circle cx="149.5" cy="482.8" r="2.0"/><circle cx="153.9" cy="481.4" r="2.0"/><circle cx="158.3" cy="466.4" r="2.0"/><circle cx="162.8" cy="473.4" r="2.0"/><circle cx="167.2" cy="479.6" r="2.0"/><circle cx="171.6" cy="465.5" r="2.0"/><circle cx="176.0" cy="485.8" r="2.0"/><circle cx="184.8" cy="479.3" r="2.0"/><circle cx="189.2" cy="476.1" r="2.0"/><circle cx="193.6" cy="478.4" r="2.0"/><circle cx="198.0" cy="470.5" r="2.0"/><circle cx="202.4" cy="473.7" r="2.0"/><circle cx="206.8" cy="475.2" r="2.0"/><circle cx="211.3" cy="475.8" r="2.0"/><circle cx="215.7" cy="475.2" r="2.0"/><circle cx="220.1" cy="480.2" r="2.0"/><circle cx="224.5" cy="479.6" r="2.0"/><circle cx="228.9" cy="487.5" r="2.0"/><circle cx="237.7" cy="477.8" r="2.0"/><circle cx="242.1" cy="477.8" r="2.0"/><circle cx="246.5" cy="472.5" r="2.0"/><circle cx="251.0" cy="489.9" r="2.0"/><circle cx="255.4" cy="495.8" r="2.0"/><circle cx="259.8" cy="486.9" r="2.0"/><circle cx="264.2" cy="497.5" r="2.0"/><circle cx="268.6" cy="500.8" r="2.0"/><circle cx="273.0" cy="500.8" r="2.0"/><circle cx="277.4" cy="503.1" r="2.0"/><circle cx="281.8" cy="502.5" r="2.0"/><circle cx="303.9" cy="508.4" r="2.0"/><circle cx="312.7" cy="508.4" r="2.0"/><circle cx="321.5" cy="509.6" r="2.0"/><circle cx="325.9" cy="508.4" r="2.0"/><circle cx="330.3" cy="512.2" r="2.0"/></g>
<path d="M52.5 496.9V501.6M50.6 496.9h3.8M50.6 501.6h3.8M56.9 496.4V502.2M55.0 496.4h3.8M55.0 502.2h3.8M61.3 481.1V511.1M59.4 481.1h3.8M59.4 511.1h3.8M65.7 490.5V493.4M63.8 490.5h3.8M63.8 493.4h3.8M70.1 502.2V504.6M68.2 502.2h3.8M68.2 504.6h3.8M74.5 490.5V495.8M72.6 490.5h3.8M72.6 495.8h3.8M79.0 495.8V498.7M77.1 495.8h3.8M77.1 498.7h3.8M83.4 464.6V478.7M81.5 464.6h3.8M81.5 478.7h3.8M87.8 479.6V487.5M85.9 479.6h3.8M85.9 487.5h3.8M92.2 501.9V504.0M90.3 501.9h3.8M90.3 504.0h3.8M96.6 504.3V507.8M94.7 504.3h3.8M94.7 507.8h3.8M101.0 497.2V500.5M99.1 497.2h3.8M99.1 500.5h3.8M105.4 458.7V467.5M103.5 458.7h3.8M103.5 467.5h3.8M109.8 451.7V469.3M107.9 451.7h3.8M107.9 469.3h3.8M114.2 465.2V485.2M112.3 465.2h3.8M112.3 485.2h3.8M118.7 486.6V492.8M116.8 486.6h3.8M116.8 492.8h3.8M123.1 486.9V492.8M121.2 486.9h3.8M121.2 492.8h3.8M127.5 481.4V486.4M125.6 481.4h3.8M125.6 486.4h3.8M131.9 486.9V491.1M130.0 486.9h3.8M130.0 491.1h3.8M136.3 475.8V481.4M134.4 475.8h3.8M134.4 481.4h3.8M140.7 473.4V481.7M138.8 473.4h3.8M138.8 481.7h3.8M145.1 486.6V491.4M143.2 486.6h3.8M143.2 491.4h3.8M149.5 484.9V488.7M147.6 484.9h3.8M147.6 488.7h3.8M153.9 487.2V491.4M152.0 487.2h3.8M152.0 491.4h3.8M158.3 459.3V472.2M156.4 459.3h3.8M156.4 472.2h3.8M162.8 453.4V462.2M160.8 453.4h3.8M160.8 462.2h3.8M167.2 482.5V487.5M165.3 482.5h3.8M165.3 487.5h3.8M171.6 461.1V473.4M169.7 461.1h3.8M169.7 473.4h3.8M176.0 488.4V494.6M174.1 488.4h3.8M174.1 494.6h3.8M184.8 483.4V487.5M182.9 483.4h3.8M182.9 487.5h3.8M189.2 474.6V482.8M187.3 474.6h3.8M187.3 482.8h3.8M193.6 482.2V494.0M191.7 482.2h3.8M191.7 494.0h3.8M198.0 463.4V475.2M196.1 463.4h3.8M196.1 475.2h3.8M202.4 474.6V481.1M200.5 474.6h3.8M200.5 481.1h3.8M206.8 476.9V484.0M204.9 476.9h3.8M204.9 484.0h3.8M211.3 478.7V484.0M209.4 478.7h3.8M209.4 484.0h3.8M215.7 479.3V482.2M213.8 479.3h3.8M213.8 482.2h3.8M220.1 479.0V482.5M218.2 479.0h3.8M218.2 482.5h3.8M224.5 486.9V490.5M222.6 486.9h3.8M222.6 490.5h3.8M228.9 491.6V494.6M227.0 491.6h3.8M227.0 494.6h3.8M233.3 478.1V482.8M231.4 478.1h3.8M231.4 482.8h3.8M237.7 486.9V492.2M235.8 486.9h3.8M235.8 492.2h3.8M242.1 471.7V481.1M240.2 471.7h3.8M240.2 481.1h3.8M246.5 480.5V491.1M244.6 480.5h3.8M244.6 491.1h3.8M251.0 489.0V492.5M249.1 489.0h3.8M249.1 492.5h3.8M255.4 489.9V494.0M253.5 489.9h3.8M253.5 494.0h3.8M259.8 488.7V500.5M257.9 488.7h3.8M257.9 500.5h3.8M264.2 495.8V499.3M262.3 495.8h3.8M262.3 499.3h3.8M268.6 494.3V498.4M266.7 494.3h3.8M266.7 498.4h3.8M273.0 499.9V504.0M271.1 499.9h3.8M271.1 504.0h3.8M277.4 498.1V500.5M275.5 498.1h3.8M275.5 500.5h3.8M281.8 497.5V501.3M279.9 497.5h3.8M279.9 501.3h3.8M290.6 502.8V506.3M288.7 502.8h3.8M288.7 506.3h3.8M295.1 505.2V508.7M293.2 505.2h3.8M293.2 508.7h3.8M303.9 506.6V510.2M302.0 506.6h3.8M302.0 510.2h3.8M312.7 506.6V510.2M310.8 506.6h3.8M310.8 510.2h3.8M317.1 508.7V512.2M315.2 508.7h3.8M315.2 512.2h3.8M321.5 507.8V511.3M319.6 507.8h3.8M319.6 511.3h3.8M325.9 507.2V510.8M324.0 507.2h3.8M324.0 510.8h3.8M330.3 510.5V514.0M328.4 510.5h3.8M328.4 514.0h3.8M334.7 512.2V515.8M332.8 512.2h3.8M332.8 515.8h3.8" stroke="#ea7fa3" stroke-width="1" fill="none"/>
<g fill="#e06a95"><circle cx="52.5" cy="499.3" r="1.15"/><circle cx="56.9" cy="498.1" r="1.15"/><circle cx="61.3" cy="495.2" r="1.15"/><circle cx="65.7" cy="491.9" r="1.15"/><circle cx="70.1" cy="503.4" r="1.15"/><circle cx="74.5" cy="492.2" r="1.15"/><circle cx="79.0" cy="497.2" r="1.15"/><circle cx="83.4" cy="471.9" r="1.15"/><circle cx="87.8" cy="484.0" r="1.15"/><circle cx="92.2" cy="502.8" r="1.15"/><circle cx="96.6" cy="506.1" r="1.15"/><circle cx="101.0" cy="498.7" r="1.15"/><circle cx="105.4" cy="463.4" r="1.15"/><circle cx="109.8" cy="460.5" r="1.15"/><circle cx="114.2" cy="475.2" r="1.15"/><circle cx="118.7" cy="489.3" r="1.15"/><circle cx="123.1" cy="489.6" r="1.15"/><circle cx="127.5" cy="484.0" r="1.15"/><circle cx="131.9" cy="489.0" r="1.15"/><circle cx="136.3" cy="478.4" r="1.15"/><circle cx="140.7" cy="477.5" r="1.15"/><circle cx="145.1" cy="489.0" r="1.15"/><circle cx="149.5" cy="486.6" r="1.15"/><circle cx="153.9" cy="489.0" r="1.15"/><circle cx="158.3" cy="466.4" r="1.15"/><circle cx="162.8" cy="457.5" r="1.15"/><circle cx="167.2" cy="484.9" r="1.15"/><circle cx="171.6" cy="467.0" r="1.15"/><circle cx="176.0" cy="492.5" r="1.15"/><circle cx="184.8" cy="485.5" r="1.15"/><circle cx="189.2" cy="478.7" r="1.15"/><circle cx="193.6" cy="488.4" r="1.15"/><circle cx="198.0" cy="469.0" r="1.15"/><circle cx="202.4" cy="477.8" r="1.15"/><circle cx="206.8" cy="479.9" r="1.15"/><circle cx="211.3" cy="481.1" r="1.15"/><circle cx="215.7" cy="480.8" r="1.15"/><circle cx="220.1" cy="480.8" r="1.15"/><circle cx="224.5" cy="488.7" r="1.15"/><circle cx="228.9" cy="493.1" r="1.15"/><circle cx="233.3" cy="480.5" r="1.15"/><circle cx="237.7" cy="489.9" r="1.15"/><circle cx="242.1" cy="475.8" r="1.15"/><circle cx="246.5" cy="485.5" r="1.15"/><circle cx="251.0" cy="490.8" r="1.15"/><circle cx="255.4" cy="491.6" r="1.15"/><circle cx="259.8" cy="495.2" r="1.15"/><circle cx="264.2" cy="497.5" r="1.15"/><circle cx="268.6" cy="496.4" r="1.15"/><circle cx="273.0" cy="501.9" r="1.15"/><circle cx="277.4" cy="499.3" r="1.15"/><circle cx="281.8" cy="499.3" r="1.15"/><circle cx="290.6" cy="504.6" r="1.15"/><circle cx="295.1" cy="506.9" r="1.15"/><circle cx="303.9" cy="508.4" r="1.15"/><circle cx="312.7" cy="508.4" r="1.15"/><circle cx="317.1" cy="510.5" r="1.15"/><circle cx="321.5" cy="509.6" r="1.15"/><circle cx="325.9" cy="509.0" r="1.15"/><circle cx="330.3" cy="512.2" r="1.15"/><circle cx="334.7" cy="514.0" r="1.15"/></g>
</g>
<clipPath id="cr0"><rect x="400.4" y="435.2" width="285.5" height="88.2"/></clipPath>
<g clip-path="url(#cr0)">
<path d="M400.4 467.2V472.0M398.6 467.2h3.6M398.6 472.0h3.6M404.8 468.9V473.8M403.0 468.9h3.6M403.0 473.8h3.6M409.2 463.9V474.4M407.4 463.9h3.6M407.4 474.4h3.6M413.6 461.7V470.5M411.8 461.7h3.6M411.8 470.5h3.6M418.0 478.6V483.5M416.2 478.6h3.6M416.2 483.5h3.6M422.4 472.0V476.9M420.6 472.0h3.6M420.6 476.9h3.6M426.9 465.4V470.3M425.1 465.4h3.6M425.1 470.3h3.6M431.3 450.0V454.8M429.5 450.0h3.6M429.5 454.8h3.6M435.7 467.4V477.1M433.9 467.4h3.6M433.9 477.1h3.6M440.1 473.8V478.6M438.3 473.8h3.6M438.3 478.6h3.6M444.5 478.6V483.5M442.7 478.6h3.6M442.7 483.5h3.6M448.9 470.7V475.6M447.1 470.7h3.6M447.1 475.6h3.6M453.3 475.8V490.3M451.5 475.8h3.6M451.5 490.3h3.6M457.7 452.0V467.4M455.9 452.0h3.6M455.9 467.4h3.6M466.5 455.5V463.9M464.7 455.5h3.6M464.7 463.9h3.6M471.0 455.0V462.5M469.2 455.0h3.6M469.2 462.5h3.6M475.4 445.8V455.0M473.6 445.8h3.6M473.6 455.0h3.6M479.8 454.2V463.4M478.0 454.2h3.6M478.0 463.4h3.6M484.2 448.7V453.5M482.4 448.7h3.6M482.4 453.5h3.6M488.6 444.0V452.8M486.8 444.0h3.6M486.8 452.8h3.6M493.0 464.1V468.9M491.2 464.1h3.6M491.2 468.9h3.6M497.4 452.8V459.9M495.6 452.8h3.6M495.6 459.9h3.6M501.8 455.3V460.1M500.0 455.3h3.6M500.0 460.1h3.6M506.2 448.0V467.4M504.4 448.0h3.6M504.4 467.4h3.6M510.6 445.8V459.0M508.8 445.8h3.6M508.8 459.0h3.6M515.1 448.0V459.9M513.3 448.0h3.6M513.3 459.9h3.6M523.9 461.2V467.4M522.1 461.2h3.6M522.1 467.4h3.6M532.7 446.7V452.8M530.9 446.7h3.6M530.9 452.8h3.6M537.1 460.1V465.0M535.3 460.1h3.6M535.3 465.0h3.6M541.5 453.9V458.8M539.7 453.9h3.6M539.7 458.8h3.6M545.9 457.7V468.3M544.1 457.7h3.6M544.1 468.3h3.6M550.3 452.4V460.3M548.5 452.4h3.6M548.5 460.3h3.6M554.8 458.8V463.6M553.0 458.8h3.6M553.0 463.6h3.6M559.2 457.0V461.9M557.4 457.0h3.6M557.4 461.9h3.6M563.6 449.3V459.0M561.8 449.3h3.6M561.8 459.0h3.6M568.0 446.9V451.7M566.2 446.9h3.6M566.2 451.7h3.6M572.4 456.6V461.4M570.6 456.6h3.6M570.6 461.4h3.6M576.8 453.1V457.9M575.0 453.1h3.6M575.0 457.9h3.6M581.2 454.8V459.7M579.4 454.8h3.6M579.4 459.7h3.6M585.6 452.8V463.0M583.8 452.8h3.6M583.8 463.0h3.6M590.0 457.5V462.3M588.2 457.5h3.6M588.2 462.3h3.6M594.4 455.0V470.5M592.6 455.0h3.6M592.6 470.5h3.6M598.9 465.0V469.8M597.1 465.0h3.6M597.1 469.8h3.6M603.3 470.5V477.1M601.5 470.5h3.6M601.5 477.1h3.6M612.1 474.4V480.2M610.3 474.4h3.6M610.3 480.2h3.6M616.5 477.1V482.4M614.7 477.1h3.6M614.7 482.4h3.6M620.9 481.5V486.8M619.1 481.5h3.6M619.1 486.8h3.6M625.3 467.0V474.4M623.5 467.0h3.6M623.5 474.4h3.6M629.7 472.2V478.4M627.9 472.2h3.6M627.9 478.4h3.6M638.5 468.3V474.4M636.7 468.3h3.6M636.7 474.4h3.6M643.0 471.8V476.2M641.2 471.8h3.6M641.2 476.2h3.6M651.8 477.5V482.4M650.0 477.5h3.6M650.0 482.4h3.6M660.6 474.2V479.1M658.8 474.2h3.6M658.8 479.1h3.6M665.0 480.4V485.3M663.2 480.4h3.6M663.2 485.3h3.6M669.4 480.8V485.7M667.6 480.8h3.6M667.6 485.7h3.6M673.8 478.2V483.0M672.0 478.2h3.6M672.0 483.0h3.6M678.2 491.4V496.3M676.4 491.4h3.6M676.4 496.3h3.6M682.6 506.4V511.3M680.8 506.4h3.6M680.8 511.3h3.6" stroke="#a4a4a4" stroke-width="1" fill="none"/>
<g fill="#ababab"><circle cx="400.4" cy="469.6" r="2.0"/><circle cx="404.8" cy="471.4" r="2.0"/><circle cx="409.2" cy="469.2" r="2.0"/><circle cx="413.6" cy="466.1" r="2.0"/><circle cx="418.0" cy="481.1" r="2.0"/><circle cx="422.4" cy="474.4" r="2.0"/><circle cx="426.9" cy="467.8" r="2.0"/><circle cx="431.3" cy="452.4" r="2.0"/><circle cx="435.7" cy="472.7" r="2.0"/><circle cx="440.1" cy="476.2" r="2.0"/><circle cx="444.5" cy="481.1" r="2.0"/><circle cx="448.9" cy="473.1" r="2.0"/><circle cx="453.3" cy="482.8" r="2.0"/><circle cx="457.7" cy="459.5" r="2.0"/><circle cx="466.5" cy="459.5" r="2.0"/><circle cx="471.0" cy="458.6" r="2.0"/><circle cx="475.4" cy="450.6" r="2.0"/><circle cx="479.8" cy="457.7" r="2.0"/><circle cx="484.2" cy="451.1" r="2.0"/><circle cx="488.6" cy="448.4" r="2.0"/><circle cx="493.0" cy="466.5" r="2.0"/><circle cx="497.4" cy="455.9" r="2.0"/><circle cx="501.8" cy="457.7" r="2.0"/><circle cx="506.2" cy="457.7" r="2.0"/><circle cx="510.6" cy="452.0" r="2.0"/><circle cx="515.1" cy="454.2" r="2.0"/><circle cx="523.9" cy="463.4" r="2.0"/><circle cx="532.7" cy="449.8" r="2.0"/><circle cx="537.1" cy="462.5" r="2.0"/><circle cx="541.5" cy="456.4" r="2.0"/><circle cx="545.9" cy="462.5" r="2.0"/><circle cx="550.3" cy="455.9" r="2.0"/><circle cx="554.8" cy="461.2" r="2.0"/><circle cx="559.2" cy="459.5" r="2.0"/><circle cx="563.6" cy="454.2" r="2.0"/><circle cx="568.0" cy="449.3" r="2.0"/><circle cx="572.4" cy="459.0" r="2.0"/><circle cx="576.8" cy="455.5" r="2.0"/><circle cx="581.2" cy="457.2" r="2.0"/><circle cx="585.6" cy="457.7" r="2.0"/><circle cx="590.0" cy="459.9" r="2.0"/><circle cx="594.4" cy="463.0" r="2.0"/><circle cx="598.9" cy="467.4" r="2.0"/><circle cx="603.3" cy="473.1" r="2.0"/><circle cx="612.1" cy="476.7" r="2.0"/><circle cx="616.5" cy="479.3" r="2.0"/><circle cx="620.9" cy="483.7" r="2.0"/><circle cx="625.3" cy="470.0" r="2.0"/><circle cx="629.7" cy="475.3" r="2.0"/><circle cx="638.5" cy="471.4" r="2.0"/><circle cx="643.0" cy="474.0" r="2.0"/><circle cx="651.8" cy="479.7" r="2.0"/><circle cx="660.6" cy="476.7" r="2.0"/><circle cx="665.0" cy="482.8" r="2.0"/><circle cx="669.4" cy="483.3" r="2.0"/><circle cx="673.8" cy="480.6" r="2.0"/><circle cx="678.2" cy="493.9" r="2.0"/><circle cx="682.6" cy="508.8" r="2.0"/></g>
<path d="M400.4 462.5V494.3M398.5 462.5h3.8M398.5 494.3h3.8M404.8 451.5V493.9M402.9 451.5h3.8M402.9 493.9h3.8M409.2 469.2V488.1M407.3 469.2h3.8M407.3 488.1h3.8M413.6 470.9V485.9M411.7 470.9h3.8M411.7 485.9h3.8M418.0 471.4V486.4M416.1 471.4h3.8M416.1 486.4h3.8M422.4 468.7V482.8M420.6 468.7h3.8M420.6 482.8h3.8M426.9 463.4V474.9M425.0 463.4h3.8M425.0 474.9h3.8M431.3 439.6V496.5M429.4 439.6h3.8M429.4 496.5h3.8M435.7 469.6V485.5M433.8 469.6h3.8M433.8 485.5h3.8M440.1 474.4V489.4M438.2 474.4h3.8M438.2 489.4h3.8M444.5 454.2V474.4M442.6 454.2h3.8M442.6 474.4h3.8M448.9 472.7V489.4M447.0 472.7h3.8M447.0 489.4h3.8M457.7 435.2V470.5M455.8 435.2h3.8M455.8 470.5h3.8M462.1 474.9V501.8M460.2 474.9h3.8M460.2 501.8h3.8M466.5 435.2V455.5M464.6 435.2h3.8M464.6 455.5h3.8M471.0 450.6V466.5M469.1 450.6h3.8M469.1 466.5h3.8M475.4 455.5V468.3M473.5 455.5h3.8M473.5 468.3h3.8M479.8 437.4V458.6M477.9 437.4h3.8M477.9 458.6h3.8M484.2 452.4V465.2M482.3 452.4h3.8M482.3 465.2h3.8M488.6 458.6V469.6M486.7 458.6h3.8M486.7 469.6h3.8M493.0 452.0V468.7M491.1 452.0h3.8M491.1 468.7h3.8M497.4 435.2V452.0M495.5 435.2h3.8M495.5 452.0h3.8M501.8 454.6V465.6M499.9 454.6h3.8M499.9 465.6h3.8M506.2 435.2V457.7M504.3 435.2h3.8M504.3 457.7h3.8M510.6 448.0V515.5M508.8 448.0h3.8M508.8 515.5h3.8M515.1 442.7V471.8M513.2 442.7h3.8M513.2 471.8h3.8M519.5 449.3V477.1M517.6 449.3h3.8M517.6 477.1h3.8M523.9 450.6V467.4M522.0 450.6h3.8M522.0 467.4h3.8M532.7 438.3V454.6M530.8 438.3h3.8M530.8 454.6h3.8M537.1 439.6V467.0M535.2 439.6h3.8M535.2 467.0h3.8M541.5 442.3V461.7M539.6 442.3h3.8M539.6 461.7h3.8M545.9 435.2V456.4M544.0 435.2h3.8M544.0 456.4h3.8M550.3 442.7V457.2M548.4 442.7h3.8M548.4 457.2h3.8M554.8 443.1V463.4M552.9 443.1h3.8M552.9 463.4h3.8M559.2 456.4V467.4M557.3 456.4h3.8M557.3 467.4h3.8M568.0 438.7V455.5M566.1 438.7h3.8M566.1 455.5h3.8M572.4 453.7V467.4M570.5 453.7h3.8M570.5 467.4h3.8M576.8 464.3V473.1M574.9 464.3h3.8M574.9 473.1h3.8M581.2 452.8V471.4M579.3 452.8h3.8M579.3 471.4h3.8M590.0 452.4V472.2M588.1 452.4h3.8M588.1 472.2h3.8M594.4 468.3V489.9M592.5 468.3h3.8M592.5 489.9h3.8M598.9 452.8V470.5M597.0 452.8h3.8M597.0 470.5h3.8M603.3 470.9V483.3M601.4 470.9h3.8M601.4 483.3h3.8M607.7 435.2V507.5M605.8 435.2h3.8M605.8 507.5h3.8M612.1 450.2V474.4M610.2 450.2h3.8M610.2 474.4h3.8M616.5 463.4V485.0M614.6 463.4h3.8M614.6 485.0h3.8M620.9 465.2V482.8M619.0 465.2h3.8M619.0 482.8h3.8M625.3 462.5V479.3M623.4 462.5h3.8M623.4 479.3h3.8M629.7 442.7V483.3M627.8 442.7h3.8M627.8 483.3h3.8M638.5 465.6V484.6M636.6 465.6h3.8M636.6 484.6h3.8M643.0 478.4V490.3M641.1 478.4h3.8M641.1 490.3h3.8M651.8 475.8V485.5M649.9 475.8h3.8M649.9 485.5h3.8M660.6 467.8V477.5M658.7 467.8h3.8M658.7 477.5h3.8M665.0 486.4V494.7M663.1 486.4h3.8M663.1 494.7h3.8M669.4 485.5V493.9M667.5 485.5h3.8M667.5 493.9h3.8M673.8 483.3V490.3M671.9 483.3h3.8M671.9 490.3h3.8M678.2 491.6V501.3M676.3 491.6h3.8M676.3 501.3h3.8M682.6 508.0V519.0M680.7 508.0h3.8M680.7 519.0h3.8" stroke="#ea7fa3" stroke-width="1" fill="none"/>
<g fill="#e06a95"><circle cx="400.4" cy="478.4" r="1.15"/><circle cx="404.8" cy="472.7" r="1.15"/><circle cx="409.2" cy="478.0" r="1.15"/><circle cx="413.6" cy="478.4" r="1.15"/><circle cx="418.0" cy="478.9" r="1.15"/><circle cx="422.4" cy="474.9" r="1.15"/><circle cx="426.9" cy="468.7" r="1.15"/><circle cx="431.3" cy="467.4" r="1.15"/><circle cx="435.7" cy="478.0" r="1.15"/><circle cx="440.1" cy="481.9" r="1.15"/><circle cx="444.5" cy="463.9" r="1.15"/><circle cx="448.9" cy="481.1" r="1.15"/><circle cx="457.7" cy="436.1" r="1.15"/><circle cx="462.1" cy="488.6" r="1.15"/><circle cx="466.5" cy="439.6" r="1.15"/><circle cx="471.0" cy="459.0" r="1.15"/><circle cx="475.4" cy="461.7" r="1.15"/><circle cx="479.8" cy="448.0" r="1.15"/><circle cx="484.2" cy="458.6" r="1.15"/><circle cx="488.6" cy="463.9" r="1.15"/><circle cx="493.0" cy="460.3" r="1.15"/><circle cx="497.4" cy="443.1" r="1.15"/><circle cx="501.8" cy="459.5" r="1.15"/><circle cx="506.2" cy="446.2" r="1.15"/><circle cx="510.6" cy="481.9" r="1.15"/><circle cx="515.1" cy="457.2" r="1.15"/><circle cx="519.5" cy="463.4" r="1.15"/><circle cx="523.9" cy="459.0" r="1.15"/><circle cx="532.7" cy="446.7" r="1.15"/><circle cx="537.1" cy="452.8" r="1.15"/><circle cx="541.5" cy="452.0" r="1.15"/><circle cx="545.9" cy="444.0" r="1.15"/><circle cx="550.3" cy="449.8" r="1.15"/><circle cx="554.8" cy="452.8" r="1.15"/><circle cx="559.2" cy="461.7" r="1.15"/><circle cx="568.0" cy="447.1" r="1.15"/><circle cx="572.4" cy="459.5" r="1.15"/><circle cx="576.8" cy="468.7" r="1.15"/><circle cx="581.2" cy="458.1" r="1.15"/><circle cx="590.0" cy="462.1" r="1.15"/><circle cx="594.4" cy="478.9" r="1.15"/><circle cx="598.9" cy="459.9" r="1.15"/><circle cx="603.3" cy="476.7" r="1.15"/><circle cx="607.7" cy="466.5" r="1.15"/><circle cx="612.1" cy="462.1" r="1.15"/><circle cx="616.5" cy="474.4" r="1.15"/><circle cx="620.9" cy="473.6" r="1.15"/><circle cx="625.3" cy="470.9" r="1.15"/><circle cx="629.7" cy="463.0" r="1.15"/><circle cx="638.5" cy="474.4" r="1.15"/><circle cx="643.0" cy="483.7" r="1.15"/><circle cx="651.8" cy="480.2" r="1.15"/><circle cx="660.6" cy="473.1" r="1.15"/><circle cx="665.0" cy="490.3" r="1.15"/><circle cx="669.4" cy="489.4" r="1.15"/><circle cx="673.8" cy="487.2" r="1.15"/><circle cx="678.2" cy="494.7" r="1.15"/><circle cx="682.6" cy="513.7" r="1.15"/></g>
</g>
<clipPath id="cl1"><rect x="52.5" y="600.0" width="285.5" height="88.2"/></clipPath>
<g clip-path="url(#cl1)">
<path d="M52.5 661.3V666.0M50.7 661.3h3.6M50.7 666.0h3.6M56.9 657.6V662.3M55.1 657.6h3.6M55.1 662.3h3.6M61.3 655.0V659.7M59.5 655.0h3.6M59.5 659.7h3.6M65.7 655.0V659.7M63.9 655.0h3.6M63.9 659.7h3.6M70.1 670.6V675.3M68.3 670.6h3.6M68.3 675.3h3.6M74.5 654.7V659.4M72.8 654.7h3.6M72.8 659.4h3.6M79.0 660.3V665.0M77.2 660.3h3.6M77.2 665.0h3.6M83.4 632.9V641.2M81.6 632.9h3.6M81.6 641.2h3.6M87.8 648.8V653.5M86.0 648.8h3.6M86.0 653.5h3.6M92.2 665.9V670.6M90.4 665.9h3.6M90.4 670.6h3.6M96.6 665.4V670.1M94.8 665.4h3.6M94.8 670.1h3.6M101.0 661.3V666.0M99.2 661.3h3.6M99.2 666.0h3.6M105.4 632.3V638.2M103.6 632.3h3.6M103.6 638.2h3.6M109.8 635.3V642.9M108.0 635.3h3.6M108.0 642.9h3.6M114.2 638.2V645.9M112.4 638.2h3.6M112.4 645.9h3.6M118.7 644.7V649.4M116.9 644.7h3.6M116.9 649.4h3.6M123.1 637.3V643.5M121.3 637.3h3.6M121.3 643.5h3.6M127.5 640.6V645.3M125.7 640.6h3.6M125.7 645.3h3.6M131.9 634.7V641.7M130.1 634.7h3.6M130.1 641.7h3.6M136.3 642.9V647.6M134.5 642.9h3.6M134.5 647.6h3.6M140.7 645.1V649.8M138.9 645.1h3.6M138.9 649.8h3.6M145.1 639.5V644.2M143.3 639.5h3.6M143.3 644.2h3.6M149.5 646.0V650.7M147.7 646.0h3.6M147.7 650.7h3.6M153.9 643.7V648.4M152.1 643.7h3.6M152.1 648.4h3.6M158.3 627.6V635.3M156.5 627.6h3.6M156.5 635.3h3.6M162.8 630.6V644.1M160.9 630.6h3.6M160.9 644.1h3.6M167.2 642.3V647.0M165.4 642.3h3.6M165.4 647.0h3.6M171.6 627.3V632.0M169.8 627.3h3.6M169.8 632.0h3.6M176.0 647.9V652.6M174.2 647.9h3.6M174.2 652.6h3.6M184.8 641.5V646.2M183.0 641.5h3.6M183.0 646.2h3.6M189.2 637.0V641.2M187.4 637.0h3.6M187.4 641.2h3.6M193.6 640.6V645.3M191.8 640.6h3.6M191.8 645.3h3.6M198.0 632.3V638.8M196.2 632.3h3.6M196.2 638.8h3.6M202.4 635.6V640.3M200.6 635.6h3.6M200.6 640.3h3.6M206.8 637.7V642.5M205.0 637.7h3.6M205.0 642.5h3.6M211.3 637.7V642.5M209.5 637.7h3.6M209.5 642.5h3.6M215.7 637.7V642.5M213.9 637.7h3.6M213.9 642.5h3.6M220.1 642.9V647.6M218.3 642.9h3.6M218.3 647.6h3.6M224.5 641.9V646.6M222.7 641.9h3.6M222.7 646.6h3.6M228.9 649.8V654.5M227.1 649.8h3.6M227.1 654.5h3.6M233.3 640.8V645.5M231.5 640.8h3.6M231.5 645.5h3.6M237.7 640.6V645.3M235.9 640.6h3.6M235.9 645.3h3.6M242.1 640.0V645.9M240.3 640.0h3.6M240.3 645.9h3.6M246.5 634.1V640.0M244.7 634.1h3.6M244.7 640.0h3.6M251.0 652.3V657.0M249.2 652.3h3.6M249.2 657.0h3.6M255.4 658.5V663.2M253.6 658.5h3.6M253.6 663.2h3.6M259.8 642.3V661.2M258.0 642.3h3.6M258.0 661.2h3.6M264.2 660.1V664.8M262.4 660.1h3.6M262.4 664.8h3.6M268.6 662.9V667.6M266.8 662.9h3.6M266.8 667.6h3.6M273.0 663.3V668.0M271.2 663.3h3.6M271.2 668.0h3.6M277.4 665.7V670.4M275.6 665.7h3.6M275.6 670.4h3.6M281.8 664.9V669.6M280.0 664.9h3.6M280.0 669.6h3.6M290.6 667.3V672.0M288.8 667.3h3.6M288.8 672.0h3.6M295.1 669.4V674.1M293.2 669.4h3.6M293.2 674.1h3.6M303.9 670.6V675.3M302.1 670.6h3.6M302.1 675.3h3.6M312.7 671.0V675.7M310.9 671.0h3.6M310.9 675.7h3.6M317.1 672.9V677.6M315.3 672.9h3.6M315.3 677.6h3.6M321.5 672.1V676.9M319.7 672.1h3.6M319.7 676.9h3.6M325.9 670.6V675.3M324.1 670.6h3.6M324.1 675.3h3.6M330.3 674.6V679.3M328.5 674.6h3.6M328.5 679.3h3.6M334.7 676.4V681.1M332.9 676.4h3.6M332.9 681.1h3.6" stroke="#a4a4a4" stroke-width="1" fill="none"/>
<g fill="#ababab"><circle cx="52.5" cy="663.7" r="2.0"/><circle cx="56.9" cy="660.0" r="2.0"/><circle cx="61.3" cy="657.4" r="2.0"/><circle cx="65.7" cy="657.4" r="2.0"/><circle cx="70.1" cy="672.9" r="2.0"/><circle cx="74.5" cy="657.0" r="2.0"/><circle cx="79.0" cy="662.7" r="2.0"/><circle cx="83.4" cy="636.9" r="2.0"/><circle cx="87.8" cy="651.2" r="2.0"/><circle cx="92.2" cy="668.2" r="2.0"/><circle cx="96.6" cy="667.8" r="2.0"/><circle cx="101.0" cy="663.7" r="2.0"/><circle cx="105.4" cy="635.3" r="2.0"/><circle cx="109.8" cy="639.1" r="2.0"/><circle cx="114.2" cy="642.2" r="2.0"/><circle cx="118.7" cy="647.0" r="2.0"/><circle cx="123.1" cy="640.6" r="2.0"/><circle cx="127.5" cy="642.9" r="2.0"/><circle cx="131.9" cy="638.2" r="2.0"/><circle cx="136.3" cy="645.3" r="2.0"/><circle cx="140.7" cy="647.5" r="2.0"/><circle cx="145.1" cy="641.9" r="2.0"/><circle cx="149.5" cy="648.4" r="2.0"/><circle cx="153.9" cy="646.0" r="2.0"/><circle cx="158.3" cy="630.8" r="2.0"/><circle cx="162.8" cy="637.3" r="2.0"/><circle cx="167.2" cy="644.7" r="2.0"/><circle cx="171.6" cy="629.7" r="2.0"/><circle cx="176.0" cy="650.2" r="2.0"/><circle cx="184.8" cy="643.8" r="2.0"/><circle cx="189.2" cy="639.1" r="2.0"/><circle cx="193.6" cy="642.9" r="2.0"/><circle cx="198.0" cy="635.5" r="2.0"/><circle cx="202.4" cy="638.0" r="2.0"/><circle cx="206.8" cy="640.1" r="2.0"/><circle cx="211.3" cy="640.1" r="2.0"/><circle cx="215.7" cy="640.1" r="2.0"/><circle cx="220.1" cy="645.3" r="2.0"/><circle cx="224.5" cy="644.2" r="2.0"/><circle cx="228.9" cy="652.2" r="2.0"/><circle cx="233.3" cy="643.2" r="2.0"/><circle cx="237.7" cy="642.9" r="2.0"/><circle cx="242.1" cy="642.9" r="2.0"/><circle cx="246.5" cy="637.0" r="2.0"/><circle cx="251.0" cy="654.7" r="2.0"/><circle cx="255.4" cy="660.9" r="2.0"/><circle cx="259.8" cy="652.0" r="2.0"/><circle cx="264.2" cy="662.4" r="2.0"/><circle cx="268.6" cy="665.3" r="2.0"/><circle cx="273.0" cy="665.6" r="2.0"/><circle cx="277.4" cy="668.0" r="2.0"/><circle cx="281.8" cy="667.3" r="2.0"/><circle cx="290.6" cy="669.7" r="2.0"/><circle cx="295.1" cy="671.7" r="2.0"/><circle cx="303.9" cy="672.9" r="2.0"/><circle cx="312.7" cy="673.4" r="2.0"/><circle cx="317.1" cy="675.3" r="2.0"/><circle cx="321.5" cy="674.5" r="2.0"/><circle cx="325.9" cy="672.9" r="2.0"/><circle cx="330.3" cy="676.9" r="2.0"/><circle cx="334.7" cy="678.8" r="2.0"/></g>
<path d="M52.5 658.2V670.6M50.6 658.2h3.8M50.6 670.6h3.8M56.9 660.0V666.4M55.0 660.0h3.8M55.0 666.4h3.8M61.3 652.3V662.3M59.4 652.3h3.8M59.4 662.3h3.8M65.7 651.2V658.8M63.8 651.2h3.8M63.8 658.8h3.8M74.5 651.7V658.2M72.6 651.7h3.8M72.6 658.2h3.8M79.0 663.5V668.2M77.1 663.5h3.8M77.1 668.2h3.8M83.4 602.4V642.3M81.5 602.4h3.8M81.5 642.3h3.8M87.8 646.5V659.4M85.9 646.5h3.8M85.9 659.4h3.8M92.2 666.4V670.0M90.3 666.4h3.8M90.3 670.0h3.8M96.6 666.0V669.6M94.7 666.0h3.8M94.7 669.6h3.8M101.0 659.4V667.0M99.1 659.4h3.8M99.1 667.0h3.8M105.4 640.0V662.9M103.5 640.0h3.8M103.5 662.9h3.8M109.8 610.6V649.1M107.9 610.6h3.8M107.9 649.1h3.8M114.2 641.7V649.4M112.3 641.7h3.8M112.3 649.4h3.8M118.7 651.7V655.9M116.8 651.7h3.8M116.8 655.9h3.8M123.1 650.6V657.0M121.2 650.6h3.8M121.2 657.0h3.8M127.5 648.2V652.3M125.6 648.2h3.8M125.6 652.3h3.8M131.9 644.1V650.6M130.0 644.1h3.8M130.0 650.6h3.8M136.3 645.3V653.5M134.4 645.3h3.8M134.4 653.5h3.8M140.7 650.6V655.3M138.8 650.6h3.8M138.8 655.3h3.8M145.1 647.6V651.7M143.2 647.6h3.8M143.2 651.7h3.8M149.5 653.5V658.2M147.6 653.5h3.8M147.6 658.2h3.8M153.9 651.7V657.3M152.0 651.7h3.8M152.0 657.3h3.8M158.3 637.6V648.8M156.4 637.6h3.8M156.4 648.8h3.8M162.8 638.2V651.2M160.8 638.2h3.8M160.8 651.2h3.8M167.2 641.7V654.1M165.3 641.7h3.8M165.3 654.1h3.8M171.6 626.5V637.3M169.7 626.5h3.8M169.7 637.3h3.8M176.0 646.5V656.4M174.1 646.5h3.8M174.1 656.4h3.8M184.8 642.5V646.0M182.9 642.5h3.8M182.9 646.0h3.8M189.2 641.2V650.6M187.3 641.2h3.8M187.3 650.6h3.8M193.6 644.1V651.2M191.7 644.1h3.8M191.7 651.2h3.8M198.0 636.5V645.3M196.1 636.5h3.8M196.1 645.3h3.8M202.4 636.5V645.9M200.5 636.5h3.8M200.5 645.9h3.8M206.8 644.7V651.2M204.9 644.7h3.8M204.9 651.2h3.8M211.3 644.1V649.1M209.4 644.1h3.8M209.4 649.1h3.8M215.7 634.7V645.3M213.8 634.7h3.8M213.8 645.3h3.8M220.1 644.1V649.4M218.2 644.1h3.8M218.2 649.4h3.8M224.5 644.1V654.7M222.6 644.1h3.8M222.6 654.7h3.8M228.9 655.9V660.0M227.0 655.9h3.8M227.0 660.0h3.8M233.3 636.8V641.2M231.4 636.8h3.8M231.4 641.2h3.8M237.7 634.7V651.2M235.8 634.7h3.8M235.8 651.2h3.8M242.1 646.5V655.3M240.2 646.5h3.8M240.2 655.3h3.8M246.5 647.9V662.3M244.6 647.9h3.8M244.6 662.3h3.8M251.0 654.1V657.6M249.1 654.1h3.8M249.1 657.6h3.8M255.4 653.5V660.6M253.5 653.5h3.8M253.5 660.6h3.8M259.8 653.5V674.7M257.9 653.5h3.8M257.9 674.7h3.8M264.2 642.3V650.6M262.3 642.3h3.8M262.3 650.6h3.8M268.6 658.2V664.7M266.7 658.2h3.8M266.7 664.7h3.8M273.0 663.5V667.0M271.1 663.5h3.8M271.1 667.0h3.8M277.4 666.4V670.0M275.5 666.4h3.8M275.5 670.0h3.8M281.8 662.3V668.2M279.9 662.3h3.8M279.9 668.2h3.8M290.6 666.4V670.0M288.7 666.4h3.8M288.7 670.0h3.8M295.1 672.0V674.4M293.2 672.0h3.8M293.2 674.4h3.8M303.9 671.1V674.7M302.0 671.1h3.8M302.0 674.7h3.8M312.7 671.6V675.1M310.8 671.6h3.8M310.8 675.1h3.8M317.1 673.5V677.0M315.2 673.5h3.8M315.2 677.0h3.8M321.5 672.7V676.3M319.6 672.7h3.8M319.6 676.3h3.8M325.9 671.6V675.1M324.0 671.6h3.8M324.0 675.1h3.8M330.3 675.1V678.7M328.4 675.1h3.8M328.4 678.7h3.8M334.7 677.0V680.6M332.8 677.0h3.8M332.8 680.6h3.8" stroke="#ea7fa3" stroke-width="1" fill="none"/>
<g fill="#e06a95"><circle cx="52.5" cy="663.9" r="1.15"/><circle cx="56.9" cy="662.9" r="1.15"/><circle cx="61.3" cy="656.7" r="1.15"/><circle cx="65.7" cy="654.7" r="1.15"/><circle cx="74.5" cy="654.7" r="1.15"/><circle cx="79.0" cy="666.0" r="1.15"/><circle cx="83.4" cy="622.3" r="1.15"/><circle cx="87.8" cy="652.6" r="1.15"/><circle cx="92.2" cy="668.2" r="1.15"/><circle cx="96.6" cy="667.8" r="1.15"/><circle cx="101.0" cy="662.9" r="1.15"/><circle cx="105.4" cy="651.6" r="1.15"/><circle cx="109.8" cy="629.7" r="1.15"/><circle cx="114.2" cy="645.3" r="1.15"/><circle cx="118.7" cy="653.5" r="1.15"/><circle cx="123.1" cy="653.5" r="1.15"/><circle cx="127.5" cy="650.2" r="1.15"/><circle cx="131.9" cy="647.5" r="1.15"/><circle cx="136.3" cy="649.4" r="1.15"/><circle cx="140.7" cy="652.9" r="1.15"/><circle cx="145.1" cy="649.8" r="1.15"/><circle cx="149.5" cy="655.7" r="1.15"/><circle cx="153.9" cy="654.7" r="1.15"/><circle cx="158.3" cy="642.9" r="1.15"/><circle cx="162.8" cy="644.9" r="1.15"/><circle cx="167.2" cy="647.5" r="1.15"/><circle cx="171.6" cy="631.3" r="1.15"/><circle cx="176.0" cy="651.2" r="1.15"/><circle cx="184.8" cy="644.2" r="1.15"/><circle cx="189.2" cy="646.0" r="1.15"/><circle cx="193.6" cy="647.5" r="1.15"/><circle cx="198.0" cy="640.7" r="1.15"/><circle cx="202.4" cy="639.4" r="1.15"/><circle cx="206.8" cy="647.5" r="1.15"/><circle cx="211.3" cy="646.6" r="1.15"/><circle cx="215.7" cy="640.1" r="1.15"/><circle cx="220.1" cy="647.0" r="1.15"/><circle cx="224.5" cy="649.8" r="1.15"/><circle cx="228.9" cy="658.1" r="1.15"/><circle cx="233.3" cy="638.8" r="1.15"/><circle cx="237.7" cy="642.9" r="1.15"/><circle cx="242.1" cy="650.9" r="1.15"/><circle cx="246.5" cy="654.7" r="1.15"/><circle cx="251.0" cy="655.9" r="1.15"/><circle cx="255.4" cy="656.8" r="1.15"/><circle cx="259.8" cy="664.4" r="1.15"/><circle cx="264.2" cy="646.5" r="1.15"/><circle cx="268.6" cy="661.6" r="1.15"/><circle cx="273.0" cy="665.3" r="1.15"/><circle cx="277.4" cy="668.0" r="1.15"/><circle cx="281.8" cy="664.9" r="1.15"/><circle cx="290.6" cy="668.0" r="1.15"/><circle cx="295.1" cy="673.4" r="1.15"/><circle cx="303.9" cy="672.9" r="1.15"/><circle cx="312.7" cy="673.4" r="1.15"/><circle cx="317.1" cy="675.3" r="1.15"/><circle cx="321.5" cy="674.5" r="1.15"/><circle cx="325.9" cy="673.4" r="1.15"/><circle cx="330.3" cy="676.9" r="1.15"/><circle cx="334.7" cy="678.8" r="1.15"/></g>
</g>
<clipPath id="cr1"><rect x="400.4" y="600.0" width="285.5" height="88.2"/></clipPath>
<g clip-path="url(#cr1)">
<path d="M400.4 631.5V636.4M398.6 631.5h3.6M398.6 636.4h3.6M404.8 629.5V642.3M403.0 629.5h3.6M403.0 642.3h3.6M409.2 628.2V639.2M407.4 628.2h3.6M407.4 639.2h3.6M413.6 628.4V633.3M411.8 628.4h3.6M411.8 633.3h3.6M418.0 643.4V648.3M416.2 643.4h3.6M416.2 648.3h3.6M422.4 636.8V641.7M420.6 636.8h3.6M420.6 641.7h3.6M426.9 630.2V635.1M425.1 630.2h3.6M425.1 635.1h3.6M431.3 604.4V629.1M429.5 604.4h3.6M429.5 629.1h3.6M435.7 635.1V639.9M433.9 635.1h3.6M433.9 639.9h3.6M440.1 638.6V643.4M438.3 638.6h3.6M438.3 643.4h3.6M444.5 643.4V648.3M442.7 643.4h3.6M442.7 648.3h3.6M448.9 635.9V640.8M447.1 635.9h3.6M447.1 640.8h3.6M453.3 640.6V655.1M451.5 640.6h3.6M451.5 655.1h3.6M457.7 617.2V631.8M455.9 617.2h3.6M455.9 631.8h3.6M466.5 619.4V629.1M464.7 619.4h3.6M464.7 629.1h3.6M471.0 619.8V626.9M469.2 619.8h3.6M469.2 626.9h3.6M475.4 612.6V617.4M473.6 612.6h3.6M473.6 617.4h3.6M479.8 618.5V627.8M478.0 618.5h3.6M478.0 627.8h3.6M484.2 613.5V618.3M482.4 613.5h3.6M482.4 618.3h3.6M488.6 610.8V615.7M486.8 610.8h3.6M486.8 615.7h3.6M493.0 628.4V633.3M491.2 628.4h3.6M491.2 633.3h3.6M497.4 618.7V623.6M495.6 618.7h3.6M495.6 623.6h3.6M501.8 620.1V624.9M500.0 620.1h3.6M500.0 624.9h3.6M506.2 612.3V632.6M504.4 612.3h3.6M504.4 632.6h3.6M510.6 610.1V624.3M508.8 610.1h3.6M508.8 624.3h3.6M515.1 612.8V624.7M513.3 612.8h3.6M513.3 624.7h3.6M523.9 624.3V633.1M522.1 624.3h3.6M522.1 633.1h3.6M532.7 611.5V617.6M530.9 611.5h3.6M530.9 617.6h3.6M537.1 625.4V630.2M535.3 625.4h3.6M535.3 630.2h3.6M541.5 618.7V623.6M539.7 618.7h3.6M539.7 623.6h3.6M545.9 622.9V632.6M544.1 622.9h3.6M544.1 632.6h3.6M550.3 618.1V624.7M548.5 618.1h3.6M548.5 624.7h3.6M554.8 623.6V628.4M553.0 623.6h3.6M553.0 628.4h3.6M559.2 621.8V626.7M557.4 621.8h3.6M557.4 626.7h3.6M563.6 614.6V624.3M561.8 614.6h3.6M561.8 624.3h3.6M568.0 612.1V617.0M566.2 612.1h3.6M566.2 617.0h3.6M572.4 620.7V627.3M570.6 620.7h3.6M570.6 627.3h3.6M576.8 617.9V622.7M575.0 617.9h3.6M575.0 622.7h3.6M581.2 621.4V626.2M579.4 621.4h3.6M579.4 626.2h3.6M585.6 620.5V625.4M583.8 620.5h3.6M583.8 625.4h3.6M590.0 622.3V627.1M588.2 622.3h3.6M588.2 627.1h3.6M594.4 619.8V635.7M592.6 619.8h3.6M592.6 635.7h3.6M598.9 630.2V635.1M597.1 630.2h3.6M597.1 635.1h3.6M603.3 635.5V640.4M601.5 635.5h3.6M601.5 640.4h3.6M612.1 637.0V645.9M610.3 637.0h3.6M610.3 645.9h3.6M616.5 639.7V649.0M614.7 639.7h3.6M614.7 649.0h3.6M620.9 646.5V651.4M619.1 646.5h3.6M619.1 651.4h3.6M625.3 631.3V637.9M623.5 631.3h3.6M623.5 637.9h3.6M629.7 637.7V642.6M627.9 637.7h3.6M627.9 642.6h3.6M638.5 633.1V639.2M636.7 633.1h3.6M636.7 639.2h3.6M643.0 637.3V642.1M641.2 637.3h3.6M641.2 642.1h3.6M651.8 641.9V647.2M650.0 641.9h3.6M650.0 647.2h3.6M660.6 638.6V643.4M658.8 638.6h3.6M658.8 643.4h3.6M665.0 645.2V650.1M663.2 645.2h3.6M663.2 650.1h3.6M669.4 646.5V651.4M667.6 646.5h3.6M667.6 651.4h3.6M673.8 643.4V648.3M672.0 643.4h3.6M672.0 648.3h3.6M678.2 656.7V661.5M676.4 656.7h3.6M676.4 661.5h3.6M682.6 670.8V675.6M680.8 670.8h3.6M680.8 675.6h3.6" stroke="#a4a4a4" stroke-width="1" fill="none"/>
<g fill="#ababab"><circle cx="400.4" cy="634.0" r="2.0"/><circle cx="404.8" cy="635.7" r="2.0"/><circle cx="409.2" cy="633.5" r="2.0"/><circle cx="413.6" cy="630.9" r="2.0"/><circle cx="418.0" cy="645.9" r="2.0"/><circle cx="422.4" cy="639.2" r="2.0"/><circle cx="426.9" cy="632.6" r="2.0"/><circle cx="431.3" cy="616.8" r="2.0"/><circle cx="435.7" cy="637.5" r="2.0"/><circle cx="440.1" cy="641.0" r="2.0"/><circle cx="444.5" cy="645.9" r="2.0"/><circle cx="448.9" cy="638.4" r="2.0"/><circle cx="453.3" cy="647.6" r="2.0"/><circle cx="457.7" cy="624.3" r="2.0"/><circle cx="466.5" cy="624.3" r="2.0"/><circle cx="471.0" cy="623.8" r="2.0"/><circle cx="475.4" cy="615.0" r="2.0"/><circle cx="479.8" cy="622.5" r="2.0"/><circle cx="484.2" cy="615.9" r="2.0"/><circle cx="488.6" cy="613.2" r="2.0"/><circle cx="493.0" cy="630.9" r="2.0"/><circle cx="497.4" cy="621.2" r="2.0"/><circle cx="501.8" cy="622.5" r="2.0"/><circle cx="506.2" cy="622.5" r="2.0"/><circle cx="510.6" cy="616.8" r="2.0"/><circle cx="515.1" cy="619.0" r="2.0"/><circle cx="523.9" cy="628.2" r="2.0"/><circle cx="532.7" cy="614.6" r="2.0"/><circle cx="537.1" cy="627.8" r="2.0"/><circle cx="541.5" cy="621.2" r="2.0"/><circle cx="545.9" cy="627.3" r="2.0"/><circle cx="550.3" cy="621.2" r="2.0"/><circle cx="554.8" cy="626.0" r="2.0"/><circle cx="559.2" cy="624.3" r="2.0"/><circle cx="563.6" cy="619.4" r="2.0"/><circle cx="568.0" cy="614.6" r="2.0"/><circle cx="572.4" cy="623.8" r="2.0"/><circle cx="576.8" cy="620.3" r="2.0"/><circle cx="581.2" cy="623.8" r="2.0"/><circle cx="585.6" cy="622.9" r="2.0"/><circle cx="590.0" cy="624.7" r="2.0"/><circle cx="594.4" cy="627.8" r="2.0"/><circle cx="598.9" cy="632.6" r="2.0"/><circle cx="603.3" cy="637.9" r="2.0"/><circle cx="612.1" cy="641.5" r="2.0"/><circle cx="616.5" cy="644.5" r="2.0"/><circle cx="620.9" cy="649.0" r="2.0"/><circle cx="625.3" cy="634.4" r="2.0"/><circle cx="629.7" cy="640.1" r="2.0"/><circle cx="638.5" cy="636.2" r="2.0"/><circle cx="643.0" cy="639.7" r="2.0"/><circle cx="651.8" cy="644.5" r="2.0"/><circle cx="660.6" cy="641.0" r="2.0"/><circle cx="665.0" cy="647.6" r="2.0"/><circle cx="669.4" cy="649.0" r="2.0"/><circle cx="673.8" cy="645.9" r="2.0"/><circle cx="678.2" cy="659.1" r="2.0"/><circle cx="682.6" cy="673.2" r="2.0"/></g>
<path d="M400.4 630.0V666.2M398.5 630.0h3.8M398.5 666.2h3.8M404.8 600.0V629.1M402.9 600.0h3.8M402.9 629.1h3.8M409.2 634.4V655.1M407.3 634.4h3.8M407.3 655.1h3.8M413.6 626.5V646.3M411.7 626.5h3.8M411.7 646.3h3.8M418.0 642.3V649.4M416.1 642.3h3.8M416.1 649.4h3.8M422.4 634.8V653.4M420.6 634.8h3.8M420.6 653.4h3.8M426.9 641.5V657.3M425.0 641.5h3.8M425.0 657.3h3.8M431.3 622.9V681.6M429.4 622.9h3.8M429.4 681.6h3.8M435.7 600.0V627.8M433.8 600.0h3.8M433.8 627.8h3.8M440.1 627.3V648.5M438.2 627.3h3.8M438.2 648.5h3.8M444.5 625.1V645.9M442.6 625.1h3.8M442.6 645.9h3.8M448.9 626.5V643.7M447.0 626.5h3.8M447.0 643.7h3.8M457.7 600.0V688.2M455.8 600.0h3.8M455.8 688.2h3.8M466.5 611.9V636.2M464.6 611.9h3.8M464.6 636.2h3.8M471.0 620.7V637.5M469.1 620.7h3.8M469.1 637.5h3.8M475.4 610.6V626.5M473.5 610.6h3.8M473.5 626.5h3.8M479.8 600.0V617.6M477.9 600.0h3.8M477.9 617.6h3.8M484.2 619.4V634.4M482.3 619.4h3.8M482.3 634.4h3.8M488.6 609.7V624.3M486.7 609.7h3.8M486.7 624.3h3.8M493.0 613.2V629.5M491.1 613.2h3.8M491.1 629.5h3.8M497.4 615.9V632.6M495.5 615.9h3.8M495.5 632.6h3.8M501.8 615.9V629.1M499.9 615.9h3.8M499.9 629.1h3.8M506.2 624.7V641.5M504.3 624.7h3.8M504.3 641.5h3.8M510.6 600.0V639.7M508.8 600.0h3.8M508.8 639.7h3.8M519.5 636.6V664.4M517.6 636.6h3.8M517.6 664.4h3.8M523.9 618.5V633.1M522.0 618.5h3.8M522.0 633.1h3.8M532.7 609.7V624.3M530.8 609.7h3.8M530.8 624.3h3.8M537.1 619.0V638.4M535.2 619.0h3.8M535.2 638.4h3.8M541.5 602.6V624.7M539.6 602.6h3.8M539.6 624.7h3.8M545.9 628.2V641.9M544.0 628.2h3.8M544.0 641.9h3.8M550.3 623.4V635.3M548.4 623.4h3.8M548.4 635.3h3.8M554.8 612.3V628.2M552.9 612.3h3.8M552.9 628.2h3.8M559.2 612.3V626.9M557.3 612.3h3.8M557.3 626.9h3.8M563.6 628.7V641.9M561.7 628.7h3.8M561.7 641.9h3.8M568.0 617.2V632.6M566.1 617.2h3.8M566.1 632.6h3.8M572.4 601.3V620.7M570.5 601.3h3.8M570.5 620.7h3.8M576.8 609.7V624.7M574.9 609.7h3.8M574.9 624.7h3.8M581.2 615.9V632.6M579.3 615.9h3.8M579.3 632.6h3.8M585.6 608.8V627.8M583.7 608.8h3.8M583.7 627.8h3.8M590.0 611.5V632.6M588.1 611.5h3.8M588.1 632.6h3.8M598.9 615.9V633.1M597.0 615.9h3.8M597.0 633.1h3.8M603.3 625.6V642.8M601.4 625.6h3.8M601.4 642.8h3.8M607.7 600.0V688.2M605.8 600.0h3.8M605.8 688.2h3.8M612.1 600.0V629.5M610.2 600.0h3.8M610.2 629.5h3.8M616.5 600.0V643.2M614.6 600.0h3.8M614.6 643.2h3.8M620.9 639.7V665.3M619.0 639.7h3.8M619.0 665.3h3.8M625.3 647.2V663.9M623.4 647.2h3.8M623.4 663.9h3.8M629.7 637.5V656.0M627.8 637.5h3.8M627.8 656.0h3.8M638.5 647.2V663.5M636.6 647.2h3.8M636.6 663.5h3.8M643.0 624.3V641.0M641.1 624.3h3.8M641.1 641.0h3.8M651.8 641.9V651.2M649.9 641.9h3.8M649.9 651.2h3.8M660.6 643.2V653.4M658.7 643.2h3.8M658.7 653.4h3.8M665.0 645.9V656.9M663.1 645.9h3.8M663.1 656.9h3.8M669.4 652.5V661.3M667.5 652.5h3.8M667.5 661.3h3.8M673.8 642.8V649.0M671.9 642.8h3.8M671.9 649.0h3.8M678.2 651.2V660.9M676.3 651.2h3.8M676.3 660.9h3.8M682.6 670.6V682.0M680.7 670.6h3.8M680.7 682.0h3.8" stroke="#ea7fa3" stroke-width="1" fill="none"/>
<g fill="#e06a95"><circle cx="400.4" cy="647.6" r="1.15"/><circle cx="404.8" cy="612.8" r="1.15"/><circle cx="409.2" cy="644.5" r="1.15"/><circle cx="413.6" cy="635.7" r="1.15"/><circle cx="418.0" cy="645.4" r="1.15"/><circle cx="422.4" cy="643.7" r="1.15"/><circle cx="426.9" cy="649.8" r="1.15"/><circle cx="431.3" cy="652.5" r="1.15"/><circle cx="435.7" cy="611.0" r="1.15"/><circle cx="440.1" cy="637.9" r="1.15"/><circle cx="444.5" cy="635.7" r="1.15"/><circle cx="448.9" cy="634.4" r="1.15"/><circle cx="457.7" cy="620.7" r="1.15"/><circle cx="466.5" cy="624.3" r="1.15"/><circle cx="471.0" cy="629.1" r="1.15"/><circle cx="475.4" cy="618.5" r="1.15"/><circle cx="479.8" cy="602.6" r="1.15"/><circle cx="484.2" cy="626.9" r="1.15"/><circle cx="488.6" cy="616.8" r="1.15"/><circle cx="493.0" cy="621.2" r="1.15"/><circle cx="497.4" cy="624.3" r="1.15"/><circle cx="501.8" cy="622.5" r="1.15"/><circle cx="506.2" cy="632.6" r="1.15"/><circle cx="510.6" cy="619.4" r="1.15"/><circle cx="519.5" cy="650.7" r="1.15"/><circle cx="523.9" cy="626.0" r="1.15"/><circle cx="532.7" cy="616.8" r="1.15"/><circle cx="537.1" cy="628.2" r="1.15"/><circle cx="541.5" cy="613.2" r="1.15"/><circle cx="545.9" cy="635.3" r="1.15"/><circle cx="550.3" cy="629.5" r="1.15"/><circle cx="554.8" cy="619.8" r="1.15"/><circle cx="559.2" cy="619.4" r="1.15"/><circle cx="563.6" cy="635.3" r="1.15"/><circle cx="568.0" cy="624.7" r="1.15"/><circle cx="572.4" cy="611.0" r="1.15"/><circle cx="576.8" cy="616.8" r="1.15"/><circle cx="581.2" cy="623.8" r="1.15"/><circle cx="585.6" cy="617.6" r="1.15"/><circle cx="590.0" cy="622.5" r="1.15"/><circle cx="598.9" cy="624.7" r="1.15"/><circle cx="603.3" cy="634.0" r="1.15"/><circle cx="607.7" cy="664.4" r="1.15"/><circle cx="612.1" cy="603.5" r="1.15"/><circle cx="616.5" cy="613.7" r="1.15"/><circle cx="620.9" cy="652.0" r="1.15"/><circle cx="625.3" cy="655.1" r="1.15"/><circle cx="629.7" cy="646.7" r="1.15"/><circle cx="638.5" cy="655.1" r="1.15"/><circle cx="643.0" cy="632.6" r="1.15"/><circle cx="651.8" cy="645.9" r="1.15"/><circle cx="660.6" cy="648.5" r="1.15"/><circle cx="665.0" cy="651.2" r="1.15"/><circle cx="669.4" cy="656.9" r="1.15"/><circle cx="673.8" cy="645.9" r="1.15"/><circle cx="678.2" cy="656.0" r="1.15"/><circle cx="682.6" cy="676.3" r="1.15"/></g>
</g>
<clipPath id="cl2"><rect x="52.5" y="765.8" width="285.5" height="88.2"/></clipPath>
<g clip-path="url(#cl2)">
<path d="M52.5 827.3V832.0M50.7 827.3h3.6M50.7 832.0h3.6M56.9 823.1V827.8M55.1 823.1h3.6M55.1 827.8h3.6M61.3 820.8V825.5M59.5 820.8h3.6M59.5 825.5h3.6M65.7 820.4V825.1M63.9 820.4h3.6M63.9 825.1h3.6M70.1 836.4V841.1M68.3 836.4h3.6M68.3 841.1h3.6M74.5 820.8V825.5M72.8 820.8h3.6M72.8 825.5h3.6M79.0 826.0V830.7M77.2 826.0h3.6M77.2 830.7h3.6M83.4 797.6V807.0M81.6 797.6h3.6M81.6 807.0h3.6M87.8 814.8V819.5M86.0 814.8h3.6M86.0 819.5h3.6M92.2 831.5V836.2M90.4 831.5h3.6M90.4 836.2h3.6M96.6 831.5V836.2M94.8 831.5h3.6M94.8 836.2h3.6M101.0 827.3V832.0M99.2 827.3h3.6M99.2 832.0h3.6M105.4 798.1V804.0M103.6 798.1h3.6M103.6 804.0h3.6M109.8 802.3V808.1M108.0 802.3h3.6M108.0 808.1h3.6M114.2 805.8V810.5M112.4 805.8h3.6M112.4 810.5h3.6M118.7 810.7V815.4M116.9 810.7h3.6M116.9 815.4h3.6M123.1 804.2V808.9M121.3 804.2h3.6M121.3 808.9h3.6M127.5 806.5V811.3M125.7 806.5h3.6M125.7 811.3h3.6M131.9 800.5V807.5M130.1 800.5h3.6M130.1 807.5h3.6M136.3 809.7V814.4M134.5 809.7h3.6M134.5 814.4h3.6M140.7 811.1V815.8M138.9 811.1h3.6M138.9 815.8h3.6M145.1 805.2V809.9M143.3 805.2h3.6M143.3 809.9h3.6M149.5 811.4V816.1M147.7 811.4h3.6M147.7 816.1h3.6M153.9 809.7V814.4M152.1 809.7h3.6M152.1 814.4h3.6M158.3 793.4V799.9M156.5 793.4h3.6M156.5 799.9h3.6M162.8 795.8V811.1M160.9 795.8h3.6M160.9 811.1h3.6M167.2 807.9V812.6M165.4 807.9h3.6M165.4 812.6h3.6M171.6 793.1V797.8M169.8 793.1h3.6M169.8 797.8h3.6M176.0 813.9V818.6M174.2 813.9h3.6M174.2 818.6h3.6M184.8 807.2V811.9M183.0 807.2h3.6M183.0 811.9h3.6M189.2 803.0V807.7M187.4 803.0h3.6M187.4 807.7h3.6M193.6 806.5V811.3M191.8 806.5h3.6M191.8 811.3h3.6M198.0 797.6V804.6M196.2 797.6h3.6M196.2 804.6h3.6M202.4 802.0V806.7M200.6 802.0h3.6M200.6 806.7h3.6M206.8 803.7V808.4M205.0 803.7h3.6M205.0 808.4h3.6M211.3 803.0V807.7M209.5 803.0h3.6M209.5 807.7h3.6M215.7 803.7V808.4M213.9 803.7h3.6M213.9 808.4h3.6M220.1 807.9V812.6M218.3 807.9h3.6M218.3 812.6h3.6M224.5 807.9V812.6M222.7 807.9h3.6M222.7 812.6h3.6M228.9 815.8V820.5M227.1 815.8h3.6M227.1 820.5h3.6M233.3 807.5V812.3M231.5 807.5h3.6M231.5 812.3h3.6M237.7 805.2V812.8M235.9 805.2h3.6M235.9 812.8h3.6M242.1 805.8V812.3M240.3 805.8h3.6M240.3 812.3h3.6M246.5 800.5V806.4M244.7 800.5h3.6M244.7 806.4h3.6M251.0 818.1V822.8M249.2 818.1h3.6M249.2 822.8h3.6M255.4 824.5V829.2M253.6 824.5h3.6M253.6 829.2h3.6M259.8 808.7V827.0M258.0 808.7h3.6M258.0 827.0h3.6M264.2 825.8V830.5M262.4 825.8h3.6M262.4 830.5h3.6M268.6 829.0V833.7M266.8 829.0h3.6M266.8 833.7h3.6M273.0 829.0V833.7M271.2 829.0h3.6M271.2 833.7h3.6M277.4 831.7V836.4M275.6 831.7h3.6M275.6 836.4h3.6M281.8 831.2V835.9M280.0 831.2h3.6M280.0 835.9h3.6M290.6 832.8V837.5M288.8 832.8h3.6M288.8 837.5h3.6M295.1 835.4V840.1M293.2 835.4h3.6M293.2 840.1h3.6M303.9 836.5V841.2M302.1 836.5h3.6M302.1 841.2h3.6M312.7 837.0V841.7M310.9 837.0h3.6M310.9 841.7h3.6M317.1 838.7V843.4M315.3 838.7h3.6M315.3 843.4h3.6M321.5 838.1V842.8M319.7 838.1h3.6M319.7 842.8h3.6M325.9 836.5V841.2M324.1 836.5h3.6M324.1 841.2h3.6M330.3 840.5V845.2M328.5 840.5h3.6M328.5 845.2h3.6M334.7 842.5V847.2M332.9 842.5h3.6M332.9 847.2h3.6" stroke="#a4a4a4" stroke-width="1" fill="none"/>
<g fill="#ababab"><circle cx="52.5" cy="829.7" r="2.0"/><circle cx="56.9" cy="825.5" r="2.0"/><circle cx="61.3" cy="823.1" r="2.0"/><circle cx="65.7" cy="822.7" r="2.0"/><circle cx="70.1" cy="838.7" r="2.0"/><circle cx="74.5" cy="823.1" r="2.0"/><circle cx="79.0" cy="828.3" r="2.0"/><circle cx="83.4" cy="802.6" r="2.0"/><circle cx="87.8" cy="817.2" r="2.0"/><circle cx="92.2" cy="833.8" r="2.0"/><circle cx="96.6" cy="833.8" r="2.0"/><circle cx="101.0" cy="829.7" r="2.0"/><circle cx="105.4" cy="801.1" r="2.0"/><circle cx="109.8" cy="805.2" r="2.0"/><circle cx="114.2" cy="808.1" r="2.0"/><circle cx="118.7" cy="813.1" r="2.0"/><circle cx="123.1" cy="806.5" r="2.0"/><circle cx="127.5" cy="808.9" r="2.0"/><circle cx="131.9" cy="804.0" r="2.0"/><circle cx="136.3" cy="812.1" r="2.0"/><circle cx="140.7" cy="813.4" r="2.0"/><circle cx="145.1" cy="807.5" r="2.0"/><circle cx="149.5" cy="813.7" r="2.0"/><circle cx="153.9" cy="812.1" r="2.0"/><circle cx="158.3" cy="796.8" r="2.0"/><circle cx="162.8" cy="803.3" r="2.0"/><circle cx="167.2" cy="810.3" r="2.0"/><circle cx="171.6" cy="795.4" r="2.0"/><circle cx="176.0" cy="816.3" r="2.0"/><circle cx="184.8" cy="809.5" r="2.0"/><circle cx="189.2" cy="805.4" r="2.0"/><circle cx="193.6" cy="808.9" r="2.0"/><circle cx="198.0" cy="801.3" r="2.0"/><circle cx="202.4" cy="804.3" r="2.0"/><circle cx="206.8" cy="806.1" r="2.0"/><circle cx="211.3" cy="805.4" r="2.0"/><circle cx="215.7" cy="806.1" r="2.0"/><circle cx="220.1" cy="810.3" r="2.0"/><circle cx="224.5" cy="810.3" r="2.0"/><circle cx="228.9" cy="818.1" r="2.0"/><circle cx="233.3" cy="809.9" r="2.0"/><circle cx="237.7" cy="808.8" r="2.0"/><circle cx="242.1" cy="808.8" r="2.0"/><circle cx="246.5" cy="803.5" r="2.0"/><circle cx="251.0" cy="820.4" r="2.0"/><circle cx="255.4" cy="826.8" r="2.0"/><circle cx="259.8" cy="818.0" r="2.0"/><circle cx="264.2" cy="828.1" r="2.0"/><circle cx="268.6" cy="831.4" r="2.0"/><circle cx="273.0" cy="831.4" r="2.0"/><circle cx="277.4" cy="834.1" r="2.0"/><circle cx="281.8" cy="833.6" r="2.0"/><circle cx="290.6" cy="835.2" r="2.0"/><circle cx="295.1" cy="837.8" r="2.0"/><circle cx="303.9" cy="838.9" r="2.0"/><circle cx="312.7" cy="839.4" r="2.0"/><circle cx="317.1" cy="841.0" r="2.0"/><circle cx="321.5" cy="840.5" r="2.0"/><circle cx="325.9" cy="838.9" r="2.0"/><circle cx="330.3" cy="842.9" r="2.0"/><circle cx="334.7" cy="844.8" r="2.0"/></g>
<path d="M52.5 823.4V835.2M50.6 823.4h3.8M50.6 835.2h3.8M56.9 817.5V824.6M55.0 817.5h3.8M55.0 824.6h3.8M61.3 818.1V829.3M59.4 818.1h3.8M59.4 829.3h3.8M65.7 824.6V831.7M63.8 824.6h3.8M63.8 831.7h3.8M74.5 800.5V823.4M72.6 800.5h3.8M72.6 823.4h3.8M79.0 825.2V830.5M77.1 825.2h3.8M77.1 830.5h3.8M83.4 777.6V817.5M81.5 777.6h3.8M81.5 817.5h3.8M87.8 809.3V828.1M85.9 809.3h3.8M85.9 828.1h3.8M92.2 830.5V836.7M90.3 830.5h3.8M90.3 836.7h3.8M96.6 830.5V835.2M94.7 830.5h3.8M94.7 835.2h3.8M101.0 819.9V832.8M99.1 819.9h3.8M99.1 832.8h3.8M105.4 765.8V854.0M103.5 765.8h3.8M103.5 854.0h3.8M114.2 805.2V820.5M112.3 805.2h3.8M112.3 820.5h3.8M118.7 803.4V813.4M116.8 803.4h3.8M116.8 813.4h3.8M123.1 803.4V808.7M121.2 803.4h3.8M121.2 808.7h3.8M127.5 792.8V818.1M125.6 792.8h3.8M125.6 818.1h3.8M131.9 805.8V820.5M130.0 805.8h3.8M130.0 820.5h3.8M136.3 809.9V814.6M134.4 809.9h3.8M134.4 814.6h3.8M140.7 803.4V816.4M138.8 803.4h3.8M138.8 816.4h3.8M145.1 807.5V814.0M143.2 807.5h3.8M143.2 814.0h3.8M149.5 801.7V815.8M147.6 801.7h3.8M147.6 815.8h3.8M153.9 816.4V822.2M152.0 816.4h3.8M152.0 822.2h3.8M158.3 799.9V807.5M156.4 799.9h3.8M156.4 807.5h3.8M162.8 787.6V813.4M160.8 787.6h3.8M160.8 813.4h3.8M167.2 801.7V816.4M165.3 801.7h3.8M165.3 816.4h3.8M171.6 765.8V798.1M169.7 765.8h3.8M169.7 798.1h3.8M176.0 812.8V821.7M174.1 812.8h3.8M174.1 821.7h3.8M184.8 808.7V815.2M182.9 808.7h3.8M182.9 815.2h3.8M189.2 812.8V822.8M187.3 812.8h3.8M187.3 822.8h3.8M193.6 800.5V809.3M191.7 800.5h3.8M191.7 809.3h3.8M198.0 804.3V813.4M196.1 804.3h3.8M196.1 813.4h3.8M202.4 793.4V807.5M200.5 793.4h3.8M200.5 807.5h3.8M206.8 811.7V816.4M204.9 811.7h3.8M204.9 816.4h3.8M211.3 798.7V809.3M209.4 798.7h3.8M209.4 809.3h3.8M215.7 811.1V815.8M213.8 811.1h3.8M213.8 815.8h3.8M220.1 800.5V808.7M218.2 800.5h3.8M218.2 808.7h3.8M224.5 815.8V820.5M222.6 815.8h3.8M222.6 820.5h3.8M228.9 819.3V822.8M227.0 819.3h3.8M227.0 822.8h3.8M233.3 812.3V815.2M231.4 812.3h3.8M231.4 815.2h3.8M237.7 811.1V823.4M235.8 811.1h3.8M235.8 823.4h3.8M242.1 779.3V798.1M240.2 779.3h3.8M240.2 798.1h3.8M246.5 797.6V834.6M244.6 797.6h3.8M244.6 834.6h3.8M251.0 816.4V822.2M249.1 816.4h3.8M249.1 822.2h3.8M255.4 813.4V820.5M253.5 813.4h3.8M253.5 820.5h3.8M259.8 765.8V827.0M257.9 765.8h3.8M257.9 827.0h3.8M264.2 788.7V805.2M262.3 788.7h3.8M262.3 805.2h3.8M268.6 818.7V824.6M266.7 818.7h3.8M266.7 824.6h3.8M273.0 808.1V818.7M271.1 808.1h3.8M271.1 818.7h3.8M277.4 809.9V831.7M275.5 809.9h3.8M275.5 831.7h3.8M281.8 828.7V838.1M279.9 828.7h3.8M279.9 838.1h3.8M290.6 831.1V836.9M288.7 831.1h3.8M288.7 836.9h3.8M295.1 831.7V836.4M293.2 831.7h3.8M293.2 836.4h3.8M303.9 837.6V841.1M302.0 837.6h3.8M302.0 841.1h3.8M312.7 837.6V841.1M310.8 837.6h3.8M310.8 841.1h3.8M317.1 839.5V843.1M315.2 839.5h3.8M315.2 843.1h3.8M321.5 838.7V842.2M319.6 838.7h3.8M319.6 842.2h3.8M325.9 837.1V840.7M324.0 837.1h3.8M324.0 840.7h3.8M330.3 841.1V844.7M328.4 841.1h3.8M328.4 844.7h3.8M334.7 843.1V846.6M332.8 843.1h3.8M332.8 846.6h3.8" stroke="#ea7fa3" stroke-width="1" fill="none"/>
<g fill="#e06a95"><circle cx="52.5" cy="829.3" r="1.15"/><circle cx="56.9" cy="821.0" r="1.15"/><circle cx="61.3" cy="823.4" r="1.15"/><circle cx="65.7" cy="828.3" r="1.15"/><circle cx="74.5" cy="812.1" r="1.15"/><circle cx="79.0" cy="827.9" r="1.15"/><circle cx="83.4" cy="797.4" r="1.15"/><circle cx="87.8" cy="818.1" r="1.15"/><circle cx="92.2" cy="833.8" r="1.15"/><circle cx="96.6" cy="832.4" r="1.15"/><circle cx="101.0" cy="825.5" r="1.15"/><circle cx="105.4" cy="786.0" r="1.15"/><circle cx="114.2" cy="812.6" r="1.15"/><circle cx="118.7" cy="808.5" r="1.15"/><circle cx="123.1" cy="806.1" r="1.15"/><circle cx="127.5" cy="806.5" r="1.15"/><circle cx="131.9" cy="813.0" r="1.15"/><circle cx="136.3" cy="811.7" r="1.15"/><circle cx="140.7" cy="810.3" r="1.15"/><circle cx="145.1" cy="810.3" r="1.15"/><circle cx="149.5" cy="808.4" r="1.15"/><circle cx="153.9" cy="820.0" r="1.15"/><circle cx="158.3" cy="803.3" r="1.15"/><circle cx="162.8" cy="800.1" r="1.15"/><circle cx="167.2" cy="810.3" r="1.15"/><circle cx="171.6" cy="779.9" r="1.15"/><circle cx="176.0" cy="816.8" r="1.15"/><circle cx="184.8" cy="811.2" r="1.15"/><circle cx="189.2" cy="817.9" r="1.15"/><circle cx="193.6" cy="805.2" r="1.15"/><circle cx="198.0" cy="808.4" r="1.15"/><circle cx="202.4" cy="801.3" r="1.15"/><circle cx="206.8" cy="814.0" r="1.15"/><circle cx="211.3" cy="805.2" r="1.15"/><circle cx="215.7" cy="813.0" r="1.15"/><circle cx="220.1" cy="804.3" r="1.15"/><circle cx="224.5" cy="817.9" r="1.15"/><circle cx="228.9" cy="821.0" r="1.15"/><circle cx="233.3" cy="813.7" r="1.15"/><circle cx="237.7" cy="817.2" r="1.15"/><circle cx="242.1" cy="788.7" r="1.15"/><circle cx="246.5" cy="815.9" r="1.15"/><circle cx="251.0" cy="819.1" r="1.15"/><circle cx="255.4" cy="816.9" r="1.15"/><circle cx="259.8" cy="792.8" r="1.15"/><circle cx="264.2" cy="796.7" r="1.15"/><circle cx="268.6" cy="821.7" r="1.15"/><circle cx="273.0" cy="813.7" r="1.15"/><circle cx="277.4" cy="820.7" r="1.15"/><circle cx="281.8" cy="833.6" r="1.15"/><circle cx="290.6" cy="834.1" r="1.15"/><circle cx="295.1" cy="834.1" r="1.15"/><circle cx="303.9" cy="839.4" r="1.15"/><circle cx="312.7" cy="839.4" r="1.15"/><circle cx="317.1" cy="841.3" r="1.15"/><circle cx="321.5" cy="840.5" r="1.15"/><circle cx="325.9" cy="838.9" r="1.15"/><circle cx="330.3" cy="842.9" r="1.15"/><circle cx="334.7" cy="844.8" r="1.15"/></g>
</g>
<clipPath id="cr2"><rect x="400.4" y="765.8" width="285.5" height="88.2"/></clipPath>
<g clip-path="url(#cr2)">
<path d="M400.4 797.8V802.6M398.6 797.8h3.6M398.6 802.6h3.6M404.8 795.8V808.1M403.0 795.8h3.6M403.0 808.1h3.6M409.2 794.5V805.0M407.4 794.5h3.6M407.4 805.0h3.6M413.6 792.7V801.1M411.8 792.7h3.6M411.8 801.1h3.6M418.0 809.2V814.1M416.2 809.2h3.6M416.2 814.1h3.6M422.4 801.1V809.0M420.6 801.1h3.6M420.6 809.0h3.6M426.9 796.0V800.9M425.1 796.0h3.6M425.1 800.9h3.6M431.3 770.2V794.9M429.5 770.2h3.6M429.5 794.9h3.6M435.7 798.4V808.1M433.9 798.4h3.6M433.9 808.1h3.6M440.1 803.3V810.3M438.3 803.3h3.6M438.3 810.3h3.6M444.5 809.0V815.2M442.7 809.0h3.6M442.7 815.2h3.6M448.9 800.6V807.7M447.1 800.6h3.6M447.1 807.7h3.6M453.3 805.9V821.4M451.5 805.9h3.6M451.5 821.4h3.6M457.7 783.0V797.1M455.9 783.0h3.6M455.9 797.1h3.6M466.5 785.2V794.9M464.7 785.2h3.6M464.7 794.9h3.6M471.0 785.6V793.1M469.2 785.6h3.6M469.2 793.1h3.6M475.4 778.1V783.0M473.6 778.1h3.6M473.6 783.0h3.6M479.8 783.4V793.6M478.0 783.4h3.6M478.0 793.6h3.6M484.2 779.3V784.1M482.4 779.3h3.6M482.4 784.1h3.6M488.6 775.1V782.1M486.8 775.1h3.6M486.8 782.1h3.6M493.0 794.2V799.1M491.2 794.2h3.6M491.2 799.1h3.6M497.4 783.4V790.9M495.6 783.4h3.6M495.6 790.9h3.6M501.8 785.9V790.7M500.0 785.9h3.6M500.0 790.7h3.6M506.2 785.9V790.7M504.4 785.9h3.6M504.4 790.7h3.6M510.6 775.5V790.1M508.8 775.5h3.6M508.8 790.1h3.6M515.1 779.0V790.9M513.3 779.0h3.6M513.3 790.9h3.6M523.9 790.1V798.4M522.1 790.1h3.6M522.1 798.4h3.6M532.7 775.5V783.9M530.9 775.5h3.6M530.9 783.9h3.6M537.1 787.9V798.4M535.3 787.9h3.6M535.3 798.4h3.6M541.5 783.4V790.9M539.7 783.4h3.6M539.7 790.9h3.6M545.9 788.7V798.4M544.1 788.7h3.6M544.1 798.4h3.6M550.3 783.4V790.9M548.5 783.4h3.6M548.5 790.9h3.6M554.8 788.3V797.6M553.0 788.3h3.6M553.0 797.6h3.6M559.2 788.1V792.9M557.4 788.1h3.6M557.4 792.9h3.6M563.6 780.4V789.2M561.8 780.4h3.6M561.8 789.2h3.6M568.0 777.9V782.8M566.2 777.9h3.6M566.2 782.8h3.6M572.4 787.6V792.5M570.6 787.6h3.6M570.6 792.5h3.6M576.8 784.1V789.0M575.0 784.1h3.6M575.0 789.0h3.6M581.2 787.2V792.0M579.4 787.2h3.6M579.4 792.0h3.6M585.6 783.0V793.6M583.8 783.0h3.6M583.8 793.6h3.6M590.0 783.4V797.1M588.2 783.4h3.6M588.2 797.1h3.6M594.4 786.1V801.1M592.6 786.1h3.6M592.6 801.1h3.6M598.9 796.0V800.9M597.1 796.0h3.6M597.1 800.9h3.6M603.3 801.5V807.3M601.5 801.5h3.6M601.5 807.3h3.6M612.1 803.3V811.7M610.3 803.3h3.6M610.3 811.7h3.6M616.5 807.3V813.4M614.7 807.3h3.6M614.7 813.4h3.6M620.9 811.7V817.4M619.1 811.7h3.6M619.1 817.4h3.6M625.3 797.1V803.7M623.5 797.1h3.6M623.5 803.7h3.6M629.7 803.3V809.5M627.9 803.3h3.6M627.9 809.5h3.6M638.5 799.3V805.0M636.7 799.3h3.6M636.7 805.0h3.6M643.0 801.5V807.7M641.2 801.5h3.6M641.2 807.7h3.6M651.8 808.6V811.7M650.0 808.6h3.6M650.0 811.7h3.6M660.6 804.6V810.8M658.8 804.6h3.6M658.8 810.8h3.6M665.0 811.0V815.9M663.2 811.0h3.6M663.2 815.9h3.6M669.4 811.2V817.4M667.6 811.2h3.6M667.6 817.4h3.6M673.8 808.8V813.6M672.0 808.8h3.6M672.0 813.6h3.6M678.2 822.5V827.3M676.4 822.5h3.6M676.4 827.3h3.6M682.6 836.6V841.4M680.8 836.6h3.6M680.8 841.4h3.6" stroke="#a4a4a4" stroke-width="1" fill="none"/>
<g fill="#ababab"><circle cx="400.4" cy="800.2" r="2.0"/><circle cx="404.8" cy="802.0" r="2.0"/><circle cx="409.2" cy="799.8" r="2.0"/><circle cx="413.6" cy="796.7" r="2.0"/><circle cx="418.0" cy="811.7" r="2.0"/><circle cx="422.4" cy="805.0" r="2.0"/><circle cx="426.9" cy="798.4" r="2.0"/><circle cx="431.3" cy="783.0" r="2.0"/><circle cx="435.7" cy="803.3" r="2.0"/><circle cx="440.1" cy="807.3" r="2.0"/><circle cx="444.5" cy="811.7" r="2.0"/><circle cx="448.9" cy="804.2" r="2.0"/><circle cx="453.3" cy="813.4" r="2.0"/><circle cx="457.7" cy="790.1" r="2.0"/><circle cx="466.5" cy="790.1" r="2.0"/><circle cx="471.0" cy="789.2" r="2.0"/><circle cx="475.4" cy="780.8" r="2.0"/><circle cx="479.8" cy="788.3" r="2.0"/><circle cx="484.2" cy="781.7" r="2.0"/><circle cx="488.6" cy="778.6" r="2.0"/><circle cx="493.0" cy="796.7" r="2.0"/><circle cx="497.4" cy="787.0" r="2.0"/><circle cx="501.8" cy="788.3" r="2.0"/><circle cx="506.2" cy="788.3" r="2.0"/><circle cx="510.6" cy="783.0" r="2.0"/><circle cx="515.1" cy="784.8" r="2.0"/><circle cx="523.9" cy="794.5" r="2.0"/><circle cx="532.7" cy="780.4" r="2.0"/><circle cx="537.1" cy="793.1" r="2.0"/><circle cx="541.5" cy="787.4" r="2.0"/><circle cx="545.9" cy="793.6" r="2.0"/><circle cx="550.3" cy="787.0" r="2.0"/><circle cx="554.8" cy="792.3" r="2.0"/><circle cx="559.2" cy="790.5" r="2.0"/><circle cx="563.6" cy="784.8" r="2.0"/><circle cx="568.0" cy="780.4" r="2.0"/><circle cx="572.4" cy="790.1" r="2.0"/><circle cx="576.8" cy="786.5" r="2.0"/><circle cx="581.2" cy="789.6" r="2.0"/><circle cx="585.6" cy="788.3" r="2.0"/><circle cx="590.0" cy="790.5" r="2.0"/><circle cx="594.4" cy="793.6" r="2.0"/><circle cx="598.9" cy="798.4" r="2.0"/><circle cx="603.3" cy="804.6" r="2.0"/><circle cx="612.1" cy="807.7" r="2.0"/><circle cx="616.5" cy="809.9" r="2.0"/><circle cx="620.9" cy="814.3" r="2.0"/><circle cx="625.3" cy="800.2" r="2.0"/><circle cx="629.7" cy="806.4" r="2.0"/><circle cx="638.5" cy="802.0" r="2.0"/><circle cx="643.0" cy="804.6" r="2.0"/><circle cx="651.8" cy="810.3" r="2.0"/><circle cx="660.6" cy="807.7" r="2.0"/><circle cx="665.0" cy="813.4" r="2.0"/><circle cx="669.4" cy="814.3" r="2.0"/><circle cx="673.8" cy="811.2" r="2.0"/><circle cx="678.2" cy="824.9" r="2.0"/><circle cx="682.6" cy="839.0" r="2.0"/></g>
<path d="M404.8 817.8V849.6M402.9 817.8h3.8M402.9 849.6h3.8M409.2 808.1V854.0M407.3 808.1h3.8M407.3 854.0h3.8M413.6 800.6V824.9M411.7 800.6h3.8M411.7 824.9h3.8M418.0 817.4V825.8M416.1 817.4h3.8M416.1 825.8h3.8M422.4 765.8V801.1M420.6 765.8h3.8M420.6 801.1h3.8M426.9 813.4V828.9M425.0 813.4h3.8M425.0 828.9h3.8M435.7 765.8V803.3M433.8 765.8h3.8M433.8 803.3h3.8M440.1 802.4V824.5M438.2 802.4h3.8M438.2 824.5h3.8M444.5 796.2V821.4M442.6 796.2h3.8M442.6 821.4h3.8M448.9 779.0V830.6M447.0 779.0h3.8M447.0 830.6h3.8M457.7 800.2V844.3M455.8 800.2h3.8M455.8 844.3h3.8M466.5 768.4V797.6M464.6 768.4h3.8M464.6 797.6h3.8M471.0 776.4V797.6M469.1 776.4h3.8M469.1 797.6h3.8M475.4 775.1V794.0M473.5 775.1h3.8M473.5 794.0h3.8M484.2 783.0V799.3M482.3 783.0h3.8M482.3 799.3h3.8M488.6 766.2V787.4M486.7 766.2h3.8M486.7 787.4h3.8M493.0 786.5V814.3M491.1 786.5h3.8M491.1 814.3h3.8M501.8 779.0V794.5M499.9 779.0h3.8M499.9 794.5h3.8M506.2 765.8V816.5M504.3 765.8h3.8M504.3 816.5h3.8M515.1 765.8V798.4M513.2 765.8h3.8M513.2 798.4h3.8M519.5 765.8V819.2M517.6 765.8h3.8M517.6 819.2h3.8M523.9 804.6V819.2M522.0 804.6h3.8M522.0 819.2h3.8M532.7 775.5V793.6M530.8 775.5h3.8M530.8 793.6h3.8M537.1 765.8V793.1M535.2 765.8h3.8M535.2 793.1h3.8M541.5 765.8V790.9M539.6 765.8h3.8M539.6 790.9h3.8M545.9 776.4V802.4M544.0 776.4h3.8M544.0 802.4h3.8M550.3 768.9V787.4M548.4 768.9h3.8M548.4 787.4h3.8M554.8 775.5V797.6M552.9 775.5h3.8M552.9 797.6h3.8M559.2 784.3V798.4M557.3 784.3h3.8M557.3 798.4h3.8M568.0 779.0V795.8M566.1 779.0h3.8M566.1 795.8h3.8M572.4 770.7V794.5M570.5 770.7h3.8M570.5 794.5h3.8M576.8 786.1V800.2M574.9 786.1h3.8M574.9 800.2h3.8M581.2 776.4V794.9M579.3 776.4h3.8M579.3 794.9h3.8M598.9 771.1V795.3M597.0 771.1h3.8M597.0 795.3h3.8M603.3 765.8V792.3M601.4 765.8h3.8M601.4 792.3h3.8M607.7 775.5V854.0M605.8 775.5h3.8M605.8 854.0h3.8M612.1 788.3V833.7M610.2 788.3h3.8M610.2 833.7h3.8M616.5 765.8V805.5M614.6 765.8h3.8M614.6 805.5h3.8M625.3 787.4V813.4M623.4 787.4h3.8M623.4 813.4h3.8M629.7 801.5V816.5M627.8 801.5h3.8M627.8 816.5h3.8M638.5 807.3V843.0M636.6 807.3h3.8M636.6 843.0h3.8M643.0 791.4V811.2M641.1 791.4h3.8M641.1 811.2h3.8M651.8 814.3V825.8M649.9 814.3h3.8M649.9 825.8h3.8M660.6 807.7V820.5M658.7 807.7h3.8M658.7 820.5h3.8M665.0 802.0V819.6M663.1 802.0h3.8M663.1 819.6h3.8M669.4 809.5V821.4M667.5 809.5h3.8M667.5 821.4h3.8M673.8 817.0V825.3M671.9 817.0h3.8M671.9 825.3h3.8M678.2 818.7V826.7M676.3 818.7h3.8M676.3 826.7h3.8M682.6 833.3V843.4M680.7 833.3h3.8M680.7 843.4h3.8" stroke="#ea7fa3" stroke-width="1" fill="none"/>
<g fill="#e06a95"><circle cx="404.8" cy="833.7" r="1.15"/><circle cx="409.2" cy="833.3" r="1.15"/><circle cx="413.6" cy="812.1" r="1.15"/><circle cx="418.0" cy="821.4" r="1.15"/><circle cx="422.4" cy="774.6" r="1.15"/><circle cx="426.9" cy="821.4" r="1.15"/><circle cx="435.7" cy="779.9" r="1.15"/><circle cx="440.1" cy="813.0" r="1.15"/><circle cx="444.5" cy="808.1" r="1.15"/><circle cx="448.9" cy="804.6" r="1.15"/><circle cx="457.7" cy="821.8" r="1.15"/><circle cx="466.5" cy="783.0" r="1.15"/><circle cx="471.0" cy="787.0" r="1.15"/><circle cx="475.4" cy="784.8" r="1.15"/><circle cx="484.2" cy="790.9" r="1.15"/><circle cx="488.6" cy="776.4" r="1.15"/><circle cx="493.0" cy="800.6" r="1.15"/><circle cx="501.8" cy="787.0" r="1.15"/><circle cx="506.2" cy="778.6" r="1.15"/><circle cx="515.1" cy="779.0" r="1.15"/><circle cx="519.5" cy="779.9" r="1.15"/><circle cx="523.9" cy="812.1" r="1.15"/><circle cx="532.7" cy="784.8" r="1.15"/><circle cx="537.1" cy="774.6" r="1.15"/><circle cx="541.5" cy="776.8" r="1.15"/><circle cx="545.9" cy="788.7" r="1.15"/><circle cx="550.3" cy="778.1" r="1.15"/><circle cx="554.8" cy="787.0" r="1.15"/><circle cx="559.2" cy="790.5" r="1.15"/><circle cx="568.0" cy="787.4" r="1.15"/><circle cx="572.4" cy="782.1" r="1.15"/><circle cx="576.8" cy="793.1" r="1.15"/><circle cx="581.2" cy="784.8" r="1.15"/><circle cx="598.9" cy="783.0" r="1.15"/><circle cx="603.3" cy="768.0" r="1.15"/><circle cx="607.7" cy="846.1" r="1.15"/><circle cx="612.1" cy="810.8" r="1.15"/><circle cx="616.5" cy="781.2" r="1.15"/><circle cx="625.3" cy="800.2" r="1.15"/><circle cx="629.7" cy="808.6" r="1.15"/><circle cx="638.5" cy="824.9" r="1.15"/><circle cx="643.0" cy="801.5" r="1.15"/><circle cx="651.8" cy="820.0" r="1.15"/><circle cx="660.6" cy="813.9" r="1.15"/><circle cx="665.0" cy="810.8" r="1.15"/><circle cx="669.4" cy="814.8" r="1.15"/><circle cx="673.8" cy="820.9" r="1.15"/><circle cx="678.2" cy="820.9" r="1.15"/><circle cx="682.6" cy="839.0" r="1.15"/></g>
</g>
<path d="M94.4 435.5V448.7" stroke="#3a9f8a" stroke-width="1.4"/><path d="M90.2 446.9L94.4 454.7L98.60000000000001 446.9L94.4 449.09999999999997Z" fill="#3a9f8a"/>
<path d="M264.2 617.5V630" stroke="#3a9f8a" stroke-width="1.4"/><path d="M260.0 628.2L264.2 636L268.4 628.2L264.2 630.4Z" fill="#3a9f8a"/>
<path d="M264.2 765.5V778.3" stroke="#3a9f8a" stroke-width="1.4"/><path d="M260.0 776.5L264.2 784.3L268.4 776.5L264.2 778.6999999999999Z" fill="#3a9f8a"/>
<path d="M275.3 786.4V799.2" stroke="#3a9f8a" stroke-width="1.4"/><path d="M271.1 797.4000000000001L275.3 805.2L279.5 797.4000000000001L275.3 799.6Z" fill="#3a9f8a"/>
<path d="M44.2 426.3H65.8" stroke="#bbb" stroke-width="2"/>
<path d="M105.8 426.2H126.7" stroke="#e87fa0" stroke-width="2"/>
<text x="77.3" y="431.1" font-size="13.5" text-anchor="start" fill="#333" font-weight="normal" >DBD</text>
<text x="138.3" y="431.1" font-size="13.6" text-anchor="start" fill="#333" font-weight="normal" >DBD:DNA=1:0.05</text>
</svg>
</body></html>
